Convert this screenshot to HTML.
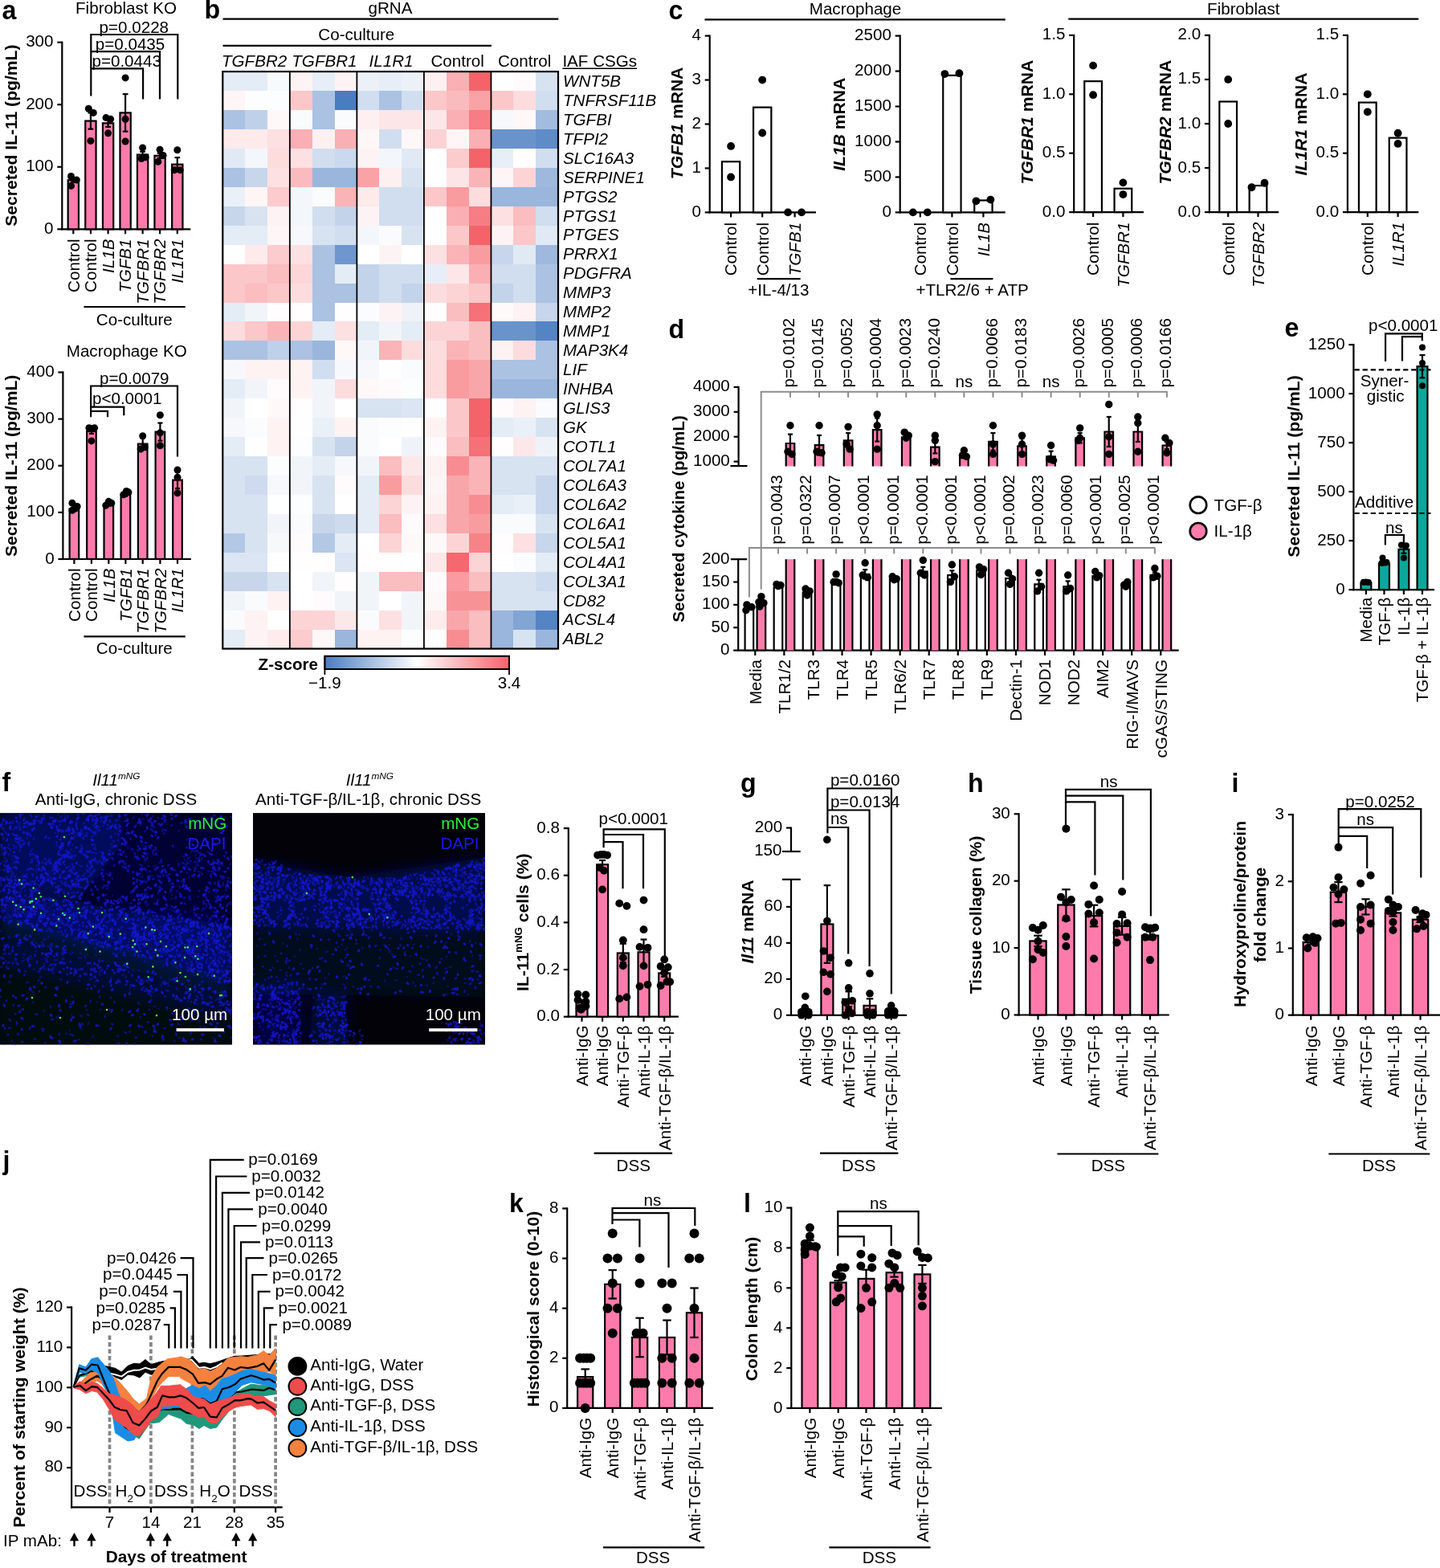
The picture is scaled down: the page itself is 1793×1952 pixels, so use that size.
<!DOCTYPE html>
<html><head><meta charset="utf-8"><style>
html,body{margin:0;padding:0;background:#fff;}
svg{display:block;}
text{font-family:"Liberation Sans", Arial, sans-serif;}
</style></head><body>
<svg width="1793" height="1952" viewBox="0 0 1793 1952" font-family='"Liberation Sans", Arial, sans-serif'>
<rect width="1793" height="1952" fill="#fff"/>
<text transform="translate(2.50,23.90) scale(0.96,1)" font-size="33.5" font-weight="bold">a</text>
<text transform="translate(157.00,16.80) scale(1.03,1)" font-size="20" text-anchor="middle">Fibroblast KO</text>
<line x1="77.30" y1="51.61" x2="77.30" y2="286.40" stroke="#000" stroke-width="2.2" />
<line x1="71.30" y1="285.30" x2="77.30" y2="285.30" stroke="#000" stroke-width="2.2" />
<text transform="translate(66.50,290.80) scale(1.03,1)" font-size="20" text-anchor="end">0</text>
<line x1="71.30" y1="207.77" x2="77.30" y2="207.77" stroke="#000" stroke-width="2.2" />
<text transform="translate(66.50,213.27) scale(1.03,1)" font-size="20" text-anchor="end">100</text>
<line x1="71.30" y1="130.24" x2="77.30" y2="130.24" stroke="#000" stroke-width="2.2" />
<text transform="translate(66.50,135.74) scale(1.03,1)" font-size="20" text-anchor="end">200</text>
<line x1="71.30" y1="52.71" x2="77.30" y2="52.71" stroke="#000" stroke-width="2.2" />
<text transform="translate(66.50,58.21) scale(1.03,1)" font-size="20" text-anchor="end">300</text>
<line x1="76.20" y1="285.30" x2="237.30" y2="285.30" stroke="#000" stroke-width="2.2" />
<rect x="84.65" y="224.28" width="13.30" height="61.02" fill="#fd7bab" stroke="#000" stroke-width="2.2" />
<circle cx="88.50" cy="219.48" r="4.5" fill="#000"/>
<circle cx="95.30" cy="224.05" r="4.5" fill="#000"/>
<circle cx="88.50" cy="231.42" r="4.5" fill="#000"/>
<line x1="91.30" y1="221.96" x2="91.30" y2="226.61" stroke="#000" stroke-width="2.2" />
<line x1="87.90" y1="221.96" x2="94.70" y2="221.96" stroke="#000" stroke-width="2.2" />
<line x1="87.90" y1="226.61" x2="94.70" y2="226.61" stroke="#000" stroke-width="2.2" />
<line x1="91.30" y1="285.30" x2="91.30" y2="291.30" stroke="#000" stroke-width="2.2" />
<rect x="106.25" y="150.55" width="13.30" height="134.75" fill="#fd7bab" stroke="#000" stroke-width="2.2" />
<circle cx="110.30" cy="135.28" r="4.5" fill="#000"/>
<circle cx="116.30" cy="140.40" r="4.5" fill="#000"/>
<circle cx="112.90" cy="175.44" r="4.5" fill="#000"/>
<line x1="112.90" y1="140.47" x2="112.90" y2="160.63" stroke="#000" stroke-width="2.2" />
<line x1="109.50" y1="140.47" x2="116.30" y2="140.47" stroke="#000" stroke-width="2.2" />
<line x1="109.50" y1="160.63" x2="116.30" y2="160.63" stroke="#000" stroke-width="2.2" />
<line x1="112.90" y1="285.30" x2="112.90" y2="291.30" stroke="#000" stroke-width="2.2" />
<rect x="127.95" y="153.34" width="13.30" height="131.96" fill="#fd7bab" stroke="#000" stroke-width="2.2" />
<circle cx="132.00" cy="146.60" r="4.5" fill="#000"/>
<circle cx="137.60" cy="148.23" r="4.5" fill="#000"/>
<circle cx="134.60" cy="165.83" r="4.5" fill="#000"/>
<line x1="134.60" y1="148.69" x2="134.60" y2="158.00" stroke="#000" stroke-width="2.2" />
<line x1="131.20" y1="148.69" x2="138.00" y2="148.69" stroke="#000" stroke-width="2.2" />
<line x1="131.20" y1="158.00" x2="138.00" y2="158.00" stroke="#000" stroke-width="2.2" />
<line x1="134.60" y1="285.30" x2="134.60" y2="291.30" stroke="#000" stroke-width="2.2" />
<rect x="149.45" y="140.40" width="13.30" height="144.90" fill="#fd7bab" stroke="#000" stroke-width="2.2" />
<circle cx="156.10" cy="96.90" r="4.5" fill="#000"/>
<circle cx="156.10" cy="148.23" r="4.5" fill="#000"/>
<circle cx="156.10" cy="175.98" r="4.5" fill="#000"/>
<line x1="156.10" y1="117.14" x2="156.10" y2="163.66" stroke="#000" stroke-width="2.2" />
<line x1="152.70" y1="117.14" x2="159.50" y2="117.14" stroke="#000" stroke-width="2.2" />
<line x1="152.70" y1="163.66" x2="159.50" y2="163.66" stroke="#000" stroke-width="2.2" />
<line x1="156.10" y1="285.30" x2="156.10" y2="291.30" stroke="#000" stroke-width="2.2" />
<rect x="170.95" y="192.57" width="13.30" height="92.73" fill="#fd7bab" stroke="#000" stroke-width="2.2" />
<circle cx="177.60" cy="183.89" r="4.5" fill="#000"/>
<circle cx="176.10" cy="197.54" r="4.5" fill="#000"/>
<circle cx="181.20" cy="195.83" r="4.5" fill="#000"/>
<line x1="177.60" y1="188.70" x2="177.60" y2="196.45" stroke="#000" stroke-width="2.2" />
<line x1="174.20" y1="188.70" x2="181.00" y2="188.70" stroke="#000" stroke-width="2.2" />
<line x1="174.20" y1="196.45" x2="181.00" y2="196.45" stroke="#000" stroke-width="2.2" />
<line x1="177.60" y1="285.30" x2="177.60" y2="291.30" stroke="#000" stroke-width="2.2" />
<rect x="192.45" y="193.81" width="13.30" height="91.49" fill="#fd7bab" stroke="#000" stroke-width="2.2" />
<circle cx="199.10" cy="186.14" r="4.5" fill="#000"/>
<circle cx="203.10" cy="193.50" r="4.5" fill="#000"/>
<circle cx="196.80" cy="201.41" r="4.5" fill="#000"/>
<line x1="199.10" y1="190.71" x2="199.10" y2="196.92" stroke="#000" stroke-width="2.2" />
<line x1="195.70" y1="190.71" x2="202.50" y2="190.71" stroke="#000" stroke-width="2.2" />
<line x1="195.70" y1="196.92" x2="202.50" y2="196.92" stroke="#000" stroke-width="2.2" />
<line x1="199.10" y1="285.30" x2="199.10" y2="291.30" stroke="#000" stroke-width="2.2" />
<rect x="214.15" y="204.67" width="13.30" height="80.63" fill="#fd7bab" stroke="#000" stroke-width="2.2" />
<circle cx="220.80" cy="186.76" r="4.5" fill="#000"/>
<circle cx="217.20" cy="211.65" r="4.5" fill="#000"/>
<circle cx="224.20" cy="211.65" r="4.5" fill="#000"/>
<line x1="220.80" y1="196.14" x2="220.80" y2="213.20" stroke="#000" stroke-width="2.2" />
<line x1="217.40" y1="196.14" x2="224.20" y2="196.14" stroke="#000" stroke-width="2.2" />
<line x1="217.40" y1="213.20" x2="224.20" y2="213.20" stroke="#000" stroke-width="2.2" />
<line x1="220.80" y1="285.30" x2="220.80" y2="291.30" stroke="#000" stroke-width="2.2" />
<text transform="translate(98.60,297.50) rotate(-90) scale(1.03,1)" font-size="20" text-anchor="end">Control</text>
<text transform="translate(120.20,297.50) rotate(-90) scale(1.03,1)" font-size="20" text-anchor="end">Control</text>
<text transform="translate(141.90,297.50) rotate(-90) scale(1.03,1)" font-size="20" text-anchor="end" font-style="italic">IL1B</text>
<text transform="translate(163.40,297.50) rotate(-90) scale(1.03,1)" font-size="20" text-anchor="end" font-style="italic">TGFB1</text>
<text transform="translate(184.90,297.50) rotate(-90) scale(1.03,1)" font-size="20" text-anchor="end" font-style="italic">TGFBR1</text>
<text transform="translate(206.40,297.50) rotate(-90) scale(1.03,1)" font-size="20" text-anchor="end" font-style="italic">TGFBR2</text>
<text transform="translate(228.10,297.50) rotate(-90) scale(1.03,1)" font-size="20" text-anchor="end" font-style="italic">IL1R1</text>
<polyline points="113.30,119.40 113.30,43.00 221.30,43.00 221.30,123.40" fill="none" stroke="#000" stroke-width="2.2" stroke-linejoin="miter" />
<polyline points="113.30,64.10 199.00,64.10 199.00,123.40" fill="none" stroke="#000" stroke-width="2.2" stroke-linejoin="miter" />
<polyline points="113.30,85.40 178.10,85.40 178.10,123.40" fill="none" stroke="#000" stroke-width="2.2" stroke-linejoin="miter" />
<text transform="translate(166.80,40.60) scale(1.03,1)" font-size="20" text-anchor="middle">p=0.0228</text>
<text transform="translate(162.00,61.50) scale(1.03,1)" font-size="20" text-anchor="middle">p=0.0435</text>
<text transform="translate(157.70,82.70) scale(1.03,1)" font-size="20" text-anchor="middle">p=0.0443</text>
<line x1="104.40" y1="382.00" x2="230.70" y2="382.00" stroke="#000" stroke-width="2.2" />
<text transform="translate(167.30,404.60) scale(1.03,1)" font-size="20" text-anchor="middle">Co-culture</text>
<text transform="translate(21.00,168.70) rotate(-90) scale(1.03,1)" font-size="20.5" text-anchor="middle" font-weight="bold">Secreted IL-11 (pg/mL)</text>
<text transform="translate(157.70,443.70) scale(1.03,1)" font-size="20" text-anchor="middle">Macrophage KO</text>
<line x1="78.40" y1="462.38" x2="78.40" y2="697.10" stroke="#000" stroke-width="2.2" />
<line x1="72.40" y1="696.00" x2="78.40" y2="696.00" stroke="#000" stroke-width="2.2" />
<text transform="translate(67.60,701.50) scale(1.03,1)" font-size="20" text-anchor="end">0</text>
<line x1="72.40" y1="637.87" x2="78.40" y2="637.87" stroke="#000" stroke-width="2.2" />
<text transform="translate(67.60,643.37) scale(1.03,1)" font-size="20" text-anchor="end">100</text>
<line x1="72.40" y1="579.74" x2="78.40" y2="579.74" stroke="#000" stroke-width="2.2" />
<text transform="translate(67.60,585.24) scale(1.03,1)" font-size="20" text-anchor="end">200</text>
<line x1="72.40" y1="521.61" x2="78.40" y2="521.61" stroke="#000" stroke-width="2.2" />
<text transform="translate(67.60,527.11) scale(1.03,1)" font-size="20" text-anchor="end">300</text>
<line x1="72.40" y1="463.48" x2="78.40" y2="463.48" stroke="#000" stroke-width="2.2" />
<text transform="translate(67.60,468.98) scale(1.03,1)" font-size="20" text-anchor="end">400</text>
<line x1="77.30" y1="696.00" x2="237.90" y2="696.00" stroke="#000" stroke-width="2.2" />
<rect x="86.60" y="633.51" width="11.60" height="62.49" fill="#fd7bab" stroke="#000" stroke-width="2.2" />
<circle cx="89.90" cy="626.24" r="4.5" fill="#000"/>
<circle cx="96.10" cy="630.49" r="4.5" fill="#000"/>
<circle cx="89.90" cy="635.37" r="4.5" fill="#000"/>
<circle cx="93.40" cy="633.22" r="4.5" fill="#000"/>
<line x1="92.40" y1="631.77" x2="92.40" y2="635.25" stroke="#000" stroke-width="2.2" />
<line x1="89.35" y1="631.77" x2="95.45" y2="631.77" stroke="#000" stroke-width="2.2" />
<line x1="89.35" y1="635.25" x2="95.45" y2="635.25" stroke="#000" stroke-width="2.2" />
<line x1="92.40" y1="696.00" x2="92.40" y2="702.00" stroke="#000" stroke-width="2.2" />
<rect x="108.10" y="537.01" width="11.60" height="158.99" fill="#fd7bab" stroke="#000" stroke-width="2.2" />
<circle cx="110.90" cy="532.71" r="4.5" fill="#000"/>
<circle cx="117.60" cy="532.71" r="4.5" fill="#000"/>
<circle cx="113.90" cy="533.82" r="4.5" fill="#000"/>
<circle cx="113.90" cy="548.93" r="4.5" fill="#000"/>
<line x1="113.90" y1="534.11" x2="113.90" y2="539.92" stroke="#000" stroke-width="2.2" />
<line x1="110.85" y1="534.11" x2="116.95" y2="534.11" stroke="#000" stroke-width="2.2" />
<line x1="110.85" y1="539.92" x2="116.95" y2="539.92" stroke="#000" stroke-width="2.2" />
<line x1="113.90" y1="696.00" x2="113.90" y2="702.00" stroke="#000" stroke-width="2.2" />
<rect x="129.50" y="628.57" width="11.60" height="67.43" fill="#fd7bab" stroke="#000" stroke-width="2.2" />
<circle cx="135.30" cy="624.33" r="4.5" fill="#000"/>
<circle cx="138.80" cy="626.24" r="4.5" fill="#000"/>
<circle cx="131.80" cy="629.15" r="4.5" fill="#000"/>
<line x1="135.30" y1="627.41" x2="135.30" y2="629.73" stroke="#000" stroke-width="2.2" />
<line x1="132.25" y1="627.41" x2="138.35" y2="627.41" stroke="#000" stroke-width="2.2" />
<line x1="132.25" y1="629.73" x2="138.35" y2="629.73" stroke="#000" stroke-width="2.2" />
<line x1="135.30" y1="696.00" x2="135.30" y2="702.00" stroke="#000" stroke-width="2.2" />
<rect x="150.60" y="615.78" width="11.60" height="80.22" fill="#fd7bab" stroke="#000" stroke-width="2.2" />
<circle cx="157.40" cy="611.42" r="4.5" fill="#000"/>
<circle cx="153.90" cy="615.78" r="4.5" fill="#000"/>
<circle cx="159.90" cy="612.87" r="4.5" fill="#000"/>
<line x1="156.40" y1="614.04" x2="156.40" y2="617.52" stroke="#000" stroke-width="2.2" />
<line x1="153.35" y1="614.04" x2="159.45" y2="614.04" stroke="#000" stroke-width="2.2" />
<line x1="153.35" y1="617.52" x2="159.45" y2="617.52" stroke="#000" stroke-width="2.2" />
<line x1="156.40" y1="696.00" x2="156.40" y2="702.00" stroke="#000" stroke-width="2.2" />
<rect x="171.90" y="552.59" width="11.60" height="143.41" fill="#fd7bab" stroke="#000" stroke-width="2.2" />
<circle cx="177.70" cy="542.65" r="4.5" fill="#000"/>
<circle cx="175.20" cy="559.10" r="4.5" fill="#000"/>
<circle cx="180.20" cy="556.72" r="4.5" fill="#000"/>
<line x1="177.70" y1="545.62" x2="177.70" y2="559.57" stroke="#000" stroke-width="2.2" />
<line x1="174.65" y1="545.62" x2="180.75" y2="545.62" stroke="#000" stroke-width="2.2" />
<line x1="174.65" y1="559.57" x2="180.75" y2="559.57" stroke="#000" stroke-width="2.2" />
<line x1="177.70" y1="696.00" x2="177.70" y2="702.00" stroke="#000" stroke-width="2.2" />
<rect x="193.60" y="537.60" width="11.60" height="158.40" fill="#fd7bab" stroke="#000" stroke-width="2.2" />
<circle cx="199.40" cy="516.73" r="4.5" fill="#000"/>
<circle cx="199.40" cy="538.87" r="4.5" fill="#000"/>
<circle cx="199.40" cy="554.74" r="4.5" fill="#000"/>
<line x1="199.40" y1="526.55" x2="199.40" y2="548.64" stroke="#000" stroke-width="2.2" />
<line x1="196.35" y1="526.55" x2="202.45" y2="526.55" stroke="#000" stroke-width="2.2" />
<line x1="196.35" y1="548.64" x2="202.45" y2="548.64" stroke="#000" stroke-width="2.2" />
<line x1="199.40" y1="696.00" x2="199.40" y2="702.00" stroke="#000" stroke-width="2.2" />
<rect x="215.20" y="597.59" width="11.60" height="98.41" fill="#fd7bab" stroke="#000" stroke-width="2.2" />
<circle cx="221.00" cy="584.97" r="4.5" fill="#000"/>
<circle cx="221.00" cy="594.16" r="4.5" fill="#000"/>
<circle cx="221.00" cy="613.86" r="4.5" fill="#000"/>
<line x1="221.00" y1="587.12" x2="221.00" y2="608.05" stroke="#000" stroke-width="2.2" />
<line x1="217.95" y1="587.12" x2="224.05" y2="587.12" stroke="#000" stroke-width="2.2" />
<line x1="217.95" y1="608.05" x2="224.05" y2="608.05" stroke="#000" stroke-width="2.2" />
<line x1="221.00" y1="696.00" x2="221.00" y2="702.00" stroke="#000" stroke-width="2.2" />
<text transform="translate(99.70,707.50) rotate(-90) scale(1.03,1)" font-size="20" text-anchor="end">Control</text>
<text transform="translate(121.20,707.50) rotate(-90) scale(1.03,1)" font-size="20" text-anchor="end">Control</text>
<text transform="translate(142.60,707.50) rotate(-90) scale(1.03,1)" font-size="20" text-anchor="end" font-style="italic">IL1B</text>
<text transform="translate(163.70,707.50) rotate(-90) scale(1.03,1)" font-size="20" text-anchor="end" font-style="italic">TGFB1</text>
<text transform="translate(185.00,707.50) rotate(-90) scale(1.03,1)" font-size="20" text-anchor="end" font-style="italic">TGFBR1</text>
<text transform="translate(206.70,707.50) rotate(-90) scale(1.03,1)" font-size="20" text-anchor="end" font-style="italic">TGFBR2</text>
<text transform="translate(228.30,707.50) rotate(-90) scale(1.03,1)" font-size="20" text-anchor="end" font-style="italic">IL1R1</text>
<polyline points="113.10,519.20 113.10,480.50 221.00,480.50 221.00,568.40" fill="none" stroke="#000" stroke-width="2.2" stroke-linejoin="miter" />
<polyline points="113.10,506.60 154.30,506.60 154.30,517.30" fill="none" stroke="#000" stroke-width="2.2" stroke-linejoin="miter" />
<polyline points="113.10,511.80 134.00,511.80 134.00,519.20" fill="none" stroke="#000" stroke-width="2.2" stroke-linejoin="miter" />
<text transform="translate(167.30,477.70) scale(1.03,1)" font-size="20" text-anchor="middle">p=0.0079</text>
<text transform="translate(158.20,503.00) scale(1.03,1)" font-size="20" text-anchor="middle">p&lt;0.0001</text>
<line x1="104.40" y1="792.40" x2="230.70" y2="792.40" stroke="#000" stroke-width="2.2" />
<text transform="translate(167.30,813.90) scale(1.03,1)" font-size="20" text-anchor="middle">Co-culture</text>
<text transform="translate(21.00,579.80) rotate(-90) scale(1.03,1)" font-size="20.5" text-anchor="middle" font-weight="bold">Secreted IL-11 (pg/mL)</text>
<text transform="translate(254.50,23.40) scale(0.96,1)" font-size="33.5" font-weight="bold">b</text>
<text transform="translate(486.00,17.20) scale(1.03,1)" font-size="20" text-anchor="middle">gRNA</text>
<line x1="277.50" y1="23.60" x2="695.30" y2="23.60" stroke="#000" stroke-width="2.2" />
<text transform="translate(443.80,50.00) scale(1.03,1)" font-size="20" text-anchor="middle">Co-culture</text>
<line x1="277.50" y1="56.90" x2="611.90" y2="56.90" stroke="#000" stroke-width="2.2" />
<text transform="translate(316.60,82.70) scale(1.03,1)" font-size="20" text-anchor="middle" font-style="italic">TGFBR2</text>
<text transform="translate(403.90,82.70) scale(1.03,1)" font-size="20" text-anchor="middle" font-style="italic">TGFBR1</text>
<text transform="translate(487.00,82.70) scale(1.03,1)" font-size="20" text-anchor="middle" font-style="italic">IL1R1</text>
<text transform="translate(569.70,82.70) scale(1.03,1)" font-size="20" text-anchor="middle">Control</text>
<text transform="translate(653.10,82.70) scale(1.03,1)" font-size="20" text-anchor="middle">Control</text>
<text transform="translate(700.40,82.70) scale(1.03,1)" font-size="20">IAF CSGs</text>
<line x1="700.40" y1="85.30" x2="793.00" y2="85.30" stroke="#000" stroke-width="1.6" />
<g shape-rendering="crispEdges">
<rect x="277.30" y="89.10" width="28.45" height="24.55" fill="#e4ecf6"/>
<rect x="305.15" y="89.10" width="28.45" height="24.55" fill="#e4ecf6"/>
<rect x="332.99" y="89.10" width="28.45" height="24.55" fill="#f7fafc"/>
<rect x="360.84" y="89.10" width="28.45" height="24.55" fill="#fef3f4"/>
<rect x="388.69" y="89.10" width="28.45" height="24.55" fill="#e7eef7"/>
<rect x="416.53" y="89.10" width="28.45" height="24.55" fill="#fef3f4"/>
<rect x="444.38" y="89.10" width="28.45" height="24.55" fill="#ecf1f8"/>
<rect x="472.23" y="89.10" width="28.45" height="24.55" fill="#e7eef7"/>
<rect x="500.07" y="89.10" width="28.45" height="24.55" fill="#ecf1f8"/>
<rect x="527.92" y="89.10" width="28.45" height="24.55" fill="#fef0f1"/>
<rect x="555.77" y="89.10" width="28.45" height="24.55" fill="#f9afb3"/>
<rect x="583.61" y="89.10" width="28.45" height="24.55" fill="#f4636a"/>
<rect x="611.46" y="89.10" width="28.45" height="24.55" fill="#ffffff"/>
<rect x="639.31" y="89.10" width="28.45" height="24.55" fill="#fffbfc"/>
<rect x="667.15" y="89.10" width="28.45" height="24.55" fill="#d8e3f1"/>
<rect x="277.30" y="113.05" width="28.45" height="24.55" fill="#fef5f6"/>
<rect x="305.15" y="113.05" width="28.45" height="24.55" fill="#fcfdfe"/>
<rect x="332.99" y="113.05" width="28.45" height="24.55" fill="#fcfdfe"/>
<rect x="360.84" y="113.05" width="28.45" height="24.55" fill="#fbc7c9"/>
<rect x="388.69" y="113.05" width="28.45" height="24.55" fill="#abc2e2"/>
<rect x="416.53" y="113.05" width="28.45" height="24.55" fill="#4a7cc0"/>
<rect x="444.38" y="113.05" width="28.45" height="24.55" fill="#d1deef"/>
<rect x="472.23" y="113.05" width="28.45" height="24.55" fill="#abc2e2"/>
<rect x="500.07" y="113.05" width="28.45" height="24.55" fill="#d1deef"/>
<rect x="527.92" y="113.05" width="28.45" height="24.55" fill="#fbc7c9"/>
<rect x="555.77" y="113.05" width="28.45" height="24.55" fill="#fabbbe"/>
<rect x="583.61" y="113.05" width="28.45" height="24.55" fill="#f9a3a7"/>
<rect x="611.46" y="113.05" width="28.45" height="24.55" fill="#fbc7c9"/>
<rect x="639.31" y="113.05" width="28.45" height="24.55" fill="#fddcde"/>
<rect x="667.15" y="113.05" width="28.45" height="24.55" fill="#d1deef"/>
<rect x="277.30" y="137.00" width="28.45" height="24.55" fill="#abc2e2"/>
<rect x="305.15" y="137.00" width="28.45" height="24.55" fill="#bfd1e9"/>
<rect x="332.99" y="137.00" width="28.45" height="24.55" fill="#fff8f9"/>
<rect x="360.84" y="137.00" width="28.45" height="24.55" fill="#f9fbfd"/>
<rect x="388.69" y="137.00" width="28.45" height="24.55" fill="#abc2e2"/>
<rect x="416.53" y="137.00" width="28.45" height="24.55" fill="#f9fbfd"/>
<rect x="444.38" y="137.00" width="28.45" height="24.55" fill="#fef0f1"/>
<rect x="472.23" y="137.00" width="28.45" height="24.55" fill="#fde6e8"/>
<rect x="500.07" y="137.00" width="28.45" height="24.55" fill="#fde6e8"/>
<rect x="527.92" y="137.00" width="28.45" height="24.55" fill="#fde6e8"/>
<rect x="555.77" y="137.00" width="28.45" height="24.55" fill="#f9afb3"/>
<rect x="583.61" y="137.00" width="28.45" height="24.55" fill="#f67d83"/>
<rect x="611.46" y="137.00" width="28.45" height="24.55" fill="#f6f8fc"/>
<rect x="639.31" y="137.00" width="28.45" height="24.55" fill="#fff8f9"/>
<rect x="667.15" y="137.00" width="28.45" height="24.55" fill="#a2bcdf"/>
<rect x="277.30" y="160.95" width="28.45" height="24.55" fill="#feeaeb"/>
<rect x="305.15" y="160.95" width="28.45" height="24.55" fill="#feeaeb"/>
<rect x="332.99" y="160.95" width="28.45" height="24.55" fill="#fde0e2"/>
<rect x="360.84" y="160.95" width="28.45" height="24.55" fill="#f9afb3"/>
<rect x="388.69" y="160.95" width="28.45" height="24.55" fill="#fef0f1"/>
<rect x="416.53" y="160.95" width="28.45" height="24.55" fill="#f9afb3"/>
<rect x="444.38" y="160.95" width="28.45" height="24.55" fill="#fef7f7"/>
<rect x="472.23" y="160.95" width="28.45" height="24.55" fill="#d1deef"/>
<rect x="500.07" y="160.95" width="28.45" height="24.55" fill="#fef7f7"/>
<rect x="527.92" y="160.95" width="28.45" height="24.55" fill="#fcd2d4"/>
<rect x="555.77" y="160.95" width="28.45" height="24.55" fill="#fef5f6"/>
<rect x="583.61" y="160.95" width="28.45" height="24.55" fill="#f9afb3"/>
<rect x="611.46" y="160.95" width="28.45" height="24.55" fill="#6a93cb"/>
<rect x="639.31" y="160.95" width="28.45" height="24.55" fill="#6a93cb"/>
<rect x="667.15" y="160.95" width="28.45" height="24.55" fill="#5f8bc7"/>
<rect x="277.30" y="184.90" width="28.45" height="24.55" fill="#e1e9f5"/>
<rect x="305.15" y="184.90" width="28.45" height="24.55" fill="#f3f7fb"/>
<rect x="332.99" y="184.90" width="28.45" height="24.55" fill="#fddcde"/>
<rect x="360.84" y="184.90" width="28.45" height="24.55" fill="#fde0e2"/>
<rect x="388.69" y="184.90" width="28.45" height="24.55" fill="#d1deef"/>
<rect x="416.53" y="184.90" width="28.45" height="24.55" fill="#cad9ed"/>
<rect x="444.38" y="184.90" width="28.45" height="24.55" fill="#fef3f4"/>
<rect x="472.23" y="184.90" width="28.45" height="24.55" fill="#f3f7fb"/>
<rect x="500.07" y="184.90" width="28.45" height="24.55" fill="#e1e9f5"/>
<rect x="527.92" y="184.90" width="28.45" height="24.55" fill="#ffffff"/>
<rect x="555.77" y="184.90" width="28.45" height="24.55" fill="#fbcbcd"/>
<rect x="583.61" y="184.90" width="28.45" height="24.55" fill="#f4636a"/>
<rect x="611.46" y="184.90" width="28.45" height="24.55" fill="#e7eef7"/>
<rect x="639.31" y="184.90" width="28.45" height="24.55" fill="#fffdfd"/>
<rect x="667.15" y="184.90" width="28.45" height="24.55" fill="#d1deef"/>
<rect x="277.30" y="208.85" width="28.45" height="24.55" fill="#abc2e2"/>
<rect x="305.15" y="208.85" width="28.45" height="24.55" fill="#c7d6eb"/>
<rect x="332.99" y="208.85" width="28.45" height="24.55" fill="#fde0e2"/>
<rect x="360.84" y="208.85" width="28.45" height="24.55" fill="#fabbbe"/>
<rect x="388.69" y="208.85" width="28.45" height="24.55" fill="#9ab6dc"/>
<rect x="416.53" y="208.85" width="28.45" height="24.55" fill="#9ab6dc"/>
<rect x="444.38" y="208.85" width="28.45" height="24.55" fill="#f9a3a7"/>
<rect x="472.23" y="208.85" width="28.45" height="24.55" fill="#fef0f1"/>
<rect x="500.07" y="208.85" width="28.45" height="24.55" fill="#d8e3f1"/>
<rect x="527.92" y="208.85" width="28.45" height="24.55" fill="#ffffff"/>
<rect x="555.77" y="208.85" width="28.45" height="24.55" fill="#fde4e6"/>
<rect x="583.61" y="208.85" width="28.45" height="24.55" fill="#fab4b7"/>
<rect x="611.46" y="208.85" width="28.45" height="24.55" fill="#fef5f6"/>
<rect x="639.31" y="208.85" width="28.45" height="24.55" fill="#fcd4d6"/>
<rect x="667.15" y="208.85" width="28.45" height="24.55" fill="#9eb9dd"/>
<rect x="277.30" y="232.80" width="28.45" height="24.55" fill="#eaf0f8"/>
<rect x="305.15" y="232.80" width="28.45" height="24.55" fill="#fef5f6"/>
<rect x="332.99" y="232.80" width="28.45" height="24.55" fill="#fbcbcd"/>
<rect x="360.84" y="232.80" width="28.45" height="24.55" fill="#f3f7fb"/>
<rect x="388.69" y="232.80" width="28.45" height="24.55" fill="#f9fbfd"/>
<rect x="416.53" y="232.80" width="28.45" height="24.55" fill="#fab4b7"/>
<rect x="444.38" y="232.80" width="28.45" height="24.55" fill="#feeaeb"/>
<rect x="472.23" y="232.80" width="28.45" height="24.55" fill="#d1deef"/>
<rect x="500.07" y="232.80" width="28.45" height="24.55" fill="#d1deef"/>
<rect x="527.92" y="232.80" width="28.45" height="24.55" fill="#fbc7c9"/>
<rect x="555.77" y="232.80" width="28.45" height="24.55" fill="#f89ca0"/>
<rect x="583.61" y="232.80" width="28.45" height="24.55" fill="#fddcde"/>
<rect x="611.46" y="232.80" width="28.45" height="24.55" fill="#9ab6dc"/>
<rect x="639.31" y="232.80" width="28.45" height="24.55" fill="#9ab6dc"/>
<rect x="667.15" y="232.80" width="28.45" height="24.55" fill="#9ab6dc"/>
<rect x="277.30" y="256.75" width="28.45" height="24.55" fill="#c7d6eb"/>
<rect x="305.15" y="256.75" width="28.45" height="24.55" fill="#d8e3f1"/>
<rect x="332.99" y="256.75" width="28.45" height="24.55" fill="#fef3f4"/>
<rect x="360.84" y="256.75" width="28.45" height="24.55" fill="#f3f7fb"/>
<rect x="388.69" y="256.75" width="28.45" height="24.55" fill="#d1deef"/>
<rect x="416.53" y="256.75" width="28.45" height="24.55" fill="#c3d3ea"/>
<rect x="444.38" y="256.75" width="28.45" height="24.55" fill="#fef3f4"/>
<rect x="472.23" y="256.75" width="28.45" height="24.55" fill="#d1deef"/>
<rect x="500.07" y="256.75" width="28.45" height="24.55" fill="#d1deef"/>
<rect x="527.92" y="256.75" width="28.45" height="24.55" fill="#ffffff"/>
<rect x="555.77" y="256.75" width="28.45" height="24.55" fill="#f9afb3"/>
<rect x="583.61" y="256.75" width="28.45" height="24.55" fill="#f67d83"/>
<rect x="611.46" y="256.75" width="28.45" height="24.55" fill="#fde0e2"/>
<rect x="639.31" y="256.75" width="28.45" height="24.55" fill="#fabdc0"/>
<rect x="667.15" y="256.75" width="28.45" height="24.55" fill="#d1deef"/>
<rect x="277.30" y="280.70" width="28.45" height="24.55" fill="#e4ecf6"/>
<rect x="305.15" y="280.70" width="28.45" height="24.55" fill="#e4ecf6"/>
<rect x="332.99" y="280.70" width="28.45" height="24.55" fill="#fef5f6"/>
<rect x="360.84" y="280.70" width="28.45" height="24.55" fill="#f6f8fc"/>
<rect x="388.69" y="280.70" width="28.45" height="24.55" fill="#d8e3f1"/>
<rect x="416.53" y="280.70" width="28.45" height="24.55" fill="#d1deef"/>
<rect x="444.38" y="280.70" width="28.45" height="24.55" fill="#f3f7fb"/>
<rect x="472.23" y="280.70" width="28.45" height="24.55" fill="#f9fbfd"/>
<rect x="500.07" y="280.70" width="28.45" height="24.55" fill="#d8e3f1"/>
<rect x="527.92" y="280.70" width="28.45" height="24.55" fill="#ffffff"/>
<rect x="555.77" y="280.70" width="28.45" height="24.55" fill="#fbc7c9"/>
<rect x="583.61" y="280.70" width="28.45" height="24.55" fill="#f4636a"/>
<rect x="611.46" y="280.70" width="28.45" height="24.55" fill="#fef3f4"/>
<rect x="639.31" y="280.70" width="28.45" height="24.55" fill="#fbc7c9"/>
<rect x="667.15" y="280.70" width="28.45" height="24.55" fill="#e1e9f5"/>
<rect x="277.30" y="304.65" width="28.45" height="24.55" fill="#fefefe"/>
<rect x="305.15" y="304.65" width="28.45" height="24.55" fill="#feeaeb"/>
<rect x="332.99" y="304.65" width="28.45" height="24.55" fill="#fbcbcd"/>
<rect x="360.84" y="304.65" width="28.45" height="24.55" fill="#fde0e2"/>
<rect x="388.69" y="304.65" width="28.45" height="24.55" fill="#abc2e2"/>
<rect x="416.53" y="304.65" width="28.45" height="24.55" fill="#6f97cd"/>
<rect x="444.38" y="304.65" width="28.45" height="24.55" fill="#ffffff"/>
<rect x="472.23" y="304.65" width="28.45" height="24.55" fill="#fef3f4"/>
<rect x="500.07" y="304.65" width="28.45" height="24.55" fill="#ffffff"/>
<rect x="527.92" y="304.65" width="28.45" height="24.55" fill="#fde0e2"/>
<rect x="555.77" y="304.65" width="28.45" height="24.55" fill="#fab4b7"/>
<rect x="583.61" y="304.65" width="28.45" height="24.55" fill="#f89ca0"/>
<rect x="611.46" y="304.65" width="28.45" height="24.55" fill="#c7d6eb"/>
<rect x="639.31" y="304.65" width="28.45" height="24.55" fill="#e1e9f5"/>
<rect x="667.15" y="304.65" width="28.45" height="24.55" fill="#9eb9dd"/>
<rect x="277.30" y="328.60" width="28.45" height="24.55" fill="#fbc7c9"/>
<rect x="305.15" y="328.60" width="28.45" height="24.55" fill="#fbc7c9"/>
<rect x="332.99" y="328.60" width="28.45" height="24.55" fill="#fabdc0"/>
<rect x="360.84" y="328.60" width="28.45" height="24.55" fill="#fcd6d8"/>
<rect x="388.69" y="328.60" width="28.45" height="24.55" fill="#abc2e2"/>
<rect x="416.53" y="328.60" width="28.45" height="24.55" fill="#e4ecf6"/>
<rect x="444.38" y="328.60" width="28.45" height="24.55" fill="#c3d3ea"/>
<rect x="472.23" y="328.60" width="28.45" height="24.55" fill="#d1deef"/>
<rect x="500.07" y="328.60" width="28.45" height="24.55" fill="#d1deef"/>
<rect x="527.92" y="328.60" width="28.45" height="24.55" fill="#e7eef7"/>
<rect x="555.77" y="328.60" width="28.45" height="24.55" fill="#fde6e8"/>
<rect x="583.61" y="328.60" width="28.45" height="24.55" fill="#f9afb3"/>
<rect x="611.46" y="328.60" width="28.45" height="24.55" fill="#d1deef"/>
<rect x="639.31" y="328.60" width="28.45" height="24.55" fill="#d1deef"/>
<rect x="667.15" y="328.60" width="28.45" height="24.55" fill="#abc2e2"/>
<rect x="277.30" y="352.55" width="28.45" height="24.55" fill="#fbc7c9"/>
<rect x="305.15" y="352.55" width="28.45" height="24.55" fill="#fabdc0"/>
<rect x="332.99" y="352.55" width="28.45" height="24.55" fill="#fbc7c9"/>
<rect x="360.84" y="352.55" width="28.45" height="24.55" fill="#fddcde"/>
<rect x="388.69" y="352.55" width="28.45" height="24.55" fill="#abc2e2"/>
<rect x="416.53" y="352.55" width="28.45" height="24.55" fill="#abc2e2"/>
<rect x="444.38" y="352.55" width="28.45" height="24.55" fill="#c3d3ea"/>
<rect x="472.23" y="352.55" width="28.45" height="24.55" fill="#d1deef"/>
<rect x="500.07" y="352.55" width="28.45" height="24.55" fill="#c3d3ea"/>
<rect x="527.92" y="352.55" width="28.45" height="24.55" fill="#fddcde"/>
<rect x="555.77" y="352.55" width="28.45" height="24.55" fill="#fcd4d6"/>
<rect x="583.61" y="352.55" width="28.45" height="24.55" fill="#fbc7c9"/>
<rect x="611.46" y="352.55" width="28.45" height="24.55" fill="#c3d3ea"/>
<rect x="639.31" y="352.55" width="28.45" height="24.55" fill="#d1deef"/>
<rect x="667.15" y="352.55" width="28.45" height="24.55" fill="#abc2e2"/>
<rect x="277.30" y="376.50" width="28.45" height="24.55" fill="#e4ecf6"/>
<rect x="305.15" y="376.50" width="28.45" height="24.55" fill="#f1f5fa"/>
<rect x="332.99" y="376.50" width="28.45" height="24.55" fill="#fffdfd"/>
<rect x="360.84" y="376.50" width="28.45" height="24.55" fill="#fffdfd"/>
<rect x="388.69" y="376.50" width="28.45" height="24.55" fill="#abc2e2"/>
<rect x="416.53" y="376.50" width="28.45" height="24.55" fill="#fffefe"/>
<rect x="444.38" y="376.50" width="28.45" height="24.55" fill="#fbfcfe"/>
<rect x="472.23" y="376.50" width="28.45" height="24.55" fill="#fef3f4"/>
<rect x="500.07" y="376.50" width="28.45" height="24.55" fill="#eff3f9"/>
<rect x="527.92" y="376.50" width="28.45" height="24.55" fill="#fffefe"/>
<rect x="555.77" y="376.50" width="28.45" height="24.55" fill="#fabdc0"/>
<rect x="583.61" y="376.50" width="28.45" height="24.55" fill="#f57077"/>
<rect x="611.46" y="376.50" width="28.45" height="24.55" fill="#fffafa"/>
<rect x="639.31" y="376.50" width="28.45" height="24.55" fill="#fef2f2"/>
<rect x="667.15" y="376.50" width="28.45" height="24.55" fill="#c7d6eb"/>
<rect x="277.30" y="400.45" width="28.45" height="24.55" fill="#fddcde"/>
<rect x="305.15" y="400.45" width="28.45" height="24.55" fill="#fbc7c9"/>
<rect x="332.99" y="400.45" width="28.45" height="24.55" fill="#fab4b7"/>
<rect x="360.84" y="400.45" width="28.45" height="24.55" fill="#fcd4d6"/>
<rect x="388.69" y="400.45" width="28.45" height="24.55" fill="#e4ecf6"/>
<rect x="416.53" y="400.45" width="28.45" height="24.55" fill="#fde0e2"/>
<rect x="444.38" y="400.45" width="28.45" height="24.55" fill="#e4ecf6"/>
<rect x="472.23" y="400.45" width="28.45" height="24.55" fill="#f1f5fa"/>
<rect x="500.07" y="400.45" width="28.45" height="24.55" fill="#e4ecf6"/>
<rect x="527.92" y="400.45" width="28.45" height="24.55" fill="#fcd4d6"/>
<rect x="555.77" y="400.45" width="28.45" height="24.55" fill="#fcd4d6"/>
<rect x="583.61" y="400.45" width="28.45" height="24.55" fill="#fabdc0"/>
<rect x="611.46" y="400.45" width="28.45" height="24.55" fill="#6a93cb"/>
<rect x="639.31" y="400.45" width="28.45" height="24.55" fill="#6a93cb"/>
<rect x="667.15" y="400.45" width="28.45" height="24.55" fill="#5584c4"/>
<rect x="277.30" y="424.40" width="28.45" height="24.55" fill="#abc2e2"/>
<rect x="305.15" y="424.40" width="28.45" height="24.55" fill="#abc2e2"/>
<rect x="332.99" y="424.40" width="28.45" height="24.55" fill="#bfd1e9"/>
<rect x="360.84" y="424.40" width="28.45" height="24.55" fill="#abc2e2"/>
<rect x="388.69" y="424.40" width="28.45" height="24.55" fill="#9ab6dc"/>
<rect x="416.53" y="424.40" width="28.45" height="24.55" fill="#fff8f9"/>
<rect x="444.38" y="424.40" width="28.45" height="24.55" fill="#f1f5fa"/>
<rect x="472.23" y="424.40" width="28.45" height="24.55" fill="#fab4b7"/>
<rect x="500.07" y="424.40" width="28.45" height="24.55" fill="#fddcde"/>
<rect x="527.92" y="424.40" width="28.45" height="24.55" fill="#fddcde"/>
<rect x="555.77" y="424.40" width="28.45" height="24.55" fill="#fab4b7"/>
<rect x="583.61" y="424.40" width="28.45" height="24.55" fill="#fabdc0"/>
<rect x="611.46" y="424.40" width="28.45" height="24.55" fill="#fef2f2"/>
<rect x="639.31" y="424.40" width="28.45" height="24.55" fill="#fddcde"/>
<rect x="667.15" y="424.40" width="28.45" height="24.55" fill="#abc2e2"/>
<rect x="277.30" y="448.35" width="28.45" height="24.55" fill="#f6f8fc"/>
<rect x="305.15" y="448.35" width="28.45" height="24.55" fill="#fef2f2"/>
<rect x="332.99" y="448.35" width="28.45" height="24.55" fill="#fef2f2"/>
<rect x="360.84" y="448.35" width="28.45" height="24.55" fill="#fef2f2"/>
<rect x="388.69" y="448.35" width="28.45" height="24.55" fill="#d1deef"/>
<rect x="416.53" y="448.35" width="28.45" height="24.55" fill="#f6f8fc"/>
<rect x="444.38" y="448.35" width="28.45" height="24.55" fill="#f6f8fc"/>
<rect x="472.23" y="448.35" width="28.45" height="24.55" fill="#fffefe"/>
<rect x="500.07" y="448.35" width="28.45" height="24.55" fill="#f9fbfd"/>
<rect x="527.92" y="448.35" width="28.45" height="24.55" fill="#fddcde"/>
<rect x="555.77" y="448.35" width="28.45" height="24.55" fill="#f89ca0"/>
<rect x="583.61" y="448.35" width="28.45" height="24.55" fill="#f9a6aa"/>
<rect x="611.46" y="448.35" width="28.45" height="24.55" fill="#abc2e2"/>
<rect x="639.31" y="448.35" width="28.45" height="24.55" fill="#abc2e2"/>
<rect x="667.15" y="448.35" width="28.45" height="24.55" fill="#abc2e2"/>
<rect x="277.30" y="472.30" width="28.45" height="24.55" fill="#e4ecf6"/>
<rect x="305.15" y="472.30" width="28.45" height="24.55" fill="#f1f5fa"/>
<rect x="332.99" y="472.30" width="28.45" height="24.55" fill="#fffbfc"/>
<rect x="360.84" y="472.30" width="28.45" height="24.55" fill="#fef2f2"/>
<rect x="388.69" y="472.30" width="28.45" height="24.55" fill="#f1f5fa"/>
<rect x="416.53" y="472.30" width="28.45" height="24.55" fill="#fddcde"/>
<rect x="444.38" y="472.30" width="28.45" height="24.55" fill="#fff8f9"/>
<rect x="472.23" y="472.30" width="28.45" height="24.55" fill="#fffbfc"/>
<rect x="500.07" y="472.30" width="28.45" height="24.55" fill="#fcfdfe"/>
<rect x="527.92" y="472.30" width="28.45" height="24.55" fill="#fddcde"/>
<rect x="555.77" y="472.30" width="28.45" height="24.55" fill="#f89ca0"/>
<rect x="583.61" y="472.30" width="28.45" height="24.55" fill="#f9a6aa"/>
<rect x="611.46" y="472.30" width="28.45" height="24.55" fill="#9ab6dc"/>
<rect x="639.31" y="472.30" width="28.45" height="24.55" fill="#9ab6dc"/>
<rect x="667.15" y="472.30" width="28.45" height="24.55" fill="#9ab6dc"/>
<rect x="277.30" y="496.25" width="28.45" height="24.55" fill="#f1f5fa"/>
<rect x="305.15" y="496.25" width="28.45" height="24.55" fill="#feffff"/>
<rect x="332.99" y="496.25" width="28.45" height="24.55" fill="#fff8f9"/>
<rect x="360.84" y="496.25" width="28.45" height="24.55" fill="#fffefe"/>
<rect x="388.69" y="496.25" width="28.45" height="24.55" fill="#f1f5fa"/>
<rect x="416.53" y="496.25" width="28.45" height="24.55" fill="#ffffff"/>
<rect x="444.38" y="496.25" width="28.45" height="24.55" fill="#d8e3f1"/>
<rect x="472.23" y="496.25" width="28.45" height="24.55" fill="#d8e3f1"/>
<rect x="500.07" y="496.25" width="28.45" height="24.55" fill="#dbe5f3"/>
<rect x="527.92" y="496.25" width="28.45" height="24.55" fill="#ffffff"/>
<rect x="555.77" y="496.25" width="28.45" height="24.55" fill="#fbc7c9"/>
<rect x="583.61" y="496.25" width="28.45" height="24.55" fill="#f4636a"/>
<rect x="611.46" y="496.25" width="28.45" height="24.55" fill="#fffbfc"/>
<rect x="639.31" y="496.25" width="28.45" height="24.55" fill="#fef2f2"/>
<rect x="667.15" y="496.25" width="28.45" height="24.55" fill="#f9fbfd"/>
<rect x="277.30" y="520.20" width="28.45" height="24.55" fill="#f6f8fc"/>
<rect x="305.15" y="520.20" width="28.45" height="24.55" fill="#fbfcfe"/>
<rect x="332.99" y="520.20" width="28.45" height="24.55" fill="#fef2f2"/>
<rect x="360.84" y="520.20" width="28.45" height="24.55" fill="#fffefe"/>
<rect x="388.69" y="520.20" width="28.45" height="24.55" fill="#eaf0f8"/>
<rect x="416.53" y="520.20" width="28.45" height="24.55" fill="#fef2f2"/>
<rect x="444.38" y="520.20" width="28.45" height="24.55" fill="#f9fbfd"/>
<rect x="472.23" y="520.20" width="28.45" height="24.55" fill="#fcfdfe"/>
<rect x="500.07" y="520.20" width="28.45" height="24.55" fill="#ffffff"/>
<rect x="527.92" y="520.20" width="28.45" height="24.55" fill="#fef2f2"/>
<rect x="555.77" y="520.20" width="28.45" height="24.55" fill="#fbc7c9"/>
<rect x="583.61" y="520.20" width="28.45" height="24.55" fill="#f4636a"/>
<rect x="611.46" y="520.20" width="28.45" height="24.55" fill="#e4ecf6"/>
<rect x="639.31" y="520.20" width="28.45" height="24.55" fill="#eaf0f8"/>
<rect x="667.15" y="520.20" width="28.45" height="24.55" fill="#d8e3f1"/>
<rect x="277.30" y="544.15" width="28.45" height="24.55" fill="#e4ecf6"/>
<rect x="305.15" y="544.15" width="28.45" height="24.55" fill="#fffefe"/>
<rect x="332.99" y="544.15" width="28.45" height="24.55" fill="#fef2f2"/>
<rect x="360.84" y="544.15" width="28.45" height="24.55" fill="#fcfdfe"/>
<rect x="388.69" y="544.15" width="28.45" height="24.55" fill="#d8e3f1"/>
<rect x="416.53" y="544.15" width="28.45" height="24.55" fill="#c3d3ea"/>
<rect x="444.38" y="544.15" width="28.45" height="24.55" fill="#f9fbfd"/>
<rect x="472.23" y="544.15" width="28.45" height="24.55" fill="#ffffff"/>
<rect x="500.07" y="544.15" width="28.45" height="24.55" fill="#eff3f9"/>
<rect x="527.92" y="544.15" width="28.45" height="24.55" fill="#fffbfc"/>
<rect x="555.77" y="544.15" width="28.45" height="24.55" fill="#fabdc0"/>
<rect x="583.61" y="544.15" width="28.45" height="24.55" fill="#f57077"/>
<rect x="611.46" y="544.15" width="28.45" height="24.55" fill="#fffdfd"/>
<rect x="639.31" y="544.15" width="28.45" height="24.55" fill="#fde8e9"/>
<rect x="667.15" y="544.15" width="28.45" height="24.55" fill="#eff3f9"/>
<rect x="277.30" y="568.10" width="28.45" height="24.55" fill="#d8e3f1"/>
<rect x="305.15" y="568.10" width="28.45" height="24.55" fill="#d8e3f1"/>
<rect x="332.99" y="568.10" width="28.45" height="24.55" fill="#fcfdfe"/>
<rect x="360.84" y="568.10" width="28.45" height="24.55" fill="#f1f5fa"/>
<rect x="388.69" y="568.10" width="28.45" height="24.55" fill="#e4ecf6"/>
<rect x="416.53" y="568.10" width="28.45" height="24.55" fill="#f6f8fc"/>
<rect x="444.38" y="568.10" width="28.45" height="24.55" fill="#f1f5fa"/>
<rect x="472.23" y="568.10" width="28.45" height="24.55" fill="#fabdc0"/>
<rect x="500.07" y="568.10" width="28.45" height="24.55" fill="#fde8e9"/>
<rect x="527.92" y="568.10" width="28.45" height="24.55" fill="#fef2f2"/>
<rect x="555.77" y="568.10" width="28.45" height="24.55" fill="#f78d92"/>
<rect x="583.61" y="568.10" width="28.45" height="24.55" fill="#fab4b7"/>
<rect x="611.46" y="568.10" width="28.45" height="24.55" fill="#d8e3f1"/>
<rect x="639.31" y="568.10" width="28.45" height="24.55" fill="#d8e3f1"/>
<rect x="667.15" y="568.10" width="28.45" height="24.55" fill="#d8e3f1"/>
<rect x="277.30" y="592.05" width="28.45" height="24.55" fill="#d8e3f1"/>
<rect x="305.15" y="592.05" width="28.45" height="24.55" fill="#cedbee"/>
<rect x="332.99" y="592.05" width="28.45" height="24.55" fill="#f6f8fc"/>
<rect x="360.84" y="592.05" width="28.45" height="24.55" fill="#f1f5fa"/>
<rect x="388.69" y="592.05" width="28.45" height="24.55" fill="#d8e3f1"/>
<rect x="416.53" y="592.05" width="28.45" height="24.55" fill="#fffbfc"/>
<rect x="444.38" y="592.05" width="28.45" height="24.55" fill="#e4ecf6"/>
<rect x="472.23" y="592.05" width="28.45" height="24.55" fill="#f89ca0"/>
<rect x="500.07" y="592.05" width="28.45" height="24.55" fill="#fddcde"/>
<rect x="527.92" y="592.05" width="28.45" height="24.55" fill="#fef5f6"/>
<rect x="555.77" y="592.05" width="28.45" height="24.55" fill="#f9a6aa"/>
<rect x="583.61" y="592.05" width="28.45" height="24.55" fill="#fab4b7"/>
<rect x="611.46" y="592.05" width="28.45" height="24.55" fill="#d8e3f1"/>
<rect x="639.31" y="592.05" width="28.45" height="24.55" fill="#d8e3f1"/>
<rect x="667.15" y="592.05" width="28.45" height="24.55" fill="#c7d6eb"/>
<rect x="277.30" y="616.00" width="28.45" height="24.55" fill="#d8e3f1"/>
<rect x="305.15" y="616.00" width="28.45" height="24.55" fill="#d8e3f1"/>
<rect x="332.99" y="616.00" width="28.45" height="24.55" fill="#feffff"/>
<rect x="360.84" y="616.00" width="28.45" height="24.55" fill="#fcfdfe"/>
<rect x="388.69" y="616.00" width="28.45" height="24.55" fill="#d8e3f1"/>
<rect x="416.53" y="616.00" width="28.45" height="24.55" fill="#ffffff"/>
<rect x="444.38" y="616.00" width="28.45" height="24.55" fill="#e4ecf6"/>
<rect x="472.23" y="616.00" width="28.45" height="24.55" fill="#fcd4d6"/>
<rect x="500.07" y="616.00" width="28.45" height="24.55" fill="#fef3f4"/>
<rect x="527.92" y="616.00" width="28.45" height="24.55" fill="#fef2f2"/>
<rect x="555.77" y="616.00" width="28.45" height="24.55" fill="#f9a6aa"/>
<rect x="583.61" y="616.00" width="28.45" height="24.55" fill="#f78d92"/>
<rect x="611.46" y="616.00" width="28.45" height="24.55" fill="#e4ecf6"/>
<rect x="639.31" y="616.00" width="28.45" height="24.55" fill="#eaf0f8"/>
<rect x="667.15" y="616.00" width="28.45" height="24.55" fill="#c7d6eb"/>
<rect x="277.30" y="639.95" width="28.45" height="24.55" fill="#d8e3f1"/>
<rect x="305.15" y="639.95" width="28.45" height="24.55" fill="#d8e3f1"/>
<rect x="332.99" y="639.95" width="28.45" height="24.55" fill="#f1f5fa"/>
<rect x="360.84" y="639.95" width="28.45" height="24.55" fill="#f9fbfd"/>
<rect x="388.69" y="639.95" width="28.45" height="24.55" fill="#c7d6eb"/>
<rect x="416.53" y="639.95" width="28.45" height="24.55" fill="#cedbee"/>
<rect x="444.38" y="639.95" width="28.45" height="24.55" fill="#e4ecf6"/>
<rect x="472.23" y="639.95" width="28.45" height="24.55" fill="#fabdc0"/>
<rect x="500.07" y="639.95" width="28.45" height="24.55" fill="#fffbfc"/>
<rect x="527.92" y="639.95" width="28.45" height="24.55" fill="#fde0e2"/>
<rect x="555.77" y="639.95" width="28.45" height="24.55" fill="#f9a6aa"/>
<rect x="583.61" y="639.95" width="28.45" height="24.55" fill="#f89ca0"/>
<rect x="611.46" y="639.95" width="28.45" height="24.55" fill="#f9fbfd"/>
<rect x="639.31" y="639.95" width="28.45" height="24.55" fill="#f9fbfd"/>
<rect x="667.15" y="639.95" width="28.45" height="24.55" fill="#d8e3f1"/>
<rect x="277.30" y="663.90" width="28.45" height="24.55" fill="#b3c8e5"/>
<rect x="305.15" y="663.90" width="28.45" height="24.55" fill="#d8e3f1"/>
<rect x="332.99" y="663.90" width="28.45" height="24.55" fill="#f6f8fc"/>
<rect x="360.84" y="663.90" width="28.45" height="24.55" fill="#fffbfc"/>
<rect x="388.69" y="663.90" width="28.45" height="24.55" fill="#b3c8e5"/>
<rect x="416.53" y="663.90" width="28.45" height="24.55" fill="#e4ecf6"/>
<rect x="444.38" y="663.90" width="28.45" height="24.55" fill="#ffffff"/>
<rect x="472.23" y="663.90" width="28.45" height="24.55" fill="#fcd4d6"/>
<rect x="500.07" y="663.90" width="28.45" height="24.55" fill="#fff8f9"/>
<rect x="527.92" y="663.90" width="28.45" height="24.55" fill="#fff8f9"/>
<rect x="555.77" y="663.90" width="28.45" height="24.55" fill="#fcd4d6"/>
<rect x="583.61" y="663.90" width="28.45" height="24.55" fill="#f68388"/>
<rect x="611.46" y="663.90" width="28.45" height="24.55" fill="#fffdfd"/>
<rect x="639.31" y="663.90" width="28.45" height="24.55" fill="#fde0e2"/>
<rect x="667.15" y="663.90" width="28.45" height="24.55" fill="#c7d6eb"/>
<rect x="277.30" y="687.85" width="28.45" height="24.55" fill="#dbe5f3"/>
<rect x="305.15" y="687.85" width="28.45" height="24.55" fill="#dbe5f3"/>
<rect x="332.99" y="687.85" width="28.45" height="24.55" fill="#ffffff"/>
<rect x="360.84" y="687.85" width="28.45" height="24.55" fill="#fffdfd"/>
<rect x="388.69" y="687.85" width="28.45" height="24.55" fill="#fffdfd"/>
<rect x="416.53" y="687.85" width="28.45" height="24.55" fill="#dbe5f3"/>
<rect x="444.38" y="687.85" width="28.45" height="24.55" fill="#fffdfd"/>
<rect x="472.23" y="687.85" width="28.45" height="24.55" fill="#fffdfd"/>
<rect x="500.07" y="687.85" width="28.45" height="24.55" fill="#ffffff"/>
<rect x="527.92" y="687.85" width="28.45" height="24.55" fill="#fde8e9"/>
<rect x="555.77" y="687.85" width="28.45" height="24.55" fill="#f4686f"/>
<rect x="583.61" y="687.85" width="28.45" height="24.55" fill="#fcd4d6"/>
<rect x="611.46" y="687.85" width="28.45" height="24.55" fill="#ffffff"/>
<rect x="639.31" y="687.85" width="28.45" height="24.55" fill="#fbfcfe"/>
<rect x="667.15" y="687.85" width="28.45" height="24.55" fill="#e4ecf6"/>
<rect x="277.30" y="711.80" width="28.45" height="24.55" fill="#c7d6eb"/>
<rect x="305.15" y="711.80" width="28.45" height="24.55" fill="#c7d6eb"/>
<rect x="332.99" y="711.80" width="28.45" height="24.55" fill="#d8e3f1"/>
<rect x="360.84" y="711.80" width="28.45" height="24.55" fill="#ffffff"/>
<rect x="388.69" y="711.80" width="28.45" height="24.55" fill="#f1f5fa"/>
<rect x="416.53" y="711.80" width="28.45" height="24.55" fill="#fffdfd"/>
<rect x="444.38" y="711.80" width="28.45" height="24.55" fill="#f1f5fa"/>
<rect x="472.23" y="711.80" width="28.45" height="24.55" fill="#fabdc0"/>
<rect x="500.07" y="711.80" width="28.45" height="24.55" fill="#fabdc0"/>
<rect x="527.92" y="711.80" width="28.45" height="24.55" fill="#fffbfc"/>
<rect x="555.77" y="711.80" width="28.45" height="24.55" fill="#f89ca0"/>
<rect x="583.61" y="711.80" width="28.45" height="24.55" fill="#fabdc0"/>
<rect x="611.46" y="711.80" width="28.45" height="24.55" fill="#d8e3f1"/>
<rect x="639.31" y="711.80" width="28.45" height="24.55" fill="#d8e3f1"/>
<rect x="667.15" y="711.80" width="28.45" height="24.55" fill="#cedbee"/>
<rect x="277.30" y="735.75" width="28.45" height="24.55" fill="#f1f5fa"/>
<rect x="305.15" y="735.75" width="28.45" height="24.55" fill="#f9fbfd"/>
<rect x="332.99" y="735.75" width="28.45" height="24.55" fill="#fef2f2"/>
<rect x="360.84" y="735.75" width="28.45" height="24.55" fill="#ffffff"/>
<rect x="388.69" y="735.75" width="28.45" height="24.55" fill="#fffbfc"/>
<rect x="416.53" y="735.75" width="28.45" height="24.55" fill="#f1f5fa"/>
<rect x="444.38" y="735.75" width="28.45" height="24.55" fill="#f1f5fa"/>
<rect x="472.23" y="735.75" width="28.45" height="24.55" fill="#ffffff"/>
<rect x="500.07" y="735.75" width="28.45" height="24.55" fill="#f1f5fa"/>
<rect x="527.92" y="735.75" width="28.45" height="24.55" fill="#fff8f9"/>
<rect x="555.77" y="735.75" width="28.45" height="24.55" fill="#f79297"/>
<rect x="583.61" y="735.75" width="28.45" height="24.55" fill="#f79297"/>
<rect x="611.46" y="735.75" width="28.45" height="24.55" fill="#d8e3f1"/>
<rect x="639.31" y="735.75" width="28.45" height="24.55" fill="#d8e3f1"/>
<rect x="667.15" y="735.75" width="28.45" height="24.55" fill="#d8e3f1"/>
<rect x="277.30" y="759.70" width="28.45" height="24.55" fill="#f9fbfd"/>
<rect x="305.15" y="759.70" width="28.45" height="24.55" fill="#fef2f2"/>
<rect x="332.99" y="759.70" width="28.45" height="24.55" fill="#ffffff"/>
<rect x="360.84" y="759.70" width="28.45" height="24.55" fill="#fcd4d6"/>
<rect x="388.69" y="759.70" width="28.45" height="24.55" fill="#fcd4d6"/>
<rect x="416.53" y="759.70" width="28.45" height="24.55" fill="#fde8e9"/>
<rect x="444.38" y="759.70" width="28.45" height="24.55" fill="#f9fbfd"/>
<rect x="472.23" y="759.70" width="28.45" height="24.55" fill="#fde0e2"/>
<rect x="500.07" y="759.70" width="28.45" height="24.55" fill="#f1f5fa"/>
<rect x="527.92" y="759.70" width="28.45" height="24.55" fill="#feeced"/>
<rect x="555.77" y="759.70" width="28.45" height="24.55" fill="#f9a6aa"/>
<rect x="583.61" y="759.70" width="28.45" height="24.55" fill="#fabdc0"/>
<rect x="611.46" y="759.70" width="28.45" height="24.55" fill="#9ab6dc"/>
<rect x="639.31" y="759.70" width="28.45" height="24.55" fill="#82a5d4"/>
<rect x="667.15" y="759.70" width="28.45" height="24.55" fill="#5584c4"/>
<rect x="277.30" y="783.65" width="28.45" height="24.55" fill="#e4ecf6"/>
<rect x="305.15" y="783.65" width="28.45" height="24.55" fill="#fef3f4"/>
<rect x="332.99" y="783.65" width="28.45" height="24.55" fill="#feeced"/>
<rect x="360.84" y="783.65" width="28.45" height="24.55" fill="#fbcbcd"/>
<rect x="388.69" y="783.65" width="28.45" height="24.55" fill="#fff8f9"/>
<rect x="416.53" y="783.65" width="28.45" height="24.55" fill="#9ab6dc"/>
<rect x="444.38" y="783.65" width="28.45" height="24.55" fill="#fef2f2"/>
<rect x="472.23" y="783.65" width="28.45" height="24.55" fill="#fef2f2"/>
<rect x="500.07" y="783.65" width="28.45" height="24.55" fill="#fcfdfe"/>
<rect x="527.92" y="783.65" width="28.45" height="24.55" fill="#ffffff"/>
<rect x="555.77" y="783.65" width="28.45" height="24.55" fill="#f78d92"/>
<rect x="583.61" y="783.65" width="28.45" height="24.55" fill="#fabdc0"/>
<rect x="611.46" y="783.65" width="28.45" height="24.55" fill="#9ab6dc"/>
<rect x="639.31" y="783.65" width="28.45" height="24.55" fill="#d8e3f1"/>
<rect x="667.15" y="783.65" width="28.45" height="24.55" fill="#9ab6dc"/>
</g>
<line x1="360.84" y1="89.10" x2="360.84" y2="807.60" stroke="#000" stroke-width="1.8" />
<line x1="444.38" y1="89.10" x2="444.38" y2="807.60" stroke="#000" stroke-width="1.8" />
<line x1="527.92" y1="89.10" x2="527.92" y2="807.60" stroke="#000" stroke-width="1.8" />
<line x1="611.46" y1="89.10" x2="611.46" y2="807.60" stroke="#000" stroke-width="1.8" />
<rect x="277.30" y="89.10" width="417.70" height="718.50" fill="none" stroke="#000" stroke-width="2.2" />
<text transform="translate(701.00,107.87) scale(1.03,1)" font-size="20" font-style="italic">WNT5B</text>
<text transform="translate(701.00,131.82) scale(1.03,1)" font-size="20" font-style="italic">TNFRSF11B</text>
<text transform="translate(701.00,155.78) scale(1.03,1)" font-size="20" font-style="italic">TGFBI</text>
<text transform="translate(701.00,179.73) scale(1.03,1)" font-size="20" font-style="italic">TFPI2</text>
<text transform="translate(701.00,203.68) scale(1.03,1)" font-size="20" font-style="italic">SLC16A3</text>
<text transform="translate(701.00,227.62) scale(1.03,1)" font-size="20" font-style="italic">SERPINE1</text>
<text transform="translate(701.00,251.57) scale(1.03,1)" font-size="20" font-style="italic">PTGS2</text>
<text transform="translate(701.00,275.53) scale(1.03,1)" font-size="20" font-style="italic">PTGS1</text>
<text transform="translate(701.00,299.47) scale(1.03,1)" font-size="20" font-style="italic">PTGES</text>
<text transform="translate(701.00,323.43) scale(1.03,1)" font-size="20" font-style="italic">PRRX1</text>
<text transform="translate(701.00,347.38) scale(1.03,1)" font-size="20" font-style="italic">PDGFRA</text>
<text transform="translate(701.00,371.32) scale(1.03,1)" font-size="20" font-style="italic">MMP3</text>
<text transform="translate(701.00,395.28) scale(1.03,1)" font-size="20" font-style="italic">MMP2</text>
<text transform="translate(701.00,419.22) scale(1.03,1)" font-size="20" font-style="italic">MMP1</text>
<text transform="translate(701.00,443.18) scale(1.03,1)" font-size="20" font-style="italic">MAP3K4</text>
<text transform="translate(701.00,467.12) scale(1.03,1)" font-size="20" font-style="italic">LIF</text>
<text transform="translate(701.00,491.07) scale(1.03,1)" font-size="20" font-style="italic">INHBA</text>
<text transform="translate(701.00,515.02) scale(1.03,1)" font-size="20" font-style="italic">GLIS3</text>
<text transform="translate(701.00,538.97) scale(1.03,1)" font-size="20" font-style="italic">GK</text>
<text transform="translate(701.00,562.92) scale(1.03,1)" font-size="20" font-style="italic">COTL1</text>
<text transform="translate(701.00,586.87) scale(1.03,1)" font-size="20" font-style="italic">COL7A1</text>
<text transform="translate(701.00,610.82) scale(1.03,1)" font-size="20" font-style="italic">COL6A3</text>
<text transform="translate(701.00,634.77) scale(1.03,1)" font-size="20" font-style="italic">COL6A2</text>
<text transform="translate(701.00,658.72) scale(1.03,1)" font-size="20" font-style="italic">COL6A1</text>
<text transform="translate(701.00,682.67) scale(1.03,1)" font-size="20" font-style="italic">COL5A1</text>
<text transform="translate(701.00,706.62) scale(1.03,1)" font-size="20" font-style="italic">COL4A1</text>
<text transform="translate(701.00,730.57) scale(1.03,1)" font-size="20" font-style="italic">COL3A1</text>
<text transform="translate(701.00,754.52) scale(1.03,1)" font-size="20" font-style="italic">CD82</text>
<text transform="translate(701.00,778.47) scale(1.03,1)" font-size="20" font-style="italic">ACSL4</text>
<text transform="translate(701.00,802.42) scale(1.03,1)" font-size="20" font-style="italic">ABL2</text>
<defs><linearGradient id="zg" x1="0" x2="1" y1="0" y2="0"><stop offset="0" stop-color="rgb(74, 124, 192)"/><stop offset="0.5" stop-color="#ffffff"/><stop offset="1" stop-color="rgb(244, 99, 106)"/></linearGradient></defs>
<rect x="404.40" y="816.80" width="229.60" height="16.20" fill="url(#zg)" stroke="#000" stroke-width="2" />
<line x1="404.40" y1="816.00" x2="404.40" y2="840.00" stroke="#000" stroke-width="1.8" />
<line x1="634.00" y1="816.00" x2="634.00" y2="840.00" stroke="#000" stroke-width="1.8" />
<text transform="translate(396.00,833.50) scale(1.03,1)" font-size="20" text-anchor="end" font-weight="bold">Z-score</text>
<text transform="translate(404.40,857.00) scale(1.03,1)" font-size="20" text-anchor="middle">−1.9</text>
<text transform="translate(634.00,857.00) scale(1.03,1)" font-size="20" text-anchor="middle">3.4</text>
<text transform="translate(832.50,23.70) scale(0.96,1)" font-size="33.5" font-weight="bold">c</text>
<text transform="translate(1065.00,18.00) scale(1.03,1)" font-size="20" text-anchor="middle">Macrophage</text>
<line x1="877.50" y1="24.30" x2="1251.80" y2="24.30" stroke="#000" stroke-width="2.2" />
<text transform="translate(1548.30,18.00) scale(1.03,1)" font-size="20" text-anchor="middle">Fibroblast</text>
<line x1="1330.30" y1="23.60" x2="1766.30" y2="23.60" stroke="#000" stroke-width="2.2" />
<line x1="883.70" y1="43.50" x2="883.70" y2="265.50" stroke="#000" stroke-width="2.2" />
<line x1="877.70" y1="264.40" x2="883.70" y2="264.40" stroke="#000" stroke-width="2.2" />
<text transform="translate(872.90,269.90) scale(1.03,1)" font-size="20" text-anchor="end">0</text>
<line x1="877.70" y1="209.45" x2="883.70" y2="209.45" stroke="#000" stroke-width="2.2" />
<text transform="translate(872.90,214.95) scale(1.03,1)" font-size="20" text-anchor="end">1</text>
<line x1="877.70" y1="154.50" x2="883.70" y2="154.50" stroke="#000" stroke-width="2.2" />
<text transform="translate(872.90,160.00) scale(1.03,1)" font-size="20" text-anchor="end">2</text>
<line x1="877.70" y1="99.55" x2="883.70" y2="99.55" stroke="#000" stroke-width="2.2" />
<text transform="translate(872.90,105.05) scale(1.03,1)" font-size="20" text-anchor="end">3</text>
<line x1="877.70" y1="44.60" x2="883.70" y2="44.60" stroke="#000" stroke-width="2.2" />
<text transform="translate(872.90,50.10) scale(1.03,1)" font-size="20" text-anchor="end">4</text>
<line x1="882.60" y1="264.40" x2="1016.00" y2="264.40" stroke="#000" stroke-width="2.2" />
<rect x="898.95" y="201.21" width="22.30" height="63.19" fill="#fff" stroke="#000" stroke-width="2.2" />
<circle cx="910.10" cy="181.97" r="4.9" fill="#000"/>
<circle cx="910.10" cy="220.44" r="4.9" fill="#000"/>
<line x1="910.10" y1="264.40" x2="910.10" y2="270.40" stroke="#000" stroke-width="2.2" />
<rect x="938.05" y="133.62" width="22.30" height="130.78" fill="#fff" stroke="#000" stroke-width="2.2" />
<circle cx="949.20" cy="99.55" r="4.9" fill="#000"/>
<circle cx="949.20" cy="165.49" r="4.9" fill="#000"/>
<line x1="949.20" y1="264.40" x2="949.20" y2="270.40" stroke="#000" stroke-width="2.2" />
<rect x="978.45" y="264.40" width="22.30" height="0.00" fill="#fff" stroke="#000" stroke-width="2.2" />
<circle cx="981.10" cy="264.40" r="4.9" fill="#000"/>
<circle cx="998.10" cy="264.40" r="4.9" fill="#000"/>
<line x1="989.60" y1="264.40" x2="989.60" y2="270.40" stroke="#000" stroke-width="2.2" />
<text transform="translate(917.40,276.90) rotate(-90) scale(1.03,1)" font-size="20" text-anchor="end">Control</text>
<text transform="translate(956.50,276.90) rotate(-90) scale(1.03,1)" font-size="20" text-anchor="end">Control</text>
<text transform="translate(996.90,276.90) rotate(-90) scale(1.03,1)" font-size="20" text-anchor="end" font-style="italic">TGFB1</text>
<text transform="translate(850.20,153.40) rotate(-90) scale(1.03,1)" font-size="20.5" text-anchor="middle" font-weight="bold"><tspan font-style="italic">TGFB1</tspan> mRNA</text>
<line x1="942.80" y1="347.20" x2="996.60" y2="347.20" stroke="#000" stroke-width="2.2" />
<text transform="translate(969.40,368.10) scale(1.03,1)" font-size="20" text-anchor="middle">+IL-4/13</text>
<line x1="1120.70" y1="43.50" x2="1120.70" y2="265.50" stroke="#000" stroke-width="2.2" />
<line x1="1114.70" y1="264.40" x2="1120.70" y2="264.40" stroke="#000" stroke-width="2.2" />
<text transform="translate(1109.90,269.90) scale(1.03,1)" font-size="20" text-anchor="end">0</text>
<line x1="1114.70" y1="220.44" x2="1120.70" y2="220.44" stroke="#000" stroke-width="2.2" />
<text transform="translate(1109.90,225.94) scale(1.03,1)" font-size="20" text-anchor="end">500</text>
<line x1="1114.70" y1="176.48" x2="1120.70" y2="176.48" stroke="#000" stroke-width="2.2" />
<text transform="translate(1109.90,181.98) scale(1.03,1)" font-size="20" text-anchor="end">1000</text>
<line x1="1114.70" y1="132.52" x2="1120.70" y2="132.52" stroke="#000" stroke-width="2.2" />
<text transform="translate(1109.90,138.02) scale(1.03,1)" font-size="20" text-anchor="end">1500</text>
<line x1="1114.70" y1="88.56" x2="1120.70" y2="88.56" stroke="#000" stroke-width="2.2" />
<text transform="translate(1109.90,94.06) scale(1.03,1)" font-size="20" text-anchor="end">2000</text>
<line x1="1114.70" y1="44.60" x2="1120.70" y2="44.60" stroke="#000" stroke-width="2.2" />
<text transform="translate(1109.90,50.10) scale(1.03,1)" font-size="20" text-anchor="end">2500</text>
<line x1="1119.60" y1="264.40" x2="1251.70" y2="264.40" stroke="#000" stroke-width="2.2" />
<rect x="1134.65" y="264.40" width="22.30" height="0.00" fill="#fff" stroke="#000" stroke-width="2.2" />
<circle cx="1136.80" cy="264.40" r="4.9" fill="#000"/>
<circle cx="1154.80" cy="264.40" r="4.9" fill="#000"/>
<line x1="1145.80" y1="264.40" x2="1145.80" y2="270.40" stroke="#000" stroke-width="2.2" />
<rect x="1174.25" y="93.84" width="22.30" height="170.56" fill="#fff" stroke="#000" stroke-width="2.2" />
<circle cx="1176.40" cy="92.08" r="4.9" fill="#000"/>
<circle cx="1194.40" cy="91.20" r="4.9" fill="#000"/>
<line x1="1185.40" y1="264.40" x2="1185.40" y2="270.40" stroke="#000" stroke-width="2.2" />
<rect x="1213.25" y="249.45" width="22.30" height="14.95" fill="#fff" stroke="#000" stroke-width="2.2" />
<circle cx="1215.40" cy="250.33" r="4.9" fill="#000"/>
<circle cx="1233.40" cy="248.57" r="4.9" fill="#000"/>
<line x1="1224.40" y1="264.40" x2="1224.40" y2="270.40" stroke="#000" stroke-width="2.2" />
<text transform="translate(1153.10,276.90) rotate(-90) scale(1.03,1)" font-size="20" text-anchor="end">Control</text>
<text transform="translate(1192.70,276.90) rotate(-90) scale(1.03,1)" font-size="20" text-anchor="end">Control</text>
<text transform="translate(1231.70,276.90) rotate(-90) scale(1.03,1)" font-size="20" text-anchor="end" font-style="italic">IL1B</text>
<text transform="translate(1052.40,154.80) rotate(-90) scale(1.03,1)" font-size="20.5" text-anchor="middle" font-weight="bold"><tspan font-style="italic">IL1B</tspan> mRNA</text>
<line x1="1183.40" y1="347.20" x2="1236.40" y2="347.20" stroke="#000" stroke-width="2.2" />
<text transform="translate(1210.60,368.10) scale(1.03,1)" font-size="20" text-anchor="middle">+TLR2/6 + ATP</text>
<line x1="1337.20" y1="42.80" x2="1337.20" y2="265.20" stroke="#000" stroke-width="2.2" />
<line x1="1331.20" y1="264.10" x2="1337.20" y2="264.10" stroke="#000" stroke-width="2.2" />
<text transform="translate(1326.40,269.60) scale(1.03,1)" font-size="20" text-anchor="end">0.0</text>
<line x1="1331.20" y1="190.70" x2="1337.20" y2="190.70" stroke="#000" stroke-width="2.2" />
<text transform="translate(1326.40,196.20) scale(1.03,1)" font-size="20" text-anchor="end">0.5</text>
<line x1="1331.20" y1="117.30" x2="1337.20" y2="117.30" stroke="#000" stroke-width="2.2" />
<text transform="translate(1326.40,122.80) scale(1.03,1)" font-size="20" text-anchor="end">1.0</text>
<line x1="1331.20" y1="43.90" x2="1337.20" y2="43.90" stroke="#000" stroke-width="2.2" />
<text transform="translate(1326.40,49.40) scale(1.03,1)" font-size="20" text-anchor="end">1.5</text>
<line x1="1336.10" y1="264.10" x2="1424.00" y2="264.10" stroke="#000" stroke-width="2.2" />
<rect x="1350.25" y="101.15" width="21.70" height="162.95" fill="#fff" stroke="#000" stroke-width="2.2" />
<circle cx="1361.10" cy="81.63" r="4.9" fill="#000"/>
<circle cx="1361.10" cy="118.18" r="4.9" fill="#000"/>
<line x1="1361.10" y1="264.10" x2="1361.10" y2="270.10" stroke="#000" stroke-width="2.2" />
<rect x="1387.55" y="234.74" width="21.70" height="29.36" fill="#fff" stroke="#000" stroke-width="2.2" />
<circle cx="1398.40" cy="227.40" r="4.9" fill="#000"/>
<circle cx="1398.40" cy="242.08" r="4.9" fill="#000"/>
<line x1="1398.40" y1="264.10" x2="1398.40" y2="270.10" stroke="#000" stroke-width="2.2" />
<text transform="translate(1368.40,276.60) rotate(-90) scale(1.03,1)" font-size="20" text-anchor="end">Control</text>
<text transform="translate(1405.70,276.60) rotate(-90) scale(1.03,1)" font-size="20" text-anchor="end" font-style="italic">TGFBR1</text>
<text transform="translate(1285.80,152.20) rotate(-90) scale(1.03,1)" font-size="20.5" text-anchor="middle" font-weight="bold"><tspan font-style="italic">TGFBR1</tspan> mRNA</text>
<line x1="1505.90" y1="42.80" x2="1505.90" y2="265.20" stroke="#000" stroke-width="2.2" />
<line x1="1499.90" y1="264.10" x2="1505.90" y2="264.10" stroke="#000" stroke-width="2.2" />
<text transform="translate(1495.10,269.60) scale(1.03,1)" font-size="20" text-anchor="end">0.0</text>
<line x1="1499.90" y1="209.05" x2="1505.90" y2="209.05" stroke="#000" stroke-width="2.2" />
<text transform="translate(1495.10,214.55) scale(1.03,1)" font-size="20" text-anchor="end">0.5</text>
<line x1="1499.90" y1="154.00" x2="1505.90" y2="154.00" stroke="#000" stroke-width="2.2" />
<text transform="translate(1495.10,159.50) scale(1.03,1)" font-size="20" text-anchor="end">1.0</text>
<line x1="1499.90" y1="98.95" x2="1505.90" y2="98.95" stroke="#000" stroke-width="2.2" />
<text transform="translate(1495.10,104.45) scale(1.03,1)" font-size="20" text-anchor="end">1.5</text>
<line x1="1499.90" y1="43.90" x2="1505.90" y2="43.90" stroke="#000" stroke-width="2.2" />
<text transform="translate(1495.10,49.40) scale(1.03,1)" font-size="20" text-anchor="end">2.0</text>
<line x1="1504.80" y1="264.10" x2="1592.20" y2="264.10" stroke="#000" stroke-width="2.2" />
<rect x="1518.35" y="126.48" width="21.70" height="137.62" fill="#fff" stroke="#000" stroke-width="2.2" />
<circle cx="1529.20" cy="98.95" r="4.9" fill="#000"/>
<circle cx="1529.20" cy="154.00" r="4.9" fill="#000"/>
<line x1="1529.20" y1="264.10" x2="1529.20" y2="270.10" stroke="#000" stroke-width="2.2" />
<rect x="1555.65" y="231.07" width="21.70" height="33.03" fill="#fff" stroke="#000" stroke-width="2.2" />
<circle cx="1558.50" cy="233.27" r="4.9" fill="#000"/>
<circle cx="1574.50" cy="227.77" r="4.9" fill="#000"/>
<line x1="1566.50" y1="264.10" x2="1566.50" y2="270.10" stroke="#000" stroke-width="2.2" />
<text transform="translate(1536.50,276.60) rotate(-90) scale(1.03,1)" font-size="20" text-anchor="end">Control</text>
<text transform="translate(1573.80,276.60) rotate(-90) scale(1.03,1)" font-size="20" text-anchor="end" font-style="italic">TGFBR2</text>
<text transform="translate(1458.40,152.20) rotate(-90) scale(1.03,1)" font-size="20.5" text-anchor="middle" font-weight="bold"><tspan font-style="italic">TGFBR2</tspan> mRNA</text>
<line x1="1677.90" y1="42.80" x2="1677.90" y2="265.20" stroke="#000" stroke-width="2.2" />
<line x1="1671.90" y1="264.10" x2="1677.90" y2="264.10" stroke="#000" stroke-width="2.2" />
<text transform="translate(1667.10,269.60) scale(1.03,1)" font-size="20" text-anchor="end">0.0</text>
<line x1="1671.90" y1="190.70" x2="1677.90" y2="190.70" stroke="#000" stroke-width="2.2" />
<text transform="translate(1667.10,196.20) scale(1.03,1)" font-size="20" text-anchor="end">0.5</text>
<line x1="1671.90" y1="117.30" x2="1677.90" y2="117.30" stroke="#000" stroke-width="2.2" />
<text transform="translate(1667.10,122.80) scale(1.03,1)" font-size="20" text-anchor="end">1.0</text>
<line x1="1671.90" y1="43.90" x2="1677.90" y2="43.90" stroke="#000" stroke-width="2.2" />
<text transform="translate(1667.10,49.40) scale(1.03,1)" font-size="20" text-anchor="end">1.5</text>
<line x1="1676.80" y1="264.10" x2="1766.30" y2="264.10" stroke="#000" stroke-width="2.2" />
<rect x="1691.95" y="127.58" width="21.70" height="136.52" fill="#fff" stroke="#000" stroke-width="2.2" />
<circle cx="1702.80" cy="117.30" r="4.9" fill="#000"/>
<circle cx="1702.80" cy="139.32" r="4.9" fill="#000"/>
<line x1="1702.80" y1="264.10" x2="1702.80" y2="270.10" stroke="#000" stroke-width="2.2" />
<rect x="1729.75" y="171.62" width="21.70" height="92.48" fill="#fff" stroke="#000" stroke-width="2.2" />
<circle cx="1740.60" cy="165.74" r="4.9" fill="#000"/>
<circle cx="1740.60" cy="178.96" r="4.9" fill="#000"/>
<line x1="1740.60" y1="264.10" x2="1740.60" y2="270.10" stroke="#000" stroke-width="2.2" />
<text transform="translate(1710.10,276.60) rotate(-90) scale(1.03,1)" font-size="20" text-anchor="end">Control</text>
<text transform="translate(1747.90,276.60) rotate(-90) scale(1.03,1)" font-size="20" text-anchor="end" font-style="italic">IL1R1</text>
<text transform="translate(1626.50,154.50) rotate(-90) scale(1.03,1)" font-size="20.5" text-anchor="middle" font-weight="bold"><tspan font-style="italic">IL1R1</tspan> mRNA</text>
<text transform="translate(832.50,420.70) scale(0.96,1)" font-size="33.5" font-weight="bold">d</text>
<line x1="919.20" y1="695.20" x2="919.20" y2="810.70" stroke="#000" stroke-width="2.2" />
<line x1="913.20" y1="809.60" x2="919.20" y2="809.60" stroke="#000" stroke-width="2.2" />
<text transform="translate(908.40,814.90) scale(1.03,1)" font-size="20" text-anchor="end">0</text>
<line x1="913.20" y1="781.25" x2="919.20" y2="781.25" stroke="#000" stroke-width="2.2" />
<text transform="translate(908.40,786.55) scale(1.03,1)" font-size="20" text-anchor="end">50</text>
<line x1="913.20" y1="752.90" x2="919.20" y2="752.90" stroke="#000" stroke-width="2.2" />
<text transform="translate(908.40,758.20) scale(1.03,1)" font-size="20" text-anchor="end">100</text>
<line x1="913.20" y1="724.55" x2="919.20" y2="724.55" stroke="#000" stroke-width="2.2" />
<text transform="translate(908.40,729.85) scale(1.03,1)" font-size="20" text-anchor="end">150</text>
<line x1="909.80" y1="696.20" x2="930.20" y2="696.20" stroke="#000" stroke-width="2.2" />
<text transform="translate(908.40,701.50) scale(1.03,1)" font-size="20" text-anchor="end">200</text>
<line x1="918.10" y1="809.60" x2="1467.70" y2="809.60" stroke="#000" stroke-width="2.2" />
<line x1="940.30" y1="809.60" x2="940.30" y2="816.00" stroke="#000" stroke-width="2.2" />
<line x1="976.37" y1="809.60" x2="976.37" y2="816.00" stroke="#000" stroke-width="2.2" />
<line x1="1012.44" y1="809.60" x2="1012.44" y2="816.00" stroke="#000" stroke-width="2.2" />
<line x1="1048.51" y1="809.60" x2="1048.51" y2="816.00" stroke="#000" stroke-width="2.2" />
<line x1="1084.58" y1="809.60" x2="1084.58" y2="816.00" stroke="#000" stroke-width="2.2" />
<line x1="1120.65" y1="809.60" x2="1120.65" y2="816.00" stroke="#000" stroke-width="2.2" />
<line x1="1156.72" y1="809.60" x2="1156.72" y2="816.00" stroke="#000" stroke-width="2.2" />
<line x1="1192.79" y1="809.60" x2="1192.79" y2="816.00" stroke="#000" stroke-width="2.2" />
<line x1="1228.86" y1="809.60" x2="1228.86" y2="816.00" stroke="#000" stroke-width="2.2" />
<line x1="1264.93" y1="809.60" x2="1264.93" y2="816.00" stroke="#000" stroke-width="2.2" />
<line x1="1301.00" y1="809.60" x2="1301.00" y2="816.00" stroke="#000" stroke-width="2.2" />
<line x1="1337.07" y1="809.60" x2="1337.07" y2="816.00" stroke="#000" stroke-width="2.2" />
<line x1="1373.14" y1="809.60" x2="1373.14" y2="816.00" stroke="#000" stroke-width="2.2" />
<line x1="1409.21" y1="809.60" x2="1409.21" y2="816.00" stroke="#000" stroke-width="2.2" />
<line x1="1445.28" y1="809.60" x2="1445.28" y2="816.00" stroke="#000" stroke-width="2.2" />
<line x1="919.60" y1="480.80" x2="919.60" y2="580.10" stroke="#000" stroke-width="2.2" />
<line x1="913.60" y1="543.70" x2="919.60" y2="543.70" stroke="#000" stroke-width="2.2" />
<text transform="translate(908.80,549.00) scale(1.03,1)" font-size="20" text-anchor="end">2000</text>
<line x1="913.60" y1="512.80" x2="919.60" y2="512.80" stroke="#000" stroke-width="2.2" />
<text transform="translate(908.80,518.10) scale(1.03,1)" font-size="20" text-anchor="end">3000</text>
<line x1="913.60" y1="481.90" x2="919.60" y2="481.90" stroke="#000" stroke-width="2.2" />
<text transform="translate(908.80,487.20) scale(1.03,1)" font-size="20" text-anchor="end">4000</text>
<line x1="913.60" y1="574.60" x2="919.60" y2="574.60" stroke="#000" stroke-width="2.2" />
<text transform="translate(908.80,579.90) scale(1.03,1)" font-size="20" text-anchor="end">1000</text>
<line x1="909.40" y1="580.10" x2="930.50" y2="580.10" stroke="#000" stroke-width="2.2" />
<rect x="927.60" y="756.87" width="10.60" height="52.73" fill="#fff" stroke="#000" stroke-width="2.2" />
<circle cx="929.90" cy="752.90" r="4.7" fill="#000"/>
<circle cx="935.90" cy="755.74" r="4.7" fill="#000"/>
<circle cx="928.90" cy="759.70" r="4.7" fill="#000"/>
<rect x="963.67" y="731.35" width="10.60" height="78.25" fill="#fff" stroke="#000" stroke-width="2.2" />
<circle cx="966.97" cy="727.38" r="4.7" fill="#000"/>
<circle cx="971.97" cy="728.52" r="4.7" fill="#000"/>
<circle cx="968.97" cy="729.65" r="4.7" fill="#000"/>
<rect x="999.74" y="737.59" width="10.60" height="72.01" fill="#fff" stroke="#000" stroke-width="2.2" />
<circle cx="1003.04" cy="733.06" r="4.7" fill="#000"/>
<circle cx="1008.04" cy="735.89" r="4.7" fill="#000"/>
<circle cx="1005.04" cy="740.99" r="4.7" fill="#000"/>
<rect x="1035.81" y="724.55" width="10.60" height="85.05" fill="#fff" stroke="#000" stroke-width="2.2" />
<line x1="1041.11" y1="721.15" x2="1041.11" y2="727.95" stroke="#000" stroke-width="2.2" />
<line x1="1038.11" y1="721.15" x2="1044.11" y2="721.15" stroke="#000" stroke-width="2.2" />
<line x1="1038.11" y1="727.95" x2="1044.11" y2="727.95" stroke="#000" stroke-width="2.2" />
<circle cx="1041.11" cy="714.91" r="4.7" fill="#000"/>
<circle cx="1038.11" cy="724.55" r="4.7" fill="#000"/>
<circle cx="1044.11" cy="725.68" r="4.7" fill="#000"/>
<rect x="1071.88" y="714.91" width="10.60" height="94.69" fill="#fff" stroke="#000" stroke-width="2.2" />
<line x1="1077.18" y1="709.24" x2="1077.18" y2="720.58" stroke="#000" stroke-width="2.2" />
<line x1="1074.18" y1="709.24" x2="1080.18" y2="709.24" stroke="#000" stroke-width="2.2" />
<line x1="1074.18" y1="720.58" x2="1080.18" y2="720.58" stroke="#000" stroke-width="2.2" />
<circle cx="1077.18" cy="700.74" r="4.7" fill="#000"/>
<circle cx="1074.18" cy="716.05" r="4.7" fill="#000"/>
<circle cx="1080.18" cy="718.88" r="4.7" fill="#000"/>
<rect x="1107.95" y="720.58" width="10.60" height="89.02" fill="#fff" stroke="#000" stroke-width="2.2" />
<circle cx="1111.25" cy="717.75" r="4.7" fill="#000"/>
<circle cx="1116.25" cy="720.58" r="4.7" fill="#000"/>
<circle cx="1113.25" cy="721.72" r="4.7" fill="#000"/>
<rect x="1144.02" y="711.51" width="10.60" height="98.09" fill="#fff" stroke="#000" stroke-width="2.2" />
<line x1="1149.32" y1="705.84" x2="1149.32" y2="717.18" stroke="#000" stroke-width="2.2" />
<line x1="1146.32" y1="705.84" x2="1152.32" y2="705.84" stroke="#000" stroke-width="2.2" />
<line x1="1146.32" y1="717.18" x2="1152.32" y2="717.18" stroke="#000" stroke-width="2.2" />
<circle cx="1149.32" cy="697.33" r="4.7" fill="#000"/>
<circle cx="1146.32" cy="713.21" r="4.7" fill="#000"/>
<circle cx="1151.32" cy="716.05" r="4.7" fill="#000"/>
<rect x="1180.09" y="716.05" width="10.60" height="93.55" fill="#fff" stroke="#000" stroke-width="2.2" />
<line x1="1185.39" y1="710.38" x2="1185.39" y2="721.72" stroke="#000" stroke-width="2.2" />
<line x1="1182.39" y1="710.38" x2="1188.39" y2="710.38" stroke="#000" stroke-width="2.2" />
<line x1="1182.39" y1="721.72" x2="1188.39" y2="721.72" stroke="#000" stroke-width="2.2" />
<circle cx="1185.39" cy="703.00" r="4.7" fill="#000"/>
<circle cx="1188.39" cy="717.75" r="4.7" fill="#000"/>
<circle cx="1183.39" cy="724.55" r="4.7" fill="#000"/>
<rect x="1216.16" y="710.38" width="10.60" height="99.23" fill="#fff" stroke="#000" stroke-width="2.2" />
<circle cx="1219.46" cy="705.84" r="4.7" fill="#000"/>
<circle cx="1224.46" cy="708.67" r="4.7" fill="#000"/>
<circle cx="1221.46" cy="715.48" r="4.7" fill="#000"/>
<rect x="1252.23" y="720.01" width="10.60" height="89.59" fill="#fff" stroke="#000" stroke-width="2.2" />
<line x1="1257.53" y1="716.05" x2="1257.53" y2="723.98" stroke="#000" stroke-width="2.2" />
<line x1="1254.53" y1="716.05" x2="1260.53" y2="716.05" stroke="#000" stroke-width="2.2" />
<line x1="1254.53" y1="723.98" x2="1260.53" y2="723.98" stroke="#000" stroke-width="2.2" />
<circle cx="1255.53" cy="713.21" r="4.7" fill="#000"/>
<circle cx="1260.53" cy="720.58" r="4.7" fill="#000"/>
<circle cx="1257.53" cy="727.38" r="4.7" fill="#000"/>
<rect x="1288.30" y="727.38" width="10.60" height="82.22" fill="#fff" stroke="#000" stroke-width="2.2" />
<line x1="1293.60" y1="721.72" x2="1293.60" y2="733.06" stroke="#000" stroke-width="2.2" />
<line x1="1290.60" y1="721.72" x2="1296.60" y2="721.72" stroke="#000" stroke-width="2.2" />
<line x1="1290.60" y1="733.06" x2="1296.60" y2="733.06" stroke="#000" stroke-width="2.2" />
<circle cx="1293.60" cy="713.21" r="4.7" fill="#000"/>
<circle cx="1296.60" cy="730.22" r="4.7" fill="#000"/>
<circle cx="1291.60" cy="735.89" r="4.7" fill="#000"/>
<rect x="1324.37" y="730.22" width="10.60" height="79.38" fill="#fff" stroke="#000" stroke-width="2.2" />
<line x1="1329.67" y1="723.42" x2="1329.67" y2="737.02" stroke="#000" stroke-width="2.2" />
<line x1="1326.67" y1="723.42" x2="1332.67" y2="723.42" stroke="#000" stroke-width="2.2" />
<line x1="1326.67" y1="737.02" x2="1332.67" y2="737.02" stroke="#000" stroke-width="2.2" />
<circle cx="1329.67" cy="716.05" r="4.7" fill="#000"/>
<circle cx="1332.67" cy="732.49" r="4.7" fill="#000"/>
<circle cx="1327.67" cy="735.89" r="4.7" fill="#000"/>
<rect x="1360.44" y="717.18" width="10.60" height="92.42" fill="#fff" stroke="#000" stroke-width="2.2" />
<circle cx="1363.74" cy="711.51" r="4.7" fill="#000"/>
<circle cx="1368.74" cy="716.61" r="4.7" fill="#000"/>
<circle cx="1365.74" cy="718.88" r="4.7" fill="#000"/>
<rect x="1396.51" y="727.38" width="10.60" height="82.22" fill="#fff" stroke="#000" stroke-width="2.2" />
<circle cx="1403.81" cy="724.55" r="4.7" fill="#000"/>
<circle cx="1399.81" cy="727.95" r="4.7" fill="#000"/>
<circle cx="1401.81" cy="730.22" r="4.7" fill="#000"/>
<rect x="1432.58" y="716.05" width="10.60" height="93.55" fill="#fff" stroke="#000" stroke-width="2.2" />
<line x1="1437.88" y1="712.64" x2="1437.88" y2="719.45" stroke="#000" stroke-width="2.2" />
<line x1="1434.88" y1="712.64" x2="1440.88" y2="712.64" stroke="#000" stroke-width="2.2" />
<line x1="1434.88" y1="719.45" x2="1440.88" y2="719.45" stroke="#000" stroke-width="2.2" />
<circle cx="1437.88" cy="707.54" r="4.7" fill="#000"/>
<circle cx="1440.88" cy="717.18" r="4.7" fill="#000"/>
<circle cx="1435.88" cy="718.88" r="4.7" fill="#000"/>
<rect x="942.60" y="750.63" width="10.60" height="58.97" fill="#fd7bab" stroke="#000" stroke-width="2.2" />
<circle cx="947.90" cy="742.69" r="4.7" fill="#000"/>
<circle cx="944.90" cy="749.50" r="4.7" fill="#000"/>
<circle cx="950.90" cy="750.63" r="4.7" fill="#000"/>
<circle cx="945.90" cy="755.17" r="4.7" fill="#000"/>
<rect x="978.67" y="696.20" width="10.60" height="113.40" fill="#fd7bab" />
<line x1="978.67" y1="696.20" x2="978.67" y2="809.60" stroke="#000" stroke-width="2.2" />
<line x1="989.27" y1="696.20" x2="989.27" y2="809.60" stroke="#000" stroke-width="2.2" />
<rect x="1014.74" y="696.20" width="10.60" height="113.40" fill="#fd7bab" />
<line x1="1014.74" y1="696.20" x2="1014.74" y2="809.60" stroke="#000" stroke-width="2.2" />
<line x1="1025.34" y1="696.20" x2="1025.34" y2="809.60" stroke="#000" stroke-width="2.2" />
<rect x="1050.81" y="696.20" width="10.60" height="113.40" fill="#fd7bab" />
<line x1="1050.81" y1="696.20" x2="1050.81" y2="809.60" stroke="#000" stroke-width="2.2" />
<line x1="1061.41" y1="696.20" x2="1061.41" y2="809.60" stroke="#000" stroke-width="2.2" />
<rect x="1086.88" y="696.20" width="10.60" height="113.40" fill="#fd7bab" />
<line x1="1086.88" y1="696.20" x2="1086.88" y2="809.60" stroke="#000" stroke-width="2.2" />
<line x1="1097.48" y1="696.20" x2="1097.48" y2="809.60" stroke="#000" stroke-width="2.2" />
<rect x="1122.95" y="696.20" width="10.60" height="113.40" fill="#fd7bab" />
<line x1="1122.95" y1="696.20" x2="1122.95" y2="809.60" stroke="#000" stroke-width="2.2" />
<line x1="1133.55" y1="696.20" x2="1133.55" y2="809.60" stroke="#000" stroke-width="2.2" />
<rect x="1159.02" y="696.20" width="10.60" height="113.40" fill="#fd7bab" />
<line x1="1159.02" y1="696.20" x2="1159.02" y2="809.60" stroke="#000" stroke-width="2.2" />
<line x1="1169.62" y1="696.20" x2="1169.62" y2="809.60" stroke="#000" stroke-width="2.2" />
<rect x="1195.09" y="696.20" width="10.60" height="113.40" fill="#fd7bab" />
<line x1="1195.09" y1="696.20" x2="1195.09" y2="809.60" stroke="#000" stroke-width="2.2" />
<line x1="1205.69" y1="696.20" x2="1205.69" y2="809.60" stroke="#000" stroke-width="2.2" />
<rect x="1231.16" y="696.20" width="10.60" height="113.40" fill="#fd7bab" />
<line x1="1231.16" y1="696.20" x2="1231.16" y2="809.60" stroke="#000" stroke-width="2.2" />
<line x1="1241.76" y1="696.20" x2="1241.76" y2="809.60" stroke="#000" stroke-width="2.2" />
<rect x="1267.23" y="696.20" width="10.60" height="113.40" fill="#fd7bab" />
<line x1="1267.23" y1="696.20" x2="1267.23" y2="809.60" stroke="#000" stroke-width="2.2" />
<line x1="1277.83" y1="696.20" x2="1277.83" y2="809.60" stroke="#000" stroke-width="2.2" />
<rect x="1303.30" y="696.20" width="10.60" height="113.40" fill="#fd7bab" />
<line x1="1303.30" y1="696.20" x2="1303.30" y2="809.60" stroke="#000" stroke-width="2.2" />
<line x1="1313.90" y1="696.20" x2="1313.90" y2="809.60" stroke="#000" stroke-width="2.2" />
<rect x="1339.37" y="696.20" width="10.60" height="113.40" fill="#fd7bab" />
<line x1="1339.37" y1="696.20" x2="1339.37" y2="809.60" stroke="#000" stroke-width="2.2" />
<line x1="1349.97" y1="696.20" x2="1349.97" y2="809.60" stroke="#000" stroke-width="2.2" />
<rect x="1375.44" y="696.20" width="10.60" height="113.40" fill="#fd7bab" />
<line x1="1375.44" y1="696.20" x2="1375.44" y2="809.60" stroke="#000" stroke-width="2.2" />
<line x1="1386.04" y1="696.20" x2="1386.04" y2="809.60" stroke="#000" stroke-width="2.2" />
<rect x="1411.51" y="696.20" width="10.60" height="113.40" fill="#fd7bab" />
<line x1="1411.51" y1="696.20" x2="1411.51" y2="809.60" stroke="#000" stroke-width="2.2" />
<line x1="1422.11" y1="696.20" x2="1422.11" y2="809.60" stroke="#000" stroke-width="2.2" />
<rect x="1447.58" y="696.20" width="10.60" height="113.40" fill="#fd7bab" />
<line x1="1447.58" y1="696.20" x2="1447.58" y2="809.60" stroke="#000" stroke-width="2.2" />
<line x1="1458.18" y1="696.20" x2="1458.18" y2="809.60" stroke="#000" stroke-width="2.2" />
<path d="M978.67,580.4 V552.01 H989.27 V580.4" fill="#fd7bab" stroke="#000" stroke-width="2.2"/>
<line x1="983.97" y1="540.58" x2="983.97" y2="563.45" stroke="#000" stroke-width="2.2" />
<line x1="980.97" y1="540.58" x2="986.97" y2="540.58" stroke="#000" stroke-width="2.2" />
<line x1="980.97" y1="563.45" x2="986.97" y2="563.45" stroke="#000" stroke-width="2.2" />
<circle cx="983.97" cy="529.80" r="4.7" fill="#000"/>
<circle cx="980.97" cy="562.24" r="4.7" fill="#000"/>
<circle cx="985.97" cy="565.33" r="4.7" fill="#000"/>
<path d="M1014.74,580.4 V554.21 H1025.34 V580.4" fill="#fd7bab" stroke="#000" stroke-width="2.2"/>
<line x1="1020.04" y1="541.85" x2="1020.04" y2="566.57" stroke="#000" stroke-width="2.2" />
<line x1="1017.04" y1="541.85" x2="1023.04" y2="541.85" stroke="#000" stroke-width="2.2" />
<line x1="1017.04" y1="566.57" x2="1023.04" y2="566.57" stroke="#000" stroke-width="2.2" />
<circle cx="1020.04" cy="529.80" r="4.7" fill="#000"/>
<circle cx="1017.04" cy="562.24" r="4.7" fill="#000"/>
<circle cx="1023.04" cy="563.78" r="4.7" fill="#000"/>
<path d="M1050.81,580.4 V548.34 H1061.41 V580.4" fill="#fd7bab" stroke="#000" stroke-width="2.2"/>
<line x1="1056.11" y1="539.07" x2="1056.11" y2="557.61" stroke="#000" stroke-width="2.2" />
<line x1="1053.11" y1="539.07" x2="1059.11" y2="539.07" stroke="#000" stroke-width="2.2" />
<line x1="1053.11" y1="557.61" x2="1059.11" y2="557.61" stroke="#000" stroke-width="2.2" />
<circle cx="1056.11" cy="531.34" r="4.7" fill="#000"/>
<circle cx="1054.11" cy="552.97" r="4.7" fill="#000"/>
<circle cx="1058.11" cy="559.15" r="4.7" fill="#000"/>
<path d="M1086.88,580.4 V535.05 H1097.48 V580.4" fill="#fd7bab" stroke="#000" stroke-width="2.2"/>
<line x1="1092.18" y1="520.52" x2="1092.18" y2="549.57" stroke="#000" stroke-width="2.2" />
<line x1="1089.18" y1="520.52" x2="1095.18" y2="520.52" stroke="#000" stroke-width="2.2" />
<line x1="1089.18" y1="549.57" x2="1095.18" y2="549.57" stroke="#000" stroke-width="2.2" />
<circle cx="1092.18" cy="515.89" r="4.7" fill="#000"/>
<circle cx="1092.18" cy="529.80" r="4.7" fill="#000"/>
<circle cx="1092.18" cy="559.15" r="4.7" fill="#000"/>
<path d="M1122.95,580.4 V544.32 H1133.55 V580.4" fill="#fd7bab" stroke="#000" stroke-width="2.2"/>
<circle cx="1126.25" cy="538.14" r="4.7" fill="#000"/>
<circle cx="1131.25" cy="542.15" r="4.7" fill="#000"/>
<circle cx="1128.25" cy="545.25" r="4.7" fill="#000"/>
<path d="M1159.02,580.4 V556.68 H1169.62 V580.4" fill="#fd7bab" stroke="#000" stroke-width="2.2"/>
<line x1="1164.32" y1="548.95" x2="1164.32" y2="564.40" stroke="#000" stroke-width="2.2" />
<line x1="1161.32" y1="548.95" x2="1167.32" y2="548.95" stroke="#000" stroke-width="2.2" />
<line x1="1161.32" y1="564.40" x2="1167.32" y2="564.40" stroke="#000" stroke-width="2.2" />
<circle cx="1164.32" cy="542.15" r="4.7" fill="#000"/>
<circle cx="1164.32" cy="548.34" r="4.7" fill="#000"/>
<circle cx="1164.32" cy="574.60" r="4.7" fill="#000"/>
<path d="M1195.09,580.4 V568.42 H1205.69 V580.4" fill="#fd7bab" stroke="#000" stroke-width="2.2"/>
<circle cx="1200.39" cy="560.70" r="4.7" fill="#000"/>
<circle cx="1198.39" cy="566.88" r="4.7" fill="#000"/>
<circle cx="1203.39" cy="568.42" r="4.7" fill="#000"/>
<path d="M1231.16,580.4 V549.88 H1241.76 V580.4" fill="#fd7bab" stroke="#000" stroke-width="2.2"/>
<line x1="1236.46" y1="539.07" x2="1236.46" y2="560.70" stroke="#000" stroke-width="2.2" />
<line x1="1233.46" y1="539.07" x2="1239.46" y2="539.07" stroke="#000" stroke-width="2.2" />
<line x1="1233.46" y1="560.70" x2="1239.46" y2="560.70" stroke="#000" stroke-width="2.2" />
<circle cx="1236.46" cy="529.80" r="4.7" fill="#000"/>
<circle cx="1236.46" cy="552.97" r="4.7" fill="#000"/>
<circle cx="1236.46" cy="565.33" r="4.7" fill="#000"/>
<path d="M1267.23,580.4 V555.44 H1277.83 V580.4" fill="#fd7bab" stroke="#000" stroke-width="2.2"/>
<line x1="1272.53" y1="545.86" x2="1272.53" y2="565.02" stroke="#000" stroke-width="2.2" />
<line x1="1269.53" y1="545.86" x2="1275.53" y2="545.86" stroke="#000" stroke-width="2.2" />
<line x1="1269.53" y1="565.02" x2="1275.53" y2="565.02" stroke="#000" stroke-width="2.2" />
<circle cx="1272.53" cy="542.15" r="4.7" fill="#000"/>
<circle cx="1272.53" cy="552.97" r="4.7" fill="#000"/>
<circle cx="1272.53" cy="565.33" r="4.7" fill="#000"/>
<path d="M1303.30,580.4 V568.42 H1313.90 V580.4" fill="#fd7bab" stroke="#000" stroke-width="2.2"/>
<line x1="1308.60" y1="561.62" x2="1308.60" y2="575.22" stroke="#000" stroke-width="2.2" />
<line x1="1305.60" y1="561.62" x2="1311.60" y2="561.62" stroke="#000" stroke-width="2.2" />
<line x1="1305.60" y1="575.22" x2="1311.60" y2="575.22" stroke="#000" stroke-width="2.2" />
<circle cx="1308.60" cy="554.51" r="4.7" fill="#000"/>
<circle cx="1306.60" cy="571.51" r="4.7" fill="#000"/>
<circle cx="1311.60" cy="573.06" r="4.7" fill="#000"/>
<path d="M1339.37,580.4 V545.25 H1349.97 V580.4" fill="#fd7bab" stroke="#000" stroke-width="2.2"/>
<line x1="1344.67" y1="539.07" x2="1344.67" y2="551.43" stroke="#000" stroke-width="2.2" />
<line x1="1341.67" y1="539.07" x2="1347.67" y2="539.07" stroke="#000" stroke-width="2.2" />
<line x1="1341.67" y1="551.43" x2="1347.67" y2="551.43" stroke="#000" stroke-width="2.2" />
<circle cx="1344.67" cy="532.88" r="4.7" fill="#000"/>
<circle cx="1344.67" cy="545.25" r="4.7" fill="#000"/>
<circle cx="1342.67" cy="548.34" r="4.7" fill="#000"/>
<path d="M1375.44,580.4 V537.52 H1386.04 V580.4" fill="#fd7bab" stroke="#000" stroke-width="2.2"/>
<line x1="1380.74" y1="518.98" x2="1380.74" y2="556.06" stroke="#000" stroke-width="2.2" />
<line x1="1377.74" y1="518.98" x2="1383.74" y2="518.98" stroke="#000" stroke-width="2.2" />
<line x1="1377.74" y1="556.06" x2="1383.74" y2="556.06" stroke="#000" stroke-width="2.2" />
<circle cx="1380.74" cy="503.53" r="4.7" fill="#000"/>
<circle cx="1380.74" cy="543.70" r="4.7" fill="#000"/>
<circle cx="1380.74" cy="565.33" r="4.7" fill="#000"/>
<path d="M1411.51,580.4 V537.52 H1422.11 V580.4" fill="#fd7bab" stroke="#000" stroke-width="2.2"/>
<line x1="1416.81" y1="525.16" x2="1416.81" y2="549.88" stroke="#000" stroke-width="2.2" />
<line x1="1413.81" y1="525.16" x2="1419.81" y2="525.16" stroke="#000" stroke-width="2.2" />
<line x1="1413.81" y1="549.88" x2="1419.81" y2="549.88" stroke="#000" stroke-width="2.2" />
<circle cx="1416.81" cy="518.98" r="4.7" fill="#000"/>
<circle cx="1416.81" cy="526.71" r="4.7" fill="#000"/>
<circle cx="1416.81" cy="562.24" r="4.7" fill="#000"/>
<path d="M1447.58,580.4 V554.51 H1458.18 V580.4" fill="#fd7bab" stroke="#000" stroke-width="2.2"/>
<line x1="1452.88" y1="549.88" x2="1452.88" y2="559.15" stroke="#000" stroke-width="2.2" />
<line x1="1449.88" y1="549.88" x2="1455.88" y2="549.88" stroke="#000" stroke-width="2.2" />
<line x1="1449.88" y1="559.15" x2="1455.88" y2="559.15" stroke="#000" stroke-width="2.2" />
<circle cx="1450.88" cy="545.25" r="4.7" fill="#000"/>
<circle cx="1455.88" cy="551.43" r="4.7" fill="#000"/>
<circle cx="1452.88" cy="563.78" r="4.7" fill="#000"/>
<polyline points="947.70,733.70 947.70,487.80 1453.80,487.80" fill="none" stroke="#8c8c8c" stroke-width="2" stroke-linejoin="miter" />
<line x1="983.97" y1="487.80" x2="983.97" y2="494.80" stroke="#8c8c8c" stroke-width="2" />
<line x1="1020.04" y1="487.80" x2="1020.04" y2="494.80" stroke="#8c8c8c" stroke-width="2" />
<line x1="1056.11" y1="487.80" x2="1056.11" y2="494.80" stroke="#8c8c8c" stroke-width="2" />
<line x1="1092.18" y1="487.80" x2="1092.18" y2="494.80" stroke="#8c8c8c" stroke-width="2" />
<line x1="1128.25" y1="487.80" x2="1128.25" y2="494.80" stroke="#8c8c8c" stroke-width="2" />
<line x1="1164.32" y1="487.80" x2="1164.32" y2="494.80" stroke="#8c8c8c" stroke-width="2" />
<line x1="1200.39" y1="487.80" x2="1200.39" y2="494.80" stroke="#8c8c8c" stroke-width="2" />
<line x1="1236.46" y1="487.80" x2="1236.46" y2="494.80" stroke="#8c8c8c" stroke-width="2" />
<line x1="1272.53" y1="487.80" x2="1272.53" y2="494.80" stroke="#8c8c8c" stroke-width="2" />
<line x1="1308.60" y1="487.80" x2="1308.60" y2="494.80" stroke="#8c8c8c" stroke-width="2" />
<line x1="1344.67" y1="487.80" x2="1344.67" y2="494.80" stroke="#8c8c8c" stroke-width="2" />
<line x1="1380.74" y1="487.80" x2="1380.74" y2="494.80" stroke="#8c8c8c" stroke-width="2" />
<line x1="1416.81" y1="487.80" x2="1416.81" y2="494.80" stroke="#8c8c8c" stroke-width="2" />
<line x1="1452.88" y1="487.80" x2="1452.88" y2="494.80" stroke="#8c8c8c" stroke-width="2" />
<polyline points="932.90,743.50 932.90,682.00 1438.30,682.00" fill="none" stroke="#8c8c8c" stroke-width="2" stroke-linejoin="miter" />
<line x1="968.97" y1="682.00" x2="968.97" y2="689.40" stroke="#8c8c8c" stroke-width="2" />
<line x1="1005.04" y1="682.00" x2="1005.04" y2="689.40" stroke="#8c8c8c" stroke-width="2" />
<line x1="1041.11" y1="682.00" x2="1041.11" y2="689.40" stroke="#8c8c8c" stroke-width="2" />
<line x1="1077.18" y1="682.00" x2="1077.18" y2="689.40" stroke="#8c8c8c" stroke-width="2" />
<line x1="1113.25" y1="682.00" x2="1113.25" y2="689.40" stroke="#8c8c8c" stroke-width="2" />
<line x1="1149.32" y1="682.00" x2="1149.32" y2="689.40" stroke="#8c8c8c" stroke-width="2" />
<line x1="1185.39" y1="682.00" x2="1185.39" y2="689.40" stroke="#8c8c8c" stroke-width="2" />
<line x1="1221.46" y1="682.00" x2="1221.46" y2="689.40" stroke="#8c8c8c" stroke-width="2" />
<line x1="1257.53" y1="682.00" x2="1257.53" y2="689.40" stroke="#8c8c8c" stroke-width="2" />
<line x1="1293.60" y1="682.00" x2="1293.60" y2="689.40" stroke="#8c8c8c" stroke-width="2" />
<line x1="1329.67" y1="682.00" x2="1329.67" y2="689.40" stroke="#8c8c8c" stroke-width="2" />
<line x1="1365.74" y1="682.00" x2="1365.74" y2="689.40" stroke="#8c8c8c" stroke-width="2" />
<line x1="1401.81" y1="682.00" x2="1401.81" y2="689.40" stroke="#8c8c8c" stroke-width="2" />
<line x1="1437.88" y1="682.00" x2="1437.88" y2="689.40" stroke="#8c8c8c" stroke-width="2" />
<text transform="translate(989.27,482.60) rotate(-90) scale(1.03,1)" font-size="20">p=0.0102</text>
<text transform="translate(1025.34,482.60) rotate(-90) scale(1.03,1)" font-size="20">p=0.0145</text>
<text transform="translate(1061.41,482.60) rotate(-90) scale(1.03,1)" font-size="20">p=0.0052</text>
<text transform="translate(1097.48,482.60) rotate(-90) scale(1.03,1)" font-size="20">p=0.0004</text>
<text transform="translate(1133.55,482.60) rotate(-90) scale(1.03,1)" font-size="20">p=0.0023</text>
<text transform="translate(1169.62,482.60) rotate(-90) scale(1.03,1)" font-size="20">p=0.0240</text>
<text transform="translate(1200.39,482.40) scale(1.03,1)" font-size="20" text-anchor="middle">ns</text>
<text transform="translate(1241.76,482.60) rotate(-90) scale(1.03,1)" font-size="20">p=0.0066</text>
<text transform="translate(1277.83,482.60) rotate(-90) scale(1.03,1)" font-size="20">p=0.0183</text>
<text transform="translate(1308.60,482.40) scale(1.03,1)" font-size="20" text-anchor="middle">ns</text>
<text transform="translate(1349.97,482.60) rotate(-90) scale(1.03,1)" font-size="20">p=0.0026</text>
<text transform="translate(1386.04,482.60) rotate(-90) scale(1.03,1)" font-size="20">p=0.0005</text>
<text transform="translate(1422.11,482.60) rotate(-90) scale(1.03,1)" font-size="20">p=0.0006</text>
<text transform="translate(1458.18,482.60) rotate(-90) scale(1.03,1)" font-size="20">p=0.0166</text>
<text transform="translate(974.27,677.70) rotate(-90) scale(1.03,1)" font-size="20">p=0.0043</text>
<text transform="translate(1010.34,677.70) rotate(-90) scale(1.03,1)" font-size="20">p=0.0322</text>
<text transform="translate(1046.41,677.70) rotate(-90) scale(1.03,1)" font-size="20">p=0.0007</text>
<text transform="translate(1082.48,677.70) rotate(-90) scale(1.03,1)" font-size="20">p&lt;0.0001</text>
<text transform="translate(1118.55,677.70) rotate(-90) scale(1.03,1)" font-size="20">p=0.0001</text>
<text transform="translate(1154.62,677.70) rotate(-90) scale(1.03,1)" font-size="20">p&lt;0.0001</text>
<text transform="translate(1190.69,677.70) rotate(-90) scale(1.03,1)" font-size="20">p&lt;0.0001</text>
<text transform="translate(1226.76,677.70) rotate(-90) scale(1.03,1)" font-size="20">p&lt;0.0001</text>
<text transform="translate(1262.83,677.70) rotate(-90) scale(1.03,1)" font-size="20">p=0.0002</text>
<text transform="translate(1298.90,677.70) rotate(-90) scale(1.03,1)" font-size="20">p=0.0023</text>
<text transform="translate(1334.97,677.70) rotate(-90) scale(1.03,1)" font-size="20">p=0.0060</text>
<text transform="translate(1371.04,677.70) rotate(-90) scale(1.03,1)" font-size="20">p&lt;0.0001</text>
<text transform="translate(1407.11,677.70) rotate(-90) scale(1.03,1)" font-size="20">p=0.0025</text>
<text transform="translate(1443.18,677.70) rotate(-90) scale(1.03,1)" font-size="20">p&lt;0.0001</text>
<text transform="translate(947.60,821.00) rotate(-90) scale(1.03,1)" font-size="20" text-anchor="end">Media</text>
<text transform="translate(983.67,821.00) rotate(-90) scale(1.03,1)" font-size="20" text-anchor="end">TLR1/2</text>
<text transform="translate(1019.74,821.00) rotate(-90) scale(1.03,1)" font-size="20" text-anchor="end">TLR3</text>
<text transform="translate(1055.81,821.00) rotate(-90) scale(1.03,1)" font-size="20" text-anchor="end">TLR4</text>
<text transform="translate(1091.88,821.00) rotate(-90) scale(1.03,1)" font-size="20" text-anchor="end">TLR5</text>
<text transform="translate(1127.95,821.00) rotate(-90) scale(1.03,1)" font-size="20" text-anchor="end">TLR6/2</text>
<text transform="translate(1164.02,821.00) rotate(-90) scale(1.03,1)" font-size="20" text-anchor="end">TLR7</text>
<text transform="translate(1200.09,821.00) rotate(-90) scale(1.03,1)" font-size="20" text-anchor="end">TLR8</text>
<text transform="translate(1236.16,821.00) rotate(-90) scale(1.03,1)" font-size="20" text-anchor="end">TLR9</text>
<text transform="translate(1272.23,821.00) rotate(-90) scale(1.03,1)" font-size="20" text-anchor="end">Dectin-1</text>
<text transform="translate(1308.30,821.00) rotate(-90) scale(1.03,1)" font-size="20" text-anchor="end">NOD1</text>
<text transform="translate(1344.37,821.00) rotate(-90) scale(1.03,1)" font-size="20" text-anchor="end">NOD2</text>
<text transform="translate(1380.44,821.00) rotate(-90) scale(1.03,1)" font-size="20" text-anchor="end">AIM2</text>
<text transform="translate(1416.51,821.00) rotate(-90) scale(1.03,1)" font-size="20" text-anchor="end">RIG-I/MAVS</text>
<text transform="translate(1452.58,821.00) rotate(-90) scale(1.03,1)" font-size="20" text-anchor="end">cGAS/STING</text>
<text transform="translate(851.50,646.00) rotate(-90) scale(1.03,1)" font-size="20" text-anchor="middle" font-weight="bold">Secreted cytokine (pg/mL)</text>
<circle cx="1492.00" cy="628.70" r="10.3" fill="#fff" stroke="#000" stroke-width="2.6"/>
<circle cx="1492.00" cy="661.30" r="10.3" fill="#fd7bab" stroke="#000" stroke-width="2.6"/>
<text transform="translate(1511.60,635.60) scale(1.03,1)" font-size="20">TGF-β</text>
<text transform="translate(1511.60,668.20) scale(1.03,1)" font-size="20">IL-1β</text>
<text transform="translate(1599.50,418.90) scale(0.96,1)" font-size="33.5" font-weight="bold">e</text>
<line x1="1685.40" y1="428.00" x2="1685.40" y2="735.20" stroke="#000" stroke-width="2.2" />
<line x1="1679.40" y1="734.10" x2="1685.40" y2="734.10" stroke="#000" stroke-width="2.2" />
<text transform="translate(1674.60,739.60) scale(1.03,1)" font-size="20" text-anchor="end">0</text>
<line x1="1679.40" y1="673.10" x2="1685.40" y2="673.10" stroke="#000" stroke-width="2.2" />
<text transform="translate(1674.60,678.60) scale(1.03,1)" font-size="20" text-anchor="end">250</text>
<line x1="1679.40" y1="612.10" x2="1685.40" y2="612.10" stroke="#000" stroke-width="2.2" />
<text transform="translate(1674.60,617.60) scale(1.03,1)" font-size="20" text-anchor="end">500</text>
<line x1="1679.40" y1="551.10" x2="1685.40" y2="551.10" stroke="#000" stroke-width="2.2" />
<text transform="translate(1674.60,556.60) scale(1.03,1)" font-size="20" text-anchor="end">750</text>
<line x1="1679.40" y1="490.10" x2="1685.40" y2="490.10" stroke="#000" stroke-width="2.2" />
<text transform="translate(1674.60,495.60) scale(1.03,1)" font-size="20" text-anchor="end">1000</text>
<line x1="1679.40" y1="429.10" x2="1685.40" y2="429.10" stroke="#000" stroke-width="2.2" />
<text transform="translate(1674.60,434.60) scale(1.03,1)" font-size="20" text-anchor="end">1250</text>
<line x1="1684.30" y1="734.10" x2="1786.00" y2="734.10" stroke="#000" stroke-width="2.2" />
<rect x="1694.45" y="725.56" width="12.90" height="8.54" fill="#0aa89c" stroke="#000" stroke-width="2.2" />
<line x1="1700.90" y1="725.07" x2="1700.90" y2="726.05" stroke="#000" stroke-width="2.2" />
<line x1="1697.40" y1="725.07" x2="1704.40" y2="725.07" stroke="#000" stroke-width="2.2" />
<line x1="1697.40" y1="726.05" x2="1704.40" y2="726.05" stroke="#000" stroke-width="2.2" />
<circle cx="1697.90" cy="724.83" r="4.0" fill="#000"/>
<circle cx="1700.90" cy="724.58" r="4.0" fill="#000"/>
<circle cx="1703.90" cy="725.07" r="4.0" fill="#000"/>
<line x1="1700.90" y1="734.10" x2="1700.90" y2="740.10" stroke="#000" stroke-width="2.2" />
<rect x="1717.05" y="701.40" width="12.90" height="32.70" fill="#0aa89c" stroke="#000" stroke-width="2.2" />
<line x1="1723.50" y1="699.45" x2="1723.50" y2="703.36" stroke="#000" stroke-width="2.2" />
<line x1="1720.00" y1="699.45" x2="1727.00" y2="699.45" stroke="#000" stroke-width="2.2" />
<line x1="1720.00" y1="703.36" x2="1727.00" y2="703.36" stroke="#000" stroke-width="2.2" />
<circle cx="1721.50" cy="694.57" r="4.0" fill="#000"/>
<circle cx="1720.50" cy="700.92" r="4.0" fill="#000"/>
<circle cx="1726.50" cy="699.94" r="4.0" fill="#000"/>
<line x1="1723.50" y1="734.10" x2="1723.50" y2="740.10" stroke="#000" stroke-width="2.2" />
<rect x="1741.45" y="683.84" width="12.90" height="50.26" fill="#0aa89c" stroke="#000" stroke-width="2.2" />
<line x1="1747.90" y1="678.96" x2="1747.90" y2="688.72" stroke="#000" stroke-width="2.2" />
<line x1="1744.40" y1="678.96" x2="1751.40" y2="678.96" stroke="#000" stroke-width="2.2" />
<line x1="1744.40" y1="688.72" x2="1751.40" y2="688.72" stroke="#000" stroke-width="2.2" />
<circle cx="1744.90" cy="678.47" r="4.0" fill="#000"/>
<circle cx="1750.90" cy="679.20" r="4.0" fill="#000"/>
<circle cx="1747.90" cy="694.57" r="4.0" fill="#000"/>
<line x1="1747.90" y1="734.10" x2="1747.90" y2="740.10" stroke="#000" stroke-width="2.2" />
<rect x="1764.55" y="456.18" width="12.90" height="277.92" fill="#0aa89c" stroke="#000" stroke-width="2.2" />
<line x1="1771.00" y1="442.03" x2="1771.00" y2="470.34" stroke="#000" stroke-width="2.2" />
<line x1="1767.50" y1="442.03" x2="1774.50" y2="442.03" stroke="#000" stroke-width="2.2" />
<line x1="1767.50" y1="470.34" x2="1774.50" y2="470.34" stroke="#000" stroke-width="2.2" />
<circle cx="1771.00" cy="432.52" r="4.0" fill="#000"/>
<circle cx="1771.00" cy="452.04" r="4.0" fill="#000"/>
<circle cx="1771.00" cy="480.34" r="4.0" fill="#000"/>
<line x1="1771.00" y1="734.10" x2="1771.00" y2="740.10" stroke="#000" stroke-width="2.2" />
<line x1="1686.50" y1="460.40" x2="1781.50" y2="460.40" stroke="#000" stroke-width="2.2" stroke-dasharray="6.3,3.8"/>
<line x1="1686.50" y1="639.00" x2="1781.50" y2="639.00" stroke="#000" stroke-width="2.2" stroke-dasharray="6.3,3.8"/>
<text transform="translate(1724.00,480.70) scale(1.03,1)" font-size="20" text-anchor="middle">Syner-</text>
<text transform="translate(1725.20,500.20) scale(1.03,1)" font-size="20" text-anchor="middle">gistic</text>
<text transform="translate(1723.60,632.20) scale(1.03,1)" font-size="20" text-anchor="middle">Additive</text>
<polyline points="1725.10,450.10 1725.10,415.40 1770.80,415.40 1770.80,424.30" fill="none" stroke="#000" stroke-width="2.2" stroke-linejoin="miter" />
<polyline points="1746.00,449.50 1746.00,419.20 1770.80,419.20" fill="none" stroke="#000" stroke-width="2.2" stroke-linejoin="miter" />
<text transform="translate(1704.00,412.30) scale(1.03,1)" font-size="20">p&lt;0.0001</text>
<polyline points="1724.90,678.40 1724.90,666.00 1747.90,666.00 1747.90,678.40" fill="none" stroke="#000" stroke-width="2.2" stroke-linejoin="miter" />
<text transform="translate(1735.80,663.50) scale(1.03,1)" font-size="20" text-anchor="middle">ns</text>
<text transform="translate(1708.20,743.60) rotate(-90) scale(1.03,1)" font-size="20" text-anchor="end">Media</text>
<text transform="translate(1730.80,743.60) rotate(-90) scale(1.03,1)" font-size="20" text-anchor="end">TGF-β</text>
<text transform="translate(1755.20,743.60) rotate(-90) scale(1.03,1)" font-size="20" text-anchor="end">IL-1β</text>
<text transform="translate(1778.30,743.60) rotate(-90) scale(1.03,1)" font-size="20" text-anchor="end">TGF-β + IL-1β</text>
<text transform="translate(1617.50,580.50) rotate(-90) scale(1.03,1)" font-size="20.5" text-anchor="middle" font-weight="bold">Secreted IL-11 (pg/mL)</text>
<text transform="translate(2.50,985.00) scale(0.96,1)" font-size="33.5" font-weight="bold">f</text>
<text transform="translate(144.90,977.80) scale(1.03,1)" font-size="20" text-anchor="middle" font-style="italic">Il11<tspan font-size="11.5" dy="-7.6">mNG</tspan></text>
<text transform="translate(144.50,1002.20) scale(1.03,1)" font-size="20" text-anchor="middle">Anti-IgG, chronic DSS</text>
<text transform="translate(460.40,977.80) scale(1.03,1)" font-size="20" text-anchor="middle" font-style="italic">Il11<tspan font-size="11.5" dy="-7.6">mNG</tspan></text>
<text transform="translate(458.70,1002.20) scale(1.03,1)" font-size="20" text-anchor="middle">Anti-TGF-β/IL-1β, chronic DSS</text>
<defs><filter id="blur8" x="-20%" y="-20%" width="140%" height="140%"><feGaussianBlur stdDeviation="8"/></filter></defs>
<g><clipPath id="c1"><rect x="0" y="1012.1" width="289" height="288.4"/></clipPath>
<rect x="0.00" y="1012.10" width="289.00" height="288.40" fill="#020208" />
<g clip-path="url(#c1)">
<g filter="url(#blur8)">
<path d="M0.0,1012.1 L150.0,1012.1 L150.0,1052.1 L100.0,1117.1 L0.0,1110.1 Z" fill="#0a14a0" fill-opacity="0.55"/>
<path d="M150.0,1012.1 L289.0,1012.1 L289.0,1162.1 L110.0,1117.1 Z" fill="#050a60" fill-opacity="0.5"/>
<path d="M0.0,1110.1 L289.0,1152.1 L289.0,1224.1 L0.0,1144.1 Z" fill="#0a16b0" fill-opacity="0.55"/>
<path d="M0.0,1158.1 L289.0,1236.1 L289.0,1264.1 L0.0,1198.1 Z" fill="#061070" fill-opacity="0.45"/>
<path d="M0.0,1198.1 L289.0,1264.1 L289.0,1301.1 L0.0,1301.1 Z" fill="#04160e" fill-opacity="0.6"/>
<path d="M0.0,1144.1 L289.0,1224.1 L289.0,1236.1 L0.0,1158.1 Z" fill="#08240e" fill-opacity="0.6"/>
</g>
<path d="M45.5 1016.4l0.6 0.1M170.8 1068.4l0.2 0.2M31.2 1096.0l1.6 0.1M97.4 1101.9l0.6 2.0M222.4 1133.0l0.7 2.1M106.5 1191.5l-0.5 1.8M250.4 1064.8l-1.8 0.5M160.1 1210.2l0.0 0.4M238.1 1184.1l1.4 0.9M36.5 1150.3l-0.2 0.4M265.1 1070.9l0.8 0.9M13.5 1093.4l-0.5 0.0M89.9 1051.5l0.1 1.0M167.9 1139.1l1.7 0.4M190.7 1139.6l0.8 1.3M57.9 1073.9l-0.7 0.2M89.3 1240.4l1.1 0.5M177.6 1230.2l-1.6 1.2M195.9 1139.0l-0.4 1.6M65.7 1210.2l0.6 1.3M153.3 1138.1l0.4 1.3M181.5 1112.3l-0.6 1.9M157.0 1215.4l-0.7 1.7M219.1 1157.1l0.4 0.2M261.6 1150.9l0.6 0.2M22.4 1040.0l0.2 0.9M244.0 1064.4l-0.7 0.8M155.7 1118.8l0.6 0.4M277.9 1098.3l0.2 0.6M74.2 1127.9l0.8 0.6M46.2 1148.2l0.0 1.5M139.9 1114.2l0.0 0.6M242.2 1233.9l-0.7 0.7M266.1 1135.4l1.9 0.6M157.1 1136.7l-1.0 0.6M88.1 1103.7l-2.0 0.4M24.4 1251.0l-0.7 1.2M213.5 1118.3l1.3 0.7M81.3 1018.5l-0.2 1.4M188.2 1244.1l-0.3 1.8M39.5 1152.9l1.4 0.3M197.7 1104.6l-0.1 0.8M136.2 1222.9l1.8 1.0M207.3 1183.6l0.7 0.5M190.8 1234.7l-1.0 0.4M149.1 1027.4l0.6 0.4M273.1 1174.4l0.9 1.6M29.4 1191.4l-0.3 0.6M20.2 1048.0l-0.0 1.1M166.4 1142.8l-0.2 0.3M89.0 1155.8l-1.2 0.1M201.7 1173.6l1.6 1.4M218.4 1083.0l-0.1 0.6M68.0 1139.1l-1.4 1.1M17.7 1130.5l1.7 1.3M177.0 1097.4l-1.0 0.5M269.5 1117.1l-1.5 0.1M213.1 1175.7l-1.9 0.7M87.3 1187.4l1.1 0.7M154.6 1141.7l-0.1 1.0M139.5 1015.4l-1.1 1.1M67.8 1194.5l0.2 1.0M256.4 1197.3l1.0 1.8M11.0 1051.3l0.6 0.8M43.3 1067.6l-0.4 0.6M30.0 1017.7l0.8 0.6M72.0 1105.8l-0.0 0.5M46.5 1070.0l0.9 1.2M269.7 1297.3l-0.3 0.4M141.1 1046.8l1.4 0.1M75.0 1026.9l-0.8 0.3M155.8 1206.7l1.4 0.1M214.8 1169.6l0.4 0.3M107.7 1064.7l0.1 0.4M99.6 1138.8l0.5 2.1M4.1 1135.2l-0.7 0.1M276.1 1075.4l0.4 1.4M245.4 1190.1l2.1 0.5M60.3 1072.5l1.2 0.7M108.3 1188.8l0.5 0.2M4.7 1020.8l-1.3 1.8M149.7 1180.6l-1.1 0.7M45.0 1119.1l-1.7 1.0M103.6 1136.3l1.9 0.3M16.2 1065.1l-0.7 0.7M272.7 1198.8l1.3 0.4M94.8 1103.6l-1.2 0.9M67.5 1087.4l-0.2 0.8M232.0 1085.6l1.6 1.3M63.1 1069.6l-0.2 0.5M75.9 1033.9l-1.7 1.3M188.4 1168.6l-0.5 0.8M89.4 1263.6l-0.2 0.4M63.4 1090.7l-0.3 1.9M240.8 1129.7l0.2 0.3M96.9 1206.7l1.5 1.3M58.0 1073.1l1.6 1.3M68.9 1200.8l-0.1 0.8M162.5 1284.3l-2.0 0.2M144.2 1121.8l-0.6 0.2M46.2 1154.2l0.3 0.5M131.1 1119.5l1.4 1.6M22.2 1101.3l-1.2 0.3M115.8 1027.1l1.5 0.9M277.9 1188.7l0.9 0.1M83.4 1061.4l1.0 0.9M14.5 1092.9l-0.3 1.0M265.0 1209.7l-1.1 1.4M272.6 1196.4l0.3 0.9M72.2 1069.6l0.7 0.6M260.8 1084.5l-1.3 0.0M4.9 1033.1l0.0 0.5M246.3 1152.5l1.2 1.8M288.0 1143.3l0.9 1.2M127.2 1136.4l-1.5 0.4M75.4 1016.8l-0.2 0.8M104.7 1088.7l-0.5 2.1M123.3 1172.5l0.6 0.8M29.3 1195.8l-1.4 0.9M16.5 1022.0l0.6 0.3M2.0 1130.5l0.7 0.3M181.1 1141.4l1.3 0.2M37.6 1122.7l0.2 1.0M219.9 1220.4l-0.5 0.3M189.5 1289.1l0.4 1.3M112.5 1089.4l-0.3 0.1M225.8 1167.4l-1.5 0.4M56.3 1206.3l-0.4 0.9M277.7 1209.8l-1.0 1.6M89.8 1122.8l-0.2 0.2M139.6 1050.3l-1.6 0.6M270.4 1108.8l-0.4 0.3M282.0 1107.9l-1.7 0.4M88.7 1132.6l-1.1 0.1M274.2 1190.3l-1.3 1.5M148.8 1169.7l1.1 0.7M72.3 1146.4l1.1 1.2M26.1 1172.8l1.0 0.3M258.8 1187.5l-0.8 0.8M39.8 1069.1l-0.1 0.3M280.8 1213.3l-0.1 1.4M147.4 1026.7l0.7 0.9M45.4 1080.6l-0.5 1.6M133.4 1165.9l-0.1 1.9M237.3 1175.5l-1.3 1.4M88.6 1062.6l-0.4 0.9M245.5 1170.6l0.1 1.2M84.3 1153.0l0.9 1.0M38.5 1101.7l0.4 0.7M131.2 1135.4l-1.4 0.1M247.7 1155.0l1.0 1.1M198.9 1096.7l0.2 0.7M233.4 1070.6l-0.0 1.2M266.9 1168.1l0.8 1.9M246.6 1077.1l0.3 0.4M69.7 1141.6l0.1 2.2M39.6 1099.8l0.0 0.4M157.5 1018.6l1.6 0.5M210.1 1226.7l-0.3 0.8M197.3 1110.5l-0.6 2.0M263.1 1206.3l0.5 1.1M114.9 1041.5l-0.8 0.2M147.3 1063.3l-0.2 0.4M124.0 1183.9l0.6 1.2M5.0 1176.4l-0.1 0.7M138.3 1145.2l0.3 0.6M276.1 1208.0l-1.2 0.2M55.1 1124.3l0.2 1.6M78.0 1122.8l1.0 0.6M105.3 1106.7l1.7 0.0M92.3 1210.3l-0.4 1.7M67.4 1133.0l0.6 1.5M151.2 1120.0l-0.9 0.6M289.0 1169.1l-0.4 1.1M17.3 1073.1l-1.0 1.8M276.6 1093.8l-0.2 0.3M179.7 1195.7l0.7 1.5M2.8 1061.8l-0.4 0.0M108.5 1076.5l1.0 0.6M219.9 1165.2l0.0 1.0M97.8 1207.6l0.5 0.1M226.1 1195.0l0.5 0.3M113.4 1127.3l-0.4 1.0M179.5 1068.9l1.3 0.1M185.0 1053.3l-0.2 0.7M68.9 1036.5l-0.1 0.4M180.3 1013.7l0.4 0.8M10.8 1120.9l-1.1 0.9M208.8 1181.4l-0.5 0.1M176.7 1118.7l0.4 1.1M212.8 1111.0l-0.4 0.1M15.0 1069.6l-0.3 0.4M244.4 1198.5l-0.1 0.5M219.5 1157.1l-0.3 0.2M218.2 1164.4l0.8 0.3M288.5 1247.7l-1.5 0.1M287.2 1208.6l-0.9 0.9M163.8 1123.8l-1.5 1.0M107.7 1082.3l-0.1 0.9M216.2 1198.9l-2.0 0.1M24.5 1124.9l0.9 1.7M28.8 1118.8l0.2 1.8M12.4 1223.3l-0.0 0.4M124.8 1256.7l0.5 0.7M240.4 1057.5l-1.1 1.5M119.6 1030.9l0.0 1.8M137.0 1029.4l0.1 0.3M47.8 1095.8l0.2 1.2M72.5 1012.1l-0.2 1.9M214.4 1190.3l1.6 0.6M11.2 1166.2l0.6 1.7M87.2 1090.5l0.4 0.1M44.4 1084.7l0.4 0.9M152.4 1122.2l0.1 1.2M86.9 1121.7l-0.6 0.3M75.5 1097.2l1.5 0.0M220.4 1095.3l0.1 1.3M62.0 1017.0l0.7 1.8M224.0 1291.9l-0.5 0.1M283.4 1156.8l-0.7 1.5M168.0 1029.9l-0.7 0.4M160.3 1079.2l0.5 1.1M231.7 1077.5l-0.3 1.7M61.7 1085.7l-0.4 0.0M59.9 1205.7l1.3 1.2M227.0 1182.9l0.5 1.4M107.2 1128.9l0.8 0.6M269.2 1188.9l-1.8 0.5M162.0 1155.2l-0.2 1.1M285.5 1208.1l1.0 0.5M51.3 1216.3l-1.6 0.2M241.3 1149.3l-0.7 0.0M3.6 1300.5l1.4 0.2M181.8 1034.1l-1.7 1.2M78.8 1138.5l-0.7 0.1M282.6 1155.0l-0.7 0.3M158.4 1197.7l1.0 0.6M251.0 1249.4l0.7 0.2M131.4 1171.4l-0.5 0.3M140.5 1143.4l-0.4 1.6M195.2 1174.7l0.7 0.2M37.4 1065.8l-0.5 0.2M271.1 1080.1l0.1 0.4M38.0 1025.0l-0.1 0.7M266.2 1291.9l-0.2 0.3M227.3 1156.7l-1.0 1.0M111.9 1124.4l1.2 1.8M117.9 1037.3l-1.3 0.2M232.8 1153.4l-0.1 1.6M280.2 1179.5l-1.6 0.0M45.1 1173.7l-0.3 1.5M150.5 1139.2l-0.5 0.0M73.0 1142.9l1.2 1.0M264.7 1271.1l1.6 0.9M236.5 1267.1l0.3 1.1M2.3 1057.1l-0.2 1.9M202.9 1295.0l0.7 0.1M122.3 1152.8l0.8 1.5M59.2 1092.3l0.8 0.6M183.8 1150.0l1.1 0.3M124.0 1209.9l-0.2 0.7M53.9 1175.9l-1.3 1.3M1.1 1099.2l0.0 1.4M287.7 1122.7l1.8 0.5M139.4 1055.2l-0.2 0.3M142.9 1038.0l1.2 0.2M110.0 1171.6l0.7 0.4M73.5 1114.5l0.8 0.9M89.0 1163.0l0.2 1.0M40.0 1171.8l1.0 1.9M223.2 1168.0l-1.9 0.1M119.1 1179.9l-1.3 1.3M98.5 1017.0l-0.4 0.6M52.3 1126.5l0.4 0.2M177.9 1116.4l0.6 1.8M59.5 1141.2l0.3 0.4M220.8 1109.2l-1.0 0.5M27.5 1148.3l-0.4 0.3M91.7 1109.9l0.8 2.0M71.0 1185.8l-0.3 1.8M283.9 1202.2l-0.0 0.6M203.6 1036.8l1.7 1.0M147.6 1137.6l-1.3 0.4M7.9 1101.7l-1.8 0.5M234.6 1186.5l-1.4 0.0M27.2 1052.7l-0.3 1.4M155.4 1166.9l-1.1 1.0M44.1 1177.6l0.0 1.6M211.3 1219.3l0.7 1.3M266.5 1173.0l-0.6 2.0M9.1 1116.8l-0.3 0.5M42.7 1066.5l0.4 0.8M59.6 1158.7l-1.7 0.5M183.4 1170.1l1.4 0.6M119.4 1221.8l-0.6 0.3M132.4 1113.3l-0.3 1.1M219.6 1187.9l0.4 0.9M111.7 1085.3l0.2 0.9M269.4 1179.2l0.5 0.2M288.2 1291.4l-0.6 0.4M115.5 1045.1l-0.8 2.0M149.7 1028.9l0.4 0.2M103.0 1036.7l0.3 0.7M225.6 1187.9l-1.7 0.7M132.6 1087.4l1.9 0.9M285.9 1176.9l1.7 1.0M9.1 1115.8l-0.5 1.6M209.7 1222.6l-1.1 1.6M249.7 1177.1l0.8 0.1M44.6 1021.1l0.0 1.4M5.0 1167.4l-0.5 0.4M86.8 1282.5l-0.1 0.6M257.9 1194.0l-0.5 1.3M158.4 1080.9l-2.0 0.3M131.5 1136.7l0.8 0.5M11.0 1040.3l-0.5 0.0M95.6 1021.6l-0.2 2.1M209.1 1144.5l1.0 1.0M197.8 1255.6l0.0 0.3M20.7 1103.5l-0.8 0.4M122.9 1150.7l-0.0 0.7M223.2 1132.3l-1.6 0.3M160.4 1143.6l-1.4 0.0M266.2 1129.8l1.0 0.3M149.1 1174.4l1.2 0.4M111.5 1086.7l1.5 1.6M61.5 1138.7l1.3 0.1M145.1 1190.9l1.5 0.6M286.9 1255.4l0.2 1.7M279.1 1184.4l0.0 1.1M72.1 1125.6l-0.7 0.1M73.2 1158.9l-1.0 1.5M188.3 1159.0l0.1 0.5M235.7 1091.5l-0.1 1.2M203.5 1152.3l1.4 0.4M65.1 1158.3l0.3 0.3M249.6 1177.5l-1.9 0.0M72.7 1103.1l1.9 0.1M200.7 1187.7l0.5 0.7M244.4 1068.2l0.6 1.0M153.8 1213.1l-1.2 0.5M168.5 1163.0l-0.4 0.4M164.7 1034.5l2.1 0.6M103.2 1042.8l0.8 0.1M258.6 1060.8l0.2 0.3M245.1 1074.9l0.7 1.6M89.1 1082.7l-0.6 0.6M31.4 1108.3l-0.7 0.3M155.9 1022.4l-1.3 0.3M42.6 1205.9l-0.5 0.8M190.0 1090.2l-0.9 0.2M0.6 1053.4l-1.7 0.4M137.1 1058.9l-1.0 0.6M251.3 1215.4l-0.0 1.0M100.1 1164.7l0.3 0.9M80.5 1065.4l0.3 0.4M190.1 1186.2l0.7 0.3M36.7 1080.7l-0.8 1.0M1.7 1134.2l1.3 0.1M288.0 1016.6l0.5 0.9M206.5 1187.5l-0.5 0.2M136.1 1255.7l-0.5 2.0M13.9 1090.0l1.0 1.5M233.2 1044.2l-0.5 0.9M77.7 1099.0l-0.3 1.6M100.0 1114.2l0.4 0.2M249.3 1182.1l-1.1 0.0M256.4 1125.2l1.1 0.1M71.5 1186.3l0.5 0.4M230.4 1075.6l1.6 0.8M2.0 1102.2l-0.5 0.5M170.0 1151.0l0.3 1.0M206.6 1164.2l-0.9 0.1M39.2 1138.7l0.4 0.1M183.3 1112.3l0.4 0.4M43.6 1135.7l-2.0 0.8M25.8 1145.7l-0.5 1.2M173.5 1075.9l1.2 1.0M207.5 1147.4l-0.3 0.3M93.8 1138.6l2.0 0.3M140.9 1138.4l-1.2 0.9M3.9 1029.8l-2.1 0.5M211.9 1132.2l-0.4 0.2M251.5 1068.1l-0.6 2.1M44.7 1109.5l-1.7 1.2M246.5 1249.8l-0.2 0.6M7.9 1203.1l-0.2 1.0M207.8 1199.7l0.1 0.9M260.9 1144.6l-0.7 1.9M122.9 1013.9l1.8 0.9M41.8 1132.8l-0.0 0.3M274.0 1238.5l-0.5 1.8M172.4 1152.1l-0.6 0.3M160.0 1209.1l0.6 0.9M81.8 1151.2l-1.4 1.0M205.4 1154.7l0.6 1.1M19.5 1096.3l-0.3 0.1M215.6 1100.2l-0.0 1.5M41.5 1108.5l0.0 1.0M139.8 1093.1l-0.0 1.7M73.4 1263.8l-0.2 1.0M91.1 1114.8l0.1 0.8M55.4 1081.9l0.1 1.3M231.5 1199.0l-0.4 0.1M253.7 1230.6l-0.6 1.2M172.6 1138.0l0.6 0.0M276.4 1215.5l-0.6 1.7M153.0 1172.3l-0.9 0.0M34.5 1135.3l-0.8 1.6M74.2 1110.1l-1.4 1.5M17.1 1137.4l-1.5 0.8M33.0 1141.4l-0.3 0.9M272.6 1115.9l-1.4 1.3M193.6 1077.7l-1.9 0.4M202.2 1140.1l-1.6 1.4M117.5 1227.1l1.0 1.2M86.0 1038.6l-1.6 0.4M85.4 1078.5l2.1 0.3M35.9 1025.8l-0.9 1.3M196.7 1017.7l1.2 1.4M93.9 1157.1l-0.7 1.1M45.5 1105.9l-0.1 0.8M150.4 1167.7l1.4 0.9M99.8 1206.0l1.7 0.5M231.4 1242.9l-1.0 0.1M157.8 1028.0l-1.0 0.6M149.4 1165.9l0.2 0.4M104.7 1165.8l1.7 0.2M72.1 1108.0l0.1 1.7M177.6 1148.8l-0.9 0.2M133.3 1204.9l-0.1 1.2M119.1 1021.4l1.4 0.4M126.6 1147.6l-1.5 0.2M193.4 1252.7l-2.0 0.5M179.7 1070.3l1.2 1.7M176.4 1190.4l-0.2 0.6M100.1 1214.0l-0.5 0.7M231.4 1151.9l-2.0 0.6M115.5 1289.9l0.2 1.2M41.1 1247.7l0.6 0.5M102.5 1090.1l-0.2 0.8M22.2 1127.3l-0.6 1.9M279.4 1139.3l0.5 0.2M18.6 1055.7l-2.1 0.4M196.7 1145.0l-0.9 0.3M282.6 1143.8l0.6 0.9M276.6 1186.8l-1.4 0.0M73.0 1102.8l-0.3 0.8M269.8 1244.3l-1.2 1.0M270.4 1110.5l-1.5 0.8M44.2 1121.3l-1.5 0.7M136.9 1085.9l1.4 1.2M30.3 1122.6l-0.7 0.8M105.9 1086.7l0.6 0.5M9.6 1137.6l0.8 1.4M89.5 1111.4l0.2 0.5M171.7 1068.3l-1.2 1.8M223.3 1275.3l-1.5 0.3M239.0 1170.3l0.5 0.5M195.9 1174.6l0.0 1.9M234.4 1105.0l1.2 0.2M241.6 1059.7l1.0 0.8M104.8 1189.6l-0.1 0.4M29.9 1138.1l1.4 0.3M251.4 1161.5l0.3 0.4M55.9 1192.8l1.6 0.6M239.9 1165.3l0.1 0.7M23.4 1032.1l0.5 0.3M108.0 1036.7l0.5 0.8M47.9 1015.2l0.1 1.3M78.7 1012.8l1.5 0.5M109.6 1127.6l-1.1 1.8M171.2 1158.9l1.9 0.3M200.7 1217.0l-0.6 0.1M180.8 1097.1l1.7 0.9M159.5 1055.3l-0.2 0.4M219.5 1239.8l1.6 0.9M270.9 1195.2l-0.2 0.9M188.6 1180.8l-0.3 0.2M250.4 1192.0l2.1 0.3M53.9 1174.8l-1.5 1.4M1.0 1203.5l1.6 0.7M241.8 1136.5l0.5 1.4M238.8 1089.8l1.9 0.1M224.9 1281.9l-0.3 0.9M49.9 1139.3l-0.4 0.7M281.7 1212.0l1.3 1.5M52.2 1283.3l1.6 0.5M43.7 1097.2l-2.1 0.0M154.4 1076.2l-0.4 0.0M135.5 1167.8l-0.6 1.9M265.8 1166.6l-0.8 0.1M57.3 1094.3l0.2 0.2M121.8 1090.1l-0.2 0.6M69.4 1072.1l-0.3 1.6M212.1 1106.5l0.2 0.5M124.9 1060.6l0.9 0.1M0.3 1191.9l-1.2 1.8M72.7 1073.1l-0.7 0.1M137.6 1013.0l0.9 1.3M285.8 1198.4l0.5 1.0M95.2 1136.2l0.8 2.0M116.6 1040.1l-0.8 0.5M95.7 1024.9l-1.2 1.3M279.4 1214.1l0.5 0.1M90.1 1185.5l0.5 0.6M234.7 1246.0l-0.5 0.9M146.0 1181.2l-1.9 0.2M77.8 1054.9l-0.5 1.8M284.1 1188.0l-1.2 1.6M245.5 1047.5l0.0 0.4M257.0 1127.3l-0.2 1.9M252.1 1132.3l-0.7 1.8M5.9 1181.4l-0.0 1.3M123.6 1176.8l-1.1 1.0M80.1 1017.4l0.9 0.1M213.0 1149.0l0.4 1.2M280.4 1219.9l1.3 1.2M267.3 1191.9l0.9 1.2M194.5 1063.4l-2.0 0.9M183.4 1015.8l-0.9 0.5M66.3 1151.6l1.5 1.0M216.9 1143.3l-2.1 0.7M210.1 1140.4l2.0 0.8M31.0 1124.4l-0.5 0.0M219.6 1203.8l1.5 0.0M99.0 1130.4l-0.0 0.6M108.3 1031.3l-0.7 1.2M252.3 1257.4l-1.6 0.6M208.9 1077.8l0.9 0.5M242.3 1227.2l1.0 0.2M277.2 1093.4l0.3 0.1M47.5 1083.0l0.9 1.1M234.5 1259.3l0.7 1.1M23.1 1141.1l-1.9 0.8M261.2 1199.2l0.2 2.0M272.7 1135.4l-2.1 0.2M241.1 1173.6l0.2 1.0M58.6 1193.9l-0.6 1.5M237.6 1180.7l1.9 0.9M129.5 1068.3l0.2 1.5M204.2 1141.4l-0.2 0.4M139.0 1132.3l2.0 0.9M273.1 1289.8l1.0 0.4M122.2 1120.2l0.9 1.6M53.1 1116.4l-0.6 0.4M255.5 1131.3l-0.4 0.4M101.4 1191.6l-0.1 1.8M51.6 1083.3l-0.5 0.9M190.4 1015.9l-0.3 0.0M55.2 1257.9l-1.3 1.0M246.8 1153.9l0.6 0.0M25.8 1110.4l-1.5 1.1M134.2 1106.2l-1.4 0.1M110.0 1170.4l-0.2 1.0M151.3 1035.6l-0.8 0.9M89.2 1253.1l-1.2 0.8M121.0 1035.1l1.0 0.0M4.8 1031.4l-1.8 0.9M94.4 1040.2l-1.1 1.2M214.5 1218.7l-0.1 1.3M126.9 1021.3l-1.1 0.1M285.5 1105.5l0.8 0.2M246.5 1200.6l-0.3 1.0M41.2 1089.8l-0.8 1.0M128.8 1157.3l0.7 0.4M146.6 1289.1l-0.3 1.5M161.7 1234.5l0.3 0.7M202.3 1032.1l-0.5 2.1M272.2 1103.3l1.1 0.7M70.5 1052.2l0.2 0.6M47.0 1108.8l1.4 0.0M70.6 1051.9l-1.1 0.7M240.1 1170.4l-0.4 0.4M231.9 1079.1l1.7 0.7M71.1 1125.2l0.2 1.5M166.4 1156.1l-1.0 1.7M122.8 1139.6l0.1 0.7M103.3 1130.9l-1.2 1.1M24.0 1176.9l0.9 0.4M230.1 1147.1l1.6 0.9M216.3 1148.5l-0.6 0.2M207.7 1129.6l-0.7 0.5M175.1 1265.3l-0.7 1.6M210.6 1157.1l-0.7 0.6M97.6 1109.5l0.3 1.2M89.6 1160.5l0.3 0.4M107.1 1257.1l1.9 0.2M39.8 1073.5l-2.0 0.4M279.7 1113.5l-0.5 2.0M28.7 1125.3l-0.9 0.5M60.5 1165.6l-0.8 1.7M286.8 1075.1l-0.7 1.0M92.3 1144.1l0.4 0.2M58.8 1145.5l0.0 1.2M18.3 1107.3l-0.3 0.9M79.1 1063.9l0.5 0.3M247.3 1142.3l1.2 1.1M67.1 1022.1l-0.5 0.2M101.5 1141.7l0.6 0.4M66.4 1099.7l0.0 0.5M181.9 1098.3l-0.6 0.9M120.8 1072.8l-1.2 0.5M87.4 1088.7l-0.2 0.7M43.6 1095.5l0.2 0.5M65.0 1178.1l-1.8 0.2M165.8 1206.8l-0.2 1.8M42.2 1169.6l-0.1 0.3M284.2 1190.3l0.8 0.8M220.4 1196.8l-1.2 1.3M74.6 1107.4l0.4 1.7M191.9 1154.2l-1.0 1.1M33.4 1148.1l-0.7 0.5M217.1 1196.7l-0.4 1.2M257.5 1280.2l0.6 0.1M182.5 1069.4l-0.3 0.5M133.8 1163.5l-0.7 1.9M75.3 1022.0l0.9 0.8M44.5 1184.4l0.8 0.1M210.7 1076.1l-1.8 0.7M28.6 1036.0l1.4 0.7M118.7 1053.8l0.0 0.5M201.3 1018.8l-0.4 0.6M39.8 1056.5l0.4 0.1M85.1 1120.7l0.6 1.9M189.2 1230.7l-1.7 0.9M117.5 1019.8l-0.2 0.8M185.6 1217.8l-0.6 0.3M219.7 1229.7l1.2 1.8M204.0 1168.2l1.0 0.3M201.1 1225.8l-0.3 1.6M40.2 1234.9l1.9 0.1M119.7 1133.6l1.4 0.5M40.4 1122.4l0.5 0.7M87.6 1106.3l0.3 1.4M13.0 1056.9l0.1 1.6M138.4 1217.2l-0.0 2.1M26.7 1054.8l-0.5 0.3M87.8 1246.8l-0.0 0.4M277.8 1209.0l0.9 0.4M178.1 1051.4l-1.6 1.3M270.5 1178.2l0.9 1.2M177.1 1091.6l-0.5 0.6M263.9 1088.1l-1.2 0.1M165.8 1018.6l0.2 0.3M12.7 1222.4l-2.0 0.0M45.6 1065.3l0.4 0.2M64.7 1126.8l1.2 0.3M3.1 1025.9l-1.2 1.2M116.9 1129.9l-0.6 0.3M237.2 1287.3l-0.9 0.0M208.7 1254.2l-1.1 0.2M69.8 1200.1l-0.2 1.1M173.1 1207.6l-0.7 0.5M59.3 1177.9l-0.0 1.2M286.6 1247.7l0.5 0.6M215.9 1218.1l-1.0 0.4M273.0 1241.7l-1.4 1.4M0.7 1082.6l-0.6 0.8M65.8 1078.6l-0.7 1.3M33.2 1043.2l0.3 0.4M3.1 1063.6l-0.7 0.6M21.5 1118.8l-1.2 1.2M168.7 1151.8l0.4 2.0M89.3 1111.4l0.1 0.4M148.2 1168.3l-0.5 0.9M230.3 1176.0l-0.5 0.0M229.4 1070.1l1.2 0.8M62.7 1252.2l0.7 2.0M124.7 1029.6l-2.0 0.2M244.9 1076.8l-0.4 1.7M56.9 1127.4l-0.6 1.3M265.4 1173.2l-0.5 0.2M233.2 1160.4l1.3 0.5M256.7 1024.0l2.0 0.2M17.0 1079.7l-1.1 0.2M187.0 1132.6l-0.7 1.0M184.3 1077.9l1.2 0.2M248.6 1264.6l-1.6 1.0M26.8 1042.4l-2.0 0.1M98.3 1151.0l0.8 1.2M178.7 1019.0l-1.7 1.1M97.1 1192.2l1.7 0.4M148.7 1172.8l0.3 1.9M148.0 1019.9l-0.8 0.4M14.7 1295.2l-0.2 1.2M241.0 1177.6l0.9 0.1M247.6 1085.2l2.0 0.6M165.4 1163.5l-1.4 0.9M78.1 1138.6l0.9 0.7M107.8 1142.8l-1.9 0.7M84.9 1084.3l-0.0 1.0M72.7 1060.4l-0.5 0.1M173.2 1222.8l-0.6 0.0M129.5 1089.9l0.1 0.5M109.9 1170.8l-0.6 0.4M4.4 1096.5l0.8 0.1M192.2 1093.5l-0.4 0.4M100.5 1186.8l-0.3 0.1M254.6 1113.0l-0.0 0.3M19.6 1068.5l1.2 0.3M259.4 1212.0l-0.9 0.8M119.1 1188.4l0.8 1.3M150.4 1171.9l0.1 0.5M151.0 1181.5l-0.9 1.8M80.1 1183.1l0.9 0.8M114.6 1169.3l-1.6 0.3M253.2 1130.2l-0.2 1.8M104.8 1180.5l0.6 1.4M280.7 1105.0l1.5 0.5M269.8 1162.0l-0.9 0.1M48.1 1077.2l-0.1 0.5M88.9 1086.3l1.7 0.6M187.9 1023.5l0.2 0.3M208.1 1126.7l0.3 1.1M138.9 1028.1l-0.3 1.1M255.4 1112.3l0.9 1.1M273.9 1245.8l-0.9 0.2M286.3 1261.9l0.8 0.1M201.6 1222.9l0.4 0.6M83.1 1286.1l-0.7 1.5M82.1 1181.5l0.3 0.9M124.9 1158.1l-0.0 2.0M200.0 1073.0l1.3 0.8M87.0 1048.2l0.2 1.0M149.9 1117.1l-0.8 1.5M110.5 1273.2l-1.1 1.7M178.8 1221.3l0.7 0.3M249.1 1278.2l1.4 0.6M26.4 1046.5l-1.6 0.6M54.6 1199.4l0.5 0.1M3.7 1072.0l0.5 0.5M46.9 1077.1l-1.5 0.9M273.6 1217.6l0.4 0.9M152.7 1256.5l-0.8 1.4M39.8 1193.1l-1.0 1.1M94.6 1026.7l0.3 0.9M94.2 1140.8l2.1 0.2M92.0 1059.3l0.2 0.2M85.3 1134.6l1.2 0.2M221.3 1273.1l0.5 1.8M4.1 1192.7l0.5 1.4M227.3 1103.1l-0.3 1.7M155.4 1240.9l1.0 0.2M262.4 1247.6l-0.9 1.7M37.4 1106.8l-0.1 1.2M176.5 1013.4l0.7 0.6M18.5 1044.2l0.3 1.8M176.5 1143.6l-0.7 1.7M151.3 1163.3l0.2 0.3M92.1 1157.2l0.8 0.9M147.4 1118.6l-0.5 1.9M213.8 1113.7l0.7 0.5M238.6 1060.5l-0.5 0.5M272.9 1101.5l0.8 1.2M24.7 1115.3l-0.7 0.4M136.1 1016.0l-1.8 0.5M44.5 1152.7l0.4 2.2M172.0 1115.5l-1.5 0.1M199.0 1157.8l0.4 0.3M124.9 1213.3l-1.3 0.9M166.7 1016.5l-0.8 1.0M203.2 1144.2l0.8 0.4M165.5 1149.6l1.0 0.2M86.5 1048.7l-0.4 0.4M95.6 1122.5l1.5 0.5M124.0 1204.8l0.0 1.7M259.8 1171.2l0.4 0.8M147.3 1179.3l-0.1 0.5M17.3 1117.7l-1.6 1.3M83.9 1120.4l0.7 0.4M231.1 1228.3l0.7 2.0M79.8 1076.3l1.4 0.6M109.4 1016.2l0.3 0.1M22.4 1025.5l0.4 0.8M283.0 1092.6l1.8 0.4M61.4 1072.8l1.0 0.3M90.3 1068.9l1.8 0.4M171.8 1185.0l0.1 1.8M225.1 1216.0l-0.3 0.2M215.0 1164.5l0.1 1.8M28.2 1091.2l-1.3 0.7M285.4 1097.4l-1.2 0.9M89.5 1012.2l-0.3 0.7M246.5 1208.0l-0.6 1.0M22.7 1029.6l1.8 1.0M8.2 1021.9l-0.4 1.2M218.8 1263.8l0.5 1.5M98.2 1166.1l1.9 0.8M249.7 1190.8l1.5 1.4M113.6 1207.2l0.1 1.2M159.2 1176.1l-0.6 0.5M161.4 1229.6l1.0 0.0M49.6 1177.1l-0.9 1.6M79.3 1193.2l-1.5 0.3M31.6 1194.1l1.4 0.2M157.3 1013.6l1.7 0.2M52.2 1172.4l1.4 1.5M29.1 1036.8l0.6 1.2M138.7 1067.6l-0.1 1.1M257.0 1175.6l0.6 0.5M7.8 1196.1l-0.0 0.7M228.2 1066.0l1.5 0.2M194.5 1124.1l-0.6 1.5M198.3 1073.4l0.4 1.2M56.0 1097.3l-0.7 0.8M254.6 1247.7l-0.2 1.2M246.0 1148.4l1.5 0.3M190.6 1114.2l-1.6 1.3M276.3 1260.3l0.3 1.3M221.7 1159.6l-0.3 0.5M51.8 1130.7l-2.1 0.1M9.2 1120.3l0.7 0.5M247.4 1072.5l-0.7 0.5M196.0 1089.5l0.2 1.5M76.9 1193.5l1.5 1.5M77.0 1097.5l0.4 0.3M138.6 1126.8l0.2 1.1M212.2 1100.9l-0.4 0.1M61.5 1130.3l-1.5 0.4M38.7 1097.6l-1.4 0.8M76.8 1015.6l-0.5 0.2M2.6 1023.4l-0.9 1.8M118.0 1082.9l-0.3 1.4M283.7 1208.9l0.9 1.1M164.0 1148.7l-0.6 0.7M242.5 1181.5l1.4 0.8M122.1 1072.0l0.7 0.6M34.1 1034.9l-1.0 1.5M98.1 1220.5l1.0 0.5M6.5 1121.6l0.8 0.0M139.8 1026.8l0.4 0.2M8.2 1081.9l-0.7 0.0M233.2 1179.5l0.4 0.5M160.2 1171.9l-0.5 1.0M203.9 1202.0l-1.5 1.2M1.7 1159.0l-0.9 0.5M52.0 1089.3l1.0 0.3M103.1 1162.9l1.1 1.4M118.1 1156.1l1.8 0.0M70.5 1265.8l-0.1 1.7M66.1 1144.5l0.7 0.0M281.2 1237.7l0.7 2.1M96.5 1143.7l-0.0 0.4M246.4 1116.0l0.8 0.4M101.0 1061.0l-0.6 0.7M93.4 1208.4l0.1 0.5M224.2 1200.5l-0.6 0.3M104.0 1024.0l1.2 1.1M93.8 1167.3l0.0 2.0M167.8 1159.8l-1.7 0.9M159.2 1138.7l0.7 0.1M257.1 1139.8l0.5 1.5M146.7 1218.7l-0.3 0.8M179.0 1097.1l-0.9 0.8M14.2 1023.6l1.6 1.2M19.8 1053.7l1.0 2.0M256.2 1248.0l-1.0 0.5M273.7 1120.2l0.9 1.0M175.2 1025.2l0.2 2.0M28.4 1097.0l1.0 0.2M87.9 1045.7l0.3 0.3M114.5 1085.1l0.3 2.0M33.9 1092.2l0.0 0.6M146.7 1142.7l-0.3 1.3M97.3 1192.1l0.9 0.6M277.9 1085.2l1.5 0.2M8.1 1130.6l-1.1 0.7M131.7 1171.9l0.4 0.1M121.3 1247.5l-0.7 0.1M209.1 1175.4l-1.5 0.1M0.9 1092.8l0.2 0.5M261.1 1205.4l1.9 0.6M98.3 1094.6l-0.6 0.8M234.1 1230.3l1.7 0.9M82.0 1012.6l-1.1 0.7M209.4 1161.8l0.2 0.4M126.1 1022.0l-1.1 1.5M24.9 1257.3l0.5 0.4M20.0 1138.7l0.1 1.8M128.6 1027.9l-0.0 0.6M114.5 1202.5l0.4 0.0M36.3 1143.5l0.3 1.7M110.8 1021.1l-0.6 1.8M46.2 1105.9l0.3 0.2M66.6 1077.2l1.9 0.6M235.1 1204.5l0.6 0.8M214.7 1133.1l1.2 1.1M133.9 1179.8l-0.3 0.7M275.3 1121.7l-0.4 0.0M280.2 1238.4l0.2 1.2M104.8 1024.2l0.6 0.7M78.4 1199.9l0.5 0.7M116.2 1174.0l-1.0 1.5M147.3 1120.6l-0.9 0.4M29.5 1187.5l1.3 0.8M103.1 1205.6l-1.5 1.0M183.9 1126.0l-0.7 1.1M223.0 1187.2l0.8 1.0M226.1 1203.5l-1.5 1.1M70.3 1149.3l0.5 1.8M264.4 1182.4l1.1 0.4M199.0 1183.5l-0.8 0.1M26.2 1106.9l-0.4 0.7M156.4 1178.6l0.7 0.5M274.8 1023.8l0.7 1.1M197.6 1090.8l-0.6 1.7M108.0 1128.7l0.5 1.0M60.4 1177.6l1.5 0.2M167.6 1176.4l-1.5 1.5M107.9 1162.7l-1.0 1.6M11.4 1062.6l-1.0 1.9M150.7 1063.9l0.9 0.3M55.4 1074.6l1.6 1.2M71.9 1194.6l-1.9 0.6M79.4 1197.9l-0.4 0.1M239.7 1166.0l-1.2 1.5M99.1 1161.5l0.2 1.0M88.1 1083.6l-1.6 1.1M242.9 1187.4l-0.5 0.1M272.4 1075.8l1.0 0.4M128.9 1016.4l1.8 1.1M242.9 1127.9l-1.2 0.7M238.4 1204.1l-0.9 0.8M84.9 1131.1l0.6 0.0M61.4 1068.7l0.4 0.3M246.1 1162.7l0.6 0.4M45.6 1067.2l-1.0 0.7M101.6 1280.9l-0.3 0.3M45.1 1152.9l0.8 1.8M113.9 1076.3l-1.3 1.2M33.7 1028.6l-1.0 0.8M180.5 1111.8l-0.3 2.2M41.1 1117.6l0.5 0.6M24.2 1028.1l1.3 0.5M180.6 1233.4l-0.3 0.2M198.3 1026.4l0.7 0.3M36.0 1200.1l0.3 0.5M207.2 1146.7l1.0 0.3M60.8 1093.2l2.1 0.5M173.4 1279.3l-0.3 0.3M106.6 1028.8l-1.5 0.5M157.0 1037.8l0.7 0.9M239.5 1157.4l1.4 0.1M117.6 1050.8l0.5 1.7M98.2 1076.8l0.5 0.1M164.0 1181.7l-0.7 1.5M248.9 1170.8l-0.3 0.4M234.2 1202.6l-1.0 1.8M184.2 1062.0l0.3 0.7M39.6 1081.1l-0.7 0.2M121.5 1074.8l0.3 0.5M22.5 1176.7l-0.3 1.0M216.5 1295.5l1.2 1.1M191.7 1124.4l0.9 0.8M180.6 1080.4l-0.9 0.8M96.1 1093.4l-0.3 1.5M222.1 1033.8l1.0 0.7M128.2 1090.7l0.3 1.2M95.3 1093.5l-1.8 0.7M25.2 1023.6l-0.8 0.7M118.7 1068.8l-0.8 0.3M178.1 1223.4l0.0 1.0M50.3 1157.1l0.2 1.1M257.2 1172.6l0.3 1.3" stroke="#1618dc" stroke-opacity="0.4" stroke-width="2.3" stroke-linecap="round" fill="none"/>
<path d="M91.1 1078.3l1.7 0.4M283.3 1126.7l-0.7 1.6M199.8 1180.7l0.3 0.0M168.4 1187.7l-0.9 2.0M35.7 1082.0l0.9 0.2M75.7 1219.2l-0.0 0.4M8.2 1245.5l-0.5 0.4M35.2 1039.0l-1.1 0.3M77.8 1148.6l0.4 1.8M38.7 1081.1l0.3 0.4M286.2 1279.4l2.1 0.4M93.5 1036.6l-1.9 0.8M4.0 1082.8l1.5 0.8M15.3 1103.0l-0.4 1.6M131.7 1070.8l-0.0 0.5M40.4 1132.4l-0.7 1.4M264.6 1265.5l0.8 0.2M63.2 1201.7l-0.9 0.3M70.9 1075.7l-0.1 1.7M121.8 1133.4l-1.5 1.6M272.2 1170.8l0.1 1.1M273.8 1243.2l-0.1 1.3M119.4 1154.6l-0.9 0.1M83.9 1120.5l0.6 0.8M160.6 1037.2l0.2 0.5M40.2 1071.4l-0.7 1.0M284.8 1164.9l0.7 0.5M39.4 1149.9l0.2 0.4M219.2 1116.8l-0.6 1.8M271.5 1202.0l-0.9 1.5M45.8 1130.9l-0.0 0.5M10.9 1205.6l-1.4 0.2M277.8 1091.1l-0.9 0.3M21.3 1273.8l-0.4 1.3M215.1 1165.4l-0.4 0.3M174.4 1087.5l-0.4 0.0M252.3 1064.0l1.2 0.1M109.5 1083.7l-0.7 1.3M47.4 1070.8l0.1 0.9M140.8 1167.9l0.8 0.1M206.7 1089.6l1.8 1.0M39.6 1081.6l2.0 0.8M205.9 1162.2l-1.8 0.5M202.4 1018.7l0.2 0.4M78.6 1120.9l1.0 1.3M181.3 1191.1l0.2 0.8M113.4 1218.6l-0.6 0.7M268.1 1089.4l1.1 1.1M1.2 1109.1l-1.7 1.3M130.0 1102.1l-0.7 1.3M118.0 1215.7l1.0 1.2M13.3 1027.8l-0.1 0.9M147.9 1298.7l-1.5 0.7M222.8 1170.5l-0.5 0.4M100.1 1215.0l-0.2 0.8M18.6 1133.0l0.4 2.1M4.4 1120.2l-0.9 0.4M170.7 1169.5l-0.4 0.1M193.0 1057.0l1.1 0.6M239.5 1199.5l-0.4 0.0M101.5 1166.6l1.7 0.6M185.8 1256.6l0.1 0.4M273.5 1175.9l-1.0 0.3M77.3 1185.1l1.7 0.5M107.5 1102.8l1.3 1.1M288.9 1153.5l0.5 0.1M28.0 1105.6l-0.6 0.1M136.5 1021.1l0.6 1.5M131.7 1152.5l-0.4 0.3M101.7 1058.1l0.0 1.1M210.1 1088.4l1.3 0.1M203.1 1182.0l0.6 0.9M20.7 1272.2l-0.1 0.5M49.0 1233.9l-0.5 0.1M193.9 1036.1l-0.7 0.1M10.0 1083.6l-0.7 1.1M286.2 1123.8l-1.4 1.1M87.9 1024.1l-0.4 0.9M115.9 1155.6l-0.1 0.4M143.8 1151.0l-0.8 0.1M123.2 1172.2l0.0 1.2M250.1 1293.7l0.6 0.6M126.1 1129.6l-0.2 0.2M66.7 1190.4l1.0 0.5M78.9 1066.1l-1.2 1.7M94.9 1027.8l-0.1 1.4M278.2 1235.4l0.8 1.0M230.4 1024.1l2.1 0.4M118.2 1037.2l1.0 1.0M105.7 1138.1l0.8 1.2M282.2 1238.7l-0.9 1.5M163.9 1164.5l1.3 0.7M109.9 1091.0l-0.0 0.3M55.3 1018.1l-0.4 1.5M81.3 1157.8l-0.2 1.4M160.0 1024.7l-0.2 0.3M63.9 1018.0l2.1 0.0M252.2 1242.7l-0.5 0.6M82.4 1097.5l-0.2 0.3M241.6 1209.3l-0.8 0.8M260.2 1206.5l0.2 1.3M232.2 1183.0l1.0 0.6M58.0 1196.8l1.1 0.7M27.9 1013.7l-0.4 0.0M254.7 1278.7l-0.4 0.7M100.6 1039.0l-1.9 0.9M160.1 1180.0l-1.1 1.8M128.3 1094.6l0.9 0.7M139.3 1274.5l0.9 1.0M229.1 1095.8l-0.0 1.8M163.7 1056.7l1.8 1.2M64.7 1030.2l0.6 0.5M172.8 1189.0l-0.7 1.9M72.6 1103.1l-1.7 1.2M283.3 1165.2l-0.2 1.8M4.4 1142.8l0.2 0.3M86.5 1103.5l0.3 0.4M176.2 1042.0l0.3 1.2M224.3 1138.1l0.1 1.0M109.4 1147.7l-0.3 0.2M102.6 1148.1l1.3 1.3M172.0 1248.5l1.2 1.2M126.5 1156.3l0.5 0.7M142.0 1121.0l0.9 0.1M38.3 1014.2l-0.8 0.3M79.0 1206.0l0.5 0.9M66.0 1082.6l-0.6 1.3M28.8 1046.2l-1.2 0.5M105.7 1030.1l0.6 1.0M114.7 1015.3l1.0 2.0M111.2 1032.3l0.5 0.5M0.4 1240.9l-1.7 0.6M267.4 1207.7l-1.0 1.3M207.9 1254.7l-0.1 1.9M224.4 1152.7l-1.6 0.5M67.4 1075.9l1.2 0.1M119.6 1170.1l0.4 0.5M49.3 1209.0l-1.9 0.5M232.9 1074.4l1.7 0.3M256.7 1176.5l-0.2 1.3M132.2 1139.3l-1.1 0.9M59.7 1071.2l1.8 0.2M71.6 1031.3l-1.0 1.7M192.2 1082.1l1.7 0.8M196.0 1172.9l0.4 0.4M25.7 1259.8l-2.0 0.1M204.4 1116.1l-1.2 0.1M288.6 1125.6l1.8 0.9M26.7 1297.0l1.8 0.3M119.8 1135.4l1.5 0.8M287.5 1191.5l-0.2 1.6M30.0 1049.1l1.1 0.7M2.2 1119.1l-1.1 1.2M222.1 1154.1l1.4 0.6M198.8 1103.5l0.5 0.9M116.6 1083.6l0.3 1.6M39.5 1172.8l-1.2 1.3M129.7 1140.9l1.0 1.6M136.0 1146.6l-0.1 0.6M51.6 1223.1l0.4 1.0M87.5 1082.2l-0.4 0.7M193.6 1283.4l0.9 1.4M189.2 1164.4l-0.7 0.9M230.1 1124.7l0.7 0.6M97.8 1146.9l-0.6 0.8M287.4 1187.9l-1.6 1.4M177.9 1143.6l1.8 0.3M268.0 1199.3l-1.2 1.2M181.9 1122.2l-0.9 1.4M192.9 1280.8l-1.3 0.7M174.7 1168.5l-0.2 1.3M176.9 1232.4l0.2 0.3M181.0 1049.1l1.5 0.4M70.0 1121.9l-0.3 1.1M91.3 1126.9l-0.3 1.2M156.7 1050.4l-1.3 1.7M196.8 1174.0l1.4 1.6M101.5 1062.0l1.6 0.6M138.1 1241.8l-0.0 0.5M231.0 1155.7l1.0 1.8M177.3 1188.8l-0.0 2.2M55.6 1133.4l0.4 1.8M60.8 1043.4l0.9 0.1M266.2 1015.2l1.4 0.0M5.0 1020.0l0.1 0.3M118.8 1029.2l0.4 0.8M100.9 1104.6l0.1 0.3M236.3 1150.3l1.2 1.3M179.8 1156.9l0.9 1.6M276.4 1241.1l0.2 1.0M288.8 1182.2l0.1 1.5M4.5 1055.0l-2.0 0.2M7.3 1141.1l-0.7 1.0M143.0 1198.1l0.3 1.3M264.5 1140.1l1.4 1.3M133.5 1031.4l0.8 0.5M59.6 1118.8l-1.2 0.1M153.9 1059.9l-0.7 1.1M80.7 1199.0l0.5 0.6M237.5 1206.3l1.5 0.2M30.6 1213.3l-0.1 0.9M32.8 1144.4l0.8 1.9M213.9 1107.5l-1.3 1.5M137.3 1143.8l0.1 0.6M5.0 1042.9l-1.2 1.3M177.2 1113.0l-1.5 0.7M33.5 1082.9l0.9 0.4M118.2 1056.1l0.8 1.6M283.3 1209.4l-0.6 1.0M213.6 1127.9l0.9 1.3M99.0 1160.9l0.6 2.0M88.8 1129.7l-0.4 0.3M47.5 1145.2l1.9 0.1M240.9 1177.9l-0.8 1.5M13.1 1117.4l1.4 1.2M218.3 1191.2l-0.2 0.5M52.2 1204.6l0.8 0.1M45.9 1197.0l-0.0 1.6M85.9 1126.0l1.0 1.1M155.2 1162.7l0.2 0.4M264.0 1017.8l1.5 0.7M37.0 1062.8l1.7 0.9M90.1 1075.6l-0.2 0.4M190.1 1151.9l-0.4 1.0M223.8 1147.1l2.1 0.0M275.7 1193.1l-0.1 0.8M77.8 1086.1l0.9 0.4M7.2 1072.7l0.6 0.2M269.1 1135.7l-0.3 0.4M75.3 1053.3l0.2 1.1M101.9 1078.3l-0.7 0.5M113.0 1089.8l-0.5 0.7M128.7 1072.4l0.9 0.5M41.8 1044.2l0.4 0.1M102.5 1055.6l0.4 1.2M196.2 1190.3l-1.1 0.6M96.9 1014.1l0.7 0.9M132.7 1147.7l0.5 0.4M25.4 1053.2l0.3 1.6M255.1 1168.1l0.4 1.6M57.1 1188.3l1.2 1.4M102.5 1158.9l-0.0 0.3M19.9 1043.9l1.4 0.5M106.2 1167.5l-1.8 0.6M255.7 1156.8l-0.8 0.1M154.4 1167.6l0.7 0.3M174.3 1180.0l-0.3 0.5M224.9 1171.9l1.0 0.0M118.2 1215.1l-1.2 1.5M109.9 1019.0l0.2 0.7M238.3 1284.7l-0.4 0.7M5.6 1067.5l0.7 0.5M87.3 1287.5l0.5 0.6M17.6 1121.7l-0.9 0.4M98.8 1273.8l-0.6 1.4M144.1 1020.6l0.6 0.8M222.6 1140.3l-1.4 1.5M68.0 1021.6l1.0 0.4M244.2 1196.2l0.8 1.1M271.9 1100.3l-0.7 2.0M111.3 1122.8l-1.1 1.7M261.9 1241.2l1.4 1.6M106.2 1030.5l0.4 0.2M277.9 1101.5l-0.8 0.7M235.6 1067.8l-1.2 0.2M15.3 1183.1l-0.4 1.5M197.4 1095.6l1.3 1.4M133.8 1161.1l-1.7 0.3M11.9 1148.6l-1.5 1.0M279.3 1259.1l-1.4 1.1M42.1 1277.2l0.7 0.4M151.7 1144.8l0.8 1.9M38.6 1058.8l-0.1 0.8M156.8 1167.1l-0.5 0.6M244.6 1130.8l-0.8 0.7M249.2 1194.1l-0.8 0.4M52.1 1024.3l-2.1 0.7M262.2 1090.6l0.9 1.5M248.4 1270.7l-1.2 0.6M230.2 1117.5l-1.7 0.3M185.0 1095.6l-0.8 0.2M38.3 1015.1l1.1 1.8M76.8 1050.2l-0.4 0.9M193.9 1039.7l-0.3 0.6M166.1 1175.8l1.3 1.4M224.2 1103.8l-0.3 1.1M236.8 1045.9l0.1 0.6M284.3 1221.6l-0.2 1.8M142.8 1028.1l-1.1 1.1M107.9 1212.6l-1.2 0.2M38.7 1130.5l-0.4 1.4M84.5 1015.8l-0.8 1.5M238.5 1159.1l-1.0 0.0M124.5 1071.7l0.4 1.1M149.6 1071.6l0.3 0.7M185.9 1165.2l-0.4 0.1M245.0 1059.1l1.3 1.7M56.2 1136.8l-0.6 0.5M242.3 1083.9l0.0 0.7M233.5 1145.0l-1.0 0.4M54.8 1177.4l-1.5 1.0M60.6 1155.6l1.8 0.8M69.1 1124.3l-1.0 0.2M114.2 1205.7l-1.0 1.2M32.1 1164.2l-0.2 0.3M238.4 1246.9l-0.2 0.5M226.8 1193.9l0.3 1.5M287.8 1197.4l0.3 1.3M133.4 1154.5l-0.1 0.5M228.5 1100.3l-0.4 0.9M221.5 1143.5l0.2 0.6M68.2 1086.6l-0.8 1.0M251.7 1138.7l-0.4 1.0M170.8 1175.5l1.5 1.4M253.5 1121.6l-0.5 1.3M204.3 1023.6l1.1 0.1M181.3 1233.9l-0.4 0.2M204.6 1033.2l1.7 0.4M283.0 1211.1l-0.5 0.4M278.0 1116.0l-0.3 0.5M254.2 1124.8l-0.5 0.4M1.7 1095.9l-0.8 0.3M90.1 1159.2l-0.6 2.1M141.0 1062.0l-0.0 0.4M119.1 1024.2l0.2 0.5M155.5 1074.8l1.1 0.4M164.2 1213.7l0.3 0.9M267.4 1098.5l0.4 1.7M230.9 1236.7l-0.3 0.2M111.5 1161.3l-1.2 0.0M113.1 1245.5l-1.0 1.3M222.1 1243.4l-1.5 0.2M48.1 1220.2l-0.3 1.0M183.2 1185.1l0.7 1.3M156.4 1199.5l-0.7 0.5M130.1 1265.1l0.8 0.7M174.0 1096.1l1.0 1.0M273.2 1155.5l0.0 0.7M107.8 1137.2l-1.2 0.2M7.0 1187.2l-2.1 0.5M26.0 1137.9l-0.7 0.8M58.6 1134.2l0.7 0.5M234.8 1175.7l0.2 1.5M92.8 1176.2l-0.9 0.5M44.4 1134.3l0.9 0.3M191.6 1029.4l0.5 0.4M89.2 1151.6l0.3 0.2M68.1 1077.8l-0.0 0.6M40.2 1026.0l1.7 0.9M42.9 1293.5l0.7 0.0M61.6 1118.2l1.7 0.5M123.9 1116.8l-0.1 0.5M29.8 1035.7l0.4 0.4M103.0 1152.0l0.7 0.5M271.6 1120.8l-0.6 0.1M128.1 1160.3l-2.0 0.2M10.7 1146.8l0.3 0.4M70.8 1048.3l-0.1 0.8M146.6 1173.4l0.4 0.6M49.1 1144.2l-0.3 0.1M54.5 1202.6l0.1 0.6M227.2 1156.9l-0.8 0.7M126.8 1082.4l1.6 0.6M183.6 1067.7l-0.2 1.0M151.4 1179.1l0.4 0.6M260.6 1110.6l-0.4 0.0M182.2 1220.5l1.3 0.9M83.1 1150.5l0.8 0.3M260.9 1062.2l0.4 0.9M8.1 1176.2l1.7 0.9M181.0 1053.2l0.4 0.2M39.4 1025.7l-0.6 0.4M76.6 1065.0l0.5 0.5M0.8 1231.9l0.0 1.9M270.4 1119.1l1.5 0.5M178.2 1175.1l-0.4 0.2M242.6 1080.7l0.8 0.7M91.6 1100.1l0.2 0.7M267.8 1082.6l1.1 0.8M13.0 1023.9l-1.5 1.1M211.8 1189.1l-1.1 1.9M186.7 1187.3l-0.6 1.1M261.1 1176.1l-0.9 0.1M70.4 1110.7l-2.1 0.2M207.4 1253.9l0.3 0.7M176.7 1278.0l0.5 0.8M10.4 1288.0l-0.9 0.1M268.8 1147.5l-0.4 0.6M166.7 1144.7l0.1 1.0M236.2 1230.4l-0.4 2.1M75.5 1088.6l0.1 0.3M239.3 1090.6l1.3 0.5M24.6 1209.7l0.2 0.4M4.7 1094.6l0.3 1.3M208.2 1181.4l0.7 1.7M170.0 1096.4l0.4 1.2M214.3 1180.7l-0.5 1.9M79.6 1067.5l1.7 0.3M122.7 1013.4l-0.3 0.2M102.0 1273.9l1.0 1.8M179.7 1177.3l0.1 0.5M6.3 1103.8l-0.8 2.0M220.3 1087.7l-0.9 1.2M73.1 1081.6l1.4 1.0M1.1 1028.6l-0.6 0.2M247.5 1154.6l0.7 0.5M221.6 1176.3l-0.8 0.4M270.3 1209.9l-0.0 0.5M268.7 1216.4l-1.1 1.0M125.1 1204.1l-1.9 0.8M43.8 1178.3l0.6 0.8M83.9 1079.7l-1.7 0.3M181.6 1231.2l1.0 0.1M199.8 1153.5l0.4 0.2M201.5 1184.7l-1.6 0.3M17.0 1251.1l-0.1 0.6M186.9 1021.6l-1.7 1.3M131.4 1162.4l0.2 0.5M249.4 1163.9l0.6 1.4M88.2 1021.9l0.2 0.7M198.3 1189.5l0.7 0.5M186.9 1238.3l1.3 1.4M90.2 1023.3l-0.3 0.7M197.2 1167.5l0.7 0.7M19.3 1261.9l-0.7 0.3M187.5 1191.4l-1.3 1.1M47.5 1021.6l1.4 1.2M266.6 1186.6l-0.5 1.7M243.0 1282.9l-0.6 0.6M105.8 1040.1l-0.1 1.0M97.9 1089.4l0.2 0.5M20.9 1116.1l-0.7 0.1M236.3 1115.9l-0.7 1.7M234.1 1198.9l-0.6 0.4M122.7 1276.3l-0.6 0.8M282.8 1184.7l0.1 0.5M157.5 1224.9l-1.3 1.2M108.8 1160.6l1.6 0.4M114.7 1018.2l-0.3 0.4M68.7 1238.7l1.7 0.8M212.0 1170.9l-1.2 1.1M38.3 1040.1l-0.2 0.3M288.6 1254.4l0.7 1.3M275.7 1234.9l2.0 0.4M33.5 1023.5l-0.6 0.2M115.6 1036.5l1.5 0.4M76.5 1159.3l-0.0 0.6M213.4 1027.5l0.4 0.1M265.3 1234.2l0.0 0.6M192.5 1144.6l1.0 0.5M147.8 1128.3l-0.5 0.4M178.7 1141.6l1.2 1.2M73.4 1054.1l0.1 0.3M9.6 1055.3l1.7 0.8M251.7 1175.2l-0.2 0.6M215.0 1099.5l-0.8 0.4M85.0 1050.6l0.3 2.1M25.5 1050.6l-1.8 1.2M262.3 1180.9l-0.9 0.3M138.9 1161.7l0.5 0.8M6.0 1279.7l0.0 1.1M38.9 1140.2l0.5 0.1M218.1 1221.6l-0.2 0.6M36.7 1037.4l-0.3 1.5M238.5 1150.8l-0.2 0.6M152.7 1078.9l1.8 0.7M72.2 1145.2l-1.3 0.1M275.9 1251.1l-1.9 1.1M89.7 1103.3l-1.7 0.9M280.8 1248.4l0.9 0.3M197.5 1025.2l0.2 0.9M48.5 1102.3l0.5 1.2M79.6 1170.8l-1.0 1.0M127.7 1115.0l0.7 0.5M103.9 1171.7l-1.3 1.2M280.6 1212.6l0.3 0.9M286.0 1220.8l0.5 0.4M251.8 1087.7l0.1 0.8M281.7 1153.3l-1.5 0.5M14.5 1084.2l-0.2 0.8M1.2 1074.6l-0.5 1.6M218.0 1260.3l0.5 2.0M165.5 1135.3l-0.4 0.1M70.3 1228.8l1.7 0.7M145.5 1180.9l-0.2 0.5M120.5 1020.8l1.3 0.0M117.5 1036.0l1.4 0.5M56.3 1132.5l-1.3 0.0M124.3 1150.3l0.1 0.8M68.1 1200.7l0.6 1.0M282.6 1100.0l1.1 1.8M126.4 1065.9l1.0 1.3M159.5 1177.2l-1.6 0.8M78.9 1179.4l-1.1 1.2M261.2 1130.1l-0.4 0.6M146.9 1045.6l-0.2 0.3M44.4 1262.5l2.0 0.2M239.6 1150.3l-0.2 1.8M194.3 1062.6l0.4 0.4M178.0 1165.8l-0.3 0.3M151.9 1071.7l-0.8 0.4M64.1 1269.2l1.9 0.2M85.6 1063.1l-0.5 1.6M103.5 1094.7l0.3 0.0M11.5 1198.2l-1.6 0.6M252.2 1191.8l-1.0 0.6M214.6 1081.4l-0.1 1.2M256.6 1108.6l-0.7 0.8M198.2 1182.8l0.8 1.4M52.3 1280.6l1.1 0.3M217.4 1196.3l-0.4 1.0M184.2 1236.7l1.5 0.1M119.3 1062.2l0.3 0.1M164.2 1143.5l0.3 1.1M271.6 1145.4l-0.1 0.3M237.3 1071.7l-0.2 0.9M139.8 1155.6l-0.7 0.0M80.2 1100.2l0.8 1.5M177.4 1167.1l0.4 0.0M72.1 1031.8l-1.2 1.2M140.5 1187.2l1.8 0.1M169.0 1291.4l0.9 0.2M150.3 1137.1l0.1 0.4M180.9 1082.4l1.2 1.2M268.3 1099.7l-0.5 0.2M239.4 1191.0l1.5 0.9M76.9 1146.4l-0.6 1.3M190.4 1094.3l0.3 0.1M214.8 1052.6l0.9 1.4M64.6 1206.4l-0.7 1.7M126.6 1158.7l0.2 0.8M55.5 1014.5l-0.5 0.0M235.7 1182.5l0.8 0.1M207.9 1182.8l-1.1 1.3M109.1 1100.6l0.6 1.1M58.6 1190.1l1.3 0.6M166.7 1039.6l0.9 0.2M272.4 1181.1l-2.0 0.0M155.5 1131.2l0.1 0.4M93.4 1206.2l1.1 1.9M242.3 1170.4l-1.1 0.3M65.2 1100.5l-0.2 1.8M86.5 1123.3l1.8 0.3M184.3 1020.6l0.7 0.8M73.7 1296.2l0.6 0.9M194.4 1232.4l1.7 0.5M108.2 1059.5l-1.3 0.6M141.6 1053.9l-0.3 0.0M16.9 1052.4l0.1 0.6M64.7 1292.3l1.4 0.2M281.6 1118.3l-0.3 0.4M8.0 1091.8l0.4 1.1M161.5 1077.7l-1.7 0.1M40.6 1062.9l1.4 1.3M199.8 1085.2l1.0 1.8M250.4 1239.0l1.8 0.5M223.5 1164.6l1.8 1.3M39.2 1070.3l1.0 1.0M161.1 1144.5l-1.0 1.9M6.5 1036.0l1.4 1.3M174.4 1171.0l1.2 0.2M184.2 1146.1l1.2 0.7M120.9 1106.7l0.9 0.6M162.5 1043.9l0.4 0.4M87.3 1151.5l0.1 0.3M0.8 1092.1l0.3 1.6M98.7 1156.7l-1.5 1.2M92.4 1213.7l0.2 0.3M16.5 1198.4l-0.8 1.4M149.5 1137.8l-0.7 0.5M236.3 1230.2l-0.1 1.8M87.7 1134.4l-0.5 0.0M22.8 1163.3l0.4 0.5M155.2 1185.2l-1.2 1.5M95.2 1111.3l0.4 0.3M247.4 1142.4l1.7 0.8M119.2 1133.2l0.6 0.6M103.1 1043.3l0.9 1.1M256.7 1109.1l0.2 0.4M88.7 1057.3l-0.1 0.3M23.9 1115.9l1.9 0.9M153.7 1146.6l-0.3 0.5M273.7 1103.4l0.7 0.5M74.0 1128.3l0.9 1.9M7.1 1025.5l-0.5 0.4M196.3 1120.3l0.0 0.6M95.7 1030.3l0.7 2.1M266.0 1201.0l1.3 0.3M117.6 1056.2l-0.7 0.0M17.2 1126.3l1.6 0.8M108.5 1078.3l0.1 0.5M203.2 1089.1l0.3 1.3M185.0 1272.4l-0.9 0.2M259.8 1123.8l0.7 1.4M219.0 1286.7l0.8 2.0M70.1 1127.2l0.7 0.4M193.3 1135.9l0.2 0.5M226.2 1097.3l0.6 0.6M74.9 1022.4l-1.9 0.0M53.7 1281.2l1.2 0.3M108.1 1179.7l0.1 0.9M19.0 1193.5l0.4 1.6M284.8 1184.5l-0.5 2.0M266.3 1201.1l0.7 0.0M218.6 1243.1l-0.2 0.5M252.5 1221.5l-1.1 1.1M31.7 1114.4l-0.2 0.6M254.9 1113.6l-0.3 1.6M215.5 1082.6l0.3 0.1M273.2 1185.7l-0.1 0.9M82.9 1102.0l-2.2 0.2M205.3 1184.5l-1.1 0.8M161.1 1155.6l0.2 0.3M111.4 1072.6l-0.1 0.4M114.8 1087.6l0.2 0.4M169.3 1027.6l-1.8 1.2M204.1 1221.8l1.3 0.6M255.7 1165.6l1.6 0.3M190.6 1062.0l-0.1 0.8M40.1 1141.2l-0.5 1.0M113.4 1152.9l-1.6 0.1M89.6 1125.9l-0.5 1.9M195.2 1189.5l0.1 1.2M224.5 1169.9l1.3 0.6M222.7 1147.5l-0.1 0.9M172.1 1217.1l1.4 1.1M93.7 1064.6l-0.7 2.0M44.0 1189.3l-0.5 0.9M219.9 1182.5l0.4 1.6M278.8 1043.1l-0.4 1.1M11.6 1269.2l1.2 1.4M68.4 1099.0l-0.7 0.2M60.2 1095.5l0.4 1.1M152.1 1131.1l2.0 0.8M252.2 1080.8l1.6 0.2M56.9 1228.6l-0.8 0.6M55.9 1081.7l0.5 1.8M26.6 1120.8l-0.4 1.3M245.0 1240.5l1.2 1.1M10.7 1178.2l-0.2 1.8M78.7 1149.7l0.7 0.4M83.6 1212.7l0.4 0.6M233.0 1054.7l-0.8 0.6M6.3 1060.3l1.2 1.3M5.1 1076.9l0.2 0.8M89.6 1084.9l-1.5 0.1M190.2 1217.3l-0.8 2.0M52.7 1080.9l-0.4 2.0M124.2 1240.4l-0.1 1.1M142.9 1146.7l0.9 0.3M133.9 1026.7l0.7 0.5M40.5 1096.8l0.5 0.6M229.1 1189.3l1.7 0.7M7.5 1059.8l0.4 1.1M150.2 1164.2l-0.0 1.0M110.1 1016.6l-0.7 1.9M230.1 1097.3l0.3 0.2M107.9 1065.1l-0.1 1.9M38.2 1232.7l0.8 0.1M128.1 1227.7l0.3 0.4M83.4 1142.7l-0.4 1.6M81.3 1119.6l1.7 1.3M215.2 1260.1l-0.5 1.4M265.7 1158.0l-1.1 0.3M186.5 1084.2l-0.1 0.7M33.3 1088.2l-0.6 1.4M176.6 1077.3l0.3 0.2M25.0 1058.3l-0.3 1.1M258.0 1214.7l0.3 0.1M16.2 1087.4l-1.2 0.3M244.1 1139.1l-0.8 0.7M13.7 1119.8l-0.7 0.1M25.6 1017.3l-0.9 0.7M243.8 1232.5l-0.5 0.3M179.0 1173.8l0.1 0.6M11.1 1187.4l1.6 0.1M235.9 1169.0l2.1 0.6M143.2 1175.6l0.7 1.8M253.2 1232.2l-0.7 1.3M251.7 1152.9l-0.0 1.8M162.4 1226.2l1.1 0.6M264.2 1182.2l-0.9 0.4M9.9 1121.4l-0.6 0.0M286.0 1218.4l0.4 1.1M82.0 1033.4l0.1 1.4M40.8 1088.2l-0.9 0.2M75.9 1076.2l-1.2 0.1M171.5 1058.2l0.9 0.3M196.2 1189.6l-0.0 0.9M189.0 1031.8l-1.2 0.9M16.7 1119.9l-0.3 0.1M168.1 1127.2l0.7 1.4M209.7 1137.5l0.1 1.1M272.5 1097.1l-0.8 1.2M223.7 1112.0l0.4 0.3M262.7 1247.4l1.0 0.8M279.0 1091.8l-0.2 1.6M85.1 1101.8l-1.9 0.3M37.8 1190.5l0.4 0.1M79.8 1110.2l-0.4 1.7M3.4 1019.6l1.2 1.8M34.6 1195.6l0.9 1.8M4.3 1132.9l1.6 1.0M279.6 1065.8l-0.6 0.0M123.4 1233.0l-0.9 1.9M91.1 1101.0l0.8 0.3M202.0 1293.2l2.1 0.3M62.9 1186.9l1.2 1.2M227.3 1074.1l1.2 0.9M64.2 1200.2l0.8 0.6M257.2 1158.3l2.0 0.2M72.1 1105.1l0.5 1.1M234.7 1105.3l-1.1 1.7M247.0 1166.6l0.0 1.9M140.1 1068.5l0.8 1.2M235.0 1178.6l0.7 1.3M207.5 1184.4l0.3 1.3M236.0 1205.5l1.6 0.2M230.3 1160.0l-1.2 0.2M169.1 1066.5l-1.1 0.3M155.0 1200.8l-0.1 0.3M239.4 1207.2l0.3 0.4M193.4 1185.3l-0.4 0.1M94.6 1098.1l0.3 0.6M17.8 1090.9l1.3 0.2M81.8 1058.7l0.7 0.4M275.6 1151.0l-1.6 1.3M205.6 1240.1l-0.5 0.2M254.9 1154.2l0.2 0.4M101.1 1052.7l0.5 0.3M149.4 1029.1l-1.1 1.3M170.5 1094.8l0.6 0.6M187.2 1144.0l-0.3 2.1M220.0 1136.1l0.4 0.1M128.3 1104.8l-0.4 0.6M4.8 1181.9l0.1 0.6M95.6 1111.3l0.5 0.1M257.2 1164.5l-1.0 1.2M286.5 1177.8l2.0 0.6M23.3 1126.6l-0.5 0.1M204.0 1117.8l0.8 0.3M85.3 1033.6l2.0 0.0M113.0 1033.9l1.4 0.7M259.2 1019.1l-1.9 1.1M284.0 1097.3l-0.8 0.1M52.5 1127.7l0.4 1.1M273.6 1248.1l-0.4 0.0M82.4 1063.1l0.0 1.0M220.6 1162.3l0.1 1.3M244.2 1130.5l0.0 0.7M174.3 1100.7l0.8 0.2M157.9 1120.9l-1.3 0.2M7.8 1082.2l1.6 0.9M63.4 1158.9l0.5 0.8M66.3 1025.1l0.7 1.8M116.1 1061.3l-2.0 0.0M13.6 1141.4l0.1 0.3M242.4 1072.8l0.8 0.1M56.2 1169.3l-1.4 0.4M255.2 1116.1l1.2 1.2M97.4 1103.6l1.5 0.9M21.6 1199.5l1.0 1.0M200.2 1105.7l1.7 1.1M34.4 1222.9l-0.9 0.1M13.5 1214.2l-0.4 2.1M152.1 1153.6l-1.3 1.2M236.1 1173.7l0.7 0.2M96.9 1167.5l0.0 1.1M94.7 1025.8l0.3 0.4M16.0 1037.9l0.5 2.0M272.3 1082.9l0.1 0.4M274.8 1090.3l0.3 1.7M210.9 1188.8l0.2 1.0M230.9 1135.0l-0.3 0.1M150.9 1170.6l-1.4 0.4M226.7 1024.1l-1.3 0.4M63.0 1095.7l0.5 1.4M219.3 1153.7l1.7 0.5M252.9 1169.4l-1.1 0.2M136.7 1141.4l0.4 0.2M53.5 1142.4l-0.8 0.3M154.0 1188.9l1.8 0.5M255.2 1163.0l1.2 0.9M238.5 1197.3l-1.0 0.0M55.4 1120.0l-0.1 0.3M191.4 1058.3l-1.1 1.7M179.2 1142.2l0.2 1.0M156.6 1078.7l-0.9 1.4M208.8 1168.8l0.9 0.1M97.8 1163.4l0.5 0.5M245.3 1153.8l0.5 0.9M194.8 1140.3l0.6 1.2M124.9 1133.8l-0.5 0.2M231.5 1158.8l0.6 0.5M79.3 1092.7l0.1 0.6M7.7 1141.2l0.2 0.4M216.3 1149.4l0.2 1.4M92.0 1136.5l-0.6 0.3M134.3 1139.5l1.3 1.4M270.1 1170.5l0.7 1.2M118.5 1020.9l-0.7 0.1M171.1 1145.6l1.0 0.6M5.9 1145.2l-0.7 1.0M197.5 1145.2l-0.6 0.0M107.6 1251.9l-1.4 0.7M281.1 1060.9l0.5 1.2M271.2 1207.3l0.2 0.4M128.3 1090.7l-0.3 0.8M123.1 1195.5l0.7 2.0M23.6 1252.4l-0.8 0.2M65.2 1017.6l0.9 0.9M29.0 1050.7l0.1 1.3M255.5 1210.0l-0.2 0.8M287.9 1196.3l1.1 0.7M48.4 1125.5l-0.7 1.2M49.4 1177.3l0.5 0.2M167.6 1062.1l0.4 1.8M35.8 1100.1l-1.6 0.5M127.2 1065.3l1.9 0.8M276.2 1156.7l-1.9 0.6M261.5 1126.6l0.9 1.1M1.8 1037.5l-1.5 0.2M109.0 1263.0l1.1 0.7M87.0 1253.0l0.7 1.0M280.5 1185.4l-0.9 0.8M223.1 1164.1l-0.1 0.5M8.6 1071.0l-1.0 1.2M81.8 1136.3l-1.4 0.3M136.0 1097.6l-0.1 2.0M52.8 1073.8l0.4 0.5M69.4 1104.3l0.2 0.5M66.2 1204.6l-0.1 2.2M111.4 1080.5l0.5 1.5M234.5 1255.0l-0.2 0.9M240.8 1044.8l0.3 1.7M222.9 1075.4l-0.5 1.9M116.9 1056.1l0.3 0.4M172.0 1256.1l-0.4 1.2M116.9 1170.4l-0.5 0.6M114.6 1206.9l1.3 0.8M20.5 1194.5l-0.7 0.8M150.0 1139.8l-1.3 1.5M274.0 1164.2l-0.3 0.1M92.9 1115.3l1.0 0.2M263.1 1155.8l-0.6 0.9M248.1 1061.9l1.6 0.5M134.3 1101.9l-1.7 1.2M266.1 1200.3l0.7 0.3M189.5 1230.2l0.5 0.7M2.1 1191.6l1.0 1.8M163.0 1109.7l0.4 2.0M149.0 1072.9l-0.6 1.9M247.7 1068.0l0.5 0.9M16.9 1032.6l0.5 0.1M53.6 1092.1l0.5 0.1M175.8 1174.5l-1.5 1.2M23.6 1101.1l0.2 0.8M271.5 1070.2l-0.8 0.6M190.0 1024.1l-1.4 0.6M114.6 1159.7l0.3 0.2M262.1 1099.4l-0.9 1.0M142.3 1247.1l0.3 1.1M54.6 1015.0l-0.2 0.7M205.5 1280.0l-0.8 0.2M101.8 1206.5l-0.8 0.7M31.9 1209.2l-0.2 0.3M118.1 1068.3l-0.5 1.7M90.6 1080.6l1.3 1.5M281.5 1216.2l0.9 0.3M126.8 1196.0l1.1 0.8M260.1 1098.0l-0.1 1.2M101.0 1056.3l0.3 0.4M222.9 1158.4l-0.0 0.4M73.6 1059.7l-0.3 1.9M244.7 1138.2l-0.3 1.9M71.8 1140.6l0.0 0.8M26.4 1150.2l-0.5 1.9M72.1 1034.1l0.4 0.9M107.0 1138.4l-0.8 1.7M118.3 1071.2l1.1 1.0M178.9 1229.3l-0.3 0.2M207.0 1196.9l0.8 1.3M264.7 1197.5l-1.4 1.4M241.2 1170.8l-0.6 0.1M87.7 1154.3l0.6 0.2M38.2 1141.0l0.8 0.1M127.5 1165.3l0.0 1.5M37.1 1279.1l-0.0 1.7M276.4 1202.1l0.8 0.4M38.1 1133.0l0.3 0.1M129.9 1124.1l-0.2 0.2M248.2 1109.3l-0.5 0.0M219.7 1134.3l-1.8 0.6M37.0 1115.8l-0.7 0.2M189.8 1034.3l1.5 0.7M194.5 1035.4l-1.1 0.7M250.8 1237.8l0.7 0.4M41.9 1153.9l0.4 0.8M78.5 1162.8l-0.2 1.0M114.0 1107.3l0.2 1.7M182.9 1117.9l-0.5 0.1M267.7 1130.6l0.5 0.5M207.4 1232.8l2.1 0.6M261.1 1206.2l0.3 0.9M193.2 1054.7l1.0 0.6M149.6 1122.0l-0.9 1.0M20.9 1139.8l0.2 1.7M100.7 1264.4l0.7 0.2M20.6 1163.9l0.3 1.4M111.1 1145.6l0.4 1.6M195.1 1156.5l-0.8 0.5M75.8 1106.2l1.3 1.4M16.3 1182.7l0.0 0.7M234.0 1186.3l-0.4 0.1M211.9 1160.6l-0.1 1.0M239.8 1208.3l-0.2 1.3M241.0 1180.3l1.2 1.2M108.9 1230.7l0.0 0.3M42.9 1187.8l0.6 1.0M57.3 1074.9l-0.3 0.7M69.6 1126.1l0.6 1.2M200.6 1070.2l0.4 1.7M39.7 1119.2l0.3 0.4M127.1 1206.9l-0.8 1.8M278.3 1167.4l-0.0 1.7M44.9 1064.5l-0.3 0.4M101.5 1032.8l-0.1 1.5M88.0 1196.8l-0.5 0.7M120.3 1022.1l-0.6 1.2M269.3 1108.0l1.9 0.1M235.7 1117.9l0.9 1.9M263.6 1214.5l0.4 0.7M263.7 1085.0l1.7 0.2M137.6 1137.9l0.3 0.6M122.7 1032.6l1.5 0.9M46.3 1067.1l0.4 0.4M18.5 1112.9l0.2 0.8M261.7 1143.0l1.4 0.8M234.3 1258.6l0.3 0.5M77.4 1131.6l-1.8 1.0M258.2 1050.6l-0.5 1.7M56.3 1298.2l0.3 0.2M261.0 1075.7l1.2 0.0M234.2 1179.2l-0.8 0.7M169.9 1220.4l0.8 0.7M181.9 1153.4l0.9 0.1M89.7 1288.4l1.7 0.8M146.9 1037.9l1.0 1.6M281.9 1116.3l-0.1 0.3M73.8 1286.9l-0.1 1.4M175.7 1135.3l1.6 0.6M199.8 1090.6l-0.4 0.9M98.8 1293.9l-0.2 0.4M17.8 1108.2l1.0 1.2M87.4 1249.8l1.3 0.4M107.0 1039.3l1.4 1.3M167.1 1161.4l0.5 0.3M267.0 1159.8l-0.0 1.6M261.4 1192.2l1.8 0.6M237.6 1145.0l-0.4 0.6M23.3 1137.1l0.6 1.2M250.1 1063.2l2.0 0.4M171.0 1163.4l-0.1 0.7M35.6 1051.7l0.8 0.6M267.3 1139.4l1.4 0.9M12.0 1140.9l0.6 0.4M78.7 1187.4l-1.5 0.5M202.0 1163.2l-0.4 0.6M69.6 1020.1l-1.4 1.0M26.1 1032.5l-1.2 0.4M263.8 1167.8l-0.1 0.5M155.5 1285.1l1.5 0.6M7.8 1126.0l0.4 0.1M16.0 1178.9l-0.3 1.3M113.3 1213.0l0.7 1.5M187.6 1219.4l-0.4 0.5M113.2 1135.5l-1.1 0.2M156.9 1065.8l0.3 0.3M142.1 1076.8l-0.1 1.2M269.6 1178.3l-0.6 2.1M22.5 1286.7l-0.0 1.6M165.3 1085.4l1.6 0.1M82.2 1098.1l-0.9 0.6M1.1 1140.6l-0.7 1.3M172.1 1143.3l0.4 0.7M20.6 1198.6l-0.4 0.1M262.1 1089.9l-0.1 0.3M242.0 1147.3l1.4 0.7M46.3 1150.9l0.4 0.4M12.7 1279.5l-1.7 0.3M193.0 1169.5l0.5 0.7M67.6 1077.7l0.5 0.6M180.8 1062.8l1.2 1.0M287.6 1203.7l0.6 1.2" stroke="#1618dc" stroke-opacity="0.55" stroke-width="2.6" stroke-linecap="round" fill="none"/>
<path d="M130.7 1173.5l0.1 1.3M177.4 1065.8l1.2 0.6M183.4 1183.8l0.3 1.7M71.2 1041.2l-0.5 0.4M85.6 1033.3l-0.2 0.7M202.6 1289.8l-0.5 1.1M89.7 1037.4l-0.5 0.1M190.8 1152.3l0.2 0.5M48.9 1142.1l0.8 0.7M243.3 1192.3l-0.7 0.4M230.3 1295.9l1.2 0.4M57.6 1149.1l1.2 0.0M10.5 1077.4l-0.3 2.1M94.3 1295.4l-1.7 0.7M127.0 1173.3l-0.1 0.6M243.8 1173.6l0.7 1.8M151.5 1177.4l-0.1 1.2M109.0 1167.4l-1.3 0.3M151.7 1043.4l0.8 0.1M144.4 1180.0l-0.6 1.5M63.1 1074.4l-0.2 0.5M20.4 1110.7l1.0 0.0M74.7 1091.6l-0.1 1.1M124.1 1154.7l0.3 0.8M180.6 1115.7l-0.8 1.1M54.9 1092.5l-1.2 0.2M7.8 1023.1l1.1 1.3M22.0 1073.6l0.8 0.2M96.7 1091.0l0.2 0.3M231.3 1102.2l0.6 1.3M120.5 1276.5l-0.6 0.4M22.0 1100.3l-0.6 0.8M215.8 1238.3l0.3 1.9M35.9 1129.4l-1.1 0.3M30.7 1121.0l-1.5 1.2M206.2 1085.3l0.4 0.6M144.6 1053.0l-1.3 0.1M163.2 1129.5l-1.1 0.4M118.2 1137.3l-1.2 0.4M150.5 1133.3l-0.8 0.2M208.1 1156.7l1.2 1.4M255.6 1182.2l1.2 1.7M226.3 1161.1l-1.4 0.7M8.9 1045.1l-0.6 1.3M12.2 1102.8l-0.1 0.8M179.5 1161.8l-0.1 1.4M9.2 1102.2l-0.1 0.6M84.4 1111.6l0.3 0.0M20.9 1022.3l0.3 0.8M267.8 1294.7l-0.3 1.9M278.6 1249.9l-0.5 1.1M84.9 1131.7l-0.6 1.1M119.3 1151.1l0.5 1.6M19.5 1138.6l-0.3 0.6M79.1 1127.5l0.7 0.2M139.9 1131.7l0.1 0.4M54.5 1096.0l-1.1 0.8M148.6 1015.1l-0.3 0.0M270.5 1151.1l0.6 1.9M6.8 1178.5l0.3 0.9M126.1 1146.9l-0.0 1.0M165.5 1160.7l-0.4 1.1M176.3 1115.2l-1.6 0.0M65.2 1149.8l0.2 0.7M187.5 1191.8l1.3 1.3M288.7 1174.8l1.1 1.1M71.3 1131.5l0.9 0.7M234.0 1157.4l-0.1 0.6M119.5 1015.2l-1.4 0.9M108.8 1096.9l0.4 1.2M155.1 1201.6l-0.7 0.2M47.2 1122.3l-1.3 0.9M217.5 1179.3l-0.7 0.8M142.7 1211.0l-0.4 0.3M247.1 1235.0l1.9 0.1M247.0 1187.8l-0.9 1.0M272.7 1157.9l0.3 0.7M156.7 1138.1l1.6 0.4M120.6 1152.2l0.1 1.4M248.1 1281.7l0.0 1.4M251.2 1288.1l1.9 0.2M53.3 1079.1l0.9 1.4M284.2 1221.3l0.8 0.3M278.9 1196.2l0.1 2.0M274.4 1153.8l-0.7 1.8M267.7 1198.6l0.1 0.9M34.0 1149.3l1.8 0.3M190.1 1147.9l-0.6 0.9M89.8 1065.7l-1.6 1.5M19.0 1040.0l1.7 0.3M137.6 1132.1l-1.7 1.2M97.0 1018.4l-0.9 1.1M252.2 1191.5l-1.0 1.1M205.7 1016.9l-0.6 0.5M144.0 1027.0l-0.2 0.4M205.9 1110.1l0.1 0.8M115.0 1128.8l-0.7 1.7M72.2 1063.4l1.7 0.5M63.1 1148.8l0.3 1.8M138.5 1029.1l-1.0 1.7M168.5 1039.6l1.0 1.9M171.0 1169.7l-0.3 0.3M174.6 1082.1l1.7 1.1M214.4 1104.3l1.6 0.0M112.0 1198.9l-0.2 0.3M19.0 1065.9l1.2 1.5M95.4 1054.9l-0.6 0.2M224.6 1201.1l-0.2 0.7M105.7 1212.2l-0.6 0.3M175.6 1223.6l-0.8 1.2M270.3 1133.5l0.3 0.8M73.9 1143.5l-0.4 0.1M7.4 1078.2l0.4 0.2M23.0 1207.6l1.0 0.5M171.9 1087.8l-1.0 1.7M143.4 1198.0l0.3 0.6M117.5 1199.1l0.3 1.0M126.7 1086.5l-0.7 1.6M186.6 1148.5l-0.3 0.5M26.9 1267.0l1.2 1.3M189.1 1135.5l1.2 0.2M104.1 1140.1l0.5 0.0M188.9 1040.1l0.7 0.8M277.6 1130.2l-1.4 0.3M151.7 1050.5l1.7 0.1M12.6 1029.8l0.1 2.0M231.9 1145.4l0.2 1.6M265.6 1253.0l-1.8 0.2M263.9 1207.3l-1.3 0.6M132.8 1016.3l-0.8 1.8M166.6 1098.9l-0.1 1.1M29.7 1020.6l-0.4 0.2M70.5 1125.5l1.4 0.0M272.2 1072.3l0.4 0.2M4.2 1093.8l1.4 1.5M237.9 1208.1l1.2 0.5M46.1 1091.8l-0.4 1.5M170.8 1086.9l-0.2 1.1M44.4 1016.5l1.0 1.0M75.9 1069.0l-0.6 0.4M74.3 1198.7l0.4 0.1M168.2 1105.5l-0.2 0.8M6.1 1126.4l0.2 2.1M177.0 1097.4l-0.4 0.6M257.6 1170.5l1.1 0.6M287.7 1191.3l0.3 0.1M242.1 1205.9l-0.7 0.4M67.0 1138.3l-0.3 0.8M94.5 1209.5l0.2 1.9M79.0 1181.6l0.5 0.5M31.7 1024.7l-1.7 0.6M19.5 1079.3l-0.6 0.5M159.6 1083.5l-0.4 0.7M43.6 1138.0l-0.6 0.2M2.0 1052.0l-0.0 0.4M155.7 1238.8l-0.4 0.0M51.5 1157.6l0.5 1.2M83.6 1204.3l0.3 0.3M138.6 1121.6l-0.5 2.0M251.1 1161.5l-0.2 0.8M154.0 1207.1l0.3 1.3M197.0 1042.3l-0.4 1.0M238.1 1153.3l-1.4 0.8M60.9 1144.0l-0.8 0.4M282.3 1145.3l-0.8 1.6M86.0 1145.5l-1.0 1.8M126.7 1074.4l0.7 1.5M182.3 1115.7l1.2 1.0M283.6 1067.7l0.8 2.0M115.4 1113.0l-0.6 0.8M138.5 1226.6l-0.2 0.4M172.4 1053.6l-0.4 0.0M263.7 1075.9l1.1 0.3M242.0 1150.6l-0.3 0.9M265.5 1183.6l-0.2 1.3M86.7 1066.9l0.9 1.4M228.7 1293.7l-0.7 1.6M209.7 1092.9l0.7 0.4M104.3 1166.3l2.0 0.1M157.5 1299.0l0.6 0.6M166.1 1180.9l1.8 0.4M39.7 1138.3l-0.1 0.7M37.2 1165.1l0.7 0.9M11.7 1080.8l1.6 1.0M206.4 1224.5l-2.1 0.2M183.3 1136.1l1.6 0.2M231.3 1063.6l1.0 1.0M95.9 1136.7l-0.4 0.3M271.5 1115.9l-0.2 0.4M5.3 1214.2l-0.1 2.1M172.8 1068.7l-0.3 0.3M23.4 1173.6l1.7 0.2M249.5 1170.9l0.1 0.4M178.4 1189.3l0.8 0.2M109.2 1123.6l-0.7 0.3M166.4 1129.8l-0.2 0.4M122.4 1144.6l-0.6 0.9M278.8 1213.7l-0.9 0.9M203.8 1131.2l1.3 0.0M170.8 1132.6l-0.6 0.3M143.4 1172.7l0.6 2.1M155.0 1166.9l-0.6 1.7M141.0 1124.3l0.3 0.6M17.2 1300.4l1.7 1.3M146.1 1122.5l0.4 1.7M4.3 1107.4l1.2 1.3M53.1 1186.4l-0.5 0.3M146.2 1129.4l-1.4 0.4M256.0 1159.8l-1.2 1.0M256.5 1169.6l0.4 2.0M76.1 1197.5l-0.0 0.8M158.9 1036.7l1.4 0.3M167.5 1165.2l-0.4 1.2M20.6 1018.0l-0.6 0.0M232.8 1105.8l-2.2 0.3M129.2 1023.2l0.4 0.3M133.6 1070.3l-1.0 0.4M252.3 1247.2l1.3 1.5M16.6 1109.6l0.7 1.6M58.7 1088.0l1.3 1.6M110.0 1299.9l-1.5 0.8M264.1 1058.5l-0.3 0.2M260.4 1229.4l-0.2 2.0M149.9 1063.3l1.1 1.0M73.8 1032.9l-0.5 1.3M56.1 1069.1l0.1 0.3M165.7 1108.3l0.5 1.1M179.1 1056.6l1.5 0.7M37.8 1229.9l-1.0 1.6M192.5 1022.2l0.8 0.4M136.2 1162.4l-0.7 1.2M77.1 1034.0l1.1 1.1M104.7 1129.6l-0.5 0.5M113.2 1014.7l-1.8 0.9M157.4 1140.0l0.2 2.1M23.2 1148.3l1.7 0.6M150.6 1205.8l0.1 1.6M282.6 1210.7l1.1 0.7M88.3 1126.0l-0.4 0.1M187.9 1018.8l-0.4 0.8M283.1 1246.6l0.2 0.2M162.5 1276.1l-1.1 1.2M279.3 1195.9l0.1 1.1M204.9 1082.6l0.4 0.2M257.0 1107.6l-0.3 0.4M233.1 1170.1l0.5 0.5M193.7 1173.1l-0.6 0.6M269.3 1174.0l-0.1 0.4M232.2 1028.7l-0.0 1.2M73.8 1295.9l0.5 0.4M194.0 1101.0l-0.9 1.5M209.9 1150.7l-1.0 0.0M176.7 1219.7l-1.0 1.0M278.4 1284.4l0.4 0.1M80.3 1084.8l-1.4 0.1M51.2 1146.9l-1.4 0.3M192.3 1168.1l-0.7 0.3M6.2 1055.3l-0.7 1.6M13.4 1146.7l0.7 0.1M46.2 1151.3l-0.2 0.8M148.1 1202.4l0.9 0.6M211.5 1144.7l1.5 1.5M174.1 1056.4l0.2 0.2M165.9 1154.6l-1.0 1.4M109.3 1018.7l0.5 2.0M183.2 1029.6l0.2 1.6M276.2 1116.3l-0.5 0.5M167.8 1152.2l0.9 0.6M89.6 1116.8l-1.3 0.5M114.7 1051.4l0.2 0.3M73.7 1251.1l-0.3 1.7M231.8 1235.3l1.0 1.2M175.6 1046.8l0.9 1.3M70.1 1178.0l2.0 0.4M283.7 1250.5l1.7 0.5M191.1 1158.4l-2.1 0.2M100.1 1276.4l-0.1 2.2M136.2 1176.5l0.7 1.2M222.4 1189.9l1.9 0.2M194.7 1231.1l-1.2 1.7M158.3 1140.6l0.3 0.5M52.4 1224.0l-0.5 0.3M227.0 1173.8l-0.3 0.5M229.6 1081.4l0.6 0.4M30.1 1029.1l-0.6 0.4M81.1 1019.9l-0.4 2.0M274.6 1118.4l-0.8 1.9M55.2 1119.4l-1.4 0.8M248.3 1225.8l0.2 0.3M192.0 1152.9l0.0 1.1M37.3 1136.5l-0.3 0.4M173.5 1019.7l-0.1 1.0M220.1 1089.1l1.5 0.4M123.1 1150.5l0.5 0.6M69.5 1230.2l1.9 1.2M100.0 1118.4l-0.4 0.5M128.1 1156.7l-1.2 0.3M148.4 1220.9l0.6 1.0M259.4 1072.5l0.3 0.9M70.7 1029.0l-0.4 0.1M29.6 1095.3l-0.5 0.2M215.1 1181.8l-0.7 0.3M112.8 1150.8l0.3 0.1M74.7 1070.4l-1.2 0.5M199.7 1161.5l-1.3 1.6M203.7 1015.8l2.1 0.3M181.2 1284.3l-0.4 1.4M64.9 1119.9l-1.1 0.5M171.3 1163.0l0.6 1.2M254.3 1114.0l-1.2 0.4M87.5 1139.4l1.3 0.0M281.9 1153.6l1.2 0.5M17.8 1061.0l-0.5 0.1M35.6 1192.9l0.1 0.3M105.0 1094.1l-0.7 0.6M190.7 1277.0l1.4 1.0M187.5 1234.4l-0.8 0.3M175.1 1023.2l0.3 0.1M128.2 1143.9l-0.5 1.1M179.6 1165.6l0.3 0.9M70.3 1073.0l-1.2 1.4M70.8 1078.9l-1.8 0.8M40.2 1112.1l-1.7 1.2M77.0 1198.5l0.6 0.1M157.5 1048.6l-1.7 0.2M269.0 1122.0l0.1 0.4M128.9 1152.1l-0.2 0.5M172.5 1135.8l0.7 1.0M27.9 1239.3l1.3 0.0M113.2 1212.9l-0.4 0.6M39.4 1115.2l0.4 0.2M31.6 1169.1l2.0 0.3M240.5 1186.1l-0.5 0.9M90.7 1138.9l1.7 0.6M163.9 1130.8l-0.7 0.9M89.1 1042.8l-0.3 1.0M167.7 1300.1l-1.0 1.6M93.2 1100.9l1.2 1.0M281.9 1154.3l-1.2 1.2M91.0 1043.3l-1.9 0.7M185.0 1162.2l0.2 0.5M253.0 1159.1l0.1 0.6M86.8 1091.3l-0.3 0.6M35.1 1101.0l1.3 0.4M50.9 1091.7l-0.1 0.9M3.9 1276.4l0.2 1.0M277.5 1266.3l1.4 0.1M146.1 1222.0l-1.3 1.4M161.0 1237.1l0.4 0.2M172.7 1276.9l0.7 0.5M33.5 1037.3l0.4 0.2M170.7 1171.2l0.6 0.5M172.8 1132.5l-1.1 0.6M35.9 1049.0l-0.5 0.4M189.3 1114.8l-0.5 1.5M209.2 1145.6l0.7 1.6M84.4 1032.7l0.2 1.2M57.3 1086.4l-0.5 0.7M114.0 1045.1l1.8 1.1M170.4 1161.9l2.0 0.4M188.6 1052.3l0.2 0.4M122.0 1117.3l-0.2 0.6M180.6 1115.2l0.3 0.1M186.1 1161.0l1.0 1.5M281.1 1171.2l-0.9 1.1M24.3 1100.7l-1.2 0.2M84.7 1111.2l0.8 1.7M174.9 1041.8l1.1 1.0M2.5 1038.3l0.5 1.0M112.4 1151.4l0.2 0.7M288.8 1155.6l-0.2 0.4M120.1 1174.6l0.7 0.7M179.3 1061.9l1.5 0.2M30.1 1090.8l2.0 0.3M128.2 1113.5l0.7 0.3M63.3 1028.3l1.1 1.8M40.1 1152.5l0.6 1.5M239.3 1201.6l-1.3 0.2M168.6 1158.1l-0.2 1.7M170.4 1172.9l-0.4 0.3M273.3 1218.4l0.2 0.7M200.9 1098.7l-0.4 0.3M119.0 1103.6l-0.5 0.2M207.4 1200.3l1.0 1.3M90.2 1129.6l-0.8 0.2M113.3 1073.5l-0.4 1.0M193.9 1181.1l-0.1 1.2M57.1 1041.7l-0.8 0.9M174.9 1132.4l-0.9 1.8M10.8 1038.9l-0.4 0.4M121.2 1201.0l1.1 1.1M212.3 1012.5l1.2 1.9M25.3 1169.9l-1.0 0.6M216.8 1172.7l0.3 0.4M90.1 1096.1l-0.9 1.4M42.1 1228.5l1.0 0.6M105.9 1134.4l1.2 1.3M220.1 1156.6l-0.5 0.0M200.9 1190.6l0.8 0.1M19.0 1094.6l0.3 1.5M280.1 1153.8l-1.1 0.7M53.3 1130.7l-0.4 0.5M56.7 1149.3l-1.9 1.0M100.9 1059.2l-1.5 0.7M235.1 1082.0l1.7 0.5M260.5 1202.6l-0.9 0.9M4.9 1251.0l0.9 1.2M252.0 1166.7l-1.2 1.2M60.5 1206.8l0.8 0.5M3.0 1123.1l-0.1 1.6M149.0 1072.6l0.2 0.3M88.3 1022.7l-1.0 1.0M264.3 1214.1l0.3 1.8M63.9 1182.7l0.6 1.9M121.0 1028.3l-0.9 1.8M5.0 1198.7l-0.9 0.5M187.3 1053.6l-0.5 2.0M172.5 1129.6l0.7 0.7M67.9 1021.9l-1.6 0.6M50.7 1205.9l-0.8 0.3M38.5 1025.0l-0.7 1.7M237.9 1148.6l-0.9 1.2M206.1 1151.4l0.5 0.6M193.3 1165.1l-1.9 0.4M69.4 1093.7l-0.5 0.7M271.8 1208.6l-1.3 0.8M281.8 1208.4l1.5 1.3M204.4 1180.9l-0.6 0.7M154.7 1044.9l0.6 1.9M226.8 1142.7l-0.0 1.4M138.2 1165.3l0.5 0.4M230.7 1021.5l0.8 1.0M21.6 1044.0l-2.0 0.1M99.5 1036.7l-0.6 0.3M239.9 1147.8l1.8 0.3M88.0 1205.6l0.8 0.7M102.7 1012.6l1.8 0.3M207.2 1153.7l-0.5 1.0M128.9 1114.2l0.4 0.5M236.6 1237.4l-0.4 2.0M5.4 1063.0l-0.0 1.3M166.9 1120.5l0.7 0.0M273.5 1080.5l-0.3 0.5M194.3 1101.1l0.2 0.8M259.0 1249.1l-1.8 1.1M248.6 1199.2l-1.3 0.7M270.9 1165.6l-1.0 1.4M286.6 1162.4l0.1 1.6M233.7 1220.7l1.6 0.4M144.3 1201.3l1.5 0.7M107.7 1153.5l0.4 0.2M94.5 1087.3l-1.8 0.8M271.8 1210.0l0.6 0.3M114.6 1078.6l-0.5 1.0M91.4 1247.1l-0.6 1.8M79.4 1064.4l1.5 1.4M95.6 1074.0l-0.3 1.1M97.8 1164.6l0.1 0.7M90.3 1100.5l0.9 1.7M157.7 1116.8l-0.5 1.8M174.0 1021.8l-0.6 0.5M50.4 1126.9l-1.0 1.8M116.0 1020.7l-0.8 0.6M242.4 1258.9l-0.2 0.5M126.5 1177.4l-0.3 0.5M268.3 1233.9l-0.3 2.1M107.6 1124.5l-0.4 0.2M176.4 1081.1l1.9 0.6M138.0 1041.6l0.3 0.7M85.3 1030.3l0.8 0.7M218.8 1128.8l-1.5 1.3M257.2 1104.4l1.7 1.0M186.3 1246.7l-0.3 0.7M106.2 1140.6l-0.2 0.4M239.6 1051.6l1.2 0.7M266.6 1107.7l-0.3 1.2M24.5 1114.5l0.3 0.9M4.1 1108.0l-0.0 0.4M190.4 1160.2l-0.8 0.4M111.0 1225.5l-1.5 0.5M22.6 1048.5l-0.3 0.1M202.6 1078.3l-0.2 0.2M149.6 1033.9l-0.9 0.3M234.5 1143.7l-0.8 1.7M271.9 1222.5l1.5 0.1M30.5 1167.4l-0.6 0.3M164.6 1035.6l-0.4 1.4M285.1 1194.9l-0.1 0.8M281.7 1254.8l0.5 0.7M181.1 1168.6l0.3 1.5M179.1 1176.6l0.8 0.9M134.9 1098.3l-0.4 0.0M274.6 1177.1l-0.2 0.7M64.1 1175.3l-0.1 0.4M262.4 1151.2l-1.4 0.0M21.1 1188.1l-1.5 0.5M256.4 1173.9l0.4 0.0M131.1 1126.7l0.3 0.4M266.8 1087.6l1.5 0.6M68.0 1079.5l0.0 1.8M204.7 1154.2l1.0 0.7M166.4 1149.4l0.3 0.7M186.1 1090.8l-1.9 1.1M279.6 1234.0l1.4 1.2M39.6 1108.9l-1.2 0.4M170.9 1167.0l1.0 0.1M266.2 1079.2l0.7 0.6M264.9 1152.4l0.6 0.2M183.7 1209.0l0.6 0.8M114.9 1070.8l0.9 0.1M275.4 1074.4l0.9 0.1M112.8 1159.4l-0.3 2.1M152.3 1135.2l-1.2 1.3M24.7 1043.8l-0.9 1.7M139.9 1207.7l0.7 0.2M47.9 1073.0l1.0 1.8M201.7 1025.8l-1.3 1.3M51.6 1138.9l0.9 1.4M206.9 1166.7l0.4 0.5M212.9 1140.0l-0.5 0.6M201.5 1235.0l0.9 1.6M170.5 1103.1l-0.0 1.3M232.6 1183.7l1.1 0.8M91.3 1034.1l0.2 1.0M105.9 1123.4l-0.3 1.3M126.3 1017.8l-0.7 0.4M130.7 1209.4l-0.7 2.0M33.3 1099.2l-1.1 1.5M33.0 1022.8l0.4 0.2M176.4 1224.4l-0.7 1.3M215.4 1154.3l0.5 1.1M40.6 1032.2l-0.5 1.5M82.2 1245.2l0.3 1.8M7.8 1117.6l0.6 0.1M174.7 1184.0l-0.3 0.2M74.5 1154.7l-0.2 0.5M275.6 1016.3l-0.7 0.7M37.4 1140.5l0.5 0.6M173.6 1124.4l-1.7 0.6M243.3 1244.7l1.3 0.3M91.1 1148.1l1.6 0.9M229.1 1094.6l-0.8 0.4M272.4 1170.9l-2.0 0.2M105.1 1162.6l-0.0 1.3M48.0 1177.3l1.3 1.2M121.1 1220.3l0.8 1.0M67.0 1093.0l-0.9 1.3M81.4 1136.0l0.5 2.1M165.8 1093.2l0.3 0.4M278.7 1239.4l-0.4 0.4M113.7 1170.1l1.5 0.1M28.5 1256.4l0.2 0.3M142.9 1053.2l-0.2 0.3M260.0 1230.3l1.7 0.0M61.6 1120.3l-0.4 0.1M60.7 1025.6l-0.2 0.3M117.5 1205.8l0.2 0.5M134.1 1163.3l1.0 1.9M219.4 1264.8l0.4 0.8M37.9 1201.3l-1.2 1.1M205.5 1020.5l-0.2 0.4M157.4 1221.6l1.5 0.2M64.7 1148.8l0.1 0.9M127.9 1061.4l0.4 1.7M239.2 1164.1l1.2 0.6M153.7 1177.8l-0.4 0.3M12.4 1117.3l-0.5 1.2M200.8 1131.4l0.6 1.7M109.4 1066.9l-1.3 0.5M62.3 1186.8l-1.5 0.2M83.5 1065.0l1.1 1.7M102.0 1139.8l-0.3 0.6M266.9 1195.4l-1.5 0.6M75.0 1055.5l0.3 1.8M274.8 1036.9l1.9 0.2M228.3 1156.1l-0.3 1.8M239.6 1184.8l0.0 0.6M107.5 1132.8l1.4 0.6M55.1 1139.6l0.3 0.6M228.9 1079.3l-0.6 0.8M143.9 1147.9l-0.5 0.2M281.8 1102.8l2.1 0.2M169.5 1067.0l1.0 0.0M11.1 1107.3l1.1 1.9M250.6 1204.7l0.9 0.3M41.6 1128.6l0.2 0.3M187.4 1106.0l0.5 0.1M184.8 1170.1l0.7 0.1M220.9 1177.6l1.3 0.9M280.5 1085.2l0.5 0.0M51.1 1140.0l-0.5 1.5M64.4 1029.4l0.0 0.8M253.3 1188.1l0.5 0.4M158.0 1203.2l1.5 0.8M71.8 1084.4l-0.4 0.8M228.0 1155.7l-0.6 0.2M261.8 1274.3l1.6 0.7M73.4 1146.4l0.4 0.3M251.2 1230.8l1.6 0.6M202.0 1083.1l0.2 1.8M136.4 1138.5l0.6 0.5M255.2 1065.5l0.2 0.3M62.1 1025.6l1.4 0.1M271.1 1273.9l-1.0 0.1M191.8 1284.0l1.1 0.4M168.8 1163.7l0.4 1.6M31.6 1128.7l-0.5 1.9M24.4 1098.0l-1.2 0.2M247.4 1161.1l0.4 1.5M227.5 1225.3l-1.2 0.0M184.1 1013.5l-1.2 1.6M44.0 1100.2l-1.3 0.5M120.2 1141.8l0.3 1.8M14.3 1096.2l-0.3 1.0M138.3 1280.0l-0.8 1.2M190.5 1209.3l-0.8 1.6M250.7 1080.3l0.4 0.1M126.9 1249.8l0.9 0.8M178.9 1136.8l-0.3 1.8M48.8 1156.6l-0.2 2.0M75.3 1045.0l0.2 0.4M106.7 1142.1l0.2 0.3M83.9 1222.4l-0.3 0.8M63.1 1263.3l0.7 1.1M134.0 1175.6l-0.6 1.8M130.3 1133.5l0.8 0.3M172.7 1215.9l0.4 0.2M40.6 1128.1l-0.2 0.4M78.5 1138.1l-0.3 0.3M52.1 1098.5l1.8 0.4M53.5 1095.7l-0.3 0.3M97.3 1100.4l0.5 0.6M227.0 1268.7l-0.6 0.1M112.9 1072.4l0.1 1.8M83.7 1163.9l-0.8 1.9M45.2 1130.2l-0.1 0.3M248.2 1089.5l-1.4 1.5M119.0 1163.5l0.6 0.0M28.6 1100.6l-1.3 0.3M226.3 1084.8l-1.4 0.8M172.1 1023.9l-0.1 0.3M35.7 1139.3l-1.2 1.6M169.9 1133.0l-1.3 1.5M27.9 1135.5l0.5 0.2M268.8 1074.4l1.7 0.2M41.9 1031.4l-0.5 0.9M20.4 1072.6l-0.8 0.4M224.7 1114.2l0.6 0.7M48.0 1120.6l-0.6 0.0M145.3 1188.9l-1.5 1.2M241.2 1152.1l-0.3 0.9M74.0 1074.0l-1.2 0.4M87.8 1211.1l0.3 0.6M91.7 1266.5l-1.7 0.3M158.9 1021.3l-1.1 0.3M194.0 1035.8l0.2 0.5M172.8 1120.0l-0.0 0.3M205.1 1118.3l0.9 1.6M226.2 1124.1l-0.8 0.6M240.0 1293.7l-0.7 0.5M188.3 1227.6l-0.6 0.5M51.5 1088.9l0.1 0.5M281.7 1132.8l-0.2 1.2M235.4 1183.2l-0.5 0.6M9.4 1094.9l1.8 0.6M265.0 1152.2l0.2 0.8M275.0 1161.4l-0.1 2.1M275.2 1183.4l1.3 1.1M111.8 1173.1l0.3 0.1M245.6 1152.1l0.2 0.3M251.6 1192.3l-0.6 0.1M266.5 1163.4l-0.4 0.2M266.5 1073.9l-1.1 0.4M181.4 1107.6l-0.7 0.6M120.5 1018.6l0.5 1.4M178.3 1118.7l-1.9 0.7M227.7 1264.7l-1.9 0.9M266.3 1170.4l1.7 0.8M56.4 1152.5l-0.0 0.5M264.3 1207.2l1.5 0.2M69.3 1238.5l-0.4 0.3M220.3 1217.5l0.1 0.9M100.8 1038.3l-1.0 1.9M51.4 1138.4l0.0 1.4M193.6 1212.1l-0.5 0.5M185.9 1093.6l-0.9 0.4M144.3 1180.3l1.2 0.2M59.1 1095.8l0.5 0.2M78.9 1084.9l-0.4 0.3M288.6 1098.7l-1.4 0.1M270.6 1164.1l-0.3 1.8M277.4 1034.3l0.6 0.2M20.1 1165.1l1.0 0.5M265.2 1080.4l1.3 1.3M16.2 1239.7l0.4 0.2M257.2 1178.9l0.6 0.9M69.9 1081.8l0.1 2.1M242.1 1228.8l0.6 0.3M110.5 1198.9l-1.2 0.3M229.3 1242.3l0.9 0.4M26.8 1120.2l1.1 0.1M101.6 1112.0l-0.0 2.0M219.7 1240.1l0.5 0.8M275.3 1247.9l0.7 0.2M168.0 1155.1l-1.1 0.7M138.2 1220.4l-1.1 1.4M236.1 1232.8l-1.3 1.1M34.1 1242.9l-1.5 1.3M213.0 1144.1l-1.0 0.1M257.9 1120.2l1.4 0.9M185.1 1133.9l-0.6 0.8M80.9 1177.8l0.1 0.4M196.5 1274.8l-0.7 1.1M10.5 1079.9l0.2 1.1M19.5 1241.9l0.4 0.5M2.9 1119.8l-0.6 1.1M74.0 1209.8l1.2 0.6M21.8 1067.5l0.9 1.1M191.3 1159.9l-1.0 1.9M269.1 1139.4l0.4 1.9M195.0 1174.8l0.3 1.6M133.2 1122.9l-1.5 1.3M242.4 1247.9l-0.2 1.1M25.1 1138.6l-0.5 2.1M214.9 1177.1l0.5 0.0M92.2 1116.1l-1.1 0.1M162.1 1259.0l-1.7 0.8M147.7 1157.1l-0.4 0.4M19.9 1079.4l0.5 1.7M135.3 1063.3l1.7 0.2M31.1 1146.6l0.4 0.3M242.2 1132.4l-0.5 0.0M74.0 1108.5l-0.9 0.3M144.1 1030.2l1.0 1.2M100.3 1094.1l1.6 1.4M179.5 1262.5l0.7 0.3M78.5 1052.6l-1.8 0.9M62.7 1181.1l0.6 0.9M59.1 1142.9l-0.4 0.4M283.9 1115.6l-1.1 0.4M117.8 1209.1l2.1 0.3M158.0 1147.5l-1.3 0.8M146.1 1172.4l-1.6 1.4M119.3 1024.4l-0.6 1.4M268.0 1050.9l-0.2 0.8M35.6 1024.4l0.1 0.9M279.7 1220.5l0.2 2.2M282.3 1143.5l0.9 0.4M146.8 1209.4l1.4 0.0M272.8 1288.7l1.4 0.8M48.9 1081.3l-0.7 0.9M207.2 1126.0l-0.2 0.4M158.5 1026.3l-0.5 1.0M51.9 1018.7l0.8 0.3M213.0 1269.6l-1.5 0.4M101.3 1160.4l-0.7 0.0M179.6 1168.4l-1.6 1.3M203.2 1157.5l1.6 0.5M24.8 1140.0l2.0 0.6M58.3 1187.3l-1.6 0.8M281.3 1148.7l-1.7 1.3M216.7 1195.3l-1.0 0.5M105.4 1064.0l-0.1 0.3M214.2 1190.1l-1.8 0.3M184.5 1104.7l-0.3 0.3M5.7 1062.0l-0.1 1.3M22.4 1131.0l-0.1 0.4M268.3 1200.8l0.3 0.7M246.1 1203.3l1.3 1.4M211.3 1095.6l-0.7 1.7M110.7 1031.3l-0.0 0.5M284.4 1080.5l-0.3 0.6M286.9 1257.8l-1.0 1.7M204.6 1142.2l-0.2 1.3M44.3 1125.3l0.0 0.4M69.0 1149.6l1.5 0.8M208.0 1194.0l0.2 0.9M10.8 1084.8l-1.5 0.5M189.7 1027.3l-1.0 0.3M216.5 1218.2l1.4 0.8M236.5 1186.4l0.4 1.4M228.3 1102.9l-0.1 0.6M288.8 1066.1l-0.2 1.2M152.4 1116.0l1.5 1.2M181.8 1056.0l-1.6 1.3M70.1 1188.0l1.0 1.1M221.2 1132.7l-0.3 1.7M80.9 1185.9l0.6 0.2M247.9 1070.9l0.4 1.0M189.6 1219.9l-0.7 1.2M257.3 1189.1l-0.5 0.2M74.8 1257.6l0.5 0.6M88.4 1269.4l-0.0 1.0M139.6 1257.4l-0.8 1.9M99.3 1115.7l-0.6 0.5M242.1 1088.8l-0.1 0.6M42.8 1021.1l-0.5 0.7M36.7 1121.6l0.1 0.9M140.4 1231.3l-1.3 1.4M236.7 1171.6l-1.5 0.7M30.7 1102.9l-0.8 0.7M214.1 1019.1l-0.3 0.2M40.2 1175.4l1.7 0.7M284.4 1154.3l-0.0 0.6M250.4 1209.1l-2.0 0.3M176.7 1155.7l-0.0 1.2M106.7 1104.8l-1.2 1.1M51.9 1090.9l0.5 0.6M8.2 1117.0l-1.6 0.7M250.7 1200.2l0.9 1.5M146.9 1206.4l0.7 0.1M263.3 1129.7l-0.7 0.1M67.8 1082.1l1.9 0.8M235.4 1240.5l-0.1 2.0M38.2 1130.4l0.0 1.9M236.0 1019.2l0.2 0.6M142.9 1148.6l0.2 1.3M224.4 1244.9l1.6 0.8M149.2 1133.9l1.2 1.2M234.2 1208.0l-0.1 0.6M3.8 1168.1l-1.5 0.8M230.1 1158.6l0.3 0.5M287.5 1156.4l1.3 0.7M44.7 1107.2l-0.1 1.6M113.9 1230.3l-0.2 0.4M246.8 1130.7l0.0 0.4M19.9 1029.9l0.2 0.2M82.2 1126.8l-0.8 0.3M69.2 1022.6l-1.3 0.0M89.0 1157.6l1.4 0.5M86.7 1048.0l-1.1 1.1M238.7 1269.2l1.3 0.2M281.5 1221.3l-0.3 0.5M196.4 1080.0l-1.4 0.7M280.2 1152.7l0.2 0.5M137.0 1088.5l-0.5 0.6M40.9 1121.7l-0.7 0.3M62.9 1290.3l0.8 1.6M91.9 1142.3l-0.0 1.9M259.5 1156.2l-0.3 0.3M274.5 1125.9l-0.3 1.9M127.6 1178.1l1.2 0.6M285.9 1277.2l-1.8 0.5M130.1 1067.8l-1.0 1.7M258.8 1249.4l0.4 1.6M284.6 1257.1l-1.8 0.6M41.8 1024.5l1.5 0.2M25.0 1014.2l0.2 1.2M10.7 1111.5l-0.2 0.6M34.5 1145.8l-1.8 0.6M18.6 1099.7l-0.6 0.9M186.2 1218.9l1.5 0.6M1.0 1026.8l-1.3 1.2M173.3 1023.9l0.8 0.3M80.3 1072.4l-1.6 1.2M132.4 1020.4l-1.0 0.9M155.7 1014.3l0.4 0.8M90.3 1031.8l0.9 0.6M239.6 1181.8l0.4 1.7M277.9 1178.0l1.0 1.4M200.8 1164.8l-0.6 1.6M165.7 1263.8l-1.5 0.0M228.3 1293.0l0.8 1.7M106.9 1029.4l-1.0 0.8M130.4 1023.2l-0.6 1.5M78.9 1021.3l-0.6 0.0M269.1 1278.9l-1.7 1.4M105.8 1159.7l-0.9 0.5M184.7 1116.7l-0.9 0.2M64.3 1097.8l-0.4 1.3M111.8 1059.9l-1.5 1.0M169.1 1183.6l-0.5 0.9M107.3 1030.7l-1.6 0.3M225.6 1115.8l-1.2 0.3M149.2 1016.5l-1.2 0.1M95.0 1146.7l-0.2 0.5M148.5 1058.0l1.5 0.1M209.8 1183.1l1.7 0.8M42.9 1031.1l-0.3 0.4M106.7 1093.7l1.5 0.4M105.5 1163.1l-1.3 1.5M262.9 1063.4l0.7 0.4M66.6 1150.4l-0.7 0.0M223.7 1176.2l-0.7 0.1M234.9 1107.4l1.6 1.4M52.1 1021.4l-0.7 0.9M258.8 1048.1l0.4 0.2M205.0 1177.7l-0.5 0.7M82.6 1093.0l-1.0 0.8M138.2 1160.9l-0.4 0.1M111.1 1148.9l0.7 1.9M264.2 1149.6l0.6 0.9M114.8 1097.7l1.0 0.4M175.6 1166.1l-1.6 0.8M219.6 1015.3l-1.4 1.0M11.3 1099.3l1.4 0.5M54.3 1094.0l-0.1 1.1M217.5 1218.1l-0.1 1.3M221.8 1096.2l-0.3 0.6M27.2 1281.1l-0.1 0.6M137.5 1157.4l1.5 0.6M17.7 1104.3l-0.7 0.6M209.3 1165.2l-1.7 0.9M78.3 1049.8l-1.0 0.4M212.8 1081.2l1.6 0.0M95.4 1086.6l-0.9 1.4M97.7 1096.5l0.6 0.4M170.7 1113.8l0.5 2.0M185.3 1233.2l-0.9 0.3M165.2 1226.9l2.1 0.5M257.1 1161.9l-0.3 0.1M84.1 1060.7l2.1 0.4M134.8 1202.0l-0.4 0.6M148.7 1207.7l-1.0 1.2M3.8 1126.5l-1.6 0.2M245.8 1148.0l-0.3 1.5M232.6 1146.6l-0.2 1.5M278.1 1140.7l-1.4 0.5M86.4 1089.7l-1.8 0.7M126.1 1161.4l-2.0 0.9M133.9 1120.7l0.6 2.1M130.6 1018.1l-0.5 0.1M141.2 1145.4l-0.9 0.7M171.8 1258.1l-1.3 0.2M261.3 1210.1l-0.3 0.5M74.8 1298.6l0.6 0.8M195.7 1123.9l0.2 1.7M282.6 1028.4l-1.4 1.1M94.8 1123.1l0.7 0.2M40.4 1277.5l0.1 0.3M107.7 1020.5l0.6 0.2M47.0 1066.5l-0.6 0.3M173.1 1114.1l-0.6 0.1M136.8 1089.6l-0.7 0.1M97.8 1037.2l0.2 2.1M199.2 1108.0l-0.5 1.1M72.3 1110.0l-0.2 0.3M51.3 1099.4l-0.2 1.9M214.7 1275.4l-1.5 0.5M152.9 1072.2l0.5 0.3M18.3 1139.5l-1.0 0.4" stroke="#1618dc" stroke-opacity="0.75" stroke-width="2.9" stroke-linecap="round" fill="none"/>
<path d="M97.4 1131.0h0M29.6 1132.3h0M25.7 1129.1h0M127.1 1136.1h0M124.6 1184.5h0M70.3 1152.5h0M165.8 1170.9h0M22.6 1150.8h0M48.9 1111.9h0M230.4 1179.5h0M182.5 1175.2h0M27.0 1100.4h0M193.7 1182.7h0M168.1 1175.4h0M224.5 1211.1h0M165.1 1179.0h0M207.0 1178.2h0M41.9 1128.9h0M51.0 1136.7h0M190.4 1203.4h0M246.4 1193.7h0M170.5 1184.5h0M236.8 1231.4h0M189.3 1157.3h0M184.7 1216.3h0M86.8 1142.6h0M16.1 1122.7h0M41.6 1105.5h0M44.9 1118.9h0M245.3 1178.2h0M158.3 1199.9h0M243.3 1190.3h0M106.9 1182.0h0M50.7 1116.3h0M73.0 1144.2h0M80.9 1115.7h0M109.7 1162.3h0M196.4 1189.4h0M192.6 1158.0h0M220.6 1221.2h0M115.9 1153.6h0M181.3 1154.6h0M66.4 1120.9h0M24.2 1095.6h0M37.4 1123.8h0M246.1 1213.1h0M78.1 1137.0h0M43.2 1157.4h0M135.8 1166.1h0M37.6 1122.5h0M233.8 1179.4h0M266.8 1214.8h0M156.7 1143.7h0M274.2 1239.2h0M80.5 1139.1h0M218.4 1198.2h0M99.0 1136.3h0M275.9 1239.1h0M230.9 1216.0h0M149.8 1162.6h0M80.0 1042.1h0M40.0 1122.1h0M20.0 1127.1h0M200.0 1172.1h0M230.0 1192.1h0M260.0 1162.1h0M40.0 1242.1h0M75.0 1267.1h0M133.0 1257.1h0M195.0 1264.1h0" stroke="#3cf560" stroke-width="2.6" stroke-linecap="round" fill="none"/>
</g></g>
<g><clipPath id="c2"><rect x="315" y="1012.1" width="289" height="288.4"/></clipPath>
<rect x="315.00" y="1012.10" width="289.00" height="288.40" fill="#020208" />
<g clip-path="url(#c2)">
<g filter="url(#blur8)">
<path d="M315.0,1072.1 L435.0,1092.1 L604.0,1067.1 L604.0,1157.1 L315.0,1152.1 Z" fill="#0a14a0" fill-opacity="0.45"/>
<path d="M315.0,1152.1 L604.0,1157.1 L604.0,1242.1 L315.0,1237.1 Z" fill="#061030" fill-opacity="0.5"/>
<path d="M315.0,1227.1 L375.0,1222.1 L375.0,1301.1 L315.0,1301.1 Z" fill="#0810a0" fill-opacity="0.4"/>
<path d="M390.0,1237.1 L430.0,1237.1 L435.0,1301.1 L385.0,1301.1 Z" fill="#0810a0" fill-opacity="0.35"/>
</g>
<path d="M323.4 1146.4l-0.9 1.8M377.6 1092.7l-0.4 0.4M315.5 1263.4l1.7 1.4M371.9 1290.4l1.1 0.1M420.8 1178.9l0.6 0.1M440.1 1294.3l-0.0 1.0M413.2 1278.6l0.5 0.7M332.0 1133.4l-1.4 0.4M597.3 1154.4l-0.6 0.8M322.7 1113.0l-0.5 0.3M356.2 1150.1l0.0 0.9M438.0 1168.2l-0.5 0.6M333.3 1080.1l1.4 1.7M339.6 1204.7l1.3 0.5M334.3 1298.7l-0.5 0.4M315.0 1094.6l0.3 0.1M510.3 1094.4l-1.0 0.9M373.1 1115.4l-0.2 0.6M579.4 1145.1l0.3 1.7M344.9 1246.9l2.1 0.4M577.7 1080.1l0.5 1.1M403.7 1280.1l-0.3 0.3M514.5 1222.3l0.1 1.9M582.8 1078.2l-1.1 0.6M315.5 1206.0l0.5 0.9M374.7 1120.1l-0.9 1.4M371.5 1111.2l-1.5 0.4M481.4 1097.5l-1.1 0.6M474.9 1136.8l-1.7 0.9M363.1 1109.7l1.6 1.1M403.6 1244.1l-1.1 1.6M589.5 1297.0l1.8 1.0M478.2 1175.6l-0.4 0.4M391.1 1285.1l0.9 0.3M569.9 1295.1l-0.3 0.6M331.7 1095.3l0.6 0.8M595.1 1131.0l-0.4 2.1M381.4 1097.1l1.3 0.3M338.4 1105.9l0.8 1.6M554.9 1155.3l-1.6 0.2M540.0 1100.5l-0.2 0.6M370.4 1296.0l0.3 0.3M325.5 1087.1l0.4 0.2M543.5 1097.3l1.4 0.0M483.9 1093.3l1.6 1.2M588.1 1298.1l0.6 0.0M549.5 1150.9l-0.3 0.7M357.4 1152.4l-1.2 1.7M329.2 1288.8l0.0 0.4M441.1 1102.8l0.6 0.6M509.4 1148.7l1.3 1.0M350.0 1129.0l-0.5 0.8M482.1 1096.1l2.0 0.3M367.4 1140.6l-1.2 0.4M425.1 1130.6l0.5 1.8M492.7 1149.4l0.2 0.7M411.1 1254.0l0.4 0.6M533.9 1106.7l0.0 2.1M602.9 1126.7l-0.6 0.7M601.3 1109.9l1.5 0.6M533.1 1111.8l0.9 2.0M458.3 1154.3l1.9 0.5M598.4 1116.5l-1.6 0.1M528.4 1116.4l0.4 1.9M338.9 1072.8l-0.6 0.5M333.7 1107.9l-1.1 0.3M522.3 1143.3l1.2 0.6M318.6 1102.3l-0.9 0.1M412.5 1126.2l-0.4 2.1M486.2 1126.9l-0.7 0.5M363.0 1121.9l0.2 0.3M402.5 1123.2l0.7 0.9M392.8 1100.1l0.3 0.0M366.4 1129.4l0.3 0.4M371.2 1121.8l-0.8 0.7M517.3 1110.0l1.0 0.8M381.7 1118.7l-0.6 0.5M357.8 1228.8l-1.7 0.7M568.2 1077.8l-0.0 0.9M563.9 1293.9l-0.8 1.7M551.9 1140.6l-1.3 1.3M432.4 1282.7l-1.6 0.6M427.7 1225.3l1.2 0.7M592.1 1289.9l-1.2 0.7M596.1 1290.4l-1.9 1.1M352.3 1097.7l0.9 1.0M505.8 1149.1l-0.0 1.2M555.4 1079.8l0.1 1.4M396.1 1237.7l-0.4 0.4M394.8 1253.2l0.3 0.7M490.7 1107.6l1.5 1.6M420.9 1162.8l0.6 0.3M551.8 1083.5l-0.5 0.0M477.4 1093.8l-0.7 0.8M344.5 1295.4l0.7 0.7M499.6 1110.7l0.5 0.5M506.5 1095.2l-0.4 0.0M331.6 1094.6l-0.7 0.1M425.9 1246.9l1.6 0.2M593.3 1074.0l-0.5 0.2M587.1 1138.3l-2.2 0.2M341.5 1235.8l-0.4 0.6M538.9 1223.8l2.0 0.1M337.2 1257.4l0.5 0.5M518.7 1106.2l-0.9 0.2M459.3 1106.7l0.2 0.9M360.0 1289.4l-2.0 0.3M578.2 1217.5l1.6 1.2M479.8 1127.4l0.1 0.6M340.2 1242.8l1.3 0.1M347.3 1221.4l-1.7 0.6M580.0 1094.0l-1.1 0.3M374.9 1285.6l-1.1 0.3M553.6 1101.5l0.9 0.6M542.4 1153.4l-0.6 0.3M551.2 1180.0l0.8 1.4M596.6 1076.4l-1.6 0.5M448.0 1145.0l0.5 0.4M333.7 1081.1l-1.7 0.5M397.2 1100.6l-1.6 0.0M572.7 1276.6l-0.5 0.6M465.3 1096.3l-0.9 0.8M435.3 1159.1l0.1 0.4M557.5 1146.8l-0.2 0.2M323.7 1293.8l0.9 1.3M520.8 1134.7l-0.6 1.0M405.9 1098.3l-0.3 0.8M402.6 1143.5l-0.2 0.5M371.9 1297.0l0.6 1.3M469.8 1099.7l0.3 0.2M498.6 1113.4l-1.6 0.4M499.5 1099.0l-0.4 0.1M438.0 1122.2l-0.4 1.0M538.7 1141.0l-0.8 1.2M457.6 1092.2l0.7 1.7M587.2 1072.6l-0.2 0.9M462.7 1145.0l0.3 1.0M320.0 1081.1l-0.2 0.7M425.6 1277.3l1.5 0.9M419.4 1268.4l-1.8 0.2M322.2 1249.7l-0.3 0.2M471.0 1124.8l-0.2 1.5M484.7 1113.8l-0.1 0.6M492.4 1152.0l0.5 1.1M445.6 1123.0l-0.4 1.9M462.9 1143.8l-1.0 1.7M555.1 1119.0l-0.1 0.5M530.9 1102.9l0.3 0.7M550.2 1115.1l-0.1 0.8M366.0 1262.6l-0.2 0.6M462.6 1158.1l0.6 0.3M330.1 1135.8l-1.7 0.4M409.0 1149.7l0.8 1.4M336.9 1229.7l0.2 0.6M363.0 1117.4l2.1 0.2M381.1 1113.7l-1.5 0.4M413.3 1129.3l-0.6 0.5M380.6 1107.2l0.2 0.3M399.5 1143.8l0.3 0.2M556.3 1126.4l0.4 0.5M351.8 1295.1l-1.3 0.7M324.2 1131.3l0.1 1.3M506.6 1104.8l-0.1 1.4M345.8 1195.8l-0.8 1.4M324.9 1297.4l0.9 0.1M568.6 1077.0l-0.6 0.7M549.8 1092.0l-0.6 0.5M516.8 1226.7l0.8 1.0M351.9 1102.0l-1.0 0.3M348.6 1253.9l0.8 0.0M467.4 1104.1l-1.6 0.7M500.4 1113.6l-0.2 0.6M471.9 1096.7l-0.6 0.1M600.9 1147.5l-1.8 0.9M380.0 1112.7l-1.2 0.5M395.8 1097.1l-0.5 0.4M553.1 1137.1l-1.5 0.8M603.5 1156.0l-1.5 0.3M588.6 1189.2l-1.3 1.3M559.3 1095.2l0.2 1.0M462.0 1092.6l0.2 0.4M410.4 1091.6l-1.1 0.3M414.2 1289.5l0.7 1.9M357.6 1257.2l-0.7 0.1M417.1 1281.9l-0.1 1.8M528.8 1146.1l-0.5 1.3M422.4 1153.8l-0.3 0.2M574.1 1293.1l-1.1 0.4M451.7 1152.5l1.0 1.9M584.8 1153.4l1.2 0.3M330.7 1091.8l1.5 1.2M408.6 1244.9l-0.2 2.0M423.8 1126.1l0.8 1.1M364.1 1135.7l-0.3 0.8M481.3 1092.5l0.3 1.9M326.7 1071.9l-0.9 0.9M435.5 1111.4l-0.4 0.2M451.9 1102.1l-0.8 0.7M561.7 1091.6l0.9 0.0M599.6 1276.7l-1.6 1.3M380.0 1100.3l-1.1 1.0M439.0 1113.2l-1.3 0.8M423.2 1138.1l-1.1 1.5M373.9 1294.9l0.5 0.3M482.6 1133.4l-0.4 0.1M589.6 1137.8l-0.7 0.0M540.3 1097.9l1.9 0.1M546.9 1112.7l-0.0 2.0M434.3 1118.9l0.1 0.8M331.4 1110.3l-0.3 1.9M524.5 1101.5l-0.9 0.8M560.6 1093.7l0.2 0.2M363.0 1237.3l1.8 0.6M590.7 1148.1l0.7 0.2M415.9 1287.5l-0.7 1.0M331.2 1256.6l-1.9 0.2M599.0 1154.4l-0.2 1.8M558.3 1274.6l-1.0 0.2M574.5 1154.3l-1.2 0.6M520.0 1124.9l-0.0 0.7M436.3 1143.0l-0.3 0.4M589.2 1094.4l0.4 0.2M332.5 1088.8l-0.9 0.6M491.5 1111.4l0.0 0.3M497.8 1147.8l1.9 0.2M368.7 1093.3l1.0 1.7M325.1 1116.2l-0.3 0.8M571.8 1286.5l0.3 0.5M341.7 1278.6l-0.6 0.3M316.5 1290.2l0.7 0.4M538.3 1107.0l1.1 0.7M317.6 1086.3l-1.9 0.1M564.3 1103.9l0.5 0.2M443.0 1100.1l1.8 0.9M448.2 1297.0l-1.0 1.6M584.6 1088.8l0.2 0.8M514.0 1105.6l-0.2 0.8M523.6 1147.8l0.8 1.1M484.7 1176.5l0.3 0.2M416.1 1102.2l-0.3 1.7M357.5 1144.6l-0.4 2.1M346.1 1080.7l-0.2 0.4M545.3 1105.5l1.0 1.3M382.5 1094.4l0.6 1.0M575.9 1087.6l0.1 1.3M432.4 1121.4l-0.3 0.5M340.8 1290.0l-0.8 0.3M586.4 1075.5l0.7 0.2M412.5 1282.5l-0.5 1.3M357.1 1260.1l-1.1 0.4M359.2 1237.2l0.6 1.4M559.8 1274.8l-0.8 0.6M558.7 1086.4l-0.8 1.3M323.6 1242.2l0.1 0.3M341.3 1074.6l0.8 0.7M410.1 1119.3l1.0 1.3M536.8 1095.5l-0.1 0.7M365.1 1123.9l0.4 1.1M403.9 1089.9l-0.4 0.2M564.5 1141.2l-1.2 0.1M488.0 1092.7l-1.6 0.4M574.5 1153.1l1.0 1.4M315.2 1278.2l-0.2 0.3M593.0 1131.3l0.6 0.5M402.1 1286.0l-0.1 2.0M396.7 1097.1l-1.4 1.3M466.5 1099.3l-1.9 1.0M593.6 1108.9l-0.0 0.6M344.9 1142.3l1.2 1.6M433.0 1179.4l-0.8 1.4M494.3 1115.3l-0.5 0.4M359.3 1143.2l1.7 0.9M444.1 1136.3l0.7 0.0M432.9 1118.4l0.5 1.1M588.9 1151.6l-0.1 0.3M334.4 1074.1l0.9 1.6M554.9 1237.3l1.3 0.9M554.4 1151.0l-2.0 0.7M372.6 1231.7l-0.0 0.4M443.8 1142.6l0.6 2.0M488.7 1153.1l-0.4 0.1M337.7 1145.2l0.2 1.4M418.4 1156.2l0.3 0.7M328.0 1098.4l0.2 0.3M506.5 1093.8l-0.1 0.6M405.0 1111.3l-1.1 1.0M327.4 1228.1l-1.9 0.1M420.6 1247.5l-1.3 1.4M474.2 1119.7l-1.1 0.5M325.6 1239.3l-0.5 1.7M369.1 1092.1l0.5 0.1M505.0 1184.9l-1.3 1.2M349.1 1083.0l0.4 0.2M521.6 1114.9l0.5 0.4M546.7 1094.2l-0.7 1.4M596.6 1076.6l0.3 0.2M580.2 1087.9l0.4 0.3M373.2 1269.2l0.3 1.4M326.7 1070.1l-0.8 1.4M556.1 1146.0l-0.1 1.5M439.1 1289.2l1.1 1.7M429.7 1282.9l0.9 0.7M357.4 1210.4l-1.2 0.9M416.2 1147.1l-0.1 1.8M440.2 1103.0l1.3 0.2M377.9 1205.6l-0.6 0.5M596.5 1095.3l-1.6 1.3M423.9 1139.0l-0.1 0.6M463.1 1115.0l1.0 1.1M576.3 1085.7l-0.5 0.7M550.5 1114.8l-1.5 1.5M400.2 1111.0l-0.4 0.8M321.4 1190.3l0.2 1.4M341.9 1118.3l-0.5 0.4M354.3 1094.1l0.2 1.3M348.2 1207.6l1.8 0.1M337.9 1148.2l-0.4 1.7M425.4 1175.3l-0.3 1.1M554.9 1127.6l-0.5 0.9M403.0 1117.7l-0.6 0.3M342.1 1111.3l0.9 0.7M328.2 1117.8l-1.3 0.6M365.8 1235.5l1.3 1.3M555.9 1173.1l-0.3 0.6M342.4 1190.1l0.9 0.1M484.8 1168.1l1.8 0.2M573.5 1101.1l0.9 1.1M529.4 1154.7l-0.1 0.6M389.7 1204.2l-1.0 1.6M603.0 1068.0l1.1 1.3M488.4 1136.3l0.4 0.1M411.3 1107.9l0.1 0.4M567.3 1272.8l-0.8 0.4M509.5 1093.4l-0.4 1.2M603.7 1154.2l-0.2 1.0M328.2 1281.5l-1.3 0.6M395.1 1180.1l-0.9 1.2M555.7 1205.4l-1.1 0.6M373.2 1151.9l1.6 1.0M445.9 1103.0l1.9 0.3M585.3 1171.1l-0.2 1.8M484.9 1100.0l-1.6 0.0M510.4 1120.2l0.0 1.7M396.0 1145.5l-0.3 1.1M533.1 1099.6l0.2 1.5M359.8 1285.2l-1.1 0.8M599.7 1118.3l0.2 0.4M598.5 1086.0l-0.1 0.3M323.8 1277.7l-0.2 1.2M419.4 1098.4l-1.3 0.6M354.7 1255.7l0.9 1.9M376.4 1229.6l1.4 0.3M395.8 1257.3l-0.3 1.1M377.2 1107.1l-0.2 2.0M577.6 1081.5l-1.4 0.1M420.4 1284.7l0.3 0.3M568.6 1149.2l1.5 1.5M581.0 1112.3l-0.3 1.1M576.9 1100.2l0.3 0.2M580.6 1089.0l1.5 0.7M366.7 1133.3l0.1 1.2M545.1 1091.8l0.3 1.3M452.4 1217.5l0.6 0.3M355.4 1150.4l-0.5 1.8M411.5 1098.2l0.7 1.3M588.5 1132.8l-1.2 0.4M373.3 1199.5l2.0 0.7M594.6 1076.3l-0.5 0.1M555.4 1102.0l-1.1 0.6M416.5 1282.2l0.0 0.6M404.9 1216.9l-0.3 0.6M352.5 1153.3l-0.7 0.3M527.0 1194.0l1.2 0.3M322.5 1235.3l-1.8 1.2M580.5 1154.7l0.1 0.9M508.9 1103.2l1.3 0.2M426.2 1155.2l-0.3 0.7M454.9 1150.3l-0.5 1.4M592.7 1126.5l1.5 0.8M565.1 1093.4l0.3 0.6M425.8 1110.9l-1.0 1.6M513.0 1092.8l0.4 0.3M365.1 1266.4l0.2 0.5M338.4 1281.5l0.1 0.7M533.0 1105.2l-0.5 1.9M407.6 1107.1l-0.6 0.1M370.5 1241.4l-0.6 2.0M407.7 1184.6l-2.0 0.9M373.2 1271.6l1.4 0.3M477.5 1124.0l-0.2 1.5M399.9 1128.0l1.0 1.1M398.0 1132.2l-0.6 0.2M519.6 1114.4l0.6 1.2M354.3 1261.8l-0.7 0.3M438.6 1153.4l-0.9 0.2M414.8 1293.8l0.5 0.5M400.9 1225.1l-0.2 1.4M485.4 1137.9l-1.4 0.4M504.0 1111.0l-0.4 0.1M600.6 1071.3l0.0 0.7M548.3 1112.1l-0.9 0.1M558.7 1135.4l0.5 0.2M542.0 1138.0l-2.0 0.1M518.7 1093.8l0.3 0.3M485.9 1184.4l-1.2 1.2M499.1 1167.8l1.3 1.7M577.9 1116.9l1.2 0.1M328.3 1255.8l0.3 0.3M502.0 1110.0l-0.4 0.4M388.0 1290.4l-1.6 0.2M319.1 1254.4l-0.3 0.2M358.8 1264.0l-0.4 1.7M543.1 1095.4l1.0 0.7M481.8 1148.7l0.8 0.7M533.4 1093.4l2.2 0.2M437.0 1149.9l0.5 0.8M455.9 1216.1l-0.4 0.0M545.4 1084.4l-0.6 0.3M524.1 1192.6l0.5 0.9M418.6 1100.9l1.3 0.6M576.4 1118.2l-0.1 1.6M551.8 1115.8l-1.7 0.9M340.4 1103.3l-0.7 1.2M473.4 1191.7l-1.4 1.7M421.6 1147.7l1.5 0.5M361.4 1088.8l-0.8 0.1M440.2 1227.8l-0.9 0.6M484.8 1145.9l-0.9 0.6M590.0 1142.5l-1.2 0.3M338.3 1225.5l-0.7 1.8M320.0 1266.6l1.2 1.7M477.6 1117.9l1.6 1.1M367.2 1140.0l1.2 1.2M506.9 1216.0l-0.2 0.4M367.7 1190.7l-2.0 0.0M436.9 1134.7l1.6 0.6M527.1 1133.1l1.1 0.4M522.0 1113.7l0.4 1.5M437.8 1107.8l0.8 1.9M598.5 1077.2l-1.4 0.7M602.5 1152.6l1.6 0.4M553.1 1095.5l0.8 0.9M527.7 1129.4l-0.5 1.9M598.1 1273.1l0.9 1.8M537.7 1104.8l0.9 1.4M364.4 1125.9l-0.6 0.3M561.7 1124.0l-0.1 1.7M389.9 1092.0l-1.9 0.9M463.6 1154.1l-0.4 0.3M431.8 1129.8l-0.7 0.7M344.0 1239.8l-0.5 0.0M597.8 1115.0l0.1 0.5M369.4 1242.8l-0.9 1.7M554.0 1211.3l1.7 0.5M435.3 1151.0l-0.3 0.2M493.2 1118.7l0.4 0.1M566.5 1285.0l0.2 0.8M582.3 1105.5l-1.7 0.4M471.0 1119.5l0.1 0.5M398.2 1254.0l1.6 0.2M599.0 1098.5l-0.1 1.0M514.0 1127.4l0.7 1.6M569.3 1080.4l0.4 0.4M547.3 1138.0l0.8 1.1M336.2 1237.9l-0.3 0.1M327.9 1096.7l-1.1 1.9M467.9 1111.3l-0.7 0.7M474.8 1119.1l1.0 0.9M321.3 1071.7l0.7 0.1M485.9 1094.2l-0.1 0.3M407.1 1146.1l-0.9 0.3M374.2 1121.0l1.9 0.1M371.4 1265.9l-0.6 0.4M418.7 1134.7l-0.5 1.9M410.2 1146.2l-1.3 0.2M401.7 1152.4l-1.2 0.8M354.7 1152.5l-1.0 0.5M344.5 1215.5l-0.8 1.2M441.6 1138.5l-0.0 1.5M559.6 1204.2l2.2 0.0M336.6 1093.3l-0.3 0.4M466.8 1138.8l0.1 0.8M558.2 1087.2l1.6 1.3M584.5 1139.2l1.2 1.2M429.5 1181.9l0.5 0.8M520.5 1092.2l-1.2 0.2M387.6 1089.5l-0.5 0.9M370.2 1274.7l2.0 0.2M356.6 1214.1l0.8 0.8M553.8 1115.1l0.7 0.3M581.9 1126.0l-1.3 1.0M319.2 1110.3l-1.5 0.4M442.9 1138.8l-0.1 0.8M574.0 1100.1l-0.9 1.5M498.8 1096.9l0.9 1.8M330.4 1110.8l-0.4 1.5M438.8 1145.5l-0.5 1.3M340.6 1092.2l0.9 0.9M325.8 1256.4l-0.3 0.8M459.3 1154.3l0.4 0.3M343.2 1238.4l0.3 0.3M484.7 1117.9l0.2 0.6M421.6 1300.1l1.6 1.0M373.5 1121.8l-0.7 0.2M429.3 1256.8l-1.5 0.1M363.5 1243.0l-0.8 1.0M424.2 1276.1l-1.4 0.7M548.5 1193.3l1.8 0.7M368.7 1254.2l-1.3 1.3M592.8 1142.5l0.5 0.9M403.5 1130.1l0.0 1.7M402.8 1273.5l1.0 0.4M429.7 1251.1l0.5 0.1M481.1 1139.8l1.2 1.0M397.7 1278.2l-1.5 0.5M362.2 1115.4l-1.2 0.3M410.0 1291.1l-1.3 0.1M573.5 1285.0l-0.6 0.5M340.3 1235.2l-1.0 1.7M471.7 1140.7l-0.9 0.4M368.1 1162.0l0.8 1.5M358.1 1223.3l0.7 0.3M597.6 1094.3l0.3 0.4M548.5 1091.7l1.3 0.5M365.6 1096.5l0.6 1.3M428.7 1215.5l-0.9 0.4M489.3 1204.1l1.7 0.7M513.9 1118.4l0.0 0.9M365.9 1087.6l0.4 1.2M506.7 1114.5l-0.5 1.1M447.9 1142.2l0.5 1.4M337.9 1107.9l-0.0 0.3M600.7 1085.7l-1.3 0.5M352.2 1278.1l-1.1 1.8M510.5 1190.2l0.8 0.2M422.8 1126.8l-0.1 0.6M320.9 1160.8l-0.7 1.7M408.9 1106.9l0.3 0.9M478.6 1220.4l1.0 1.1M481.1 1150.3l0.4 1.2M561.7 1162.2l0.1 1.0M426.2 1278.6l-0.5 0.6M415.2 1268.5l2.0 0.6M483.1 1132.5l0.9 1.0M457.1 1153.5l-0.7 0.2M556.0 1121.5l0.9 0.9M407.1 1268.3l1.3 1.5M339.1 1236.0l0.9 0.3M365.7 1092.3l-1.2 1.7M409.0 1092.2l0.4 0.7M392.1 1253.9l-1.4 0.0M333.6 1250.8l0.2 0.8M347.4 1288.3l0.1 0.7M410.9 1138.5l-1.6 0.5M333.8 1216.7l0.8 1.6M494.5 1109.2l0.4 0.6M603.9 1280.6l1.1 1.6M408.0 1134.1l1.6 0.9M426.4 1125.9l-0.2 0.6M581.3 1279.6l-1.9 0.1M581.6 1288.5l-0.4 1.6M343.7 1216.8l1.1 0.3M525.7 1137.6l2.1 0.4M429.3 1125.5l1.1 1.2M439.3 1150.5l-0.7 0.2M358.0 1104.4l-1.0 1.0M515.8 1129.4l-0.6 0.9M487.3 1107.1l0.9 0.6M473.0 1115.8l-0.4 0.9M317.7 1129.1l0.7 1.0M349.0 1108.8l-1.8 0.2M389.4 1088.7l0.8 0.5M328.1 1272.5l-1.0 0.2M438.6 1162.2l-1.3 0.7M589.5 1076.0l0.8 0.7M362.6 1127.0l-2.0 0.9M484.1 1115.3l-0.6 0.5M472.8 1104.3l-0.2 0.6M374.8 1095.6l-0.3 0.5M538.8 1140.0l0.4 1.4M527.2 1144.8l-1.9 0.1M440.3 1117.0l-0.4 1.4M410.5 1282.0l-1.2 0.5M496.1 1103.3l-1.7 1.4M387.6 1091.3l-0.3 0.9M416.5 1263.7l-0.1 0.3M334.9 1089.0l-0.7 1.3M370.5 1169.1l0.3 0.8M532.3 1178.1l1.4 1.4M558.0 1133.0l0.3 1.9M530.8 1226.3l1.5 1.1M425.0 1095.1l1.7 0.7M414.7 1255.1l1.0 0.3M460.5 1131.9l1.6 1.4M472.0 1122.1l-0.7 0.0M458.0 1135.4l0.9 1.4M566.1 1096.5l-0.2 1.1M511.3 1108.2l-0.1 1.0M553.0 1149.0l1.5 1.1M503.3 1114.8l0.4 0.6M382.3 1142.3l1.3 1.6M565.7 1277.4l-0.4 1.2M472.3 1140.1l0.6 0.8M333.4 1151.5l1.5 1.3M569.4 1109.1l1.0 0.2M546.6 1088.2l1.7 1.1M354.4 1089.0l0.2 1.5M444.3 1119.3l-1.2 0.5M530.1 1129.8l0.2 1.9M536.6 1096.5l1.0 1.5M410.7 1121.2l1.3 0.2M533.5 1115.5l-1.1 1.1M329.7 1108.3l0.7 0.4M570.6 1088.6l0.8 0.8M432.5 1295.6l1.1 1.8M396.8 1243.8l-0.9 1.2M370.2 1266.6l-0.0 0.8M473.0 1141.1l-0.5 0.4M353.4 1272.2l-0.4 0.7M430.1 1131.8l0.2 0.7M365.2 1128.3l-0.0 0.9M334.8 1251.5l-1.6 0.3M409.8 1149.3l0.8 1.5M356.1 1148.0l-0.7 0.6M419.1 1091.7l-0.4 0.9M417.1 1245.1l-1.6 1.5M581.7 1076.9l-0.4 0.3M319.9 1266.7l0.0 1.9M372.1 1144.8l-1.4 0.9M450.4 1293.3l0.9 1.3M471.6 1141.2l0.9 0.7M504.8 1104.4l-0.4 0.6M488.9 1147.2l-0.4 0.5M390.2 1283.4l0.1 0.5M399.7 1115.0l-1.4 1.0M558.8 1282.2l-1.6 0.4M316.7 1267.1l-0.3 0.1M351.7 1234.9l-0.9 0.1M542.3 1092.7l0.1 0.4M500.4 1153.3l0.6 2.1M363.1 1098.2l-0.0 2.0M393.9 1262.0l-0.9 1.8M496.9 1144.9l-0.5 0.2M490.3 1097.6l1.6 0.4M564.4 1114.4l-1.7 0.7M338.4 1272.9l-1.5 0.4M339.7 1241.9l-0.7 0.3M428.5 1124.0l0.3 1.2M573.9 1285.7l-0.3 0.2M568.7 1284.7l-0.8 0.5M461.6 1115.6l-0.1 2.2M505.7 1090.3l-1.2 1.7M580.9 1278.5l-0.7 0.6M330.0 1219.0l0.3 1.0M560.2 1117.6l-1.4 0.5M359.6 1140.6l-1.1 1.1M362.1 1295.0l0.0 1.2M446.9 1096.2l-0.3 0.4M508.9 1150.2l-0.8 0.4M488.3 1187.2l-0.1 1.4M567.8 1153.8l1.7 0.4M573.3 1095.9l-1.2 0.5M443.5 1299.8l-0.9 0.9M529.3 1121.6l1.2 0.3M409.6 1212.0l-0.4 1.2M496.3 1149.0l1.3 1.0M338.7 1293.0l0.6 1.5M349.3 1137.4l1.0 0.8M342.4 1116.2l-1.9 0.9M508.8 1091.5l0.4 0.4M322.9 1252.4l-1.2 1.6M578.1 1091.0l-2.1 0.5M582.7 1106.4l1.3 0.5M600.2 1094.1l0.1 0.5M327.5 1121.9l-0.1 0.6M368.8 1085.4l-0.7 1.3M479.4 1117.4l1.1 1.2M328.1 1256.1l-1.9 0.5M567.9 1292.4l1.1 0.5M393.9 1275.4l1.3 0.7M541.4 1141.7l-1.4 1.5M544.8 1087.9l0.3 0.3M499.0 1155.1l-0.5 0.7M589.8 1131.7l-1.5 0.8M321.6 1072.4l-0.1 0.5M364.3 1249.2l0.3 0.7M369.9 1146.9l1.7 1.1M590.1 1079.2l1.7 0.0M483.8 1154.5l1.0 0.9M453.4 1147.6l-0.4 0.1M592.3 1173.1l-0.2 1.9M492.8 1220.4l1.5 0.2M355.2 1280.7l-0.0 1.3M390.3 1241.8l0.2 0.4M557.3 1227.6l0.9 0.6M373.2 1181.7l0.2 1.9M374.7 1116.5l-0.2 1.1M523.4 1124.5l-0.2 0.3M469.6 1100.3l-0.7 1.0M584.0 1134.8l0.6 0.6M332.8 1252.5l0.4 0.7M360.6 1261.4l0.5 1.5M438.2 1126.2l-0.2 0.4M325.8 1083.7l-0.4 0.2M340.4 1290.4l-0.1 0.8M559.3 1079.6l0.4 1.3M414.9 1272.6l-0.7 1.2M391.0 1253.4l-1.0 1.8M456.7 1145.2l0.6 0.2M392.4 1102.1l-0.8 0.5M317.8 1101.9l-0.2 2.0M531.5 1150.0l0.7 1.2M417.7 1282.8l-1.4 0.9M508.7 1148.2l1.6 0.4M460.4 1136.2l-0.4 0.4M525.9 1154.7l0.4 0.2M404.5 1252.5l0.5 1.1M368.7 1267.9l0.4 0.2M318.4 1077.6l0.8 0.4M318.6 1075.8l0.5 0.1M328.1 1104.2l-0.2 0.3M353.8 1292.9l0.2 0.8M372.1 1162.9l0.8 1.3M428.1 1240.4l1.9 0.1M441.5 1119.9l1.2 0.1M515.3 1175.4l-0.8 0.6M460.9 1140.3l1.1 1.5M577.5 1143.2l0.6 1.3M358.3 1089.5l1.0 0.0M409.9 1120.8l0.3 0.1M470.4 1114.0l0.3 2.0M403.2 1299.7l-0.2 1.9M399.3 1147.9l-0.5 0.4M326.5 1102.3l-0.5 0.2M576.6 1102.1l-0.1 1.5M569.9 1097.3l-0.1 0.5M513.8 1112.0l0.4 0.2M450.9 1179.6l0.9 1.4M369.2 1293.1l-1.6 0.2M428.4 1105.3l-1.2 1.6M585.1 1103.7l2.2 0.1M352.5 1174.2l-0.2 0.3M560.2 1274.7l-0.9 1.5M498.5 1095.4l-0.6 0.9M556.4 1148.2l-0.7 1.0M585.6 1114.6l-0.0 2.0M360.9 1114.7l0.3 0.2M505.6 1149.8l-0.1 1.1M397.3 1091.3l-0.3 1.3M472.9 1182.5l1.3 0.2M345.6 1112.4l-0.3 0.7M572.1 1102.7l-0.9 1.0M378.9 1109.3l0.9 0.5M362.8 1133.7l1.1 1.1M336.0 1272.1l-1.1 1.0M519.9 1087.2l-0.8 0.5M364.6 1251.9l0.4 0.1M580.0 1223.0l-1.5 1.3M587.7 1083.4l-1.7 0.8M584.4 1138.7l-1.5 1.1M427.0 1297.7l-1.3 1.6M583.0 1237.9l-0.4 0.3M439.4 1101.6l0.4 0.9M433.4 1148.8l-1.9 0.5M527.1 1128.2l-0.1 1.1M452.1 1150.2l1.0 1.5M456.1 1102.6l0.4 0.1M468.5 1152.8l0.3 1.6M336.8 1248.4l0.5 1.5M350.8 1281.1l0.0 0.4M347.2 1140.5l-0.2 0.3M390.1 1127.7l-0.5 0.5M334.6 1275.3l-0.0 1.0M574.9 1151.0l-1.1 0.4M447.8 1286.6l0.3 0.4M425.5 1240.7l1.8 0.6M352.4 1248.0l0.3 0.8M527.3 1112.9l1.1 1.6M544.1 1110.2l0.5 0.2M434.1 1097.2l0.7 0.2M587.3 1114.4l1.1 0.5M393.3 1112.6l-0.8 0.4M602.5 1133.4l-1.9 0.7M475.1 1111.8l-1.0 0.5M424.2 1252.1l0.9 0.2M467.0 1127.4l0.2 1.1M398.9 1243.7l0.3 0.5M537.8 1114.0l0.3 0.9M333.4 1137.8l-1.5 0.2M448.8 1112.1l-0.8 0.0M555.8 1190.3l-0.1 1.0M366.2 1136.3l0.9 1.4M360.0 1204.7l0.1 0.8M549.2 1098.5l-1.5 1.3M404.0 1138.8l-0.3 0.4M398.0 1261.5l1.7 1.3M399.1 1113.6l0.5 1.7M592.5 1297.6l-0.3 0.6M319.6 1177.2l0.5 0.5M483.2 1136.4l0.7 0.9M468.0 1146.8l-0.3 0.3M556.5 1294.2l0.7 1.1M315.9 1243.8l-0.7 0.8M512.4 1151.5l-1.3 1.6M380.4 1150.5l-0.7 0.0M408.6 1247.0l-0.5 0.3" stroke="#1618dc" stroke-opacity="0.4" stroke-width="2.3" stroke-linecap="round" fill="none"/>
<path d="M412.7 1101.5l0.1 0.9M586.4 1285.9l0.4 1.3M404.4 1151.6l1.4 0.4M597.1 1142.9l-0.8 0.9M396.2 1152.2l-0.5 0.7M394.1 1095.4l-0.5 0.8M347.0 1291.3l-0.2 1.1M432.2 1092.4l1.8 0.7M458.4 1131.9l-1.2 0.1M592.7 1082.9l1.0 0.4M541.0 1082.9l1.9 1.0M315.9 1236.8l-0.5 1.1M543.8 1203.5l-1.4 1.7M439.8 1102.8l0.1 2.1M564.6 1142.8l0.3 0.1M339.2 1275.0l1.3 1.0M415.7 1135.2l-2.0 0.4M361.0 1120.1l-0.5 0.2M322.2 1078.6l0.7 2.0M480.1 1120.7l-1.3 1.5M540.4 1088.1l1.2 0.5M356.6 1232.6l0.2 0.9M435.4 1288.5l-0.5 0.5M407.9 1105.6l-1.5 0.5M339.4 1268.6l0.1 0.6M341.5 1114.7l1.8 0.0M602.3 1074.6l0.8 0.9M325.4 1130.2l-0.8 1.5M596.8 1214.6l1.4 0.5M389.8 1098.2l-0.9 0.9M449.7 1139.9l-0.3 1.2M362.2 1213.6l-0.2 0.8M593.5 1132.5l-1.2 0.8M361.0 1154.7l-1.4 1.1M319.2 1233.0l0.1 1.1M369.2 1263.4l-0.4 0.3M570.9 1152.8l-1.7 0.1M579.7 1195.6l-0.0 1.2M385.4 1095.8l1.2 1.7M400.2 1096.4l0.8 0.7M361.7 1107.9l-0.1 1.9M452.1 1104.3l1.9 0.7M581.0 1110.2l1.0 0.4M581.4 1113.3l0.5 1.7M316.9 1213.0l-1.3 0.2M347.6 1082.2l-1.8 0.3M492.5 1191.0l-0.5 0.5M587.2 1114.3l0.9 1.2M344.2 1098.8l-0.7 0.2M358.2 1296.9l0.3 0.4M574.4 1273.4l0.9 0.8M561.5 1296.7l0.3 1.2M447.4 1150.5l1.4 1.2M509.2 1160.7l-1.9 0.7M318.5 1139.4l-1.4 0.8M517.6 1120.6l-1.2 1.1M426.0 1264.0l-0.2 1.6M487.9 1100.8l0.1 2.1M602.9 1286.3l0.9 0.2M526.2 1089.2l0.4 1.0M401.1 1148.0l-0.8 1.8M598.5 1131.5l-0.6 0.3M457.1 1108.6l0.8 0.6M464.5 1124.8l1.8 1.1M390.1 1093.5l-0.6 1.7M455.2 1154.1l1.1 0.5M323.3 1085.6l0.2 1.3M342.2 1119.3l-0.2 0.8M422.6 1292.4l-1.3 1.1M355.9 1219.0l-0.7 0.6M367.6 1288.9l-0.8 0.6M406.3 1092.2l1.3 1.0M357.3 1289.6l0.3 0.1M412.6 1255.4l0.9 0.8M404.7 1287.3l0.8 1.5M478.6 1133.1l0.1 0.6M337.8 1092.3l-1.6 0.3M597.7 1148.3l-1.8 1.0M399.6 1119.4l1.2 1.8M545.2 1108.6l-1.4 0.9M330.7 1133.6l-0.3 0.3M473.0 1161.5l1.3 0.9M564.9 1140.0l-0.5 1.4M360.4 1299.9l-0.1 0.3M363.2 1265.7l-0.7 0.6M345.8 1235.2l1.0 0.2M319.4 1079.5l-1.9 0.4M349.2 1275.7l0.2 0.3M371.5 1119.3l0.3 0.3M511.1 1089.5l0.6 0.2M414.9 1187.9l-1.1 0.2M445.2 1110.9l-0.6 0.1M594.7 1084.0l0.8 0.6M497.5 1111.5l-0.7 0.2M354.7 1151.0l2.1 0.5M595.1 1080.6l0.3 0.5M442.4 1107.4l1.7 0.5M481.6 1101.1l1.5 0.5M355.3 1152.4l-1.2 1.1M488.6 1147.6l2.0 0.5M353.8 1226.7l0.5 0.1M431.0 1164.5l0.2 0.4M462.2 1100.4l-1.5 0.9M578.9 1108.8l-1.6 0.1M344.3 1252.9l1.3 0.6M366.3 1110.6l1.3 0.2M556.3 1129.8l-0.5 2.1M396.9 1125.4l0.6 0.6M359.2 1234.8l-0.6 1.0M485.1 1140.7l1.0 0.1M422.1 1165.3l0.6 0.1M433.8 1103.0l1.0 0.9M384.0 1092.3l-1.1 1.5M544.5 1210.5l-0.2 1.1M419.2 1092.9l-1.2 1.1M323.3 1168.7l-0.1 0.3M411.1 1119.8l0.5 0.2M505.7 1105.8l0.1 0.3M522.0 1116.8l0.2 1.2M399.8 1286.8l1.0 0.9M336.0 1244.4l-1.0 0.2M319.6 1114.4l0.4 0.4M494.0 1205.8l0.5 0.4M342.0 1243.9l1.2 0.0M599.3 1151.6l-0.6 0.3M430.1 1114.2l1.1 0.9M529.4 1100.9l0.2 0.6M451.7 1131.7l-0.5 0.5M599.7 1128.6l-0.4 0.6M330.3 1190.1l-0.5 0.2M330.6 1151.4l-1.2 0.9M409.0 1100.5l0.2 1.3M593.7 1092.5l0.4 0.9M361.7 1138.1l-1.0 0.0M461.8 1140.3l1.2 0.4M402.3 1289.5l-0.5 0.9M406.6 1100.4l1.5 0.3M569.7 1107.1l-1.0 0.7M547.0 1097.4l-0.0 1.0M374.5 1286.3l0.6 0.3M472.1 1098.7l0.4 1.5M422.6 1102.2l-0.7 0.9M399.1 1112.7l-0.3 0.5M373.1 1273.4l0.2 1.5M599.0 1285.9l0.8 2.0M336.0 1293.5l-1.1 0.9M585.0 1133.1l1.1 1.8M325.1 1265.6l0.6 1.5M401.6 1103.1l-1.2 1.1M337.9 1289.4l-0.1 1.0M565.3 1142.6l1.6 1.4M588.6 1072.4l-0.7 0.2M598.5 1137.2l-0.2 0.8M592.9 1098.9l0.5 2.0M445.0 1149.7l0.8 1.4M451.4 1289.4l-1.6 0.1M381.4 1109.6l-0.8 1.1M409.5 1169.3l0.4 0.7M576.5 1143.6l0.2 0.4M563.6 1080.4l0.4 1.3M328.4 1147.0l-0.4 1.1M383.3 1104.9l1.2 0.3M484.0 1182.0l0.3 0.1M518.2 1135.9l-1.0 1.3M548.1 1156.1l1.2 0.1M328.5 1101.8l0.0 0.7M464.1 1151.8l-0.4 0.8M575.1 1082.7l-1.5 0.2M341.8 1117.1l-1.3 1.1M593.2 1209.1l1.9 0.9M335.8 1277.0l-1.4 0.2M500.5 1113.8l0.8 0.2M592.1 1228.5l-0.2 1.9M348.1 1249.0l0.1 1.1M434.4 1152.2l-1.6 0.8M396.4 1145.3l-2.0 0.4M433.3 1128.6l-1.2 1.7M390.8 1254.0l-0.7 1.5M405.9 1137.0l-0.5 0.8M590.4 1119.0l1.6 1.4M404.9 1195.9l1.0 1.4M339.5 1243.2l-1.2 1.1M477.0 1120.3l0.7 0.3M438.3 1114.9l-0.1 0.7M522.2 1143.3l-1.2 0.2M455.4 1164.3l0.9 0.0M363.9 1090.7l-0.3 1.0M373.3 1099.0l0.6 0.2M434.4 1098.1l0.2 1.1M448.3 1111.5l-1.0 0.0M491.3 1093.6l0.6 0.5M430.2 1268.6l0.3 2.0M335.4 1261.9l-1.8 0.1M353.3 1226.0l0.8 0.1M413.4 1256.6l-0.5 0.5M445.9 1127.8l-0.7 1.1M430.0 1278.8l0.7 0.6M601.9 1111.4l-1.3 0.7M425.0 1195.2l-0.3 0.2M360.3 1131.0l-0.7 0.6M567.5 1275.2l0.4 0.2M318.7 1091.7l-0.8 1.3M535.4 1112.1l-1.8 1.0M484.9 1105.5l0.3 0.3M321.9 1108.4l-0.3 0.5M541.8 1139.9l-0.5 1.3M565.2 1078.3l2.1 0.2M584.6 1117.1l1.2 0.6M572.4 1166.5l0.7 0.3M435.1 1094.3l0.6 1.3M390.5 1099.1l-0.4 2.0M546.2 1155.1l1.8 1.0M556.3 1091.4l-1.4 0.3M354.7 1110.7l-1.8 0.7M341.6 1117.0l1.0 0.2M345.2 1265.9l0.8 2.0M486.8 1097.1l-0.5 0.4M318.7 1228.6l0.7 0.5M505.9 1115.1l0.4 0.2M378.2 1090.2l1.1 0.6M416.2 1120.0l-1.3 0.3M411.4 1151.3l-0.4 0.4M470.3 1228.0l1.5 1.3M468.1 1132.0l-0.6 0.6M568.5 1274.3l0.3 0.8M436.4 1145.9l-0.7 0.1M335.9 1079.7l-1.2 0.7M600.2 1111.5l-0.3 0.6M559.2 1115.2l1.4 1.4M593.1 1115.7l-1.1 1.8M384.2 1103.5l0.8 1.8M513.9 1180.1l-1.0 0.3M445.7 1099.1l-1.2 0.9M550.4 1085.7l1.4 0.3M469.0 1148.3l-1.2 0.8M570.5 1164.6l0.4 1.4M403.6 1253.5l0.9 0.6M452.0 1106.0l-0.5 0.1M463.6 1097.1l-0.2 0.4M499.3 1105.1l0.4 0.3M467.7 1108.6l0.1 0.6M593.4 1076.3l0.2 0.8M587.8 1090.5l-1.0 1.2M566.2 1276.7l1.6 1.3M588.7 1145.7l0.4 0.7M353.9 1289.2l-1.2 0.9M324.2 1244.4l-2.1 0.7M356.1 1278.3l-0.1 0.6M385.9 1218.2l-0.3 1.1M589.6 1104.8l-2.0 0.0M595.5 1290.1l1.1 0.8M453.0 1158.6l0.0 1.6M426.8 1265.1l1.4 0.2M433.1 1164.3l-1.4 0.6M406.2 1291.4l-0.4 1.9M583.3 1077.2l0.9 2.0M453.6 1092.2l-0.2 0.2M567.3 1185.4l0.7 1.5M348.2 1288.5l-0.6 0.8M390.7 1117.8l-0.5 1.0M392.5 1219.0l1.5 0.7M325.9 1097.1l-0.3 0.1M368.7 1107.9l0.6 0.1M539.3 1105.9l0.7 1.4M529.4 1096.0l0.1 1.8M474.2 1108.9l-0.9 1.1M593.8 1140.0l0.4 0.2M446.6 1144.0l-1.2 1.4M378.0 1103.5l-1.5 0.7M420.5 1098.5l-0.8 0.8M360.3 1224.7l-1.6 0.9M345.7 1135.6l0.3 0.1M320.2 1225.4l0.7 1.5M509.6 1208.7l1.8 1.2M416.0 1262.4l1.0 1.5M587.9 1102.4l-1.5 0.8M520.7 1144.4l0.6 1.2M462.3 1142.1l1.4 1.1M336.2 1076.3l0.2 0.3M518.4 1103.4l1.7 0.9M448.1 1297.4l1.3 0.6M360.6 1195.6l-0.7 0.6M317.5 1119.3l-0.6 1.1M315.9 1106.1l0.4 0.1M587.5 1135.3l-1.4 1.0M395.2 1090.7l-1.3 0.8M584.3 1269.4l0.9 0.3M543.9 1211.5l1.3 1.3M403.5 1149.5l-0.2 0.3M349.7 1132.7l0.4 0.3M371.6 1278.9l0.9 0.6M595.6 1099.1l-2.0 0.7M419.2 1270.8l-0.7 0.4M363.4 1132.8l-1.4 1.0M541.1 1089.6l-1.0 0.7M357.6 1106.1l1.1 1.0M550.8 1141.6l0.4 0.3M400.4 1151.8l-1.6 0.0M573.9 1089.3l0.2 0.9M321.9 1107.8l-1.4 0.2M371.4 1273.1l0.7 0.6M431.7 1100.3l0.6 0.1M327.0 1203.1l0.6 0.1M338.2 1244.3l1.0 1.0M572.7 1146.5l0.3 0.5M370.0 1234.0l-1.8 0.2M316.6 1099.8l1.6 0.9M443.6 1146.8l0.8 0.7M468.2 1125.4l-0.7 0.2M321.8 1131.7l0.9 0.1M596.9 1090.4l0.5 0.3M432.1 1093.8l0.7 0.2M417.7 1139.0l1.8 1.1M379.7 1090.3l0.4 0.4M341.3 1238.4l-0.3 0.2M322.9 1086.7l-1.8 0.6M438.5 1163.7l-1.0 0.6M410.6 1296.4l0.2 2.0M414.6 1120.4l0.1 0.4M366.7 1149.5l0.5 2.1M339.8 1098.5l0.2 2.1M383.4 1230.9l0.4 0.2M331.5 1270.3l0.4 0.0M466.1 1152.8l1.5 0.1M322.4 1244.2l-0.5 0.6M589.7 1279.9l-0.5 0.2M524.8 1106.2l-0.9 0.4M510.6 1099.1l1.6 0.2M573.9 1115.7l-0.7 1.0M446.2 1125.1l-0.8 1.4M324.0 1259.7l-0.1 0.9M351.5 1247.6l0.2 0.3M317.1 1098.1l0.3 0.2M483.2 1114.0l2.0 0.2M556.8 1119.3l-0.1 0.4M470.7 1140.6l-0.2 0.7M523.5 1199.2l-0.8 1.1M317.2 1241.4l-0.5 1.9M346.4 1114.8l-0.7 0.2M532.4 1144.6l0.7 1.5M570.6 1145.9l0.9 1.2M552.1 1087.7l0.6 0.8M437.7 1103.1l1.2 1.1M370.9 1238.7l0.6 0.7M389.4 1117.2l1.7 1.0M338.4 1239.2l1.5 0.5M402.2 1278.6l-0.3 1.3M398.6 1134.9l0.6 1.0M394.1 1093.3l-1.8 0.4M398.1 1239.7l-0.9 0.9M340.7 1237.6l1.6 1.3M482.2 1212.3l1.0 1.1M504.0 1146.4l1.1 0.8M372.3 1119.8l1.8 1.0M511.6 1145.7l0.6 1.9M454.6 1147.6l-0.0 0.3M592.5 1097.6l0.5 0.0M557.3 1102.0l0.2 0.3M343.7 1265.7l-0.6 1.3M324.3 1144.7l-1.2 0.4M577.0 1104.7l-0.2 1.4M407.8 1104.9l0.2 0.5M341.5 1095.4l0.1 1.0M587.8 1143.7l0.2 0.5M489.9 1109.7l0.3 0.2M401.1 1103.8l0.1 2.0M348.3 1115.2l1.0 1.7M364.9 1138.9l-0.3 1.2M530.5 1137.9l-1.0 1.2M569.7 1148.6l1.2 0.4M445.1 1230.8l0.9 0.1M404.6 1147.9l-1.1 0.3M599.5 1099.4l-0.4 1.9M588.1 1097.5l0.5 0.6M433.2 1111.2l-1.0 0.9M501.4 1096.7l-0.9 1.1M357.1 1248.5l-1.1 0.8M338.6 1263.8l-0.7 0.5M350.4 1186.9l-0.8 0.1M327.3 1226.1l0.1 0.9M324.6 1092.6l0.9 0.3M597.0 1282.3l1.0 0.4M595.1 1219.2l-0.5 0.7M372.9 1104.8l0.9 1.2M373.1 1230.5l-0.4 0.9M472.5 1109.5l1.0 0.2M461.5 1227.8l0.4 0.3M318.4 1294.9l-0.1 0.9M332.7 1138.0l0.4 0.5M446.9 1100.3l1.4 1.1M457.8 1144.4l-1.8 0.6M565.0 1083.9l-1.3 1.6M361.8 1105.5l-0.1 2.1M430.1 1229.1l-0.5 1.5M330.7 1076.0l-1.5 1.0M558.2 1110.2l0.1 0.3M592.4 1124.7l0.1 0.3M477.5 1150.2l0.0 1.8M376.6 1104.6l-0.6 2.0M428.8 1129.2l-0.9 0.4M320.2 1103.8l1.1 1.5M461.4 1098.1l0.5 1.3M506.9 1106.4l0.3 0.1M482.3 1123.2l0.7 0.7M396.6 1238.1l0.8 0.8M448.3 1282.4l-0.8 1.2M600.5 1091.1l-0.8 0.8M587.3 1075.7l-2.1 0.4M320.5 1147.9l-0.7 1.9M538.3 1086.8l-0.7 0.2M599.5 1076.5l-0.7 1.4M580.2 1099.1l2.1 0.5M430.5 1191.9l-0.1 0.3M556.9 1096.3l0.1 0.4M418.9 1173.0l0.5 1.0M439.5 1127.2l0.1 0.6M422.1 1263.6l-0.7 0.4M586.0 1077.8l0.1 0.7M568.2 1082.8l-0.7 0.4M378.5 1111.8l-0.6 1.7M515.6 1140.9l-1.7 0.1M348.3 1079.1l-0.1 0.7M417.1 1269.9l1.0 1.7M456.0 1144.3l-0.1 1.3M391.5 1095.9l1.9 0.6M414.3 1248.3l1.0 0.8M587.4 1133.4l1.4 0.7M358.5 1256.6l0.1 0.8M369.3 1235.4l1.1 1.6M406.2 1264.0l1.3 1.4M600.7 1081.0l-0.7 0.2M359.4 1245.8l1.2 0.3M407.1 1261.9l-0.4 0.4M493.5 1099.1l1.1 0.5M474.8 1096.6l0.1 0.3M338.1 1237.5l-0.0 1.5M341.6 1274.2l0.4 0.1M595.3 1115.8l-0.8 0.5M430.9 1276.8l0.7 0.3M438.1 1111.4l0.3 0.3M481.8 1179.6l1.3 0.6M569.7 1096.2l-1.2 1.0M331.4 1130.0l-0.3 0.3M392.0 1127.5l0.9 0.6M501.0 1112.5l0.9 0.2M316.1 1150.0l-1.7 0.6M317.2 1228.6l1.0 0.4M428.9 1119.9l-0.4 0.1M315.4 1076.8l1.1 1.6M344.2 1150.3l0.2 0.4M522.1 1213.6l-1.6 0.2M501.2 1101.3l0.6 0.2M355.0 1256.1l-0.1 0.5M548.1 1095.9l0.5 0.3M527.2 1089.1l0.1 1.3M323.5 1073.3l-0.2 0.6M338.0 1241.2l0.8 0.9M469.1 1098.8l1.1 1.0M574.2 1082.9l-1.8 0.5M459.7 1166.5l-0.9 1.7M324.8 1238.2l-1.2 1.1M363.0 1223.2l1.9 0.2M598.0 1193.0l-0.2 1.3M546.3 1149.6l-0.1 1.8M375.7 1137.6l-0.9 0.0M406.1 1131.1l-1.0 1.4M359.1 1141.6l0.4 0.5M316.9 1115.5l-0.4 0.5M420.0 1257.9l0.3 1.6M408.0 1298.8l-0.3 1.6M348.8 1250.6l-0.1 0.4M492.4 1117.9l1.5 0.9M402.8 1135.3l-0.1 0.4M413.7 1296.5l-0.3 0.2M432.5 1201.5l1.9 0.5M400.1 1277.5l-1.9 0.4M468.4 1154.7l1.1 1.0M319.5 1108.2l0.2 0.4M586.3 1224.0l-1.5 1.5M556.1 1273.8l-1.0 0.3M407.5 1290.5l-1.4 0.8M363.1 1224.8l0.9 1.8M528.8 1086.2l0.7 0.1M377.6 1096.0l-0.9 1.9M395.9 1096.1l-0.4 1.4M584.9 1087.5l2.0 0.2M419.5 1146.0l0.5 0.7M512.9 1136.2l-0.7 0.7M437.6 1300.5l1.5 0.8M459.0 1219.8l1.2 0.1M519.9 1146.2l-0.7 0.2M514.0 1108.9l-0.1 0.4M596.3 1156.2l-1.0 1.9M560.0 1145.5l-0.1 0.6M569.7 1155.7l-1.6 0.6M400.0 1151.1l0.8 0.5M410.3 1282.8l0.1 0.9M396.4 1097.7l0.6 1.9M410.6 1147.0l-0.8 0.0M373.7 1273.6l0.2 0.3M567.2 1085.8l1.5 0.8M511.6 1145.0l0.7 0.9M583.4 1098.2l2.0 0.3M372.5 1086.7l-0.9 1.9M383.0 1112.0l0.4 1.0M411.6 1289.8l1.6 1.0M446.4 1132.6l-2.1 0.3M340.2 1120.9l0.3 0.5M399.6 1091.2l-0.6 0.5M401.6 1191.9l-0.6 0.6M595.6 1129.1l1.7 0.4M353.9 1120.4l0.8 0.6M546.6 1093.9l-1.8 0.7M356.8 1195.5l-0.3 0.9M431.5 1138.7l-0.4 0.5M564.5 1231.2l-1.6 0.6M529.7 1110.9l-0.5 0.6M457.4 1105.6l-1.3 0.7M316.3 1145.8l-1.8 0.8M398.3 1282.6l0.0 0.4M512.7 1123.7l1.4 0.1M370.0 1226.1l-0.4 0.2M517.7 1102.8l0.5 1.1M580.6 1112.0l-1.6 0.4M547.4 1144.0l-0.3 1.7M530.8 1147.4l0.3 0.8M333.3 1119.0l0.2 0.4M440.3 1136.9l-0.9 1.4M340.3 1105.2l-0.2 0.8M332.6 1101.1l1.1 1.2M355.7 1197.6l0.9 1.1M400.2 1095.8l1.0 0.4M578.6 1233.4l0.2 1.7M370.5 1151.1l0.1 0.3M399.8 1109.4l1.0 0.8M529.3 1155.5l0.0 0.3M586.9 1132.4l0.7 1.1M347.5 1086.6l0.8 0.6M443.4 1169.7l0.3 1.2M472.3 1131.1l0.1 0.4M579.6 1103.3l-0.5 0.5M352.0 1110.9l-0.5 0.2M568.2 1217.2l-1.3 1.3M352.0 1089.5l-0.4 0.2M381.7 1102.5l0.8 1.1M403.0 1274.1l-0.5 0.1M433.7 1095.4l-1.0 1.9M589.2 1208.4l-2.1 0.6M412.0 1135.5l0.2 0.9M358.3 1239.0l-1.2 0.6M513.7 1202.5l0.1 0.3M350.5 1076.4l-0.2 0.2M329.1 1250.3l-0.4 1.4M585.4 1140.9l-0.5 1.9M602.1 1156.7l0.1 1.0M398.7 1107.8l-0.1 1.8M588.4 1103.7l1.4 0.0M334.5 1278.7l-1.3 0.3M528.1 1148.5l-0.5 0.8M429.6 1116.7l-0.5 0.7M366.4 1138.2l1.1 0.7M490.8 1151.1l-1.2 1.1M333.5 1128.2l1.2 1.1M422.2 1124.5l-0.9 0.3M322.7 1260.1l-0.7 0.9M594.6 1153.4l0.6 0.9M415.7 1243.8l0.3 0.2M369.6 1296.7l0.2 0.4M454.5 1096.1l-0.7 1.2M462.5 1111.8l0.8 1.7M359.4 1266.3l-1.8 1.2M338.2 1259.5l-0.8 1.1M549.5 1154.8l-1.0 0.4M326.5 1144.3l-1.6 1.2M564.3 1284.6l0.1 0.4M316.5 1262.2l-1.9 0.6M409.4 1252.6l-1.5 1.1M529.8 1146.0l-1.0 1.5M583.4 1284.4l-1.7 1.2M358.4 1299.5l0.4 0.8M560.1 1290.5l-1.0 1.3M434.3 1104.8l-1.6 0.7M366.0 1282.1l-1.0 1.9M560.2 1292.0l-0.6 0.9M331.0 1086.4l-0.5 1.2M418.4 1150.5l1.0 0.7M502.2 1150.5l-0.9 1.2M554.9 1136.7l0.2 0.6M353.4 1112.0l-0.4 0.3M521.0 1107.5l-0.2 0.3M574.9 1082.5l-0.0 1.1M333.8 1229.1l-1.1 1.1M347.9 1295.8l-0.6 0.6M462.1 1146.3l-0.4 0.6M549.0 1101.9l-1.2 1.6M425.7 1277.7l1.4 0.1M525.4 1136.3l-2.0 0.8M567.5 1106.4l-0.5 0.9M361.2 1106.0l-0.8 1.8M324.3 1228.7l0.3 0.4M417.3 1141.1l-0.4 0.0M417.3 1133.5l-0.7 0.0M394.1 1092.0l0.3 1.3M594.0 1072.5l-0.3 0.2M347.3 1096.8l-1.2 1.1M347.3 1263.8l-1.0 1.5M437.9 1125.5l1.1 1.2M346.0 1242.4l0.2 1.3M450.1 1103.9l-0.2 0.4M357.0 1192.9l0.1 0.9M340.3 1105.5l-1.5 1.2M572.1 1106.4l1.0 1.8M528.0 1121.1l-0.0 0.8M603.8 1132.2l1.0 0.7M515.1 1142.9l-1.1 1.0M517.8 1120.2l1.0 1.3M406.4 1141.4l-0.0 1.5M600.6 1276.0l-0.2 1.7M443.1 1098.7l-2.0 0.7M519.2 1152.6l-1.8 0.2M334.9 1140.3l-2.0 0.5M407.3 1129.0l1.8 1.2M322.4 1273.5l0.1 0.6M579.2 1152.7l2.0 0.4M425.3 1256.1l-0.3 0.5M353.2 1255.6l0.0 0.8M328.4 1230.6l0.7 1.5M435.6 1113.6l0.9 0.1M405.3 1195.9l-1.0 0.7M521.5 1098.4l-0.5 0.3M366.0 1102.8l-0.1 1.3M484.4 1154.0l-1.2 0.7M407.8 1135.0l-0.9 0.9M488.7 1138.9l0.3 0.5M357.9 1176.9l-0.4 1.2M498.1 1176.8l0.6 0.2M327.6 1250.8l-1.1 0.5M316.2 1230.7l-0.7 0.9M523.8 1234.9l1.0 1.1M410.4 1253.1l-0.3 0.4M589.5 1295.1l0.3 1.0M528.3 1125.2l-0.6 1.6M360.9 1250.4l-0.8 0.2M540.3 1155.7l1.1 0.2M368.0 1098.6l-0.3 0.3M426.9 1133.6l-1.1 0.2M417.4 1264.4l0.6 0.0M462.9 1111.7l1.5 0.1M535.8 1107.0l-1.5 0.3M572.1 1097.9l-0.3 0.3M317.3 1243.8l1.4 0.2M490.3 1142.4l1.1 1.6M377.8 1141.8l-0.5 1.0M429.8 1297.5l-0.3 0.7M374.9 1109.6l-0.3 0.3M575.9 1105.4l-0.4 0.1M408.1 1268.4l0.6 0.9M329.9 1175.6l-0.5 0.6M327.4 1125.4l-1.7 1.3M399.4 1230.1l0.0 0.3M428.3 1293.0l0.8 0.7M468.6 1177.0l-1.5 0.7M318.6 1291.3l1.2 0.5M370.5 1275.9l-0.5 0.8M344.4 1263.8l0.5 0.1M404.9 1115.3l1.0 1.3M600.6 1276.6l0.4 1.3M321.5 1265.4l-1.4 0.5M320.2 1253.3l1.7 0.7M464.5 1153.6l-0.7 1.8M595.4 1152.7l-1.9 0.0M446.2 1134.5l-0.7 1.1M376.0 1151.3l1.3 0.2M428.4 1286.1l-1.0 0.6M351.6 1078.1l0.0 0.4M352.7 1095.2l1.4 0.3M443.4 1174.7l0.8 0.1M480.2 1137.8l-0.9 0.2M522.7 1089.6l1.9 0.2M456.5 1106.3l0.8 0.6M404.9 1136.5l1.6 0.2M503.9 1108.1l0.4 1.3M336.3 1119.9l1.9 0.4M596.0 1129.5l0.8 0.3M323.5 1113.5l1.4 0.5M331.9 1298.9l0.3 0.8M403.3 1122.9l-1.5 1.4M428.5 1297.0l0.2 0.3M323.4 1140.4l-1.4 0.1M325.9 1093.5l1.3 1.2M545.0 1099.0l0.3 1.0M531.9 1164.7l-0.9 0.2M393.6 1295.4l0.8 0.8M531.3 1195.3l-0.1 0.3M401.4 1292.7l0.6 0.1M334.0 1097.3l0.1 1.9M374.3 1247.5l0.5 0.5M568.5 1237.7l1.7 0.2M563.0 1299.2l-0.3 0.3M438.4 1150.2l-1.3 1.5M372.0 1117.8l0.5 0.9M494.7 1096.7l-0.2 1.0M409.4 1258.4l-0.4 0.9M534.7 1146.4l1.1 0.8M526.4 1207.5l-0.6 1.0M590.8 1150.8l-1.2 0.8M553.0 1143.1l0.7 1.0M355.5 1279.3l0.7 2.1M571.9 1096.0l-0.0 1.3M316.3 1081.6l1.4 0.4M559.4 1135.1l1.1 1.1M568.9 1148.0l1.6 1.1M358.0 1103.2l-0.4 0.3M541.1 1092.8l-1.7 0.9M398.2 1193.4l0.5 0.5M550.2 1106.6l0.6 0.7M387.7 1178.6l0.2 1.3M532.9 1136.7l1.6 0.6M423.4 1281.9l-0.6 0.2M600.6 1098.7l-0.9 0.2M577.1 1130.3l-1.6 0.5M416.7 1250.1l0.3 1.2M448.0 1113.4l-1.8 0.8M343.6 1071.9l-0.5 1.4M377.1 1115.9l-0.5 0.7M368.3 1245.0l0.2 1.8M399.6 1151.6l-1.5 1.1M433.5 1133.9l0.3 0.6M317.8 1238.7l0.5 0.5M327.0 1270.7l1.1 0.4M315.2 1089.0l-0.9 0.3" stroke="#1618dc" stroke-opacity="0.55" stroke-width="2.6" stroke-linecap="round" fill="none"/>
<path d="M422.4 1262.6l0.7 0.2M398.6 1289.4l-0.4 0.6M391.2 1107.8l-0.4 1.4M349.4 1083.1l0.2 1.3M417.8 1181.5l0.8 1.1M502.8 1179.6l-0.1 0.8M556.8 1282.4l-0.9 1.4M602.8 1068.5l-0.2 0.6M399.7 1113.5l0.4 1.3M490.9 1113.4l0.5 0.0M571.6 1169.4l-0.9 0.7M492.4 1112.7l1.7 0.8M408.7 1143.0l-0.4 0.0M540.2 1130.4l-0.3 2.2M458.8 1237.5l-1.0 0.6M397.7 1119.9l0.2 0.9M372.6 1242.0l-1.1 1.6M472.2 1125.6l0.2 0.6M481.2 1139.3l-0.5 0.4M586.0 1217.5l-1.8 1.2M402.7 1273.5l0.3 1.9M476.2 1138.9l1.9 0.8M575.6 1114.5l0.2 1.6M566.6 1094.2l1.5 0.9M588.4 1146.5l-0.4 0.3M409.1 1246.0l0.4 0.2M431.7 1216.9l-0.3 1.1M537.3 1140.5l1.1 1.1M561.4 1080.8l-0.5 0.9M584.1 1119.7l0.4 0.3M452.7 1162.6l-1.4 1.1M445.3 1130.0l0.2 1.7M341.6 1079.2l-1.6 1.0M533.8 1149.9l0.3 2.0M402.8 1134.4l-0.5 2.1M333.3 1105.2l-0.9 0.7M525.2 1144.1l0.9 0.6M578.0 1174.8l0.8 0.7M504.4 1102.1l0.1 1.4M558.4 1275.5l-0.1 0.7M361.7 1127.5l0.9 0.2M523.3 1149.7l-1.6 1.4M362.0 1122.6l-1.8 0.9M339.4 1236.2l-0.2 1.8M323.9 1266.0l1.4 1.0M588.6 1138.6l-1.4 0.3M322.5 1242.7l1.6 0.6M509.1 1115.3l-1.1 1.7M520.1 1155.3l0.8 0.2M482.7 1099.3l-0.2 1.4M512.2 1123.7l0.8 0.5M328.1 1110.2l1.9 0.7M551.9 1111.5l-0.4 0.1M516.5 1088.6l-0.4 0.9M439.0 1203.4l1.8 0.5M412.9 1263.0l-1.0 1.4M357.1 1249.3l1.6 0.7M603.1 1082.8l0.1 0.6M378.3 1105.9l-0.0 0.4M500.7 1111.2l1.1 1.3M494.7 1199.0l0.7 1.7M499.7 1099.0l-0.3 1.2M355.0 1274.2l1.1 1.0M549.9 1171.4l-0.7 1.1M515.4 1108.1l-0.3 0.6M555.2 1148.7l-1.1 0.6M362.9 1233.9l1.3 0.5M588.7 1219.1l-0.8 1.4M369.5 1223.1l0.5 0.6M525.6 1234.8l1.3 0.5M448.5 1235.8l0.0 0.6M345.3 1286.0l-1.5 0.8M546.5 1107.4l-0.8 0.2M410.9 1275.8l-0.7 1.8M405.2 1224.6l-1.2 0.3M333.5 1105.6l0.3 0.4M378.0 1225.5l-0.3 0.9M345.8 1276.8l-1.1 0.1M569.3 1076.2l-0.0 1.1M378.3 1113.3l0.3 0.1M366.9 1247.1l0.2 1.7M359.4 1140.8l1.8 0.1M455.7 1133.8l-0.5 0.1M490.0 1139.1l0.6 0.7M359.4 1260.3l0.8 0.2M559.7 1094.0l0.1 0.7M596.9 1134.4l-0.3 2.1M495.9 1180.2l-0.1 0.4M588.4 1285.0l-0.2 0.2M366.0 1112.3l0.7 2.1M464.8 1119.0l-2.1 0.4M552.5 1087.1l0.9 1.1M475.1 1105.8l1.1 0.8M565.1 1272.2l0.6 0.2M349.5 1229.2l2.1 0.1M434.2 1213.2l0.4 0.1M351.0 1089.4l1.9 0.6M591.6 1080.6l0.1 0.3M480.2 1119.7l-0.4 0.2M570.1 1273.5l-1.2 0.4M346.6 1096.5l0.2 0.7M327.3 1137.2l0.5 0.7M600.1 1151.3l-1.4 0.5M556.3 1160.0l0.0 0.5M406.6 1108.3l-0.6 1.9M597.6 1293.6l1.3 0.8M424.7 1091.5l-1.2 0.9M525.5 1108.1l-1.0 1.4M408.0 1153.5l1.1 0.3M560.8 1138.1l-0.0 1.1M319.3 1140.5l0.3 1.5M411.6 1105.5l-1.1 0.9M523.8 1093.6l0.1 0.7M603.4 1131.6l0.6 0.0M528.8 1092.3l0.1 2.0M507.5 1176.6l0.4 0.4M504.4 1091.7l1.1 1.4M530.4 1133.3l0.3 2.2M521.4 1133.3l-0.7 1.5M457.1 1132.2l0.8 0.9M409.0 1103.3l-0.9 2.0M599.2 1106.0l-0.4 0.2M486.9 1130.7l-1.8 0.6M546.6 1109.8l-1.8 0.6M410.5 1094.1l0.8 0.0M454.0 1228.3l-0.3 0.2M576.6 1101.5l0.3 0.3M396.3 1253.5l-0.7 1.5M315.8 1075.9l-0.4 0.5M447.1 1182.7l-0.7 1.5M317.8 1106.3l-0.6 0.3M340.2 1233.8l-1.3 1.4M557.3 1114.6l0.0 0.8M428.6 1143.3l0.4 0.6M602.0 1077.4l0.4 1.4M470.5 1119.3l-0.6 0.9M450.0 1199.9l0.9 1.4M596.6 1075.6l0.7 0.2M552.4 1150.0l1.3 0.5M493.1 1150.2l1.0 0.3M558.6 1080.1l0.3 0.4M474.1 1096.1l0.3 0.6M354.3 1146.1l1.3 0.7M546.9 1140.3l-0.1 0.4M559.9 1112.4l1.0 1.7M337.8 1100.0l0.1 1.2M559.6 1185.1l-0.3 0.4M567.8 1082.0l0.4 1.9M452.3 1096.6l-0.9 1.0M450.2 1230.1l-0.6 1.6M316.3 1130.2l0.2 0.3M343.2 1241.5l-0.5 0.7M425.6 1197.1l1.3 0.3M339.6 1083.3l-0.3 0.2M421.5 1113.7l0.6 0.4M391.4 1132.6l0.4 0.4M575.7 1293.1l-0.8 1.0M589.2 1114.1l1.1 1.8M408.2 1104.4l-1.4 0.6M518.1 1111.5l-0.2 1.3M326.7 1104.8l0.1 1.6M497.8 1110.7l0.9 0.1M410.4 1289.4l1.1 1.1M446.4 1097.5l-0.3 2.0M322.5 1289.9l-0.2 0.5M577.7 1192.8l0.2 2.0M378.6 1119.4l0.4 1.1M386.5 1289.3l-0.7 0.7M386.2 1208.5l-1.1 0.1M338.5 1115.4l-0.6 0.5M445.6 1130.1l-0.0 1.6M597.8 1281.9l-0.4 0.5M558.6 1145.7l2.0 0.1M481.2 1107.3l-0.2 0.8M506.4 1099.1l-2.0 0.2M563.4 1149.5l0.4 0.4M545.7 1085.1l-0.0 1.1M524.8 1121.2l-1.5 0.8M553.8 1177.9l-0.5 1.6M391.4 1107.6l1.1 0.7M597.5 1189.5l0.6 0.3M496.3 1108.8l0.3 0.1M468.7 1131.4l-0.2 0.9M326.1 1097.0l0.3 2.0M446.2 1099.5l-0.7 1.2M537.7 1147.8l0.8 0.2M560.4 1098.0l-0.8 1.3M507.2 1102.3l-0.6 0.6M525.0 1110.2l0.2 0.8M365.8 1205.9l-0.8 0.8M517.9 1187.6l0.7 1.0M386.3 1231.1l0.1 0.5M427.5 1273.8l-0.5 0.2M576.9 1286.4l0.2 0.8M478.2 1134.1l-0.6 0.5M446.0 1131.9l-1.7 0.8M415.3 1242.5l-2.1 0.3M475.2 1131.9l0.8 0.3M515.1 1159.0l0.9 1.1M481.5 1148.1l1.7 0.0M586.7 1298.1l-2.0 0.5M448.3 1141.0l-0.2 0.4M553.9 1117.7l0.1 1.6M434.4 1140.5l-0.5 0.2M590.1 1078.9l0.4 0.5M418.9 1120.7l1.4 0.8M528.5 1094.0l0.9 1.6M347.7 1117.4l0.3 0.1M478.3 1145.5l-1.4 1.5M446.9 1136.8l0.9 1.4M440.8 1285.9l0.7 1.4M335.7 1097.6l-0.2 0.4M474.2 1108.0l-0.2 0.9M361.7 1107.9l-0.7 0.2M398.1 1257.9l0.7 0.1M400.1 1153.5l0.5 0.2M515.7 1141.2l-1.4 0.1M355.0 1248.8l-0.4 0.5M599.0 1144.5l1.0 0.0M526.9 1100.3l-0.5 0.4M462.8 1093.6l-0.5 2.0M441.1 1141.3l-1.0 1.3M475.1 1097.8l0.8 0.8M446.4 1112.7l-1.5 1.0M424.7 1103.7l-0.2 1.2M464.4 1143.5l-0.1 0.6M358.2 1143.4l0.5 0.5M340.8 1146.6l1.0 0.2M566.1 1293.5l0.5 1.8M365.4 1235.3l-0.4 1.5M485.1 1126.9l0.2 0.3M554.1 1092.9l-2.1 0.6M599.0 1130.4l0.3 0.2M362.8 1138.3l0.8 0.5M428.8 1289.1l0.3 0.6M394.7 1299.6l0.4 0.0M449.1 1297.8l-0.1 1.0M482.4 1126.2l-0.5 1.6M472.6 1130.4l-0.8 0.1M441.5 1099.6l0.1 0.5M469.2 1143.8l-0.8 0.3M554.9 1081.7l1.7 0.1M335.2 1143.6l0.0 1.8M430.3 1276.6l-0.1 0.4M381.5 1096.5l0.3 0.3M318.9 1070.0l0.2 0.3M413.4 1146.6l0.4 0.6M597.7 1214.0l0.3 1.9M497.7 1233.5l1.5 0.5M368.9 1283.9l-0.5 0.7M362.9 1140.3l-1.6 0.1M543.0 1152.9l1.2 1.4M315.0 1112.0l-0.6 1.2M534.2 1201.0l0.7 2.1M338.5 1147.4l-1.2 1.8M570.1 1213.0l-0.1 0.9M562.1 1097.7l-0.0 1.1M527.8 1154.5l-0.3 0.3M591.3 1094.3l0.7 0.1M348.4 1113.7l-0.8 2.0M549.5 1109.0l-1.5 1.0M401.4 1275.6l0.5 1.7M461.9 1142.7l-0.9 0.0M434.0 1144.7l-1.6 0.5M365.2 1290.5l0.1 0.8M473.3 1094.0l-1.7 0.1M525.3 1105.7l-1.5 0.3M406.0 1130.0l0.2 1.2M364.6 1133.6l-0.0 1.7M319.1 1291.3l-0.2 1.0M365.7 1259.8l-1.0 0.5M349.7 1279.0l-0.1 2.0M572.4 1104.1l-0.8 1.4M535.5 1109.1l-1.2 1.4M326.6 1127.6l-1.4 0.5M323.9 1102.4l1.4 1.3M406.7 1287.7l1.9 0.4M473.1 1111.0l0.6 1.4M454.2 1130.9l-0.0 1.8M423.9 1124.1l1.5 1.5M593.3 1078.4l-1.5 0.4M557.3 1111.8l-0.9 1.1M427.5 1169.8l-0.5 0.4M594.9 1150.8l1.5 1.3M565.6 1121.8l0.5 1.0M384.0 1105.2l-0.1 0.4M432.1 1131.3l2.0 0.7M559.9 1129.8l-0.1 0.5M517.9 1130.8l0.9 0.3M519.7 1130.1l0.2 0.8M361.2 1294.0l0.3 0.5M435.6 1195.8l0.8 1.1M407.6 1091.4l-2.0 0.8M327.1 1094.7l0.9 0.0M468.7 1134.7l-0.2 0.3M525.6 1154.7l1.1 0.0M492.5 1235.3l-0.1 1.1M585.6 1149.3l-1.0 0.5M562.9 1101.5l0.2 0.3M494.5 1119.6l0.9 0.5M497.1 1095.8l1.7 0.4M546.9 1093.6l-1.1 0.3M567.5 1089.2l0.1 1.7M440.3 1130.6l2.0 0.5M335.6 1161.8l0.4 0.7M338.4 1079.4l0.3 0.1M329.7 1123.8l-0.3 0.2M406.7 1287.6l-0.5 0.2M424.7 1276.7l0.4 0.2M581.4 1281.8l1.0 0.1M340.9 1240.5l1.0 0.2M448.9 1148.3l0.1 2.2M504.5 1107.8l-0.8 0.1M428.6 1252.5l-0.2 1.9M601.0 1092.9l-0.9 0.0M455.2 1147.6l0.4 0.2M327.4 1121.9l-1.6 1.1M370.3 1265.1l-1.5 0.2M594.9 1296.6l1.2 1.1M406.7 1099.2l-0.4 1.9M368.3 1142.0l0.4 0.3M393.3 1229.9l0.4 0.7M321.0 1131.0l-1.5 0.1M425.2 1248.6l-0.1 0.8M480.8 1124.6l0.7 0.8M409.0 1250.8l-0.4 2.1M338.1 1294.5l0.1 1.2M321.2 1252.8l0.6 0.7M336.5 1207.8l0.4 0.0M341.2 1073.9l-1.4 1.5M359.7 1103.6l-0.1 1.2M406.4 1154.2l-0.2 0.9M407.4 1101.4l-0.6 1.0M602.8 1073.4l-0.4 1.4M515.3 1112.9l-0.2 1.6M361.4 1268.2l0.7 1.9M330.9 1119.3l1.6 0.6M358.2 1114.9l-2.0 0.6M391.7 1092.5l0.9 1.9M345.2 1276.0l0.5 0.2M513.6 1154.6l-0.7 0.0M428.6 1277.6l-0.5 0.5M478.4 1167.3l-0.8 0.1M590.8 1097.2l0.9 1.4M472.2 1101.9l-0.1 0.4M367.4 1101.1l1.9 0.9M490.4 1106.8l0.3 0.4M544.3 1145.2l0.2 1.4M330.4 1135.6l0.3 1.9M578.8 1279.5l-1.3 0.9M351.0 1272.5l0.5 0.9M479.6 1112.7l0.7 2.0M512.4 1145.0l0.7 1.6M408.8 1259.5l0.2 0.4M468.6 1098.1l0.1 1.6M471.1 1201.9l-0.7 0.4M327.9 1268.6l-0.2 0.6M519.8 1131.6l0.3 0.1M603.3 1114.2l0.7 1.6M388.4 1114.8l-1.0 0.8M545.0 1136.8l-0.8 0.7M595.6 1155.2l0.4 1.1M514.5 1104.9l-0.8 0.3M486.3 1100.0l-0.3 0.4M342.7 1229.9l-0.5 1.8M326.7 1089.6l-0.9 0.4M321.7 1249.5l-0.6 0.6M561.0 1141.6l-0.1 0.6M360.6 1150.3l-0.4 0.3M346.4 1242.4l0.2 1.2M547.4 1197.8l0.4 0.5M411.8 1130.2l-0.1 1.0M430.1 1113.0l0.1 0.9M468.4 1111.0l0.2 0.4M538.5 1113.7l0.3 0.6M356.0 1276.8l1.7 1.1M433.1 1188.5l-1.0 0.2M598.4 1293.7l-2.0 0.7M369.3 1287.3l-0.7 0.1M596.7 1113.2l-0.3 0.4M513.0 1098.6l0.3 2.1M328.6 1136.5l1.5 0.3M336.2 1271.7l-0.7 0.4M327.2 1104.7l-0.3 0.7M315.1 1291.0l0.8 0.7M524.2 1226.3l0.3 0.3M354.6 1260.0l-0.4 0.5M583.8 1092.1l-0.2 0.4M337.9 1215.8l0.2 0.5M321.4 1091.0l0.4 0.6M480.3 1142.5l-2.0 0.2M394.2 1095.0l-0.5 0.1M481.9 1129.4l-1.1 0.7M315.4 1135.3l1.0 1.0M322.1 1128.8l-1.4 0.3M538.3 1097.9l0.2 0.3M384.1 1210.6l0.1 1.2M354.3 1147.3l-0.5 0.0M592.7 1089.8l1.4 0.9M389.6 1165.0l1.4 0.7M571.6 1077.0l-0.6 0.9M479.2 1117.9l0.3 0.5M380.1 1130.9l-0.8 1.6M434.5 1092.7l0.1 0.5M479.9 1177.5l0.5 1.0M565.5 1114.0l0.3 0.2M347.5 1299.6l-0.5 1.2M365.8 1286.2l0.5 0.7M351.7 1261.5l-0.2 1.1M325.4 1239.1l-1.7 0.4M321.8 1297.9l0.7 1.6M541.1 1102.3l0.7 0.1M568.1 1094.8l0.2 0.4M378.9 1114.2l-1.2 1.2M428.9 1260.4l0.0 1.0M569.2 1279.3l-1.9 0.5M412.3 1122.7l0.6 1.9M360.8 1166.1l0.5 1.1M598.5 1223.2l-1.5 0.8M376.5 1098.1l0.7 1.4M567.9 1077.8l-0.9 0.8M348.5 1228.0l-1.1 1.2M491.1 1190.4l-1.0 0.9M339.8 1147.0l-1.6 0.6M368.8 1096.1l0.0 0.4M401.4 1249.7l0.4 1.3M477.8 1118.0l1.6 0.4M411.9 1128.8l1.8 1.1M532.6 1095.1l0.7 0.7M349.4 1106.2l-0.3 0.7M361.0 1258.5l-1.6 0.7M331.1 1142.5l0.4 0.1M397.2 1239.3l-0.4 0.7M596.5 1294.4l-1.4 0.5M324.1 1106.0l0.1 0.6M453.3 1132.1l-1.1 1.6M382.3 1153.1l0.3 0.4M542.4 1172.0l-1.0 1.6M415.1 1157.8l1.1 1.5M561.0 1274.0l0.9 1.4M586.4 1108.6l-0.3 1.6M515.6 1142.4l-0.8 0.0M340.5 1284.9l-0.8 0.5M510.5 1110.4l0.3 0.7M473.9 1124.1l-0.4 0.8M535.4 1233.2l-0.2 1.7M321.6 1262.4l-0.7 0.5M466.2 1106.3l-1.8 0.8M513.4 1114.4l0.9 1.7M491.7 1134.7l0.9 1.8M321.9 1290.6l0.2 0.4M367.5 1296.1l-1.3 1.2M346.3 1092.1l-1.5 1.4M592.1 1105.9l-0.0 0.5M586.2 1096.1l1.5 0.9M414.3 1260.0l1.1 1.2M367.3 1260.6l-0.8 1.7M347.8 1091.7l-0.3 1.5M441.4 1103.0l-1.1 0.7M516.9 1111.2l-2.1 0.5M408.2 1122.2l-0.5 0.0M337.4 1227.8l1.3 1.4M555.1 1095.0l-1.4 1.5M336.8 1111.5l0.3 0.0M534.4 1096.7l0.0 1.3M514.6 1130.5l-1.0 0.4M327.3 1132.2l1.8 1.2M346.1 1080.7l-0.2 1.0M553.0 1217.7l-0.1 0.9M417.6 1252.7l1.4 0.1M561.6 1143.4l0.0 0.8M360.3 1082.0l-0.9 0.3M546.7 1152.3l0.5 0.2M602.8 1092.5l-1.8 0.9M348.6 1256.3l-1.2 0.1M327.0 1265.0l0.5 0.5M581.4 1296.7l1.7 0.3M585.9 1145.2l-1.7 0.5M578.9 1080.4l-0.8 0.3M429.8 1247.6l1.9 0.1M585.2 1281.4l-0.2 1.2M436.9 1167.1l-1.5 0.8M586.8 1089.4l2.1 0.4M444.5 1138.1l-2.0 0.2M372.8 1250.5l-0.1 0.4M504.4 1152.2l0.3 0.9M554.7 1132.1l-1.1 0.5M334.2 1084.9l0.4 1.4M429.2 1100.6l-0.5 1.4M397.7 1105.2l1.0 1.0M483.3 1142.0l0.4 0.1M342.2 1289.1l0.2 1.1M549.9 1140.3l0.6 0.1M333.2 1298.4l0.7 0.5M437.5 1106.7l0.3 0.8M436.0 1144.7l-0.7 1.7M466.6 1106.1l1.5 1.3M400.8 1260.7l0.8 0.4M531.8 1155.6l0.3 0.1M567.9 1115.8l-1.5 0.1M336.7 1147.5l1.7 1.3M443.6 1300.2l1.2 1.3M324.2 1109.8l-1.0 1.2M532.3 1113.7l1.6 0.5M584.6 1147.2l0.6 0.2M345.8 1087.5l0.1 0.3M321.8 1078.4l1.0 1.5M581.0 1298.5l-0.9 1.2M495.8 1148.3l-0.1 0.3M522.4 1133.0l0.0 0.4M450.6 1143.5l1.5 0.2M429.0 1109.2l1.2 1.3M411.5 1102.6l-0.1 1.2M344.7 1102.3l0.6 1.3M333.3 1115.3l1.2 1.6M488.5 1142.9l-1.1 0.7M447.3 1143.7l1.3 1.0M317.7 1117.0l0.0 1.6M395.4 1148.9l-1.7 1.0M589.1 1202.5l-1.6 0.9M358.5 1149.8l0.6 0.7M403.5 1259.3l1.4 1.0M447.6 1136.7l0.3 1.7M376.1 1103.0l1.1 0.1M536.9 1102.0l-0.7 0.1M385.9 1107.3l-0.4 0.5M440.9 1153.7l-0.5 0.0M455.3 1218.3l-1.1 1.4M323.7 1092.1l-1.2 0.5M319.0 1075.1l0.1 0.8M547.1 1108.2l0.1 1.3M593.9 1154.7l-0.8 1.2M374.1 1092.7l0.4 1.8M451.2 1154.0l0.1 1.3M347.0 1117.0l1.2 0.5M347.0 1108.3l0.8 0.7M422.0 1282.6l0.8 1.1M570.5 1076.0l-1.0 0.2M405.9 1117.5l-1.9 1.0M320.5 1096.3l-1.7 0.7M540.4 1216.9l-0.5 0.3M570.6 1099.9l0.1 0.3M365.9 1235.1l-0.7 0.1M501.6 1204.5l-0.3 1.1M422.2 1129.3l0.3 0.8M387.9 1288.2l0.4 0.6M315.2 1266.8l1.5 1.4M422.8 1136.2l-0.3 0.3M327.3 1119.0l-0.8 0.9M586.4 1184.6l0.2 0.7M531.5 1137.5l0.9 0.4M536.8 1155.0l0.1 0.3M345.1 1276.5l0.3 0.6M570.3 1277.9l-2.1 0.5M426.2 1270.6l-0.1 0.5M435.7 1283.7l1.0 0.1M584.5 1104.9l0.0 0.4M446.1 1134.1l1.3 1.0M590.8 1287.0l-1.4 0.8M500.0 1140.3l0.1 0.4M597.9 1175.0l1.5 1.5M419.0 1150.4l-0.3 0.2M367.5 1298.7l1.4 0.3M436.0 1100.4l1.5 0.8M569.3 1230.3l0.3 1.6M598.2 1119.7l1.1 0.6M387.1 1176.5l1.2 0.5M435.2 1138.7l-0.6 0.1M473.8 1106.8l0.9 0.5M405.1 1141.3l1.0 0.4M351.8 1235.6l-0.1 1.0M564.0 1107.0l2.1 0.6M357.0 1090.8l-0.4 0.2M586.0 1111.5l-1.7 0.2M437.4 1204.7l-0.9 0.4M431.8 1151.7l-0.3 0.5M556.3 1209.7l0.5 0.2M579.6 1097.2l0.0 1.6M374.0 1087.7l-1.0 1.1M518.0 1124.9l0.4 1.3M343.5 1269.6l0.9 0.5M399.6 1169.4l0.3 0.5M583.5 1156.3l-0.1 0.5M371.6 1211.9l-1.7 0.5M340.5 1287.4l0.7 0.6M474.8 1163.5l-1.3 0.9M353.4 1296.0l-0.3 0.2M402.2 1292.3l0.2 0.8M370.9 1149.0l0.5 0.5M555.5 1103.8l0.4 0.1M531.0 1100.4l1.2 0.2M434.4 1154.9l-0.7 1.6M332.6 1269.1l0.8 0.6M384.9 1118.0l-0.5 0.5M384.2 1114.3l0.9 0.3M420.7 1148.1l-0.8 0.9M587.3 1176.2l0.5 2.1M421.2 1105.1l1.2 0.3M324.7 1117.6l0.2 2.1M505.1 1109.4l-0.4 0.1M404.5 1257.2l-0.0 0.5M543.2 1164.5l-0.2 1.1M370.3 1281.8l1.0 0.4M500.0 1108.5l1.3 1.2M425.5 1260.5l-0.7 1.6M585.6 1149.6l-0.6 2.1M552.5 1238.7l0.2 0.4M559.0 1167.8l-0.8 0.5M597.7 1080.5l0.9 1.2M555.9 1134.6l-0.4 2.1M334.1 1125.3l-0.8 1.5M330.2 1118.6l0.3 1.2M401.5 1097.4l-0.8 0.8M328.6 1230.7l-1.5 0.6M553.9 1116.0l-0.4 0.9M420.2 1141.9l-1.4 0.7M349.4 1079.7l0.7 1.7M527.4 1092.2l1.2 0.5M389.8 1295.6l0.7 0.3M583.6 1293.2l1.6 0.3M362.6 1273.0l0.6 0.8M440.0 1148.9l-1.3 0.9M396.2 1274.0l2.2 0.1M317.6 1145.3l-1.9 0.5M410.6 1290.8l0.2 1.4M557.3 1154.7l0.7 0.5M380.3 1098.6l-0.8 0.9M599.8 1125.0l-0.2 1.2M573.5 1151.1l-0.5 0.2M584.5 1121.1l0.3 1.3M341.0 1110.7l1.4 1.5M602.3 1116.3l0.6 1.2M385.4 1089.3l1.4 0.4M342.1 1152.4l-0.6 0.9M431.1 1275.3l1.4 0.6M516.6 1151.6l0.9 0.9M372.1 1257.4l0.3 0.1M578.9 1085.5l-0.6 1.7M508.1 1155.4l-0.9 1.4M339.8 1288.8l0.8 1.2M315.7 1104.5l-0.1 0.4M405.1 1114.1l-2.0 0.0M430.6 1109.4l0.1 2.0M450.2 1111.9l-0.3 0.2M360.8 1143.6l0.7 0.5M357.9 1089.7l-1.2 1.7M489.3 1110.6l0.1 1.1M347.3 1100.3l-1.0 0.7M361.1 1298.4l-0.5 0.5M360.1 1099.9l-1.1 1.4M432.4 1140.4l-0.8 0.8M425.5 1285.5l-0.3 0.6M317.1 1119.1l1.9 0.4M404.8 1120.0l0.6 0.8M356.9 1296.3l-0.6 0.1M579.7 1282.7l-0.8 0.7M341.4 1149.8l0.4 0.1M428.6 1248.9l-0.7 0.9M418.6 1294.1l1.4 0.6M531.3 1141.0l-0.8 0.6M512.3 1121.8l-0.4 0.1M409.0 1097.2l-0.3 1.1M502.3 1102.6l0.9 0.1M515.4 1147.4l0.9 1.0M555.9 1179.1l0.8 0.9M582.1 1147.8l-0.7 1.7M384.5 1100.2l-1.6 1.3M588.1 1149.1l-1.3 0.3M445.7 1118.8l-1.6 0.4M529.0 1093.6l1.4 0.1M426.5 1280.8l0.7 1.7M586.7 1139.9l0.7 0.2M398.1 1208.5l-0.2 0.9M427.6 1254.2l0.8 1.5M360.9 1253.0l0.7 1.6M365.4 1292.7l0.8 1.5M417.3 1120.6l-0.4 1.1M405.9 1281.7l-0.1 1.2M486.8 1206.0l-0.6 0.9M574.9 1154.9l1.0 1.6M323.4 1151.3l-1.1 1.3M442.0 1095.3l-0.0 2.0M385.0 1208.3l0.9 0.7M398.9 1263.4l-0.5 0.1M459.9 1177.1l0.3 1.6M373.0 1144.3l0.7 0.5M474.3 1110.0l-1.8 0.7M446.6 1109.1l0.3 1.8M582.7 1110.1l1.5 0.1M349.3 1277.6l0.0 1.4M484.4 1128.2l0.5 1.3M509.1 1144.6l0.0 1.2M349.9 1244.2l0.1 0.6M552.8 1095.0l-0.7 0.6M320.3 1224.8l-1.0 0.8M339.0 1253.3l2.0 0.8M524.4 1177.5l-0.4 0.9M566.4 1230.6l0.6 1.2M395.0 1094.5l0.0 0.6M430.6 1108.4l0.1 0.5M352.7 1112.8l0.3 0.0M494.4 1147.0l0.6 1.0M321.6 1080.6l-1.1 0.9M565.2 1236.2l-1.7 0.1M411.5 1094.4l0.8 1.2M380.7 1150.9l-0.0 0.6M384.2 1113.4l1.1 1.1M531.5 1133.9l1.3 0.6M425.1 1118.4l1.3 1.4M571.9 1286.6l-0.3 0.6M596.7 1292.0l-2.2 0.2M396.1 1203.2l-0.8 1.2M427.1 1097.9l-0.1 1.5M428.1 1252.7l-0.2 1.7M504.3 1188.4l0.2 0.3M350.9 1107.3l0.4 1.4M490.5 1094.4l-0.2 1.8M585.7 1108.9l-1.1 0.4M357.3 1117.4l-0.3 0.3M389.7 1112.3l1.2 0.6M446.8 1101.0l-0.3 0.5M437.3 1122.2l0.3 0.9M340.2 1171.6l1.0 1.5M363.0 1118.0l0.7 0.7M363.8 1288.4l0.4 0.8M397.7 1091.9l0.8 0.3M356.2 1258.2l-0.7 0.9M420.6 1147.1l-0.8 1.2M439.7 1137.8l1.1 1.8M419.7 1215.7l-0.4 0.8M435.4 1130.2l-0.3 1.4M421.9 1103.9l-0.3 0.2M321.9 1134.7l0.4 1.1M585.5 1078.0l-1.1 0.5M596.4 1087.8l0.7 1.9M331.1 1099.6l1.6 0.4M368.5 1113.0l0.4 0.0M413.7 1146.8l1.4 0.9M396.4 1264.6l-0.6 0.0M570.7 1159.7l-0.4 1.1M346.5 1270.6l0.0 1.1M564.9 1105.0l0.6 1.9M507.2 1223.6l1.1 1.3M511.1 1166.6l1.1 1.5M318.6 1087.5l0.1 0.7M352.7 1278.9l1.3 0.3M591.7 1281.7l1.5 0.1M537.6 1094.4l-1.6 0.0M526.9 1215.5l-0.1 0.7M322.1 1295.1l1.8 0.3M333.2 1117.0l-1.3 0.5M502.5 1093.6l0.5 0.9M523.8 1144.3l0.2 0.9M422.8 1260.2l0.5 1.6M440.1 1150.8l0.2 1.1M412.2 1241.4l-2.1 0.5M560.4 1123.9l0.7 0.0M484.1 1102.6l-0.8 0.8M377.6 1119.5l-1.6 0.5M368.2 1118.7l0.8 0.8M332.4 1251.4l1.3 1.2M353.6 1288.6l0.6 0.2M420.0 1152.2l-1.4 1.5" stroke="#1618dc" stroke-opacity="0.75" stroke-width="2.9" stroke-linecap="round" fill="none"/>
<path d="M438.8 1092.1h0M381.9 1112.1h0M459.7 1138.1h0M482.3 1142.3h0" stroke="#3cf560" stroke-width="2.6" stroke-linecap="round" fill="none"/>
</g></g>
<text transform="translate(282.20,1031.70) scale(1.03,1)" font-size="20" text-anchor="end" fill="#2af040">mNG</text>
<text transform="translate(281.50,1056.60) scale(1.03,1)" font-size="20" text-anchor="end" fill="#1a1ae6">DAPI</text>
<text transform="translate(597.20,1031.70) scale(1.03,1)" font-size="20" text-anchor="end" fill="#2af040">mNG</text>
<text transform="translate(596.50,1056.60) scale(1.03,1)" font-size="20" text-anchor="end" fill="#1a1ae6">DAPI</text>
<rect x="219.60" y="1280.10" width="59.30" height="3.90" fill="#fff" />
<text transform="translate(283.20,1269.90) scale(1.03,1)" font-size="20" text-anchor="end" fill="#fff">100 µm</text>
<rect x="534.20" y="1280.20" width="60.20" height="3.90" fill="#fff" />
<text transform="translate(598.80,1270.20) scale(1.03,1)" font-size="20" text-anchor="end" fill="#fff">100 µm</text>
<line x1="707.80" y1="1030.00" x2="707.80" y2="1266.80" stroke="#000" stroke-width="2.2" />
<line x1="701.80" y1="1265.70" x2="707.80" y2="1265.70" stroke="#000" stroke-width="2.2" />
<text transform="translate(697.00,1271.20) scale(1.03,1)" font-size="20" text-anchor="end">0.0</text>
<line x1="701.80" y1="1207.05" x2="707.80" y2="1207.05" stroke="#000" stroke-width="2.2" />
<text transform="translate(697.00,1212.55) scale(1.03,1)" font-size="20" text-anchor="end">0.2</text>
<line x1="701.80" y1="1148.40" x2="707.80" y2="1148.40" stroke="#000" stroke-width="2.2" />
<text transform="translate(697.00,1153.90) scale(1.03,1)" font-size="20" text-anchor="end">0.4</text>
<line x1="701.80" y1="1089.75" x2="707.80" y2="1089.75" stroke="#000" stroke-width="2.2" />
<text transform="translate(697.00,1095.25) scale(1.03,1)" font-size="20" text-anchor="end">0.6</text>
<line x1="701.80" y1="1031.10" x2="707.80" y2="1031.10" stroke="#000" stroke-width="2.2" />
<text transform="translate(697.00,1036.60) scale(1.03,1)" font-size="20" text-anchor="end">0.8</text>
<line x1="706.70" y1="1265.70" x2="844.90" y2="1265.70" stroke="#000" stroke-width="2.2" />
<rect x="717.50" y="1248.11" width="14.00" height="17.60" fill="#fd7bab" stroke="#000" stroke-width="2.2" />
<circle cx="719.50" cy="1237.55" r="4.9" fill="#000"/>
<circle cx="729.40" cy="1238.43" r="4.9" fill="#000"/>
<circle cx="719.50" cy="1244.88" r="4.9" fill="#000"/>
<circle cx="729.40" cy="1246.93" r="4.9" fill="#000"/>
<circle cx="721.50" cy="1255.14" r="4.9" fill="#000"/>
<circle cx="726.00" cy="1253.97" r="4.9" fill="#000"/>
<circle cx="729.50" cy="1252.50" r="4.9" fill="#000"/>
<circle cx="723.50" cy="1256.90" r="4.9" fill="#000"/>
<line x1="724.50" y1="1245.17" x2="724.50" y2="1251.04" stroke="#000" stroke-width="2.2" />
<line x1="720.50" y1="1245.17" x2="728.50" y2="1245.17" stroke="#000" stroke-width="2.2" />
<line x1="720.50" y1="1251.04" x2="728.50" y2="1251.04" stroke="#000" stroke-width="2.2" />
<line x1="724.50" y1="1265.70" x2="724.50" y2="1271.70" stroke="#000" stroke-width="2.2" />
<rect x="743.10" y="1076.26" width="14.00" height="189.44" fill="#fd7bab" stroke="#000" stroke-width="2.2" />
<circle cx="744.10" cy="1064.53" r="4.9" fill="#000"/>
<circle cx="748.10" cy="1063.94" r="4.9" fill="#000"/>
<circle cx="752.10" cy="1063.94" r="4.9" fill="#000"/>
<circle cx="756.10" cy="1064.53" r="4.9" fill="#000"/>
<circle cx="746.80" cy="1080.07" r="4.9" fill="#000"/>
<circle cx="752.10" cy="1083.88" r="4.9" fill="#000"/>
<circle cx="750.10" cy="1107.35" r="4.9" fill="#000"/>
<line x1="750.10" y1="1070.98" x2="750.10" y2="1081.54" stroke="#000" stroke-width="2.2" />
<line x1="746.10" y1="1070.98" x2="754.10" y2="1070.98" stroke="#000" stroke-width="2.2" />
<line x1="746.10" y1="1081.54" x2="754.10" y2="1081.54" stroke="#000" stroke-width="2.2" />
<line x1="750.10" y1="1265.70" x2="750.10" y2="1271.70" stroke="#000" stroke-width="2.2" />
<rect x="768.80" y="1186.52" width="14.00" height="79.18" fill="#fd7bab" stroke="#000" stroke-width="2.2" />
<circle cx="771.20" cy="1124.65" r="4.9" fill="#000"/>
<circle cx="780.40" cy="1127.87" r="4.9" fill="#000"/>
<circle cx="775.80" cy="1170.39" r="4.9" fill="#000"/>
<circle cx="775.80" cy="1192.39" r="4.9" fill="#000"/>
<circle cx="775.80" cy="1202.36" r="4.9" fill="#000"/>
<circle cx="771.20" cy="1243.41" r="4.9" fill="#000"/>
<circle cx="780.40" cy="1241.36" r="4.9" fill="#000"/>
<line x1="775.80" y1="1174.79" x2="775.80" y2="1198.25" stroke="#000" stroke-width="2.2" />
<line x1="771.80" y1="1174.79" x2="779.80" y2="1174.79" stroke="#000" stroke-width="2.2" />
<line x1="771.80" y1="1198.25" x2="779.80" y2="1198.25" stroke="#000" stroke-width="2.2" />
<line x1="775.80" y1="1265.70" x2="775.80" y2="1271.70" stroke="#000" stroke-width="2.2" />
<rect x="794.50" y="1185.35" width="14.00" height="80.35" fill="#fd7bab" stroke="#000" stroke-width="2.2" />
<circle cx="801.50" cy="1120.54" r="4.9" fill="#000"/>
<circle cx="801.50" cy="1157.20" r="4.9" fill="#000"/>
<circle cx="796.50" cy="1178.90" r="4.9" fill="#000"/>
<circle cx="806.50" cy="1179.78" r="4.9" fill="#000"/>
<circle cx="801.50" cy="1202.36" r="4.9" fill="#000"/>
<circle cx="796.50" cy="1227.87" r="4.9" fill="#000"/>
<circle cx="806.50" cy="1225.82" r="4.9" fill="#000"/>
<line x1="801.50" y1="1169.51" x2="801.50" y2="1201.18" stroke="#000" stroke-width="2.2" />
<line x1="797.50" y1="1169.51" x2="805.50" y2="1169.51" stroke="#000" stroke-width="2.2" />
<line x1="797.50" y1="1201.18" x2="805.50" y2="1201.18" stroke="#000" stroke-width="2.2" />
<line x1="801.50" y1="1265.70" x2="801.50" y2="1271.70" stroke="#000" stroke-width="2.2" />
<rect x="820.20" y="1211.45" width="14.00" height="54.25" fill="#fd7bab" stroke="#000" stroke-width="2.2" />
<circle cx="827.20" cy="1194.44" r="4.9" fill="#000"/>
<circle cx="822.60" cy="1202.94" r="4.9" fill="#000"/>
<circle cx="831.80" cy="1204.12" r="4.9" fill="#000"/>
<circle cx="827.20" cy="1210.86" r="4.9" fill="#000"/>
<circle cx="830.50" cy="1222.01" r="4.9" fill="#000"/>
<circle cx="822.60" cy="1226.99" r="4.9" fill="#000"/>
<circle cx="834.20" cy="1222.30" r="4.9" fill="#000"/>
<line x1="827.20" y1="1207.05" x2="827.20" y2="1215.85" stroke="#000" stroke-width="2.2" />
<line x1="823.20" y1="1207.05" x2="831.20" y2="1207.05" stroke="#000" stroke-width="2.2" />
<line x1="823.20" y1="1215.85" x2="831.20" y2="1215.85" stroke="#000" stroke-width="2.2" />
<line x1="827.20" y1="1265.70" x2="827.20" y2="1271.70" stroke="#000" stroke-width="2.2" />
<text transform="translate(731.80,1276.60) rotate(-90) scale(1.03,1)" font-size="20" text-anchor="end">Anti-IgG</text>
<text transform="translate(757.40,1276.60) rotate(-90) scale(1.03,1)" font-size="20" text-anchor="end">Anti-IgG</text>
<text transform="translate(783.10,1276.60) rotate(-90) scale(1.03,1)" font-size="20" text-anchor="end">Anti-TGF-β</text>
<text transform="translate(808.80,1276.60) rotate(-90) scale(1.03,1)" font-size="20" text-anchor="end">Anti-IL-1β</text>
<text transform="translate(834.50,1276.60) rotate(-90) scale(1.03,1)" font-size="20" text-anchor="end">Anti-TGF-β/IL-1β</text>
<polyline points="751.60,1055.30 751.60,1032.40 827.80,1032.40 827.80,1190.50" fill="none" stroke="#000" stroke-width="2.2" stroke-linejoin="miter" />
<polyline points="751.60,1039.00 801.00,1039.00 801.00,1106.20" fill="none" stroke="#000" stroke-width="2.2" stroke-linejoin="miter" />
<polyline points="751.60,1048.10 775.50,1048.10 775.50,1106.20" fill="none" stroke="#000" stroke-width="2.2" stroke-linejoin="miter" />
<text transform="translate(788.75,1025.90) scale(1.03,1)" font-size="20" text-anchor="middle">p&lt;0.0001</text>
<line x1="739.60" y1="1435.70" x2="837.10" y2="1435.70" stroke="#000" stroke-width="2.2" />
<text transform="translate(788.70,1457.80) scale(1.03,1)" font-size="20" text-anchor="middle">DSS</text>
<text transform="translate(658.00,1148.30) rotate(-90) scale(1.03,1)" font-size="20.5" text-anchor="middle" font-weight="bold">IL-11<tspan font-size="13" dy="-8">mNG</tspan><tspan dy="8"> cells (%)</tspan></text>
<text transform="translate(922.00,986.40) scale(0.96,1)" font-size="33.5" font-weight="bold">g</text>
<line x1="985.00" y1="1094.80" x2="985.00" y2="1264.90" stroke="#000" stroke-width="2.2" />
<line x1="979.00" y1="1263.80" x2="985.00" y2="1263.80" stroke="#000" stroke-width="2.2" />
<text transform="translate(974.20,1269.10) scale(1.03,1)" font-size="20" text-anchor="end">0</text>
<line x1="979.00" y1="1218.84" x2="985.00" y2="1218.84" stroke="#000" stroke-width="2.2" />
<text transform="translate(974.20,1224.14) scale(1.03,1)" font-size="20" text-anchor="end">20</text>
<line x1="979.00" y1="1173.88" x2="985.00" y2="1173.88" stroke="#000" stroke-width="2.2" />
<text transform="translate(974.20,1179.18) scale(1.03,1)" font-size="20" text-anchor="end">40</text>
<line x1="979.00" y1="1128.92" x2="985.00" y2="1128.92" stroke="#000" stroke-width="2.2" />
<text transform="translate(974.20,1134.22) scale(1.03,1)" font-size="20" text-anchor="end">60</text>
<line x1="974.00" y1="1094.80" x2="996.80" y2="1094.80" stroke="#000" stroke-width="2.2" />
<line x1="985.00" y1="1029.60" x2="985.00" y2="1060.00" stroke="#000" stroke-width="2.2" />
<line x1="979.00" y1="1030.60" x2="985.00" y2="1030.60" stroke="#000" stroke-width="2.2" />
<text transform="translate(974.20,1035.90) scale(1.03,1)" font-size="20" text-anchor="end">200</text>
<line x1="974.00" y1="1060.00" x2="996.70" y2="1060.00" stroke="#000" stroke-width="2.2" />
<text transform="translate(973.50,1065.30) scale(1.03,1)" font-size="20" text-anchor="end">150</text>
<line x1="983.90" y1="1263.80" x2="1129.10" y2="1263.80" stroke="#000" stroke-width="2.2" />
<rect x="995.30" y="1260.43" width="15.00" height="3.37" fill="#fd7bab" stroke="#000" stroke-width="2.2" />
<circle cx="1002.80" cy="1240.20" r="4.8" fill="#000"/>
<circle cx="1002.30" cy="1254.36" r="4.8" fill="#000"/>
<circle cx="997.80" cy="1259.75" r="4.8" fill="#000"/>
<circle cx="1006.80" cy="1259.75" r="4.8" fill="#000"/>
<circle cx="997.80" cy="1263.80" r="4.8" fill="#000"/>
<circle cx="1006.80" cy="1263.80" r="4.8" fill="#000"/>
<circle cx="1002.80" cy="1262.00" r="4.8" fill="#000"/>
<line x1="1002.80" y1="1258.63" x2="1002.80" y2="1262.23" stroke="#000" stroke-width="2.2" />
<line x1="998.55" y1="1258.63" x2="1007.05" y2="1258.63" stroke="#000" stroke-width="2.2" />
<line x1="998.55" y1="1262.23" x2="1007.05" y2="1262.23" stroke="#000" stroke-width="2.2" />
<line x1="1002.80" y1="1263.80" x2="1002.80" y2="1269.80" stroke="#000" stroke-width="2.2" />
<rect x="1022.40" y="1150.50" width="15.00" height="113.30" fill="#fd7bab" stroke="#000" stroke-width="2.2" />
<circle cx="1029.90" cy="1146.45" r="4.8" fill="#000"/>
<circle cx="1025.40" cy="1184.00" r="4.8" fill="#000"/>
<circle cx="1033.90" cy="1192.31" r="4.8" fill="#000"/>
<circle cx="1025.40" cy="1210.30" r="4.8" fill="#000"/>
<circle cx="1033.90" cy="1212.77" r="4.8" fill="#000"/>
<circle cx="1029.90" cy="1234.35" r="4.8" fill="#000"/>
<line x1="1029.90" y1="1102.17" x2="1029.90" y2="1198.83" stroke="#000" stroke-width="2.2" />
<line x1="1025.65" y1="1102.17" x2="1034.15" y2="1102.17" stroke="#000" stroke-width="2.2" />
<line x1="1025.65" y1="1198.83" x2="1034.15" y2="1198.83" stroke="#000" stroke-width="2.2" />
<line x1="1029.90" y1="1263.80" x2="1029.90" y2="1269.80" stroke="#000" stroke-width="2.2" />
<rect x="1049.20" y="1243.79" width="15.00" height="20.01" fill="#fd7bab" stroke="#000" stroke-width="2.2" />
<circle cx="1056.70" cy="1198.83" r="4.8" fill="#000"/>
<circle cx="1056.70" cy="1229.86" r="4.8" fill="#000"/>
<circle cx="1052.20" cy="1247.84" r="4.8" fill="#000"/>
<circle cx="1061.20" cy="1245.82" r="4.8" fill="#000"/>
<circle cx="1056.70" cy="1257.73" r="4.8" fill="#000"/>
<circle cx="1052.20" cy="1263.80" r="4.8" fill="#000"/>
<circle cx="1060.70" cy="1261.55" r="4.8" fill="#000"/>
<line x1="1056.70" y1="1234.35" x2="1056.70" y2="1253.23" stroke="#000" stroke-width="2.2" />
<line x1="1052.45" y1="1234.35" x2="1060.95" y2="1234.35" stroke="#000" stroke-width="2.2" />
<line x1="1052.45" y1="1253.23" x2="1060.95" y2="1253.23" stroke="#000" stroke-width="2.2" />
<line x1="1056.70" y1="1263.80" x2="1056.70" y2="1269.80" stroke="#000" stroke-width="2.2" />
<rect x="1075.50" y="1251.89" width="15.00" height="11.91" fill="#fd7bab" stroke="#000" stroke-width="2.2" />
<circle cx="1083.00" cy="1211.87" r="4.8" fill="#000"/>
<circle cx="1083.00" cy="1236.82" r="4.8" fill="#000"/>
<circle cx="1080.00" cy="1259.75" r="4.8" fill="#000"/>
<circle cx="1087.00" cy="1260.43" r="4.8" fill="#000"/>
<circle cx="1080.00" cy="1263.80" r="4.8" fill="#000"/>
<circle cx="1087.00" cy="1263.80" r="4.8" fill="#000"/>
<line x1="1083.00" y1="1243.34" x2="1083.00" y2="1260.43" stroke="#000" stroke-width="2.2" />
<line x1="1078.75" y1="1243.34" x2="1087.25" y2="1243.34" stroke="#000" stroke-width="2.2" />
<line x1="1078.75" y1="1260.43" x2="1087.25" y2="1260.43" stroke="#000" stroke-width="2.2" />
<line x1="1083.00" y1="1263.80" x2="1083.00" y2="1269.80" stroke="#000" stroke-width="2.2" />
<rect x="1102.20" y="1259.30" width="15.00" height="4.50" fill="#fd7bab" stroke="#000" stroke-width="2.2" />
<circle cx="1109.70" cy="1251.89" r="4.8" fill="#000"/>
<circle cx="1105.70" cy="1258.85" r="4.8" fill="#000"/>
<circle cx="1113.70" cy="1258.85" r="4.8" fill="#000"/>
<circle cx="1105.70" cy="1263.80" r="4.8" fill="#000"/>
<circle cx="1113.70" cy="1263.80" r="4.8" fill="#000"/>
<circle cx="1109.70" cy="1262.00" r="4.8" fill="#000"/>
<line x1="1109.70" y1="1257.73" x2="1109.70" y2="1260.88" stroke="#000" stroke-width="2.2" />
<line x1="1105.45" y1="1257.73" x2="1113.95" y2="1257.73" stroke="#000" stroke-width="2.2" />
<line x1="1105.45" y1="1260.88" x2="1113.95" y2="1260.88" stroke="#000" stroke-width="2.2" />
<line x1="1109.70" y1="1263.80" x2="1109.70" y2="1269.80" stroke="#000" stroke-width="2.2" />
<circle cx="1029.80" cy="1045.30" r="4.8" fill="#000"/>
<text transform="translate(1010.10,1276.60) rotate(-90) scale(1.03,1)" font-size="20" text-anchor="end">Anti-IgG</text>
<text transform="translate(1037.20,1276.60) rotate(-90) scale(1.03,1)" font-size="20" text-anchor="end">Anti-IgG</text>
<text transform="translate(1064.00,1276.60) rotate(-90) scale(1.03,1)" font-size="20" text-anchor="end">Anti-TGF-β</text>
<text transform="translate(1090.30,1276.60) rotate(-90) scale(1.03,1)" font-size="20" text-anchor="end">Anti-IL-1β</text>
<text transform="translate(1117.00,1276.60) rotate(-90) scale(1.03,1)" font-size="20" text-anchor="end">Anti-TGF-β/IL-1β</text>
<polyline points="1030.40,1037.30 1030.40,981.50 1109.90,981.50 1109.90,1237.50" fill="none" stroke="#000" stroke-width="2.2" stroke-linejoin="miter" />
<polyline points="1030.40,1008.50 1082.60,1008.50 1082.60,1203.00" fill="none" stroke="#000" stroke-width="2.2" stroke-linejoin="miter" />
<polyline points="1030.40,1030.00 1056.20,1030.00 1056.20,1187.50" fill="none" stroke="#000" stroke-width="2.2" stroke-linejoin="miter" />
<text transform="translate(1033.90,978.40) scale(1.03,1)" font-size="20">p=0.0160</text>
<text transform="translate(1033.90,1005.20) scale(1.03,1)" font-size="20">p=0.0134</text>
<text transform="translate(1033.90,1026.30) scale(1.03,1)" font-size="20">ns</text>
<line x1="1021.00" y1="1435.70" x2="1118.40" y2="1435.70" stroke="#000" stroke-width="2.2" />
<text transform="translate(1069.20,1457.80) scale(1.03,1)" font-size="20" text-anchor="middle">DSS</text>
<text transform="translate(938.00,1147.60) rotate(-90) scale(1.03,1)" font-size="20.5" text-anchor="middle" font-weight="bold"><tspan font-style="italic">Il11</tspan> mRNA</text>
<text transform="translate(1205.00,985.90) scale(0.96,1)" font-size="33.5" font-weight="bold">h</text>
<line x1="1268.60" y1="1012.20" x2="1268.60" y2="1264.60" stroke="#000" stroke-width="2.2" />
<line x1="1262.60" y1="1263.50" x2="1268.60" y2="1263.50" stroke="#000" stroke-width="2.2" />
<text transform="translate(1257.80,1269.00) scale(1.03,1)" font-size="20" text-anchor="end">0</text>
<line x1="1262.60" y1="1180.10" x2="1268.60" y2="1180.10" stroke="#000" stroke-width="2.2" />
<text transform="translate(1257.80,1185.60) scale(1.03,1)" font-size="20" text-anchor="end">10</text>
<line x1="1262.60" y1="1096.70" x2="1268.60" y2="1096.70" stroke="#000" stroke-width="2.2" />
<text transform="translate(1257.80,1102.20) scale(1.03,1)" font-size="20" text-anchor="end">20</text>
<line x1="1262.60" y1="1013.30" x2="1268.60" y2="1013.30" stroke="#000" stroke-width="2.2" />
<text transform="translate(1257.80,1018.80) scale(1.03,1)" font-size="20" text-anchor="end">30</text>
<line x1="1267.50" y1="1263.50" x2="1455.80" y2="1263.50" stroke="#000" stroke-width="2.2" />
<rect x="1282.35" y="1171.43" width="20.30" height="92.07" fill="#fd7bab" stroke="#000" stroke-width="2.2" />
<circle cx="1285.90" cy="1155.08" r="5.0" fill="#000"/>
<circle cx="1298.80" cy="1152.08" r="5.0" fill="#000"/>
<circle cx="1292.50" cy="1157.83" r="5.0" fill="#000"/>
<circle cx="1292.50" cy="1171.76" r="5.0" fill="#000"/>
<circle cx="1292.50" cy="1182.18" r="5.0" fill="#000"/>
<circle cx="1298.80" cy="1185.94" r="5.0" fill="#000"/>
<circle cx="1285.90" cy="1194.28" r="5.0" fill="#000"/>
<line x1="1292.50" y1="1164.75" x2="1292.50" y2="1178.10" stroke="#000" stroke-width="2.2" />
<line x1="1287.25" y1="1164.75" x2="1297.75" y2="1164.75" stroke="#000" stroke-width="2.2" />
<line x1="1287.25" y1="1178.10" x2="1297.75" y2="1178.10" stroke="#000" stroke-width="2.2" />
<line x1="1292.50" y1="1263.50" x2="1292.50" y2="1269.50" stroke="#000" stroke-width="2.2" />
<rect x="1317.25" y="1126.47" width="20.30" height="137.03" fill="#fd7bab" stroke="#000" stroke-width="2.2" />
<circle cx="1327.40" cy="1031.65" r="5.0" fill="#000"/>
<circle cx="1321.00" cy="1116.72" r="5.0" fill="#000"/>
<circle cx="1333.80" cy="1120.05" r="5.0" fill="#000"/>
<circle cx="1327.40" cy="1123.39" r="5.0" fill="#000"/>
<circle cx="1327.40" cy="1143.40" r="5.0" fill="#000"/>
<circle cx="1327.40" cy="1165.92" r="5.0" fill="#000"/>
<circle cx="1327.40" cy="1177.93" r="5.0" fill="#000"/>
<line x1="1327.40" y1="1107.29" x2="1327.40" y2="1145.66" stroke="#000" stroke-width="2.2" />
<line x1="1322.15" y1="1107.29" x2="1332.65" y2="1107.29" stroke="#000" stroke-width="2.2" />
<line x1="1322.15" y1="1145.66" x2="1332.65" y2="1145.66" stroke="#000" stroke-width="2.2" />
<line x1="1327.40" y1="1263.50" x2="1327.40" y2="1269.50" stroke="#000" stroke-width="2.2" />
<rect x="1351.95" y="1140.07" width="20.30" height="123.43" fill="#fd7bab" stroke="#000" stroke-width="2.2" />
<circle cx="1362.10" cy="1102.54" r="5.0" fill="#000"/>
<circle cx="1368.80" cy="1120.05" r="5.0" fill="#000"/>
<circle cx="1355.40" cy="1125.89" r="5.0" fill="#000"/>
<circle cx="1355.40" cy="1137.57" r="5.0" fill="#000"/>
<circle cx="1368.80" cy="1136.32" r="5.0" fill="#000"/>
<circle cx="1362.10" cy="1148.41" r="5.0" fill="#000"/>
<circle cx="1362.10" cy="1193.44" r="5.0" fill="#000"/>
<line x1="1362.10" y1="1126.72" x2="1362.10" y2="1153.41" stroke="#000" stroke-width="2.2" />
<line x1="1356.85" y1="1126.72" x2="1367.35" y2="1126.72" stroke="#000" stroke-width="2.2" />
<line x1="1356.85" y1="1153.41" x2="1367.35" y2="1153.41" stroke="#000" stroke-width="2.2" />
<line x1="1362.10" y1="1263.50" x2="1362.10" y2="1269.50" stroke="#000" stroke-width="2.2" />
<rect x="1386.95" y="1152.83" width="20.30" height="110.67" fill="#fd7bab" stroke="#000" stroke-width="2.2" />
<circle cx="1397.10" cy="1110.04" r="5.0" fill="#000"/>
<circle cx="1397.10" cy="1138.40" r="5.0" fill="#000"/>
<circle cx="1390.60" cy="1150.08" r="5.0" fill="#000"/>
<circle cx="1403.60" cy="1149.24" r="5.0" fill="#000"/>
<circle cx="1390.60" cy="1160.92" r="5.0" fill="#000"/>
<circle cx="1403.60" cy="1166.76" r="5.0" fill="#000"/>
<circle cx="1390.60" cy="1173.43" r="5.0" fill="#000"/>
<line x1="1397.10" y1="1141.99" x2="1397.10" y2="1163.67" stroke="#000" stroke-width="2.2" />
<line x1="1391.85" y1="1141.99" x2="1402.35" y2="1141.99" stroke="#000" stroke-width="2.2" />
<line x1="1391.85" y1="1163.67" x2="1402.35" y2="1163.67" stroke="#000" stroke-width="2.2" />
<line x1="1397.10" y1="1263.50" x2="1397.10" y2="1269.50" stroke="#000" stroke-width="2.2" />
<rect x="1421.85" y="1164.67" width="20.30" height="98.83" fill="#fd7bab" stroke="#000" stroke-width="2.2" />
<circle cx="1426.00" cy="1154.25" r="5.0" fill="#000"/>
<circle cx="1438.20" cy="1154.66" r="5.0" fill="#000"/>
<circle cx="1432.00" cy="1155.50" r="5.0" fill="#000"/>
<circle cx="1426.00" cy="1166.76" r="5.0" fill="#000"/>
<circle cx="1435.30" cy="1166.76" r="5.0" fill="#000"/>
<circle cx="1432.00" cy="1195.11" r="5.0" fill="#000"/>
<line x1="1432.00" y1="1159.67" x2="1432.00" y2="1169.67" stroke="#000" stroke-width="2.2" />
<line x1="1426.75" y1="1159.67" x2="1437.25" y2="1159.67" stroke="#000" stroke-width="2.2" />
<line x1="1426.75" y1="1169.67" x2="1437.25" y2="1169.67" stroke="#000" stroke-width="2.2" />
<line x1="1432.00" y1="1263.50" x2="1432.00" y2="1269.50" stroke="#000" stroke-width="2.2" />
<text transform="translate(1299.80,1276.60) rotate(-90) scale(1.03,1)" font-size="20" text-anchor="end">Anti-IgG</text>
<text transform="translate(1334.70,1276.60) rotate(-90) scale(1.03,1)" font-size="20" text-anchor="end">Anti-IgG</text>
<text transform="translate(1369.40,1276.60) rotate(-90) scale(1.03,1)" font-size="20" text-anchor="end">Anti-TGF-β</text>
<text transform="translate(1404.40,1276.60) rotate(-90) scale(1.03,1)" font-size="20" text-anchor="end">Anti-IL-1β</text>
<text transform="translate(1439.30,1276.60) rotate(-90) scale(1.03,1)" font-size="20" text-anchor="end">Anti-TGF-β/IL-1β</text>
<polyline points="1327.00,1033.00 1327.00,982.80 1432.90,982.80 1432.90,1140.60" fill="none" stroke="#000" stroke-width="2.2" stroke-linejoin="miter" />
<polyline points="1327.00,990.60 1398.30,990.60 1398.30,1095.50" fill="none" stroke="#000" stroke-width="2.2" stroke-linejoin="miter" />
<polyline points="1327.00,998.40 1363.40,998.40 1363.40,1089.50" fill="none" stroke="#000" stroke-width="2.2" stroke-linejoin="miter" />
<text transform="translate(1380.70,980.00) scale(1.03,1)" font-size="20" text-anchor="middle">ns</text>
<line x1="1316.40" y1="1436.50" x2="1442.40" y2="1436.50" stroke="#000" stroke-width="2.2" />
<text transform="translate(1379.80,1458.40) scale(1.03,1)" font-size="20" text-anchor="middle">DSS</text>
<text transform="translate(1222.00,1138.90) rotate(-90) scale(1.03,1)" font-size="20.5" text-anchor="middle" font-weight="bold">Tissue collagen (%)</text>
<text transform="translate(1533.50,985.90) scale(0.96,1)" font-size="33.5" font-weight="bold">i</text>
<line x1="1609.80" y1="1013.00" x2="1609.80" y2="1264.80" stroke="#000" stroke-width="2.2" />
<line x1="1603.80" y1="1263.70" x2="1609.80" y2="1263.70" stroke="#000" stroke-width="2.2" />
<text transform="translate(1599.00,1269.20) scale(1.03,1)" font-size="20" text-anchor="end">0</text>
<line x1="1603.80" y1="1180.50" x2="1609.80" y2="1180.50" stroke="#000" stroke-width="2.2" />
<text transform="translate(1599.00,1186.00) scale(1.03,1)" font-size="20" text-anchor="end">1</text>
<line x1="1603.80" y1="1097.30" x2="1609.80" y2="1097.30" stroke="#000" stroke-width="2.2" />
<text transform="translate(1599.00,1102.80) scale(1.03,1)" font-size="20" text-anchor="end">2</text>
<line x1="1603.80" y1="1014.10" x2="1609.80" y2="1014.10" stroke="#000" stroke-width="2.2" />
<text transform="translate(1599.00,1019.60) scale(1.03,1)" font-size="20" text-anchor="end">3</text>
<line x1="1608.70" y1="1263.70" x2="1793.00" y2="1263.70" stroke="#000" stroke-width="2.2" />
<rect x="1622.65" y="1173.01" width="19.30" height="90.69" fill="#fd7bab" stroke="#000" stroke-width="2.2" />
<circle cx="1626.80" cy="1167.19" r="5.0" fill="#000"/>
<circle cx="1634.70" cy="1166.36" r="5.0" fill="#000"/>
<circle cx="1640.50" cy="1168.02" r="5.0" fill="#000"/>
<circle cx="1637.60" cy="1173.84" r="5.0" fill="#000"/>
<circle cx="1628.30" cy="1180.50" r="5.0" fill="#000"/>
<line x1="1632.30" y1="1170.52" x2="1632.30" y2="1175.51" stroke="#000" stroke-width="2.2" />
<line x1="1627.15" y1="1170.52" x2="1637.45" y2="1170.52" stroke="#000" stroke-width="2.2" />
<line x1="1627.15" y1="1175.51" x2="1637.45" y2="1175.51" stroke="#000" stroke-width="2.2" />
<line x1="1632.30" y1="1263.70" x2="1632.30" y2="1269.70" stroke="#000" stroke-width="2.2" />
<rect x="1656.85" y="1110.61" width="19.30" height="153.09" fill="#fd7bab" stroke="#000" stroke-width="2.2" />
<circle cx="1666.50" cy="1054.87" r="5.0" fill="#000"/>
<circle cx="1666.50" cy="1092.31" r="5.0" fill="#000"/>
<circle cx="1660.50" cy="1104.79" r="5.0" fill="#000"/>
<circle cx="1673.40" cy="1107.28" r="5.0" fill="#000"/>
<circle cx="1666.50" cy="1113.11" r="5.0" fill="#000"/>
<circle cx="1663.30" cy="1149.72" r="5.0" fill="#000"/>
<circle cx="1669.80" cy="1148.88" r="5.0" fill="#000"/>
<line x1="1666.50" y1="1098.13" x2="1666.50" y2="1123.09" stroke="#000" stroke-width="2.2" />
<line x1="1661.35" y1="1098.13" x2="1671.65" y2="1098.13" stroke="#000" stroke-width="2.2" />
<line x1="1661.35" y1="1123.09" x2="1671.65" y2="1123.09" stroke="#000" stroke-width="2.2" />
<line x1="1666.50" y1="1263.70" x2="1666.50" y2="1269.70" stroke="#000" stroke-width="2.2" />
<rect x="1690.85" y="1128.92" width="19.30" height="134.78" fill="#fd7bab" stroke="#000" stroke-width="2.2" />
<circle cx="1706.60" cy="1089.81" r="5.0" fill="#000"/>
<circle cx="1694.10" cy="1099.80" r="5.0" fill="#000"/>
<circle cx="1694.10" cy="1128.92" r="5.0" fill="#000"/>
<circle cx="1706.60" cy="1126.42" r="5.0" fill="#000"/>
<circle cx="1694.10" cy="1144.72" r="5.0" fill="#000"/>
<circle cx="1706.60" cy="1149.72" r="5.0" fill="#000"/>
<circle cx="1694.10" cy="1158.04" r="5.0" fill="#000"/>
<line x1="1700.50" y1="1119.35" x2="1700.50" y2="1138.48" stroke="#000" stroke-width="2.2" />
<line x1="1695.35" y1="1119.35" x2="1705.65" y2="1119.35" stroke="#000" stroke-width="2.2" />
<line x1="1695.35" y1="1138.48" x2="1705.65" y2="1138.48" stroke="#000" stroke-width="2.2" />
<line x1="1700.50" y1="1263.70" x2="1700.50" y2="1269.70" stroke="#000" stroke-width="2.2" />
<rect x="1724.85" y="1136.40" width="19.30" height="127.30" fill="#fd7bab" stroke="#000" stroke-width="2.2" />
<circle cx="1728.80" cy="1119.76" r="5.0" fill="#000"/>
<circle cx="1734.50" cy="1126.42" r="5.0" fill="#000"/>
<circle cx="1741.00" cy="1128.92" r="5.0" fill="#000"/>
<circle cx="1728.80" cy="1133.91" r="5.0" fill="#000"/>
<circle cx="1734.50" cy="1135.57" r="5.0" fill="#000"/>
<circle cx="1734.50" cy="1148.05" r="5.0" fill="#000"/>
<circle cx="1734.50" cy="1158.04" r="5.0" fill="#000"/>
<line x1="1734.50" y1="1132.24" x2="1734.50" y2="1140.56" stroke="#000" stroke-width="2.2" />
<line x1="1729.35" y1="1132.24" x2="1739.65" y2="1132.24" stroke="#000" stroke-width="2.2" />
<line x1="1729.35" y1="1140.56" x2="1739.65" y2="1140.56" stroke="#000" stroke-width="2.2" />
<line x1="1734.50" y1="1263.70" x2="1734.50" y2="1269.70" stroke="#000" stroke-width="2.2" />
<rect x="1758.95" y="1144.72" width="19.30" height="118.98" fill="#fd7bab" stroke="#000" stroke-width="2.2" />
<circle cx="1762.60" cy="1133.08" r="5.0" fill="#000"/>
<circle cx="1771.20" cy="1137.24" r="5.0" fill="#000"/>
<circle cx="1775.50" cy="1138.90" r="5.0" fill="#000"/>
<circle cx="1768.60" cy="1143.89" r="5.0" fill="#000"/>
<circle cx="1764.00" cy="1156.37" r="5.0" fill="#000"/>
<circle cx="1772.60" cy="1153.04" r="5.0" fill="#000"/>
<line x1="1768.60" y1="1141.40" x2="1768.60" y2="1148.05" stroke="#000" stroke-width="2.2" />
<line x1="1763.45" y1="1141.40" x2="1773.75" y2="1141.40" stroke="#000" stroke-width="2.2" />
<line x1="1763.45" y1="1148.05" x2="1773.75" y2="1148.05" stroke="#000" stroke-width="2.2" />
<line x1="1768.60" y1="1263.70" x2="1768.60" y2="1269.70" stroke="#000" stroke-width="2.2" />
<text transform="translate(1639.60,1276.60) rotate(-90) scale(1.03,1)" font-size="20" text-anchor="end">Anti-IgG</text>
<text transform="translate(1673.80,1276.60) rotate(-90) scale(1.03,1)" font-size="20" text-anchor="end">Anti-IgG</text>
<text transform="translate(1707.80,1276.60) rotate(-90) scale(1.03,1)" font-size="20" text-anchor="end">Anti-TGF-β</text>
<text transform="translate(1741.80,1276.60) rotate(-90) scale(1.03,1)" font-size="20" text-anchor="end">Anti-IL-1β</text>
<text transform="translate(1775.90,1276.60) rotate(-90) scale(1.03,1)" font-size="20" text-anchor="end">Anti-TGF-β/IL-1β</text>
<polyline points="1666.70,1050.20 1666.70,1007.20 1769.30,1007.20 1769.30,1092.60" fill="none" stroke="#000" stroke-width="2.2" stroke-linejoin="miter" />
<polyline points="1666.70,1030.10 1734.20,1030.10 1734.20,1113.40" fill="none" stroke="#000" stroke-width="2.2" stroke-linejoin="miter" />
<polyline points="1666.70,1040.90 1702.20,1040.90 1702.20,1081.10" fill="none" stroke="#000" stroke-width="2.2" stroke-linejoin="miter" />
<text transform="translate(1718.50,1004.70) scale(1.03,1)" font-size="20" text-anchor="middle">p=0.0252</text>
<text transform="translate(1700.20,1027.00) scale(1.03,1)" font-size="20" text-anchor="middle">ns</text>
<line x1="1654.30" y1="1436.50" x2="1780.30" y2="1436.50" stroke="#000" stroke-width="2.2" />
<text transform="translate(1717.10,1458.40) scale(1.03,1)" font-size="20" text-anchor="middle">DSS</text>
<text transform="translate(1551.00,1138.00) rotate(-90) scale(1.03,1)" font-size="20.5" text-anchor="middle" font-weight="bold">Hydroxyproline/protein</text>
<text transform="translate(1576.00,1138.90) rotate(-90) scale(1.03,1)" font-size="20.5" text-anchor="middle" font-weight="bold">fold change</text>
<text transform="translate(3.50,1455.70) scale(0.96,1)" font-size="33.5" font-weight="bold">j</text>
<line x1="89.10" y1="1626.30" x2="89.10" y2="1877.50" stroke="#000" stroke-width="2.2" />
<line x1="83.10" y1="1827.10" x2="89.10" y2="1827.10" stroke="#000" stroke-width="2.2" />
<text transform="translate(78.30,1832.40) scale(1.03,1)" font-size="20" text-anchor="end">80</text>
<line x1="83.10" y1="1777.20" x2="89.10" y2="1777.20" stroke="#000" stroke-width="2.2" />
<text transform="translate(78.30,1782.50) scale(1.03,1)" font-size="20" text-anchor="end">90</text>
<line x1="83.10" y1="1727.30" x2="89.10" y2="1727.30" stroke="#000" stroke-width="2.2" />
<text transform="translate(78.30,1732.60) scale(1.03,1)" font-size="20" text-anchor="end">100</text>
<line x1="83.10" y1="1677.40" x2="89.10" y2="1677.40" stroke="#000" stroke-width="2.2" />
<text transform="translate(78.30,1682.70) scale(1.03,1)" font-size="20" text-anchor="end">110</text>
<line x1="83.10" y1="1627.50" x2="89.10" y2="1627.50" stroke="#000" stroke-width="2.2" />
<text transform="translate(78.30,1632.80) scale(1.03,1)" font-size="20" text-anchor="end">120</text>
<line x1="88.00" y1="1876.40" x2="351.70" y2="1876.40" stroke="#000" stroke-width="2.2" />
<line x1="136.50" y1="1876.40" x2="136.50" y2="1883.00" stroke="#000" stroke-width="2.2" />
<text transform="translate(136.50,1901.50) scale(1.03,1)" font-size="20" text-anchor="middle">7</text>
<line x1="187.90" y1="1876.40" x2="187.90" y2="1883.00" stroke="#000" stroke-width="2.2" />
<text transform="translate(187.90,1901.50) scale(1.03,1)" font-size="20" text-anchor="middle">14</text>
<line x1="239.40" y1="1876.40" x2="239.40" y2="1883.00" stroke="#000" stroke-width="2.2" />
<text transform="translate(239.40,1901.50) scale(1.03,1)" font-size="20" text-anchor="middle">21</text>
<line x1="291.80" y1="1876.40" x2="291.80" y2="1883.00" stroke="#000" stroke-width="2.2" />
<text transform="translate(291.80,1901.50) scale(1.03,1)" font-size="20" text-anchor="middle">28</text>
<line x1="343.10" y1="1876.40" x2="343.10" y2="1883.00" stroke="#000" stroke-width="2.2" />
<text transform="translate(343.10,1901.50) scale(1.03,1)" font-size="20" text-anchor="middle">35</text>
<line x1="136.50" y1="1662.50" x2="136.50" y2="1876.00" stroke="#858585" stroke-width="3.7" stroke-dasharray="5.5,3"/>
<line x1="187.90" y1="1662.50" x2="187.90" y2="1876.00" stroke="#858585" stroke-width="3.7" stroke-dasharray="5.5,3"/>
<line x1="239.40" y1="1662.50" x2="239.40" y2="1876.00" stroke="#858585" stroke-width="3.7" stroke-dasharray="5.5,3"/>
<line x1="291.80" y1="1662.50" x2="291.80" y2="1876.00" stroke="#858585" stroke-width="3.7" stroke-dasharray="5.5,3"/>
<line x1="343.10" y1="1662.50" x2="343.10" y2="1876.00" stroke="#858585" stroke-width="3.7" stroke-dasharray="5.5,3"/>
<path d="M91.6,1726.5 L98.7,1705.8 L106.9,1705.8 L113.9,1701.1 L121.7,1701.1 L131.8,1700.7 L143.6,1703.4 L151.4,1708.1 L159.2,1700.3 L167.0,1697.2 L174.0,1698.0 L181.0,1692.5 L188.1,1698.7 L198.2,1695.6 L206.0,1694.1 L236.9,1691.9 L239.6,1688.7 L247.8,1697.3 L254.0,1696.2 L261.8,1697.7 L269.7,1695.8 L277.5,1693.0 L285.3,1690.3 L292.3,1688.3 L300.9,1688.0 L316.5,1686.8 L335.2,1685.6 L343.1,1685.6 L343.1,1690.3 L335.2,1690.3 L316.5,1692.6 L293.1,1693.4 L285.3,1695.8 L275.9,1699.7 L269.7,1702.8 L261.8,1707.5 L254.8,1703.6 L247.8,1706.7 L236.9,1693.4 L206.0,1705.8 L198.2,1709.7 L188.1,1711.2 L181.0,1708.1 L174.0,1715.1 L167.0,1712.0 L159.2,1711.2 L151.4,1717.5 L143.6,1714.4 L131.8,1705.8 L121.7,1705.8 L113.9,1705.8 L106.9,1709.7 L98.7,1708.1 L91.6,1727.2 Z" fill="#000" stroke="#000" stroke-width="1" stroke-linejoin="round"/>
<path d="M133.4,1708.9 L143.6,1711.2 L151.4,1713.6 L159.2,1707.7 L167.0,1705.8 L174.0,1705.4 L181.0,1702.6 L188.1,1705.0 L198.2,1703.4 L238.4,1692.6 L247.8,1702.8 L254.8,1702.0 L261.8,1704.4 L269.7,1701.2 L276.7,1696.5" fill="none" stroke="#fff" stroke-width="2.0" stroke-linejoin="round"/>
<path d="M91.6,1726.5 L98.7,1711.2 L106.9,1708.1 L113.9,1705.8 L121.7,1708.1 L131.8,1713.6 L139.7,1720.6 L147.5,1736.2 L155.3,1750.3 L163.1,1765.9 L173.2,1777.6 L186.5,1769.8 L198.2,1751.8 L209.9,1750.3 L225.0,1751.8 L226.7,1752.8 L240.8,1760.6 L254.0,1763.7 L277.5,1755.9 L285.3,1748.1 L293.1,1734.0 L300.9,1729.3 L312.6,1723.1 L324.3,1724.7 L336.0,1724.7 L343.1,1730.9 L343.1,1735.6 L332.1,1737.2 L324.3,1737.9 L312.6,1737.9 L300.9,1738.7 L293.1,1741.1 L285.3,1756.7 L277.5,1766.0 L269.7,1777.0 L261.8,1778.5 L254.0,1774.6 L247.8,1778.5 L240.8,1773.8 L232.2,1772.3 L224.4,1765.3 L225.0,1765.9 L217.7,1763.5 L209.9,1760.4 L198.2,1770.6 L186.5,1772.1 L173.2,1790.9 L163.1,1785.4 L151.4,1765.9 L141.2,1739.3 L131.8,1730.0 L121.7,1714.4 L113.9,1711.2 L106.9,1712.8 L98.7,1714.4 L91.6,1727.2 Z" fill="#20987a" stroke="#20987a" stroke-width="1" stroke-linejoin="round"/>
<path d="M91.6,1726.8 L98.7,1712.8 L106.9,1709.7 L113.9,1707.3 L121.7,1711.2 L131.8,1723.7 L141.2,1737.8 L151.4,1758.1 L163.1,1777.6 L173.2,1787.0 L182.6,1773.7 L194.3,1758.1 L202.1,1754.2 L209.9,1755.0 L225.0,1753.8 L215.0,1753.9 L224.4,1754.3 L232.2,1758.6 L240.8,1759.8 L254.0,1760.6 L269.7,1757.5 L281.4,1744.2 L293.1,1733.2 L300.9,1732.5 L312.6,1729.7 L320.4,1730.1 L328.2,1730.9 L335.2,1727.8 L343.1,1730.1" fill="none" stroke="#000" stroke-width="2.2" stroke-linejoin="round"/>
<path d="M100.6,1720.6 L112.3,1708.9 L120.9,1708.1 L131.5,1707.8 L145.6,1717.1 L158.1,1731.2 L166.2,1741.7 L173.2,1747.9 L182.6,1740.9 L188.1,1715.1 L195.9,1701.9 L208.4,1691.7 L225.0,1689.4 L224.4,1688.7 L234.5,1691.9 L241.8,1697.8 L247.1,1705.0 L254.3,1703.6 L261.9,1707.2 L268.5,1704.1 L277.5,1697.0 L284.2,1690.3 L295.0,1689.4 L299.3,1688.7 L308.7,1689.5 L320.4,1686.8 L328.2,1681.7 L335.2,1687.2 L343.1,1678.6 L343.1,1712.2 L335.2,1707.5 L328.2,1709.0 L316.5,1704.4 L308.7,1705.9 L300.9,1707.5 L293.1,1710.6 L276.7,1715.3 L269.7,1723.9 L261.8,1730.9 L254.8,1724.7 L247.8,1728.2 L234.5,1720.8 L224.4,1715.3 L225.0,1713.6 L209.9,1713.6 L202.1,1720.6 L195.9,1728.4 L188.1,1742.5 L182.6,1754.2 L173.2,1762.0 L163.1,1758.1 L151.4,1746.4 L139.7,1734.7 L128.7,1723.7 L120.9,1719.0 L104.5,1726.8 Z" fill="#f5813e" stroke="#f5813e" stroke-width="1" stroke-linejoin="round"/>
<path d="M104.5,1723.3 L112.3,1717.5 L120.9,1712.8 L128.7,1717.5 L139.7,1730.8 L151.4,1742.5 L163.1,1750.3 L173.2,1758.9 L182.6,1747.9 L188.1,1736.2 L195.9,1719.0 L202.1,1709.7 L209.9,1701.9 L225.0,1701.9 L224.4,1702.0 L232.2,1705.1 L240.0,1710.6 L247.0,1721.9 L254.8,1721.1 L261.8,1723.1 L269.7,1716.8 L276.7,1712.9 L283.7,1702.8 L292.3,1705.5 L299.3,1702.0 L308.7,1703.2 L320.4,1700.8 L328.2,1697.3 L335.2,1705.9 L343.1,1692.6" fill="none" stroke="#000" stroke-width="2.2" stroke-linejoin="round"/>
<path d="M91.6,1725.3 L98.7,1698.7 L106.9,1701.9 L113.9,1691.7 L121.7,1689.8 L128.7,1698.0 L135.8,1706.5 L141.2,1715.9 L147.5,1734.7 L155.3,1750.3 L163.1,1758.1 L173.2,1758.1 L182.6,1750.3 L194.3,1742.5 L209.9,1739.3 L225.0,1737.8 L233.0,1727.8 L240.0,1724.7 L247.8,1728.6 L255.6,1724.7 L261.8,1731.7 L269.7,1724.7 L276.7,1716.1 L285.3,1713.7 L293.1,1710.6 L300.9,1706.7 L312.6,1704.4 L324.3,1707.5 L335.2,1709.8 L343.1,1712.2 L343.1,1729.3 L335.2,1724.7 L324.3,1723.1 L312.6,1720.8 L300.9,1724.7 L293.1,1733.2 L285.3,1740.3 L276.7,1745.0 L268.1,1755.9 L261.8,1752.8 L252.5,1741.8 L240.8,1738.7 L234.5,1732.5 L225.0,1750.3 L202.1,1754.2 L186.5,1762.0 L174.8,1777.6 L167.0,1792.4 L159.2,1794.0 L143.6,1783.8 L139.7,1758.1 L135.8,1734.7 L128.7,1723.7 L121.7,1708.9 L113.9,1705.0 L106.9,1709.7 L98.7,1708.1 L91.6,1727.6 Z" fill="#1a8ce6" stroke="#1a8ce6" stroke-width="1" stroke-linejoin="round"/>
<path d="M91.6,1726.8 L98.7,1703.4 L106.9,1705.8 L113.9,1698.7 L121.7,1699.5 L131.8,1724.5 L139.7,1742.5 L147.5,1762.0 L155.3,1776.0 L163.1,1781.5 L173.2,1769.8 L181.0,1758.1 L194.3,1750.3 L209.9,1746.4 L225.0,1744.8 L252.5,1741.1 L261.8,1747.3 L269.7,1744.2 L276.7,1729.3 L285.3,1727.0 L293.1,1723.1 L299.3,1716.8 L312.6,1712.2 L320.4,1714.5 L328.2,1717.6 L335.2,1716.8 L343.1,1721.5" fill="none" stroke="#000" stroke-width="2.2" stroke-linejoin="round"/>
<path d="M91.6,1726.1 L99.4,1719.8 L106.9,1723.7 L114.3,1720.6 L120.9,1722.2 L128.7,1728.4 L135.8,1734.7 L143.6,1737.0 L155.3,1741.7 L163.1,1747.2 L173.2,1758.1 L186.5,1744.0 L194.3,1734.7 L200.6,1725.3 L209.9,1725.3 L225.0,1723.7 L224.4,1723.9 L234.5,1730.9 L240.8,1738.7 L254.0,1741.8 L261.8,1748.1 L269.7,1745.0 L277.5,1742.6 L285.3,1740.3 L293.1,1737.2 L300.9,1735.6 L308.7,1734.8 L316.5,1737.9 L328.2,1738.7 L336.0,1744.2 L343.1,1748.1 L343.1,1763.7 L336.0,1756.7 L328.2,1753.5 L320.4,1754.3 L312.6,1748.9 L300.9,1750.4 L293.1,1752.0 L285.3,1756.7 L277.5,1763.7 L269.7,1771.5 L261.8,1771.5 L254.0,1763.7 L247.8,1764.5 L234.5,1757.5 L224.4,1752.0 L225.0,1748.7 L209.9,1750.3 L202.1,1750.3 L195.9,1764.3 L188.1,1768.2 L181.0,1778.4 L173.2,1787.8 L165.4,1785.4 L157.6,1777.6 L149.8,1772.1 L142.8,1767.5 L135.8,1754.2 L128.7,1742.5 L120.9,1733.1 L114.3,1731.5 L106.9,1734.7 L99.4,1730.0 L91.6,1727.6 Z" fill="#ef4b4b" stroke="#ef4b4b" stroke-width="1" stroke-linejoin="round"/>
<path d="M91.6,1726.8 L99.4,1724.9 L106.9,1731.1 L114.3,1726.1 L120.9,1726.8 L128.7,1734.7 L135.8,1742.5 L142.8,1751.8 L149.8,1755.0 L157.6,1756.1 L165.4,1771.0 L173.2,1774.5 L181.0,1765.9 L188.1,1756.5 L195.9,1751.8 L202.1,1737.4 L209.9,1739.3 L217.7,1739.3 L225.0,1737.4 L224.4,1737.2 L232.2,1740.3 L240.0,1746.5 L247.0,1752.8 L254.0,1752.0 L261.8,1763.7 L269.7,1764.5 L276.7,1752.8 L283.7,1748.9 L292.3,1743.4 L299.3,1743.4 L308.7,1741.1 L313.4,1741.8 L320.4,1746.5 L328.2,1745.7 L335.2,1750.4 L343.1,1755.9" fill="none" stroke="#000" stroke-width="2.2" stroke-linejoin="round"/>
<text transform="translate(91.60,1862.50) scale(1.03,1)" font-size="20">DSS</text>
<text transform="translate(143.50,1862.50) scale(1.03,1)" font-size="20">H<tspan font-size="13" dy="7">2</tspan><tspan dy="-7">O</tspan></text>
<text transform="translate(191.90,1862.50) scale(1.03,1)" font-size="20">DSS</text>
<text transform="translate(248.30,1862.50) scale(1.03,1)" font-size="20">H<tspan font-size="13" dy="7">2</tspan><tspan dy="-7">O</tspan></text>
<text transform="translate(297.40,1862.50) scale(1.03,1)" font-size="20">DSS</text>
<polyline points="224.60,1566.20 240.50,1566.20 240.50,1678.60" fill="none" stroke="#000" stroke-width="2.2" stroke-linejoin="miter" />
<polyline points="220.40,1587.00 232.90,1587.00 232.90,1678.60" fill="none" stroke="#000" stroke-width="2.2" stroke-linejoin="miter" />
<polyline points="215.90,1607.80 225.40,1607.80 225.40,1678.60" fill="none" stroke="#000" stroke-width="2.2" stroke-linejoin="miter" />
<polyline points="211.60,1628.40 217.90,1628.40 217.90,1678.60" fill="none" stroke="#000" stroke-width="2.2" stroke-linejoin="miter" />
<polyline points="203.80,1649.20 210.30,1649.20 210.30,1678.60" fill="none" stroke="#000" stroke-width="2.2" stroke-linejoin="miter" />
<text transform="translate(219.60,1572.70) scale(1.03,1)" font-size="20" text-anchor="end">p=0.0426</text>
<text transform="translate(214.60,1593.40) scale(1.03,1)" font-size="20" text-anchor="end">p=0.0445</text>
<text transform="translate(209.80,1614.20) scale(1.03,1)" font-size="20" text-anchor="end">p=0.0454</text>
<text transform="translate(206.00,1634.80) scale(1.03,1)" font-size="20" text-anchor="end">p=0.0285</text>
<text transform="translate(201.00,1655.60) scale(1.03,1)" font-size="20" text-anchor="end">p=0.0287</text>
<polyline points="261.80,1678.60 261.80,1443.90 303.70,1443.90" fill="none" stroke="#000" stroke-width="2.2" stroke-linejoin="miter" />
<text transform="translate(309.20,1450.40) scale(1.03,1)" font-size="20">p=0.0169</text>
<polyline points="269.10,1678.60 269.10,1464.50 307.50,1464.50" fill="none" stroke="#000" stroke-width="2.2" stroke-linejoin="miter" />
<text transform="translate(313.30,1471.00) scale(1.03,1)" font-size="20">p=0.0032</text>
<polyline points="276.90,1678.60 276.90,1484.80 311.00,1484.80" fill="none" stroke="#000" stroke-width="2.2" stroke-linejoin="miter" />
<text transform="translate(317.50,1491.30) scale(1.03,1)" font-size="20">p=0.0142</text>
<polyline points="284.40,1678.60 284.40,1505.40 315.00,1505.40" fill="none" stroke="#000" stroke-width="2.2" stroke-linejoin="miter" />
<text transform="translate(321.30,1511.90) scale(1.03,1)" font-size="20">p=0.0040</text>
<polyline points="291.70,1678.60 291.70,1526.00 319.50,1526.00" fill="none" stroke="#000" stroke-width="2.2" stroke-linejoin="miter" />
<text transform="translate(325.80,1532.50) scale(1.03,1)" font-size="20">p=0.0299</text>
<polyline points="300.00,1678.60 300.00,1546.30 324.00,1546.30" fill="none" stroke="#000" stroke-width="2.2" stroke-linejoin="miter" />
<text transform="translate(330.10,1552.80) scale(1.03,1)" font-size="20">p=0.0113</text>
<polyline points="306.70,1678.60 306.70,1566.20 328.50,1566.20" fill="none" stroke="#000" stroke-width="2.2" stroke-linejoin="miter" />
<text transform="translate(334.60,1572.70) scale(1.03,1)" font-size="20">p=0.0265</text>
<polyline points="314.30,1678.60 314.30,1587.00 333.00,1587.00" fill="none" stroke="#000" stroke-width="2.2" stroke-linejoin="miter" />
<text transform="translate(338.90,1593.50) scale(1.03,1)" font-size="20">p=0.0172</text>
<polyline points="321.80,1678.60 321.80,1607.80 336.50,1607.80" fill="none" stroke="#000" stroke-width="2.2" stroke-linejoin="miter" />
<text transform="translate(342.60,1614.30) scale(1.03,1)" font-size="20">p=0.0042</text>
<polyline points="328.80,1678.60 328.80,1628.40 340.50,1628.40" fill="none" stroke="#000" stroke-width="2.2" stroke-linejoin="miter" />
<text transform="translate(346.40,1634.90) scale(1.03,1)" font-size="20">p=0.0021</text>
<polyline points="336.30,1678.60 336.30,1649.20 345.00,1649.20" fill="none" stroke="#000" stroke-width="2.2" stroke-linejoin="miter" />
<text transform="translate(351.40,1655.70) scale(1.03,1)" font-size="20">p=0.0089</text>
<circle cx="370.40" cy="1700.90" r="10.9" fill="#000" stroke="#000" stroke-width="2"/>
<text transform="translate(386.20,1706.00) scale(1.03,1)" font-size="20">Anti-IgG, Water</text>
<circle cx="370.40" cy="1725.90" r="10.9" fill="#ef4b4b" stroke="#000" stroke-width="2"/>
<text transform="translate(386.20,1731.00) scale(1.03,1)" font-size="20">Anti-IgG, DSS</text>
<circle cx="370.40" cy="1751.20" r="10.9" fill="#20987a" stroke="#000" stroke-width="2"/>
<text transform="translate(386.20,1756.30) scale(1.03,1)" font-size="20">Anti-TGF-β, DSS</text>
<circle cx="370.40" cy="1777.00" r="10.9" fill="#1a8ce6" stroke="#000" stroke-width="2"/>
<text transform="translate(386.20,1782.10) scale(1.03,1)" font-size="20">Anti-IL-1β, DSS</text>
<circle cx="370.40" cy="1802.70" r="10.9" fill="#f5813e" stroke="#000" stroke-width="2"/>
<text transform="translate(386.20,1807.80) scale(1.03,1)" font-size="20">Anti-TGF-β/IL-1β, DSS</text>
<text transform="translate(4.00,1924.70) scale(1.03,1)" font-size="20">IP mAb:</text>
<line x1="92.50" y1="1925.00" x2="92.50" y2="1916.00" stroke="#000" stroke-width="2.4" />
<path d="M86.9,1918.2 L92.5,1908.0 L98.1,1918.2 Z" fill="#000"/>
<line x1="113.90" y1="1925.00" x2="113.90" y2="1916.00" stroke="#000" stroke-width="2.4" />
<path d="M108.3,1918.2 L113.9,1908.0 L119.5,1918.2 Z" fill="#000"/>
<line x1="187.40" y1="1925.00" x2="187.40" y2="1916.00" stroke="#000" stroke-width="2.4" />
<path d="M181.8,1918.2 L187.4,1908.0 L193.0,1918.2 Z" fill="#000"/>
<line x1="208.20" y1="1925.00" x2="208.20" y2="1916.00" stroke="#000" stroke-width="2.4" />
<path d="M202.6,1918.2 L208.2,1908.0 L213.8,1918.2 Z" fill="#000"/>
<line x1="293.90" y1="1925.00" x2="293.90" y2="1916.00" stroke="#000" stroke-width="2.4" />
<path d="M288.3,1918.2 L293.9,1908.0 L299.5,1918.2 Z" fill="#000"/>
<line x1="314.70" y1="1925.00" x2="314.70" y2="1916.00" stroke="#000" stroke-width="2.4" />
<path d="M309.1,1918.2 L314.7,1908.0 L320.3,1918.2 Z" fill="#000"/>
<text transform="translate(219.60,1945.40) scale(1.03,1)" font-size="20.2" text-anchor="middle" font-weight="bold">Days of treatment</text>
<text transform="translate(30.50,1752.00) rotate(-90) scale(1.03,1)" font-size="20.6" text-anchor="middle" font-weight="bold">Percent of starting weight (%)</text>
<text transform="translate(634.00,1509.00) scale(0.96,1)" font-size="33.5" font-weight="bold">k</text>
<line x1="706.20" y1="1503.32" x2="706.20" y2="1754.00" stroke="#000" stroke-width="2.2" />
<line x1="700.20" y1="1752.90" x2="706.20" y2="1752.90" stroke="#000" stroke-width="2.2" />
<text transform="translate(695.40,1758.40) scale(1.03,1)" font-size="20" text-anchor="end">0</text>
<line x1="700.20" y1="1690.78" x2="706.20" y2="1690.78" stroke="#000" stroke-width="2.2" />
<text transform="translate(695.40,1696.28) scale(1.03,1)" font-size="20" text-anchor="end">2</text>
<line x1="700.20" y1="1628.66" x2="706.20" y2="1628.66" stroke="#000" stroke-width="2.2" />
<text transform="translate(695.40,1634.16) scale(1.03,1)" font-size="20" text-anchor="end">4</text>
<line x1="700.20" y1="1566.54" x2="706.20" y2="1566.54" stroke="#000" stroke-width="2.2" />
<text transform="translate(695.40,1572.04) scale(1.03,1)" font-size="20" text-anchor="end">6</text>
<line x1="700.20" y1="1504.42" x2="706.20" y2="1504.42" stroke="#000" stroke-width="2.2" />
<text transform="translate(695.40,1509.92) scale(1.03,1)" font-size="20" text-anchor="end">8</text>
<line x1="705.10" y1="1752.90" x2="888.10" y2="1752.90" stroke="#000" stroke-width="2.2" />
<rect x="719.10" y="1714.08" width="19.20" height="38.83" fill="#fd7bab" stroke="#000" stroke-width="2.2" />
<circle cx="722.10" cy="1690.78" r="6.0" fill="#000"/>
<circle cx="726.70" cy="1690.78" r="6.0" fill="#000"/>
<circle cx="730.70" cy="1690.78" r="6.0" fill="#000"/>
<circle cx="735.20" cy="1690.78" r="6.0" fill="#000"/>
<circle cx="722.10" cy="1721.84" r="6.0" fill="#000"/>
<circle cx="726.70" cy="1721.84" r="6.0" fill="#000"/>
<circle cx="730.70" cy="1721.84" r="6.0" fill="#000"/>
<circle cx="735.20" cy="1721.84" r="6.0" fill="#000"/>
<circle cx="728.70" cy="1752.90" r="6.0" fill="#000"/>
<line x1="728.70" y1="1704.45" x2="728.70" y2="1723.70" stroke="#000" stroke-width="2.2" />
<line x1="723.50" y1="1704.45" x2="733.90" y2="1704.45" stroke="#000" stroke-width="2.2" />
<line x1="723.50" y1="1723.70" x2="733.90" y2="1723.70" stroke="#000" stroke-width="2.2" />
<line x1="728.70" y1="1752.90" x2="728.70" y2="1758.90" stroke="#000" stroke-width="2.2" />
<rect x="753.10" y="1598.84" width="19.20" height="154.06" fill="#fd7bab" stroke="#000" stroke-width="2.2" />
<circle cx="762.70" cy="1535.48" r="6.0" fill="#000"/>
<circle cx="756.50" cy="1566.54" r="6.0" fill="#000"/>
<circle cx="768.90" cy="1566.54" r="6.0" fill="#000"/>
<circle cx="762.70" cy="1597.60" r="6.0" fill="#000"/>
<circle cx="756.50" cy="1628.66" r="6.0" fill="#000"/>
<circle cx="768.90" cy="1628.66" r="6.0" fill="#000"/>
<circle cx="762.70" cy="1659.72" r="6.0" fill="#000"/>
<line x1="762.70" y1="1581.14" x2="762.70" y2="1616.55" stroke="#000" stroke-width="2.2" />
<line x1="757.50" y1="1581.14" x2="767.90" y2="1581.14" stroke="#000" stroke-width="2.2" />
<line x1="757.50" y1="1616.55" x2="767.90" y2="1616.55" stroke="#000" stroke-width="2.2" />
<line x1="762.70" y1="1752.90" x2="762.70" y2="1758.90" stroke="#000" stroke-width="2.2" />
<rect x="787.00" y="1665.00" width="19.20" height="87.90" fill="#fd7bab" stroke="#000" stroke-width="2.2" />
<circle cx="796.60" cy="1566.54" r="6.0" fill="#000"/>
<circle cx="796.60" cy="1597.60" r="6.0" fill="#000"/>
<circle cx="792.60" cy="1659.72" r="6.0" fill="#000"/>
<circle cx="800.60" cy="1659.72" r="6.0" fill="#000"/>
<circle cx="789.80" cy="1721.84" r="6.0" fill="#000"/>
<circle cx="794.30" cy="1721.84" r="6.0" fill="#000"/>
<circle cx="798.90" cy="1721.84" r="6.0" fill="#000"/>
<circle cx="803.40" cy="1721.84" r="6.0" fill="#000"/>
<line x1="796.60" y1="1640.77" x2="796.60" y2="1689.23" stroke="#000" stroke-width="2.2" />
<line x1="791.40" y1="1640.77" x2="801.80" y2="1640.77" stroke="#000" stroke-width="2.2" />
<line x1="791.40" y1="1689.23" x2="801.80" y2="1689.23" stroke="#000" stroke-width="2.2" />
<line x1="796.60" y1="1752.90" x2="796.60" y2="1758.90" stroke="#000" stroke-width="2.2" />
<rect x="820.90" y="1665.00" width="19.20" height="87.90" fill="#fd7bab" stroke="#000" stroke-width="2.2" />
<circle cx="824.30" cy="1597.60" r="6.0" fill="#000"/>
<circle cx="836.70" cy="1597.60" r="6.0" fill="#000"/>
<circle cx="830.50" cy="1628.66" r="6.0" fill="#000"/>
<circle cx="824.30" cy="1690.78" r="6.0" fill="#000"/>
<circle cx="836.70" cy="1690.78" r="6.0" fill="#000"/>
<circle cx="824.30" cy="1721.84" r="6.0" fill="#000"/>
<circle cx="836.70" cy="1721.84" r="6.0" fill="#000"/>
<line x1="830.50" y1="1643.57" x2="830.50" y2="1686.43" stroke="#000" stroke-width="2.2" />
<line x1="825.30" y1="1643.57" x2="835.70" y2="1643.57" stroke="#000" stroke-width="2.2" />
<line x1="825.30" y1="1686.43" x2="835.70" y2="1686.43" stroke="#000" stroke-width="2.2" />
<line x1="830.50" y1="1752.90" x2="830.50" y2="1758.90" stroke="#000" stroke-width="2.2" />
<rect x="854.90" y="1634.25" width="19.20" height="118.65" fill="#fd7bab" stroke="#000" stroke-width="2.2" />
<circle cx="864.50" cy="1535.48" r="6.0" fill="#000"/>
<circle cx="858.30" cy="1566.54" r="6.0" fill="#000"/>
<circle cx="870.70" cy="1566.54" r="6.0" fill="#000"/>
<circle cx="864.50" cy="1628.66" r="6.0" fill="#000"/>
<circle cx="864.50" cy="1690.78" r="6.0" fill="#000"/>
<circle cx="858.30" cy="1721.84" r="6.0" fill="#000"/>
<circle cx="870.70" cy="1721.84" r="6.0" fill="#000"/>
<line x1="864.50" y1="1603.50" x2="864.50" y2="1665.00" stroke="#000" stroke-width="2.2" />
<line x1="859.30" y1="1603.50" x2="869.70" y2="1603.50" stroke="#000" stroke-width="2.2" />
<line x1="859.30" y1="1665.00" x2="869.70" y2="1665.00" stroke="#000" stroke-width="2.2" />
<line x1="864.50" y1="1752.90" x2="864.50" y2="1758.90" stroke="#000" stroke-width="2.2" />
<text transform="translate(736.00,1764.70) rotate(-90) scale(1.03,1)" font-size="20" text-anchor="end">Anti-IgG</text>
<text transform="translate(770.00,1764.70) rotate(-90) scale(1.03,1)" font-size="20" text-anchor="end">Anti-IgG</text>
<text transform="translate(803.90,1764.70) rotate(-90) scale(1.03,1)" font-size="20" text-anchor="end">Anti-TGF-β</text>
<text transform="translate(837.80,1764.70) rotate(-90) scale(1.03,1)" font-size="20" text-anchor="end">Anti-IL-1β</text>
<text transform="translate(871.80,1764.70) rotate(-90) scale(1.03,1)" font-size="20" text-anchor="end">Anti-TGF-β/IL-1β</text>
<polyline points="762.50,1524.00 762.50,1504.00 865.30,1504.00 865.30,1526.10" fill="none" stroke="#000" stroke-width="2.2" stroke-linejoin="miter" />
<polyline points="762.50,1510.20 832.50,1510.20 832.50,1578.00" fill="none" stroke="#000" stroke-width="2.2" stroke-linejoin="miter" />
<polyline points="762.50,1518.50 796.40,1518.50 796.40,1552.40" fill="none" stroke="#000" stroke-width="2.2" stroke-linejoin="miter" />
<text transform="translate(812.50,1501.00) scale(1.03,1)" font-size="20" text-anchor="middle">ns</text>
<line x1="751.00" y1="1926.40" x2="877.20" y2="1926.40" stroke="#000" stroke-width="2.2" />
<text transform="translate(813.10,1945.80) scale(1.03,1)" font-size="20" text-anchor="middle">DSS</text>
<text transform="translate(671.00,1629.60) rotate(-90) scale(1.03,1)" font-size="20.5" text-anchor="middle" font-weight="bold">Histological score (0-10)</text>
<text transform="translate(926.00,1509.00) scale(0.96,1)" font-size="33.5" font-weight="bold">l</text>
<line x1="985.30" y1="1502.50" x2="985.30" y2="1754.10" stroke="#000" stroke-width="2.2" />
<line x1="979.30" y1="1753.00" x2="985.30" y2="1753.00" stroke="#000" stroke-width="2.2" />
<text transform="translate(974.50,1758.50) scale(1.03,1)" font-size="20" text-anchor="end">0</text>
<line x1="979.30" y1="1703.12" x2="985.30" y2="1703.12" stroke="#000" stroke-width="2.2" />
<text transform="translate(974.50,1708.62) scale(1.03,1)" font-size="20" text-anchor="end">2</text>
<line x1="979.30" y1="1653.24" x2="985.30" y2="1653.24" stroke="#000" stroke-width="2.2" />
<text transform="translate(974.50,1658.74) scale(1.03,1)" font-size="20" text-anchor="end">4</text>
<line x1="979.30" y1="1603.36" x2="985.30" y2="1603.36" stroke="#000" stroke-width="2.2" />
<text transform="translate(974.50,1608.86) scale(1.03,1)" font-size="20" text-anchor="end">6</text>
<line x1="979.30" y1="1553.48" x2="985.30" y2="1553.48" stroke="#000" stroke-width="2.2" />
<text transform="translate(974.50,1558.98) scale(1.03,1)" font-size="20" text-anchor="end">8</text>
<line x1="979.30" y1="1503.60" x2="985.30" y2="1503.60" stroke="#000" stroke-width="2.2" />
<text transform="translate(974.50,1509.10) scale(1.03,1)" font-size="20" text-anchor="end">10</text>
<line x1="984.20" y1="1753.00" x2="1172.90" y2="1753.00" stroke="#000" stroke-width="2.2" />
<rect x="998.50" y="1549.49" width="19.80" height="203.51" fill="#fd7bab" stroke="#000" stroke-width="2.2" />
<circle cx="1008.40" cy="1528.29" r="5.5" fill="#000"/>
<circle cx="1008.40" cy="1539.01" r="5.5" fill="#000"/>
<circle cx="1002.20" cy="1548.24" r="5.5" fill="#000"/>
<circle cx="1014.60" cy="1551.73" r="5.5" fill="#000"/>
<circle cx="1008.40" cy="1550.99" r="5.5" fill="#000"/>
<circle cx="1016.40" cy="1552.23" r="5.5" fill="#000"/>
<circle cx="1002.20" cy="1555.97" r="5.5" fill="#000"/>
<circle cx="1002.20" cy="1561.46" r="5.5" fill="#000"/>
<line x1="1008.40" y1="1544.00" x2="1008.40" y2="1554.98" stroke="#000" stroke-width="2.2" />
<line x1="1003.20" y1="1544.00" x2="1013.60" y2="1544.00" stroke="#000" stroke-width="2.2" />
<line x1="1003.20" y1="1554.98" x2="1013.60" y2="1554.98" stroke="#000" stroke-width="2.2" />
<line x1="1008.40" y1="1753.00" x2="1008.40" y2="1759.00" stroke="#000" stroke-width="2.2" />
<rect x="1033.80" y="1596.63" width="19.80" height="156.37" fill="#fd7bab" stroke="#000" stroke-width="2.2" />
<circle cx="1046.50" cy="1577.92" r="5.5" fill="#000"/>
<circle cx="1052.20" cy="1577.92" r="5.5" fill="#000"/>
<circle cx="1041.20" cy="1586.40" r="5.5" fill="#000"/>
<circle cx="1048.10" cy="1589.14" r="5.5" fill="#000"/>
<circle cx="1043.70" cy="1602.86" r="5.5" fill="#000"/>
<circle cx="1046.70" cy="1616.08" r="5.5" fill="#000"/>
<circle cx="1041.20" cy="1620.82" r="5.5" fill="#000"/>
<line x1="1043.70" y1="1594.13" x2="1043.70" y2="1599.12" stroke="#000" stroke-width="2.2" />
<line x1="1038.50" y1="1594.13" x2="1048.90" y2="1594.13" stroke="#000" stroke-width="2.2" />
<line x1="1038.50" y1="1599.12" x2="1048.90" y2="1599.12" stroke="#000" stroke-width="2.2" />
<line x1="1043.70" y1="1753.00" x2="1043.70" y2="1759.00" stroke="#000" stroke-width="2.2" />
<rect x="1068.60" y="1591.89" width="19.80" height="161.11" fill="#fd7bab" stroke="#000" stroke-width="2.2" />
<circle cx="1071.90" cy="1561.21" r="5.5" fill="#000"/>
<circle cx="1085.70" cy="1565.70" r="5.5" fill="#000"/>
<circle cx="1071.90" cy="1575.93" r="5.5" fill="#000"/>
<circle cx="1085.70" cy="1577.92" r="5.5" fill="#000"/>
<circle cx="1078.50" cy="1603.36" r="5.5" fill="#000"/>
<circle cx="1085.70" cy="1620.82" r="5.5" fill="#000"/>
<circle cx="1071.90" cy="1628.55" r="5.5" fill="#000"/>
<line x1="1078.50" y1="1580.66" x2="1078.50" y2="1603.11" stroke="#000" stroke-width="2.2" />
<line x1="1073.30" y1="1580.66" x2="1083.70" y2="1580.66" stroke="#000" stroke-width="2.2" />
<line x1="1073.30" y1="1603.11" x2="1083.70" y2="1603.11" stroke="#000" stroke-width="2.2" />
<line x1="1078.50" y1="1753.00" x2="1078.50" y2="1759.00" stroke="#000" stroke-width="2.2" />
<rect x="1103.60" y="1584.16" width="19.80" height="168.84" fill="#fd7bab" stroke="#000" stroke-width="2.2" />
<circle cx="1111.00" cy="1559.96" r="5.5" fill="#000"/>
<circle cx="1117.20" cy="1562.71" r="5.5" fill="#000"/>
<circle cx="1106.80" cy="1573.18" r="5.5" fill="#000"/>
<circle cx="1113.80" cy="1577.92" r="5.5" fill="#000"/>
<circle cx="1113.80" cy="1597.37" r="5.5" fill="#000"/>
<circle cx="1106.90" cy="1603.36" r="5.5" fill="#000"/>
<circle cx="1120.80" cy="1603.36" r="5.5" fill="#000"/>
<line x1="1113.50" y1="1578.67" x2="1113.50" y2="1589.64" stroke="#000" stroke-width="2.2" />
<line x1="1108.30" y1="1578.67" x2="1118.70" y2="1578.67" stroke="#000" stroke-width="2.2" />
<line x1="1108.30" y1="1589.64" x2="1118.70" y2="1589.64" stroke="#000" stroke-width="2.2" />
<line x1="1113.50" y1="1753.00" x2="1113.50" y2="1759.00" stroke="#000" stroke-width="2.2" />
<rect x="1138.50" y="1586.40" width="19.80" height="166.60" fill="#fd7bab" stroke="#000" stroke-width="2.2" />
<circle cx="1142.20" cy="1557.97" r="5.5" fill="#000"/>
<circle cx="1148.40" cy="1565.45" r="5.5" fill="#000"/>
<circle cx="1155.30" cy="1565.95" r="5.5" fill="#000"/>
<circle cx="1148.40" cy="1603.36" r="5.5" fill="#000"/>
<circle cx="1148.40" cy="1613.34" r="5.5" fill="#000"/>
<circle cx="1148.40" cy="1625.81" r="5.5" fill="#000"/>
<line x1="1148.40" y1="1574.93" x2="1148.40" y2="1597.87" stroke="#000" stroke-width="2.2" />
<line x1="1143.20" y1="1574.93" x2="1153.60" y2="1574.93" stroke="#000" stroke-width="2.2" />
<line x1="1143.20" y1="1597.87" x2="1153.60" y2="1597.87" stroke="#000" stroke-width="2.2" />
<line x1="1148.40" y1="1753.00" x2="1148.40" y2="1759.00" stroke="#000" stroke-width="2.2" />
<text transform="translate(1015.70,1764.70) rotate(-90) scale(1.03,1)" font-size="20" text-anchor="end">Anti-IgG</text>
<text transform="translate(1051.00,1764.70) rotate(-90) scale(1.03,1)" font-size="20" text-anchor="end">Anti-IgG</text>
<text transform="translate(1085.80,1764.70) rotate(-90) scale(1.03,1)" font-size="20" text-anchor="end">Anti-TGF-β</text>
<text transform="translate(1120.80,1764.70) rotate(-90) scale(1.03,1)" font-size="20" text-anchor="end">Anti-IL-1β</text>
<text transform="translate(1155.70,1764.70) rotate(-90) scale(1.03,1)" font-size="20" text-anchor="end">Anti-TGF-β/IL-1β</text>
<polyline points="1043.30,1563.50 1043.30,1508.10 1143.60,1508.10 1143.60,1550.30" fill="none" stroke="#000" stroke-width="2.2" stroke-linejoin="miter" />
<polyline points="1043.30,1526.10 1109.70,1526.10 1109.70,1551.00" fill="none" stroke="#000" stroke-width="2.2" stroke-linejoin="miter" />
<polyline points="1043.30,1539.30 1075.70,1539.30 1075.70,1551.70" fill="none" stroke="#000" stroke-width="2.2" stroke-linejoin="miter" />
<text transform="translate(1093.90,1505.20) scale(1.03,1)" font-size="20" text-anchor="middle">ns</text>
<line x1="1032.40" y1="1926.40" x2="1158.60" y2="1926.40" stroke="#000" stroke-width="2.2" />
<text transform="translate(1094.90,1945.80) scale(1.03,1)" font-size="20" text-anchor="middle">DSS</text>
<text transform="translate(943.00,1629.50) rotate(-90) scale(1.03,1)" font-size="20.5" text-anchor="middle" font-weight="bold">Colon length (cm)</text>
</svg></body></html>
